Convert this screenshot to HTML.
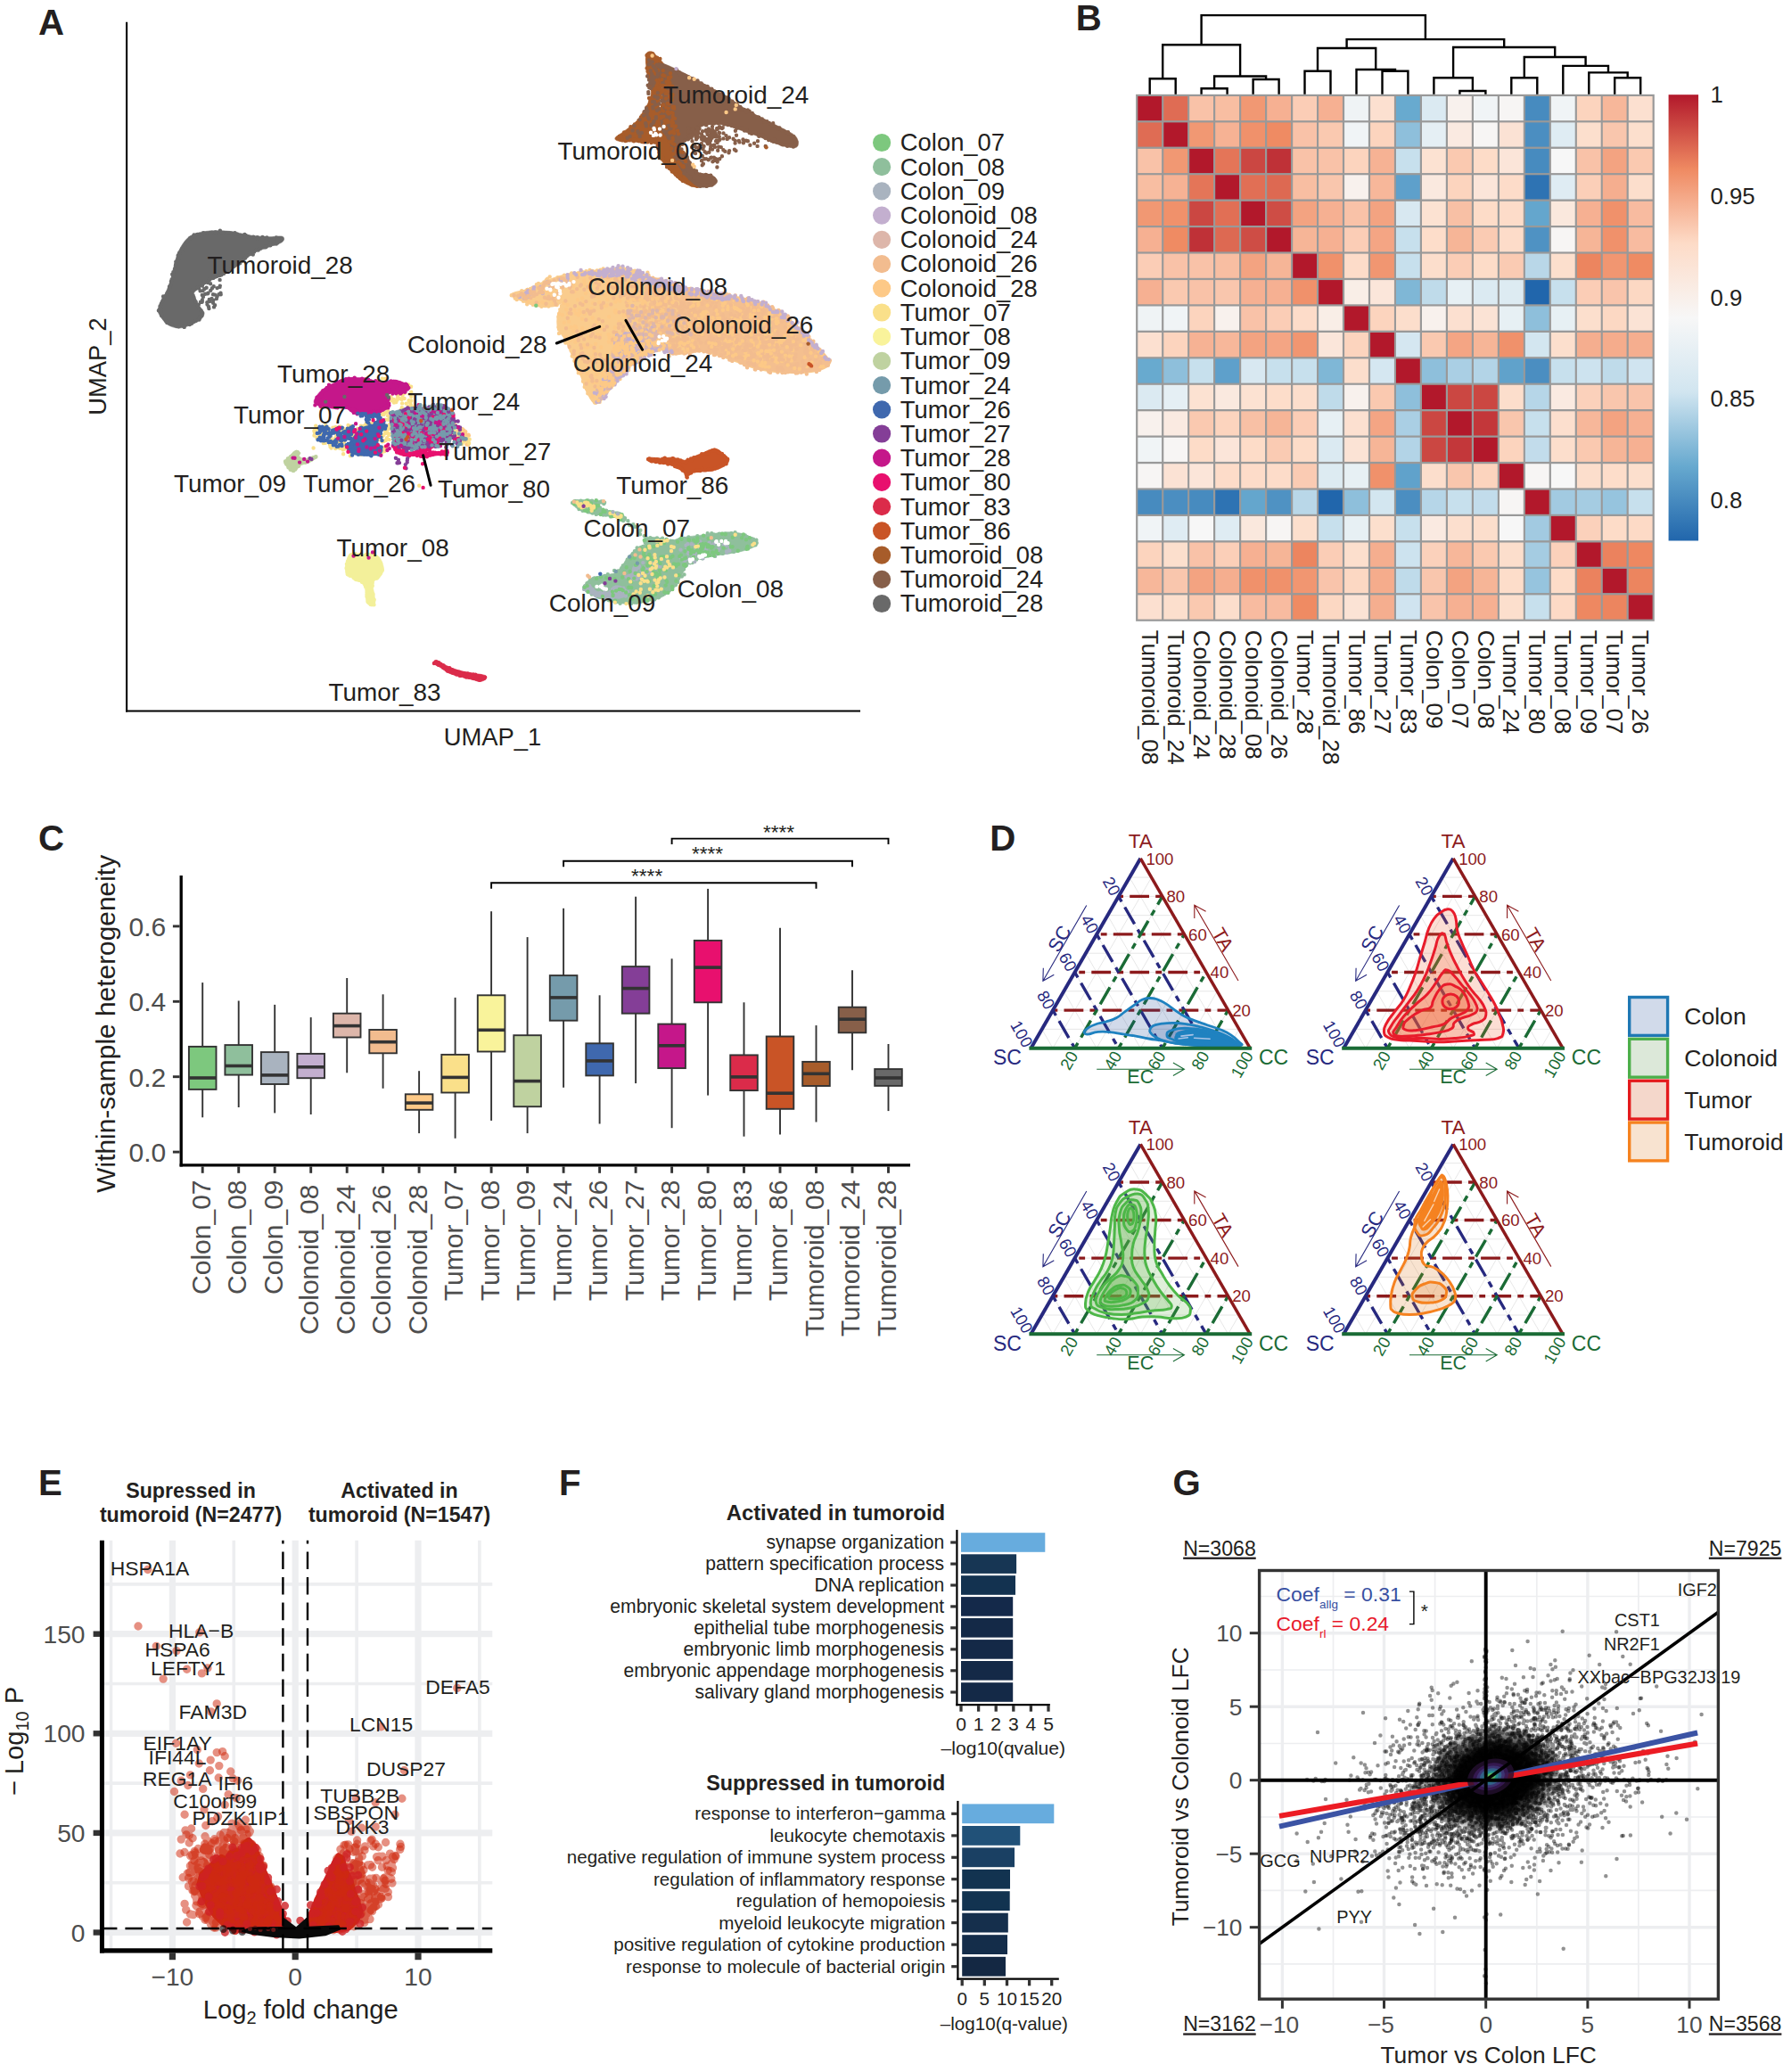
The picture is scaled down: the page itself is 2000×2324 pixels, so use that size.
<!DOCTYPE html>
<html lang="en"><head><meta charset="utf-8"><title>Figure</title>
<style>html,body{margin:0;padding:0;background:#fff}svg{display:block}text{font-family:"Liberation Sans",sans-serif}</style>
</head><body>
<svg width="2000" height="2324" viewBox="0 0 2000 2324">
<rect width="2000" height="2324" fill="#fff"/>
<g id="panelA">
<line x1="142.1" y1="24.7" x2="142.1" y2="798.5" stroke="#000" stroke-width="2.1"/>
<line x1="141" y1="797.5" x2="965" y2="797.5" stroke="#000" stroke-width="2.1"/>
<text x="552.5" y="836" font-size="27.4" text-anchor="middle" fill="#231F20">UMAP_1</text>
<text transform="translate(118.7 411) rotate(-90)" font-size="27.4" text-anchor="middle" fill="#231F20">UMAP_2</text>
<path d="M177.8 346.1C178.2 343.9 179 340.5 180.3 337.7C181.5 334.9 183.8 332.4 185.3 329.3C186.9 326.2 188.3 322.5 189.5 319.2C190.8 315.8 191.9 312.7 192.9 309.1C193.9 305.4 194.4 301.2 195.4 297.3C196.4 293.4 197.4 289.2 198.8 285.5C200.2 281.9 201.7 278.7 203.8 275.4C205.9 272.2 208.3 268.6 211.4 266.2C214.5 263.8 218 262.3 222.4 261.1C226.7 259.9 231.6 259.2 237.5 258.9C243.4 258.7 252.1 258.9 257.7 259.4C263.3 259.9 266.7 261.1 271.1 262C275.6 262.8 279.6 263.9 284.6 264.5C289.7 265.1 296.2 265.6 301.4 265.7C306.6 265.8 312.9 264.6 315.7 265C318.5 265.4 318.3 266.7 318.3 267.9C318.3 269 317.7 270.8 315.7 272.1C313.8 273.3 310 274.2 306.5 275.4C303 276.7 298.3 278.2 294.7 279.6C291.1 281 287.4 282.3 284.6 283.8C281.8 285.4 280.7 286.6 277.9 288.9C275.1 291.1 271.1 294.8 267.8 297.3C264.4 299.8 261 301.9 257.7 304C254.3 306.1 251 308.2 247.6 309.9C244.2 311.6 240.6 312.6 237.5 314.1C234.4 315.7 231.6 317.5 229.1 319.2C226.6 320.9 224.3 322.5 222.4 324.2C220.4 325.9 217.6 327 217.3 329.3C217 331.5 219.3 334.9 220.7 337.7C222.1 340.5 224.3 343.9 225.7 346.1C227.1 348.3 229.1 349.2 229.1 351.1C229.1 353.1 228.2 355.6 225.7 357.9C223.2 360.1 218.1 362.9 213.9 364.6C209.7 366.3 204.7 368 200.5 368C196.3 368 191.8 366.3 188.7 364.6C185.6 362.9 183.8 360.1 182 357.9C180.1 355.6 178.5 353.1 177.8 351.1C177.1 349.2 177.3 348.3 177.8 346.1Z" fill="#696969" stroke="#696969" stroke-width="0.6" stroke-linejoin="round"/><path d="M180.4 346.7h0M179.5 343.4h0M180.9 340.8h0M182.6 337.8h0M183.7 335.2h0M183.1 332.4h0M184.4 332.4h0M187.4 329.3h0M188.6 327.5h0M190.3 323.8h0M190 321.5h0M191.7 319.8h0M191.9 315.8h0M192.6 313.4h0M194.1 309.5h0M193.2 307.8h0M194.9 307.6h0M194.4 305.1h0M195.9 302h0M197 297.3h0M197.1 296.9h0M197.3 293.6h0M199.9 290.8h0M200.7 289.6h0M201.8 286.8h0M199.7 286.4h0M201.1 283.8h0M204.3 281.5h0M204.3 279.2h0M207.6 274.9h0M209.2 271.9h0M210.4 270.7h0M213.1 267.3h0M212.7 268.1h0M213.7 266.6h0M218 265.5h0M217.6 263.5h0M221.2 262.9h0M226 263.2h0M228.1 261.1h0M228.3 262.2h0M232.1 261.6h0M233.6 261.9h0M235.8 261h0M237.6 260.8h0M241.8 260.4h0M242.7 261.4h0M246.9 258.7h0M248.4 261h0M250 261.5h0M254.8 261.2h0M257.1 261.1h0M259.8 261.6h0M263.5 261.1h0M263.1 262.6h0M266.1 262.7h0M269.3 264.8h0M274.4 262.9h0M275.7 264h0M277.5 265.1h0M278.9 265.8h0M284.3 265.8h0M288.8 266.2h0M287.9 267h0M290.1 267.7h0M294.4 266h0M295.8 266.6h0M299.3 266.4h0M300.2 267.4h0M303 268.6h0M306.5 267.6h0M309.9 266.5h0M311.5 268.4h0M316.2 268h0M316.5 268.3h0M316.2 268.2h0M313.7 270.3h0M311.4 271.9h0M311.1 272.6h0M309.9 273.5h0M307.2 273.4h0M303.2 275.3h0M302.9 274.7h0M298 276.3h0M298.5 276.9h0M297.6 277.4h0M292.3 278.5h0M289.7 280.6h0M287.7 280.4h0M285.1 282.5h0M280.8 283.7h0M280.4 285h0M276.7 286.8h0M274.4 289.1h0M275 289.6h0M271.6 292.2h0M271.1 293h0M269.1 295.2h0M266.7 296.3h0M263.8 296.4h0M262.2 297.6h0M262.1 298.6h0M259.1 301.3h0M257.2 303.2h0M253 304.7h0M251.2 306.7h0M248.5 308.2h0M246.6 308.9h0M242.5 310h0M239.9 309.3h0M239.1 311.9h0M234.9 314.1h0M234.9 313.6h0M233 317h0M229 316.8h0M227.6 317.1h0M226.8 319.2h0M223.2 323.4h0M221.6 322.5h0M216 325.8h0M216.7 331.4h0M217.5 333.7h0M218.2 336.3h0M219.6 338.5h0M221.4 342.4h0M221.8 343h0M223.4 346.2h0M225.5 348.1h0M226.5 352h0M225.8 352.9h0M226.4 354.1h0M224.1 355.6h0M223.8 357.2h0M223.5 358.5h0M219.7 359.7h0M216.7 360.7h0M214.8 362.9h0M212.8 364h0M212.3 363.3h0M206.7 366.9h0M204.6 365.2h0M200.7 366.1h0M200.4 366.2h0M198.7 365.9h0M196.8 365.1h0M192.4 363.6h0M189 362h0M187.4 361.9h0M186.2 360h0M185.5 357.9h0M181.2 354h0M181.5 353.7h0M180.7 350h0M177.9 348.2h0M179.3 346.3h0" fill="none" stroke="#696969" stroke-width="4.4" stroke-linecap="round"/>
<path d="M229.6 316.9h0M243.6 332.6h0M237.5 334.9h0M239 330.2h0M241 330.6h0M234.7 336h0M226.8 338.4h0M225 338.8h0M247.7 330.3h0M230.2 329.8h0M239.1 339.7h0M237.2 335.5h0M226.5 338.9h0M227.9 332.9h0M226.9 336.5h0M239.4 336.6h0M227.5 331.1h0M232.7 329.4h0M246.6 313.9h0M232.5 341.6h0M247.5 328.8h0M226.9 320.5h0M246.8 320.6h0M236.1 318.2h0M234.4 346.1h0M222.9 341.6h0M234 343.9h0M239.7 321.3h0M245.4 330.1h0M233.5 328.8h0M227.9 318.1h0M229.1 324.2h0M241.1 342.2h0M240 344.4h0M227.5 326.1h0M236.3 325.7h0M231.6 322.8h0M243.6 323.1h0M246.5 321.9h0M226.8 330.9h0M224.6 326.2h0M242.9 335h0M235.2 338.1h0M232.3 339.2h0M238 323.2h0" fill="none" stroke="#696969" stroke-width="4.4" stroke-linecap="round"/>
<path d="M283.8 285.5h0" fill="none" stroke="#696969" stroke-width="4.4" stroke-linecap="round"/>
<path d="M724.9 60.3C726 57.5 729.6 57.5 731.6 58C733.7 58.6 734.8 60.8 737.2 63.7C739.7 66.5 745.5 70.8 746.2 74.9C747 79 742.5 83.5 741.7 88.3C741 93.2 742.1 98.8 741.7 104C741.3 109.3 738 115.6 739.5 119.7C741 123.8 746.6 125.7 750.7 128.7C754.8 131.7 760.4 134.3 764.2 137.7C767.9 141 772.8 145.9 773.1 148.9C773.5 151.9 769 153.4 766.4 155.6C763.8 157.9 758.9 159.4 757.4 162.4C755.9 165.4 755.9 169.5 757.4 173.6C758.9 177.7 763.4 183.1 766.4 187C769.4 191 772 194 775.4 197.1C778.7 200.3 784.9 203.9 786.6 206.1C788.3 208.3 787.3 209.7 785.5 210.1C783.6 210.6 779.3 210.2 775.4 208.8C771.4 207.4 766.4 205.1 761.9 201.6C757.4 198.2 752.2 192.5 748.4 188.2C744.7 183.9 741.7 180.3 739.5 175.8C737.2 171.3 738.7 164 735 161.2C731.2 158.5 723.8 159.9 717 159.4C710.3 159 699.1 159.1 694.6 158.3C690.1 157.5 689.4 156.3 690.1 154.5C690.9 152.8 695 151 699.1 147.8C703.2 144.6 710.5 140.1 714.8 135.4C719.1 130.8 722.3 125 724.9 119.7C727.5 114.5 730.1 109.3 730.5 104C730.9 98.8 728.1 93.2 727.1 88.3C726.2 83.5 725.3 79.5 724.9 74.9C724.5 70.2 723.8 63.1 724.9 60.3Z" fill="#A75C2A" stroke="#A75C2A" stroke-width="0.6" stroke-linejoin="round"/><path d="M726 61.6h0M730 60.8h0M732.4 60.5h0M733.2 63.4h0M735.1 64.2h0M737.1 64.6h0M740.4 65.9h0M740.7 70.6h0M741.2 72h0M743.5 75.3h0M743.8 75.9h0M742.5 78h0M743.1 80.9h0M741.7 85.7h0M740.8 86.3h0M740 89.9h0M741.6 91.6h0M740.2 95.9h0M740.8 97.5h0M740.9 100.3h0M740.8 102.4h0M739.7 106.7h0M738.3 106.6h0M738.7 110.3h0M737.6 113.9h0M738.6 113.8h0M737.4 118.7h0M738.7 122.5h0M742.5 124.3h0M743.4 125.2h0M745.5 126.8h0M746 129.3h0M751.9 130.5h0M752.6 134.1h0M755.8 134.3h0M757.2 134.6h0M758.3 134.8h0M762.2 138.1h0M763.3 139.2h0M766 141.8h0M767.5 143.6h0M769.8 147.9h0M770.8 151.4h0M771 149.4h0M767.7 149.1h0M766.7 152.9h0M763.4 156.1h0M761.6 157.2h0M758.6 156.2h0M756.3 161.4h0M755.7 164.8h0M755.1 167.6h0M755.8 169h0M754.5 173.2h0M756.7 174.7h0M758.7 176.2h0M760.5 180.3h0M761.5 181.8h0M762.7 184.2h0M764.6 185.3h0M765.5 188.3h0M768.5 193.4h0M770 194.6h0M771.7 195.7h0M773.3 198.3h0M774.4 196.6h0M778.1 201.3h0M777.2 202.8h0M782.7 206h0M782.3 206.5h0M785.2 205.1h0M783.8 207h0M782 208.7h0M779.2 207.8h0M776.2 207.5h0M775.4 207h0M773.6 203.3h0M771.4 204.8h0M768.1 202.2h0M765.7 202.8h0M763.4 198.9h0M763 200.3h0M759.9 197.6h0M758 195.8h0M757.9 195.6h0M753.9 192.4h0M751 188.9h0M748.5 185.2h0M748.1 187.2h0M747.3 183.3h0M746.8 182.8h0M742.2 178h0M743.9 177.5h0M742.3 174.3h0M740.1 174.4h0M739.9 172.7h0M739.4 171.1h0M738.4 166.6h0M737.6 164.3h0M737.6 163.8h0M734.1 159.6h0M730.4 158.8h0M730.5 160.1h0M726.3 159.4h0M722 159.3h0M720 159h0M716.9 158.2h0M715.3 157.7h0M711 158.2h0M711.8 156.8h0M710.3 157.5h0M705.9 157h0M702.4 157.8h0M701.6 158h0M698.1 157.4h0M695.7 156.5h0M697.6 156h0M694.2 154.8h0M693 154.6h0M696 154h0M694.8 153h0M700 150h0M700.1 148.4h0M702.4 148.7h0M706.9 144.9h0M709.1 143.7h0M707.4 142.1h0M710.9 141.3h0M712 139.5h0M714.6 137.7h0M716.5 135h0M718.9 131.5h0M719 131.5h0M720.4 129.5h0M722.4 126.4h0M725.5 124.4h0M725.7 121.1h0M725.5 120.4h0M729.3 115.1h0M729.3 112.7h0M728.1 110h0M731.8 108.7h0M732.8 105.1h0M732.7 103.2h0M731.6 99.9h0M731.3 96.9h0M729.6 95.1h0M730.1 93.6h0M728.1 86.5h0M728.8 87.2h0M727.6 83.3h0M726.5 79.9h0M729.2 79.2h0M725.6 76.5h0M727.7 74.2h0M726.7 70.7h0M726.6 69.3h0M726.6 66.8h0M725.5 62.1h0M726.8 62h0" fill="none" stroke="#A75C2A" stroke-width="4.4" stroke-linecap="round"/>
<path d="M737.2 71.5C738.4 69.6 742.5 71.1 746.2 72.2C749.9 73.3 754.8 75.9 759.7 78.2C764.5 80.6 769.4 82.9 775.4 86.1C781.3 89.3 788.8 93.6 795.6 97.3C802.3 101 809 104.4 815.7 108.5C822.5 112.6 828.8 117.7 835.9 122C843 126.3 851.3 130.6 858.4 134.3C865.5 138.1 873 141.4 878.6 144.4C884.2 147.4 889.2 149.5 892 152.3C894.8 155.1 895.6 159 895.4 161.2C895.2 163.5 894.5 165.5 890.9 165.7C887.4 165.9 880.6 164.4 874.1 162.4C867.5 160.3 859.1 156.2 851.6 153.4C844.2 150.6 835.9 147.8 829.2 145.5C822.5 143.3 816.5 140.9 811.3 139.9C806 138.9 801.9 139.1 797.8 139.5C793.7 139.9 789.4 140.6 786.6 142.2C783.8 143.7 782.8 146.7 781 148.9C779.1 151.1 777.4 153.9 775.4 155.6C773.3 157.3 770.7 157.5 768.6 159C766.6 160.5 762.8 162.2 763 164.6C763.2 167 767.5 170.2 769.8 173.6C772 176.9 774.1 181.4 776.5 184.8C778.9 188.2 780.8 191.9 784.3 193.8C787.9 195.6 794.4 194.5 797.8 196C801.2 197.5 804.2 200.7 804.5 202.7C804.9 204.8 803.2 207.2 800 208.4C796.9 209.5 789.6 210.7 785.5 209.9C781.3 209.2 778.7 206.7 775.4 203.9C772 201 768.3 196.9 765.3 192.6C762.3 188.3 759.5 182.7 757.4 178.1C755.4 173.4 754.2 168.3 752.9 164.6C751.6 160.9 751.3 158.6 749.6 155.6C747.9 152.6 744.3 151.1 742.8 146.7C741.3 142.2 740.7 133.9 740.6 128.7C740.5 123.5 741.8 120.5 742.2 115.2C742.5 110 743.3 102.5 742.8 97.3C742.4 92.1 740.4 88.1 739.5 83.8C738.5 79.5 736.1 73.4 737.2 71.5Z" fill="#875F49" stroke="#875F49" stroke-width="0.6" stroke-linejoin="round"/><path d="M736.9 72.6h0M742 73.3h0M743.7 73.6h0M745.3 74h0M748.7 76.2h0M751.6 77.5h0M754.6 78.7h0M755.2 78.3h0M759.2 78.4h0M759.8 80.3h0M761.9 81.3h0M763 83.4h0M767.3 85.8h0M767.1 84.1h0M772 86.2h0M770.5 85.9h0M775.2 88.8h0M777 88.3h0M779.2 90.9h0M782.5 90.4h0M786.7 93.5h0M786.1 95h0M789.1 96h0M791.5 96.8h0M793.6 96.9h0M796.2 100.7h0M798.2 99.6h0M798.4 99.9h0M802.1 102.7h0M804.4 105.5h0M808.1 105.5h0M809.9 107.9h0M811.6 107.7h0M815.1 109.5h0M816 109.5h0M817.5 110.8h0M819.7 114.2h0M821.4 113.8h0M824.5 116.6h0M825.7 117.3h0M826.6 117h0M830.3 120h0M831.1 122.7h0M834.9 123h0M838.8 123.5h0M837.7 125.2h0M840.6 124.7h0M843.8 126.9h0M845 129h0M848.2 131.3h0M850.2 131.5h0M851.3 131.7h0M854.8 133.5h0M857.1 135.5h0M857.2 136.9h0M860.3 136.3h0M862.8 138h0M866.2 140.2h0M867.2 138.2h0M867.9 141.5h0M873.3 144.4h0M874.4 143.5h0M877.6 146.4h0M878.9 146.8h0M882.7 148.7h0M884 148.3h0M884.6 150.8h0M890.2 153.2h0M889.2 153.1h0M890.6 155.6h0M892.6 159.4h0M893.3 159h0M892.3 162.1h0M892.3 161.6h0M889.9 164.5h0M886.6 163h0M885.8 162.5h0M883.1 163.8h0M879.9 162.1h0M878.2 162.4h0M876.2 161.6h0M872.5 159.5h0M871 159.5h0M868.4 156.8h0M867.4 158.8h0M865.7 157.9h0M862.2 157.1h0M858.5 154.8h0M858.7 155h0M855.7 151.4h0M852.3 151.7h0M851.3 152.7h0M847.7 148.9h0M844.6 148.2h0M843.1 149.9h0M840.7 148.9h0M837.5 146.3h0M835.1 146.5h0M832.9 143.6h0M831 143.4h0M826.4 143.7h0M826.6 142.9h0M823.5 141.3h0M820.8 141h0M816.4 140h0M813.9 139.1h0M812.2 139.6h0M810.3 137.8h0M805.8 138.3h0M805.1 138.1h0M801 138.5h0M799.5 138.4h0M796.3 137.9h0M794.3 137.9h0M792.2 140.4h0M786.1 139.7h0M784.6 144.5h0M781.8 142.9h0M779.3 147.5h0M779.8 150.2h0M777.5 150.3h0M775.2 154h0M775.5 154.3h0M771.8 156.3h0M768 157.4h0M764.9 160.5h0M765.4 161.8h0M762.1 162.8h0M763 167.4h0M764.5 167.5h0M765.8 170.9h0M767.2 172.1h0M769.7 174h0M770.8 176.3h0M771.2 179.1h0M773.7 182.5h0M773.3 184.7h0M776.9 186.2h0M777.7 189.2h0M781 191.8h0M780.4 193h0M785.6 195.6h0M788 196.5h0M791.7 196h0M793.6 196.9h0M796.4 197.4h0M797.2 196.8h0M800.6 200.1h0M802.3 202.7h0M801.1 203.2h0M798.4 207.6h0M798.7 206.2h0M795.4 207.5h0M792.6 208.9h0M790.9 207.5h0M790.1 207.6h0M785.4 208.8h0M784.6 207.4h0M783.1 206.1h0M778.8 204h0M778.6 203.5h0M774.1 200.2h0M774.6 198.8h0M771.3 196.9h0M770.3 195.5h0M767.4 194.4h0M768.1 193.4h0M766.8 189.3h0M765.6 187.2h0M763.4 186.3h0M761.9 184.3h0M761 180.4h0M759.9 178.4h0M756.6 174.5h0M758.6 173.7h0M758.9 169.6h0M755.6 168.4h0M755 165.5h0M755.8 164h0M753.6 160.6h0M751.4 155.5h0M749.8 154.4h0M750.3 152.4h0M747.2 147.5h0M744.8 146.7h0M745 145h0M743.9 141.3h0M743 140h0M743 139.8h0M743.8 135h0M742.2 134.3h0M742.3 129.5h0M741.7 127.7h0M742.1 124.9h0M744.5 120.9h0M743.3 119.6h0M743.4 114h0M742.1 113h0M743.5 110.2h0M744.7 108.6h0M742.8 104.8h0M744.3 103h0M743.4 102.3h0M744.7 97.7h0M744.6 93.1h0M743.2 94.3h0M741.9 87.6h0M743.2 88.4h0M741.7 85.3h0M740.8 82.4h0M739.8 79.5h0M740.1 76.5h0M740.9 75.8h0M739.1 72.9h0" fill="none" stroke="#875F49" stroke-width="4.4" stroke-linecap="round"/>
<path d="M767.4 178.1h0M754.8 130.5h0M743.7 95.9h0M756.2 121.8h0M749.8 87.2h0M758.5 166.7h0M748.8 135.5h0M737.9 78.8h0M753.6 141h0M763 170.4h0M738.5 98.3h0M743.3 84.6h0M769.1 181h0M750.6 88.9h0M756.2 149.6h0M750.5 127.2h0M738.5 104.7h0M761.1 150.3h0M747.3 143.9h0M748.1 104.9h0M741.4 131h0M742.9 102.7h0M743.8 79.1h0M752.3 86.2h0M753.3 148.2h0M742 100.7h0M751.1 93h0M748.5 94.4h0M753.8 112h0M744.3 130.6h0M746.9 104.9h0M744 117.4h0M748.7 91.2h0M744.6 141.5h0M741.9 95.9h0M743.8 84.1h0M753.9 106.8h0M761 169.5h0M751 159.1h0M746.2 96.6h0M742.7 118.2h0M754.7 126.9h0M761.3 170.1h0M766.6 186.2h0M753.9 134.8h0M755.1 137.6h0M744.8 96.1h0M740.7 104.1h0M757.4 142.1h0M754.8 156.8h0M741.4 132.4h0M754.1 107.5h0M741.3 122.2h0M756.5 162h0M754.9 121h0M748.6 102.9h0M748.5 125.7h0M751.4 148.7h0M749.5 136.8h0M739.6 125.4h0M763.4 184.2h0M758.5 169.3h0M767 178.1h0M746.4 138.1h0M745.7 135.6h0M746.9 110.5h0M754.5 106.2h0M752.9 137.1h0M742.2 89.3h0M741.7 109.1h0M750.9 108.5h0M745.4 85.1h0M755.6 172.8h0M757.8 141.4h0M755.7 146.4h0M753 111.1h0M745.4 100.7h0M754.5 119.6h0M745.3 139.8h0M753.8 108.1h0M752 82.1h0M750.3 126.2h0M748.6 116h0M760 146.8h0M765.8 170.7h0M754.7 161.1h0M762.2 163.5h0M753.2 166.4h0M761.1 181.6h0M756.9 132.9h0M750 127.6h0M752.6 159.2h0M747.1 120.4h0M755.9 119.7h0M752.2 96.4h0M747.5 91.8h0M756.6 142.7h0M765.4 186.7h0M744.1 124.6h0M754.6 154.8h0M750.3 116.6h0M749.8 121.6h0M756.1 141.8h0M766.8 187.4h0M753.6 126.2h0M748.8 136.7h0M760.4 170.6h0M751.4 93.1h0M747 134.6h0M754.2 96.8h0" fill="none" stroke="#A75C2A" stroke-width="4.4" stroke-linecap="round"/>
<path d="M739.2 122.2h0M730.9 91.9h0M711.4 141.1h0M722.8 125.1h0M739.4 116.5h0M732.3 120h0M731.7 69.4h0M735.6 117.2h0M735.1 117.2h0M737.8 104.1h0M733.6 92.6h0M737.9 109.2h0M737.4 86h0M734.4 108.2h0M731.1 86h0M706.6 153h0M732.4 96h0M727.6 72.2h0M732.9 137.7h0M728.3 98.3h0M737.8 82.8h0M737.5 110.1h0M709.6 146.4h0M730.3 99h0M733.5 93.2h0M728 89.6h0M715.4 147.3h0M733.9 75.8h0M726.5 124.7h0M725.7 128h0M735.9 131.2h0M727.9 67.4h0M722.1 129.6h0M726.7 95.8h0M730.4 90h0M731.1 83h0M736 132.6h0M732.6 89.5h0M716.2 149.2h0M727 131.6h0M732.6 121.4h0M727.3 103.1h0M719.8 149h0M731.6 87.7h0M726.2 85.5h0M717.1 149.7h0M734.8 76.7h0M732 114.1h0M729.8 79.2h0M717.7 134.1h0M732.7 74.2h0M727.4 104.9h0M729.4 71.4h0M725.1 121.4h0M736.9 123.7h0M730.4 140.9h0M724.9 141.4h0M736.5 79.1h0M730.8 140h0M729.1 93.7h0M732.7 85.7h0M724.5 139.1h0M737.2 109.1h0M733.6 136h0M717.7 153h0M724.1 138.3h0M733.9 87h0M734 114.3h0M727.9 133.3h0M703.7 154.8h0" fill="none" stroke="#875F49" stroke-width="4.4" stroke-linecap="round"/>
<path d="M846.1 160.8h0M787 180.2h0M780.3 153h0M826 151.8h0M800.9 176.8h0M838.9 158.3h0M807.2 178.3h0M779.1 171.5h0M783.9 168.8h0M797.1 150.8h0M824.9 146.8h0M822.6 155.7h0M833.9 160.3h0M787.7 185.2h0M776.5 158.3h0M788.2 166.4h0M808.8 165.1h0M788.9 183.7h0M803.4 152h0M806.1 164.7h0M824.6 160.6h0M824.7 157.9h0M777.1 164.2h0M787.8 174.9h0M798.6 154.8h0M818 154.3h0M823.9 167.7h0M778.3 169.3h0M829.5 159.4h0M799.4 181.2h0M833.5 156.4h0M805.2 168.8h0M810 144.1h0M804.1 157.4h0M806.7 153.3h0M795.4 158.7h0M849.6 163.9h0M813.3 169.8h0M801.1 149.6h0M781 156.3h0M801.7 177.7h0M804.4 187.5h0M790.6 170.3h0M841.4 162.7h0M798.9 154h0M798.2 176.6h0M794 161.2h0M792.4 171.5h0M792.1 178.1h0M850 158.3h0M787 150.5h0M793.5 157.5h0M809.9 175.3h0M804.2 143.9h0M810.7 143.3h0M828.8 157.9h0M817.5 171.2h0M797.3 164.4h0M780.1 172h0M837.1 157.7h0M783.3 148.9h0M787.5 179.8h0M811.4 168.2h0M825.5 169.1h0M803.6 178.5h0M797.3 177h0M801.7 180h0M858.7 163.9h0M799.1 167.5h0M776.1 165.1h0M794.8 179.2h0M818.1 169.1h0M806.5 148.6h0M790.5 178.3h0M804.7 181.5h0" fill="none" stroke="#875F49" stroke-width="4.4" stroke-linecap="round"/>
<path d="M793.6 150.8h0M807.1 142.1h0M802.7 153.4h0M798.7 153.7h0M801.8 147.5h0M783.3 148.8h0M792.3 147.7h0M780.9 165.5h0M802.6 150h0M799 145.2h0M784.1 165.2h0M811.5 149.4h0M787.2 156.3h0M804.6 160h0M793.2 159.4h0M814.5 152.1h0M772.1 143.7h0M807.2 143.2h0M779.2 162.9h0M775.3 151.4h0M772.5 147.8h0M782.3 154.4h0M794.9 144.5h0M792 146h0M804.7 144.9h0M807.3 156.8h0M776.4 151.8h0M795.4 170.8h0M788.1 147.2h0M807 149.1h0M779.6 148.8h0M796 153.7h0M798.4 152.1h0M803.1 158.2h0M798 163.2h0M806.3 153.4h0M786.6 154h0M789.9 153.7h0M801 152.6h0M782.8 146.6h0M786.9 161.7h0M798 150.5h0M796.1 159.9h0M802 164.9h0M789.6 163.9h0M790.3 157.6h0M801.1 162.7h0M786.8 161.1h0M797.7 147.4h0M801.1 148.8h0M815.7 155.9h0M806.5 157.5h0M794.4 147.4h0M797 157.6h0M796.9 167.3h0M782.7 145.7h0M811.4 155.4h0M773 152.8h0M777 145.1h0M783.3 143.4h0M788.5 167h0M796.6 155.2h0M775.2 153.2h0M793.1 156h0M778.3 162.8h0M789 157.4h0M782.6 152.4h0M787.7 152.8h0M799 141.9h0M779.7 164.1h0" fill="none" stroke="#875F49" stroke-width="4.4" stroke-linecap="round"/>
<path d="M733.5 143.9h0M732.9 151.9h0M730 148.8h0M744.6 142h0M736.3 151.2h0M740 144.6h0M735.3 150h0M733.9 145.2h0M740.6 151.5h0" fill="none" stroke="#fff" stroke-width="4.4" stroke-linecap="round"/>
<path d="M731.6 62.5h0M778.7 88.8h0M773.1 87.2h0M814.6 126h0M825.8 117.9h0M824.7 122.4h0M754.1 179.9h0M778.7 187h0M777.2 184.8h0" fill="none" stroke="#FDC987" stroke-width="4.4" stroke-linecap="round"/>
<path d="M758.5 77.1h0" fill="none" stroke="#C3AFCF" stroke-width="4.4" stroke-linecap="round"/>
<path d="M859.5 165.3h0" fill="none" stroke="#A75C2A" stroke-width="4.4" stroke-linecap="round"/>
<path d="M574.2 330.2C575.1 328.2 584.9 327.7 591.7 325.2C598.5 322.7 607.2 317.9 615 315C622.8 312.1 630.5 309.4 638.3 307.7C646.1 306 654.8 305.5 661.7 304.8C668.5 304.1 673.3 304 679.2 303.3C685 302.7 690.8 300.8 696.6 301C702.5 301.2 708.3 302.9 714.1 304.8C720 306.6 723.9 309.4 731.6 312.1C739.4 314.8 751.1 318.2 760.8 320.8C770.5 323.5 780.3 326.2 790 328.1C799.7 330.1 809.4 330.8 819.1 332.5C828.9 334.2 840.5 336.1 848.3 338.3C856.1 340.5 860 342.5 865.8 345.6C871.6 348.8 877.5 352.7 883.3 357.3C889.1 361.9 895 367.7 900.8 373.3C906.6 378.9 913.4 385.5 918.3 390.8C923.2 396.2 929 401.8 930 405.4C930.9 409.1 928 410.8 924.1 412.7C920.2 414.6 914.4 416.3 906.6 417.1C898.9 417.8 887.2 417.8 877.5 417.1C867.7 416.3 858 415.1 848.3 412.7C838.6 410.3 828.9 405.7 819.1 402.5C809.4 399.3 797.8 395 790 393.7C782.2 392.5 778.3 394.7 772.5 395.2C766.6 395.7 759.8 397.4 755 396.7C750.1 395.9 747.2 391.1 743.3 390.8C739.4 390.6 735.5 393.7 731.6 395.2C727.8 396.7 723.9 397.4 720 399.6C716.1 401.8 712.2 404.9 708.3 408.3C704.4 411.7 700.5 415.6 696.6 420C692.8 424.4 688.4 430.2 685 434.6C681.6 438.9 679.2 443.3 676.2 446.2C673.3 449.2 670.4 453.3 667.5 452.1C664.6 450.9 661.2 443.8 658.7 438.9C656.3 434.1 655.3 429 652.9 422.9C650.5 416.8 647.1 409.3 644.2 402.5C641.2 395.7 638.3 387.9 635.4 382.1C632.5 376.2 628.1 372.4 626.7 367.5C625.2 362.6 625.7 357.8 626.7 352.9C627.6 348.1 633.5 340 632.5 338.3C631.5 336.6 625.7 342 620.8 342.7C616 343.4 609.2 343.7 603.3 342.7C597.5 341.7 590.7 339 585.8 336.9C581 334.8 573.2 332.1 574.2 330.2Z" fill="#FACC8D" stroke="#FACC8D" stroke-width="3" stroke-linejoin="round"/>
<path d="M731.6 312.7C738.5 309.8 751.1 318.7 760.8 321.4C770.5 324.1 780.3 326.8 790 328.7C799.7 330.6 809.4 331.4 819.1 333.1C828.9 334.8 840.5 336.7 848.3 338.9C856.1 341.1 860 343 865.8 346.2C871.6 349.4 877.5 353.3 883.3 357.9C889.1 362.5 895 368.3 900.8 373.9C906.6 379.5 913.5 386.2 918.3 391.4C923.1 396.7 928.5 402 929.4 405.4C930.3 408.9 927.3 410.3 923.6 412.1C919.8 414 914.3 415.8 906.6 416.5C899 417.2 887.2 417.2 877.5 416.5C867.7 415.8 858 414.5 848.3 412.1C838.6 409.7 828.9 405.1 819.1 401.9C809.4 398.7 797.8 394.4 790 393.2C782.2 391.9 777.8 394.1 772.5 394.6C767.1 395.1 762.3 397.7 757.9 396.1C753.5 394.5 750.6 389.8 746.2 385C741.9 380.2 736 375.3 731.6 367.5C727.3 359.7 720 347.5 720 338.3C720 329.2 724.8 315.5 731.6 312.7Z" fill="#F4BF8F" stroke="#F4BF8F" stroke-width="2" stroke-linejoin="round"/>
<path d="M573.7 331.2h0M581.2 332.3h0M580.5 329.5h0M586.1 328.5h0M585.2 326.3h0M591.4 324.9h0M591.6 324.9h0M595 324h0M597.5 322.6h0M601.8 319.2h0M603.6 320.1h0M604 317.9h0M610 318.2h0M610.3 316.5h0M612.7 314.1h0M614.1 312.8h0M621 314.6h0M616.7 310.4h0M625.5 311.3h0M626.1 311.5h0M630.3 311.3h0M631.3 312.9h0M633 308.8h0M634.8 311.3h0M641.1 306.5h0M643.2 307.9h0M642.8 307.3h0M645.8 308.6h0M650.9 305.4h0M650.7 307.8h0M653.7 305.1h0M657.5 304.2h0M661.6 303h0M664.5 304h0M668.6 304.9h0M672.2 305.1h0M669.8 303.5h0M673.5 302.6h0M676.7 301.5h0M680.7 306h0M683.4 302.4h0M687.4 304h0M688.8 302.9h0M693.5 300.4h0M696.4 302.1h0M697.4 300h0M699.1 301.1h0M706 305.3h0M706.8 302.4h0M712.1 303.8h0M709.8 305.6h0M714.1 304.8h0M717.6 304.7h0M723 309.4h0M726.4 305.7h0M725.3 309.7h0M727.5 308.6h0M728.6 393.9h0M728.6 396.6h0M722.9 396.2h0M721.6 399.5h0M719.8 400.6h0M718.2 402.7h0M713.8 403.1h0M713.4 405.5h0M704.3 408.8h0M707 408.5h0M705.3 412.4h0M702.3 413.3h0M705.2 415.1h0M703.1 416.1h0M697.6 417.4h0M695.7 421h0M695.4 424h0M695.5 425.1h0M689.9 428h0M687.9 430.1h0M685.6 428.9h0M685.2 432.7h0M685.8 434.3h0M682.4 436.7h0M679.2 440.2h0M678.2 441.5h0M677.8 443.6h0M673.4 448.2h0M672.6 450.9h0M669.5 450.3h0M667.2 451.6h0M668.2 451.5h0M666.1 446.3h0M663.6 445.9h0M665.6 444.9h0M662.7 443.6h0M659.3 441.3h0M655.7 433.9h0M657.7 435.8h0M659.3 434h0M656.2 431.5h0M654 427.8h0M655.7 421.3h0M654 421.4h0M648.8 418.2h0M650.2 415.7h0M648.4 414.8h0M650.6 411.8h0M648.7 407.7h0M647.4 407.9h0M644.4 404.8h0M641.7 399.6h0M642.6 396.8h0M642.2 396.1h0M640.6 393.2h0M641.7 390.4h0M639.3 390h0M635.4 384.4h0M634.3 384.6h0M636.6 379.3h0M635.2 376.2h0M633.7 375.9h0M627 374h0M630.8 371.3h0M627.1 369.5h0M626.4 367.1h0M628.8 363h0M626.9 356.1h0M626.7 354.6h0M626.4 355.3h0M629.4 350.1h0M628.3 347.1h0M630 344.1h0M630.3 344.2h0M629.9 343h0M633.4 340h0M627.2 338.2h0M630.3 338.7h0M624.7 342.1h0M623.1 341.8h0M619.1 338.3h0M615.3 343.6h0M612.9 340.2h0M611.3 343.1h0M607.4 343.8h0M602.2 341.1h0M599.8 340.8h0M600.6 341.8h0M597.8 341.7h0M591.6 340.3h0M591.2 341.3h0M591.4 339.1h0M586.7 335.9h0M587 337.8h0M582.9 334.7h0M579.7 336h0M576.4 330.7h0M577.7 334.5h0" fill="none" stroke="#FACC8D" stroke-width="4.4" stroke-linecap="round"/>
<path d="M732.9 313h0M732.4 311.7h0M735.3 313.9h0M739.9 313.5h0M744 315.6h0M742.8 319h0M747.9 317h0M748.8 319.7h0M751 316.6h0M752.4 318.3h0M757.4 317.7h0M761.1 320.8h0M760.6 320.3h0M764.1 323h0M768.3 323.4h0M769.8 326h0M772.9 324.2h0M774.9 323.7h0M777.3 325h0M781.6 327.4h0M782.7 327.2h0M786 327.8h0M789.2 326.3h0M795.9 328.8h0M794.4 326.8h0M797.4 331.7h0M798.3 329.8h0M800.4 329.7h0M807.3 331.5h0M804.3 329.1h0M811.5 331.6h0M813.2 331.5h0M814.5 329.4h0M818 330.7h0M825.1 333.2h0M822.3 333.6h0M824.9 331.4h0M827 334.9h0M830.5 336h0M837.6 335.6h0M833.7 336h0M840.1 334.6h0M838.8 334.8h0M847.1 339h0M848.6 341.3h0M850 338.2h0M855.9 339h0M856.5 338.8h0M854.7 343.2h0M861.1 342.4h0M859.7 343.8h0M866.2 344.2h0M866.9 345.1h0M867.4 347.7h0M873.2 348h0M871.9 352.7h0M874.8 349.3h0M878 354.5h0M881.1 354.2h0M883.8 354.4h0M883 357.3h0M886.1 357.8h0M887.1 362.3h0M887.8 365.3h0M892.1 366.1h0M893.1 365.1h0M896.5 368.4h0M900.9 371.7h0M898.7 375.6h0M902 377.1h0M905.1 375.5h0M907.4 377.7h0M909.6 383.7h0M908.9 381.4h0M912.4 382.8h0M914 388h0M911.8 386.2h0M914.9 392.3h0M919.5 392.2h0M917.5 395.5h0M921.1 393.9h0M921.7 397.5h0M925.1 401.1h0M930.9 404.3h0M927.9 404.2h0M930.4 405.7h0M927.9 410h0M928.8 409.7h0M922 411.8h0M919.1 415h0M915.9 417.1h0M913 414.7h0M908 414.1h0M904.8 419.5h0M904.3 415.9h0M901.1 415.8h0M898.8 417.7h0M898 416.5h0M894.7 418.2h0M892.8 418.5h0M889.1 416.8h0M888.2 416.7h0M883.9 417.3h0M880.9 418h0M877.5 418.1h0M872.3 417.6h0M873.4 415.1h0M871.8 414.5h0M866.8 413.5h0M864 417.9h0M862.3 416.9h0M860.9 414.2h0M855.4 413.4h0M853.7 414.6h0M851 412.7h0M846.8 414.2h0M847.3 414.6h0M841.6 409.2h0M838.1 412.3h0M837.6 410.5h0M835 409h0M831 406.9h0M831.3 406h0M830.3 406.5h0M827.1 403h0M821.3 404.9h0M822.6 401h0M818.2 403.6h0M811.3 401.1h0M811.3 397.4h0M810 399h0M806.1 396.8h0M807 399.1h0M800.9 398.1h0M801.9 398h0M795.8 394h0M796 396h0M793.9 394.3h0M789.5 394.3h0M783.2 393.2h0M784.4 393.6h0M779.6 393.5h0M776.4 394.4h0M773.8 397.9h0M769.8 395.3h0M769 395.9h0M767.4 396.6h0M760.3 395.3h0M758.4 395.7h0M758.1 396.6h0M750.6 399.4h0M751.7 395.5h0M748.3 391.6h0M746.4 393.4h0M744.5 392.5h0M739.6 391.5h0M739.5 391.2h0M734.5 392.4h0M731.7 391.5h0" fill="none" stroke="#F4BF8F" stroke-width="4.4" stroke-linecap="round"/>
<path d="M714 369.9h0M745.3 370h0M715.7 333.8h0M730.4 369.4h0M744 339.4h0M707.2 324.8h0M755.2 333.4h0M759.9 341.4h0M729.2 360.4h0M710.6 341.1h0M760.5 343.7h0M730.2 377.3h0M718.8 337.3h0M718.5 350.6h0M729.1 368.6h0M736.9 384.6h0M706.2 370.2h0M704.6 354.4h0M710.9 355.9h0M754.4 330.3h0M711.1 357.3h0M715.2 339.9h0M734.6 332h0M707.4 349h0M736.7 389.3h0M742.9 328.8h0M718.7 375.8h0M743.5 384.7h0M772.7 383.8h0M740.7 340.5h0M718 329.6h0M721.8 388.4h0M736.1 374.9h0M707.9 355.5h0M725.7 338.1h0M750.8 349h0M737.6 336.3h0M736.8 375.6h0M741.6 340.1h0M738.9 366.1h0M750 333.9h0M761.1 389.9h0M756.5 383.8h0M729.3 386.9h0M715.7 339.6h0M746.1 386.9h0M708.5 338.9h0M705.1 354.5h0M712.7 337.2h0M757.1 364.6h0M737.3 359.6h0M718.3 382.1h0M735.8 339.6h0M732.2 347.8h0M729.7 335.1h0M746.8 341.8h0M735.6 363.1h0M754.4 333.4h0M720 332.2h0M712.5 360.3h0M744.9 385.8h0M706.6 340.1h0M714.7 364.7h0M735.5 352.4h0M767.3 370.1h0M765.2 390.7h0M732.2 327.4h0M703.8 344h0M765.9 353.2h0M741.1 383.2h0M761.3 369.5h0M739.9 331.9h0M720.3 369.8h0M745.2 379.8h0M768 391.1h0M716.5 329.1h0M767.9 363.7h0M715.7 372.2h0M721.1 340.3h0M729.2 360.4h0M751.9 328.9h0M756.5 367.4h0M736.9 370.8h0M737.1 371.2h0M754.2 369.1h0M759.8 340h0M733.9 390.8h0M717.6 352.4h0M772.6 386.7h0M719.4 375.2h0M728.7 370.2h0M758.4 332.7h0M718.7 338.8h0M721.9 326.2h0M712.4 352.2h0M733.2 329.2h0M744.9 389.7h0M744.5 348.6h0M753.8 354.4h0M715.3 357.5h0M714.2 349.6h0M763.4 368.7h0M748.8 373.1h0M758.3 344.8h0M721.1 381.3h0M746.3 383.2h0M766.3 365h0M741.5 374.5h0M722.3 328.7h0M702.8 335.9h0M719.3 342.3h0M703.9 331.7h0M713.3 347.2h0M740.6 346.2h0M732.9 357.3h0M721.3 327.6h0M708.6 335.1h0M709.1 367.4h0M753.3 342.2h0M760.2 374.8h0M727.4 358.2h0M713.7 372.2h0M730.6 373.9h0M719.2 379.5h0M761 330.3h0M745.2 337.1h0M754.1 380h0M760.2 339.9h0M709.3 370.2h0M743.7 333.4h0M716.5 364.5h0M710.3 368.1h0M720 341.8h0M733.4 361.1h0M755.3 339.2h0M723.7 368.5h0M752.9 366.8h0M725.2 370.1h0M721.5 334.8h0M719 377.7h0M762.8 373.9h0M772.4 379.3h0M725.1 345.8h0M746.9 330h0M706.1 359.7h0M766.4 356.1h0M716.9 332.1h0M739.4 360.2h0M728.9 373.9h0M741.1 378h0M710.2 328.7h0M730.7 357.6h0M720.9 370.5h0M718.7 346h0M737.3 373.6h0M758.6 349.8h0M735.1 388.7h0M710.1 355.6h0M748.9 343.2h0M736.4 367.1h0M724.4 328.5h0M757.2 377.7h0M734.4 329.7h0M731.2 330.3h0M723.5 377.5h0M712.3 331.2h0M707.6 335.2h0M741.3 382.1h0M714.8 335.9h0M758.3 353.6h0M727.1 332.4h0M711 341.9h0M756.5 386.2h0M723.5 356.3h0M754.7 375.1h0M711.9 337.3h0M761.8 347.5h0M720.6 341.6h0M736.7 393.1h0M725.9 335.8h0M756.8 347.7h0M716.2 353h0M762.4 384.2h0M758.1 366.2h0M768.1 390.4h0M726.3 383.1h0M762.2 342.4h0M729.2 350h0M728.2 350.2h0M710.5 339.6h0M748.8 385.9h0M757.6 340.9h0M769.5 380h0M757.5 380.7h0M720.9 369.7h0M730.2 382.5h0M712.2 361.5h0M727 381.2h0M727.7 382.8h0M764.3 385.3h0M756.7 371.1h0M765.9 362.1h0M735.7 347.5h0M759.6 378.5h0M727.3 341.2h0M709.8 346.6h0M719 328.7h0M717 356.1h0M731.8 379.9h0M748.6 386.4h0M736.8 386.7h0M756 345.6h0M766.2 363.9h0M710.2 364.9h0M762.9 360h0M737.8 352.9h0M766.7 370.3h0M717.6 349.1h0M729 390.8h0M753.2 332.5h0M745.6 354h0M754.8 353.8h0M709.2 360.4h0M762.3 379h0M728.5 339.3h0M756.8 379.9h0M730.2 373.4h0M724.5 346.8h0M755.9 336.8h0M742.4 358.8h0M751.2 333.8h0M743.4 379.4h0M742.7 376.9h0M704.2 358.9h0M768 386.8h0M713 367.9h0M761.1 353.4h0M746.4 341.9h0M722.6 353.2h0M739.9 356.5h0M727.3 373.9h0M757 340.3h0M721.1 359.9h0M715.3 365.9h0M745.2 374.2h0M757.1 373.6h0M754.3 342.8h0M763.6 388.5h0M734.8 329.8h0M751.9 333.7h0M736 368.5h0M758.4 340.9h0M717 335h0M732.4 367h0M724.6 335.1h0M718.4 329.7h0M716.6 345.9h0M739.3 336.6h0M737.5 354.5h0M716.9 365.2h0" fill="none" stroke="#FACC8D" stroke-width="4.4" stroke-linecap="round"/>
<path d="M713 335.6h0M707.8 372.8h0M728.3 353.5h0M728.1 372.1h0M731.1 334.4h0M765.5 363.8h0M755.6 348.6h0M748.4 388.2h0M731.8 354h0M724.2 362.5h0M750.8 375.2h0M729.2 383.4h0M760.2 365h0M751.9 347.5h0M731.8 336.5h0M726 357.3h0M738.6 349.2h0M741.3 388.8h0M749.1 357.1h0M726.7 350.8h0M746.9 378.8h0M721.5 349.7h0M730.8 349.1h0M722.6 347h0M716.6 327.9h0M761.2 334h0M719.1 327.8h0M721.7 375.1h0M755 387.5h0M716.5 376.1h0M765.1 350.7h0M757.4 365.5h0M706.6 332.4h0M748.4 331.6h0M714.3 336.4h0M746.9 370.8h0M731 341.5h0M715.2 336.3h0M713.6 348.3h0M741.1 371.4h0M704.9 354.5h0M760.1 364h0M735.4 385.4h0M746.3 347.3h0M731.4 389.8h0M765.1 387.8h0M743.4 333.7h0M715.2 350.6h0M761 378.8h0M760.7 352.7h0M751.3 363.6h0M755.6 352.4h0M772.5 390.6h0M725.5 350.1h0M722.1 387h0M760.2 378.9h0M752.6 346h0M757.7 342.1h0M747 334.8h0M765 358h0M722.5 388.3h0M757.7 334.2h0M758 363.9h0M768.6 364.8h0M733.6 389.1h0M710 343.1h0M734.7 374.6h0M721.2 374.9h0M749.8 330.6h0M738.5 374.3h0M718.1 369.5h0M722.7 349.7h0M769.6 389.8h0M744.2 380.3h0M757.8 355.7h0M765.4 351.8h0M711.1 376.2h0M713 371.3h0M741.9 375.6h0M712 368.3h0M729.9 341.2h0M737.3 329.8h0M764.6 386.3h0M705 356.3h0M736.7 374.1h0M755.6 347.8h0M711.2 336.8h0M738.9 347.3h0M737 378.8h0M720.7 387.6h0M747.2 391.7h0M758.7 367.9h0M741.3 383.6h0M734.8 330.6h0M769.1 380.1h0M752.2 375.9h0M719.4 356.2h0M762.5 391.1h0M752.3 362.5h0M732 335.5h0M712.5 356.7h0M738.4 342.5h0M729.3 362.5h0M758 365h0M729.3 390.9h0M744.9 391.4h0M730.6 362.1h0M717.4 332.4h0M723.2 367.8h0M743.5 390.1h0M752.5 349.1h0M742.1 384.1h0M751.3 349h0M746.6 344.8h0M703.2 362.5h0M717.5 359.3h0M751.3 371.6h0M751.9 373.7h0M702.6 327.2h0M733.6 391.6h0M725.3 363.5h0M703.1 352.8h0M768.3 365h0M717.3 336.3h0M766.7 359.8h0M726.1 391.4h0M732 372.6h0M756.9 342.7h0M713.3 349.2h0M750.7 390.5h0M747.9 369.5h0M714.2 374.6h0M742.7 348.9h0M712.8 334.8h0M713.4 364.9h0M760.9 334.9h0M739.1 364h0M743.3 352.6h0M706.7 353.3h0M719.7 376.7h0M720.1 381.4h0M720.1 330.2h0M737.3 350.9h0M726.9 377.3h0M718.7 370.6h0M763.3 355.4h0M739.2 388.4h0M746.5 336.4h0M707.6 329.5h0M726.7 330h0M749.8 353.4h0M725 359.6h0M713.8 345.1h0M726.1 387.4h0M754 353.8h0M714.6 326.9h0M749.7 334.7h0M739.4 347.2h0M710 375.7h0M754.7 359.5h0M714.7 370.6h0M734.1 370h0M702.7 339.3h0M731.5 337.6h0M708.9 371.9h0M721.9 370.7h0M718.7 351.8h0M752.7 353.9h0M713.8 328.7h0M739.1 357.9h0M716.6 370.6h0M738.6 380.4h0M723.8 389.1h0M761.9 356.9h0M712.8 357.6h0M711.7 371.7h0M753.3 364.2h0M754.6 379.8h0M710.7 346.3h0M706.4 364.6h0M755.2 348.1h0M753.2 349.4h0M754.4 343.1h0M702.7 330.1h0M755.4 384.3h0M748.9 334.6h0M766.1 373.9h0M710.9 350.4h0M705.6 348.5h0M725.7 387.4h0M759.8 384.3h0M745.4 391.6h0M749.4 390.1h0M743.7 337.5h0M740.3 357.6h0M727.1 349.9h0M739.7 364.9h0M718.7 343.2h0M739.1 359h0M733 370.2h0" fill="none" stroke="#F4BF8F" stroke-width="4.4" stroke-linecap="round"/>
<path d="M640.1 381.3h0M672.3 417.3h0M758.3 338.6h0M903.5 378.2h0M707.6 344.9h0M865.4 373.9h0M735 355.1h0M683.2 355.3h0M647.9 336.3h0M853.3 399.9h0M814.7 397h0M820.9 342.2h0M655.7 351.9h0M836.4 374.7h0M705.5 341.8h0M882.9 367.4h0M724 348.4h0M891.1 365.5h0M707.5 319h0M715.6 390.9h0M712.9 358.3h0M845 351.3h0M816 395.4h0M814.1 393.3h0M678.7 331.2h0M657.2 389.5h0M778.6 349.6h0M803.4 391.9h0M755.6 319.5h0M649.9 348h0M722.3 355.9h0M783.1 358h0M850.3 373.4h0M709.5 335.4h0M873.8 383.8h0M611.4 340.3h0M842 367.5h0M738.5 333.1h0M728.1 377.7h0M677.1 407h0M634.4 378.1h0M749.8 357.2h0M693.5 393.9h0M774.6 343.9h0M705.6 318.3h0M807.7 381.4h0M690.7 350.6h0M874.8 352.2h0M702.6 361.7h0M810.7 368.4h0M718.6 336.2h0M855.2 370.1h0M870.2 357.6h0M751 372.4h0M644.4 327.1h0M666.2 398.4h0M635.2 378h0M685.9 384.2h0M684 403.5h0M768.5 394.2h0M851.7 387.3h0M653.2 367.9h0M869.5 386.6h0M842.1 356h0M866.7 399.6h0M920 411h0M669.4 428.8h0M890.9 367.5h0M869.5 405h0M694.7 304.9h0M693.9 311h0M617.1 325.1h0M678.3 343.1h0M674.1 441h0M862.6 411.6h0M655.2 314.8h0M903.3 384.4h0M736.4 330.7h0M662.3 406h0M715.1 334.9h0M705.2 378h0M648.8 353.5h0M834.7 400.4h0M718.6 380.3h0M742 377.6h0M831.2 354.4h0M672.3 397h0M745.8 357.9h0M780 333.9h0M869.7 384.4h0M678.1 431.3h0M854 403.4h0M864.2 367h0M641.4 316.2h0M720.7 378h0M627.2 334.4h0M882.5 359.6h0M627.1 328.6h0M779.6 329.7h0M743.2 382.2h0M730.6 377.1h0M777 382.3h0M651.6 419h0M683.2 410.8h0M655.4 387.5h0M804.8 357.1h0M592.1 338.5h0M604.1 339.2h0M663.2 346.3h0M738.4 357.1h0M854.7 410.2h0M614.7 334.8h0M648.5 306.5h0M843.5 363.2h0M685.3 312h0M731 367h0M743.5 327.9h0M773.3 370.7h0M778.7 338h0M741.4 320.8h0M681 408.7h0M731.3 350.1h0M786.6 351.9h0M676.2 420.4h0M682.9 383.5h0M831.8 356.7h0M638.1 360.7h0M752.5 363.7h0M710.5 366.8h0M688.6 398.6h0M870.4 360.4h0M842.9 343.1h0M646.4 367.5h0M845.6 342.7h0M773.7 363.9h0M707.7 320.1h0M627.9 334.6h0M643.4 379.2h0M722.5 339.1h0M659.9 427.8h0M719.4 391.3h0M673 376.1h0M640.6 367h0M674.4 389.5h0M680.6 342.5h0M859.2 375.9h0M655.6 318.4h0M755.2 377.1h0M830.2 357.5h0M671.6 449.2h0M863.9 393.4h0M666.4 394.1h0M643.2 370.9h0M713.3 365.2h0M707.4 406.2h0M837.6 399.2h0M717.3 387h0M757.5 329.4h0M659.8 413.2h0M669.4 420h0M743.3 348.2h0M649.6 351.8h0M610.6 324.4h0M829.3 334.8h0M669.3 360.6h0M880.7 357.7h0M655.4 339.2h0M826.7 388.9h0M753.5 338.2h0M821.6 384.1h0M766.2 341.2h0M716.2 329.9h0M826.2 387.6h0M851.4 395.9h0M863.2 386.6h0M706.2 316.4h0M692.7 407.7h0M905.5 398.5h0M850.9 368.3h0M687.2 317.6h0M662.5 404.3h0M856.4 396.4h0M636.2 312.5h0M745.2 363.2h0M782.8 336.9h0M682.6 375.2h0M714.7 398.5h0M754 349.8h0M646.2 351.7h0M871.8 406.4h0M782.6 388.7h0M667.3 394.8h0M707.8 375.3h0M718 316.4h0M810.8 342.8h0M779.4 358.2h0M679.5 416h0M793.5 351.1h0M918.8 395.2h0M709.8 335.2h0M824.9 380.9h0M789.6 350.2h0M662.1 379h0M711.4 353.3h0M670.5 375.5h0M873.3 361h0M629.6 321.2h0M682.2 406.9h0M859.3 377.6h0M849.3 396.7h0M690.8 427h0M876.2 386.6h0M672.2 339h0M660.4 406.3h0M683.2 315.8h0M674.4 417.6h0M630.9 317.1h0M631.8 312.1h0M662 401.3h0M885 362.8h0M695.4 337.6h0M854.8 408.9h0M853.2 381.3h0M711.2 345.3h0M674.6 412.7h0M650.4 350.2h0M674.6 431.5h0M801.3 373.6h0M665.4 340.1h0M745.4 358.8h0M708 319.7h0M902.7 400.7h0M683.6 378.8h0M676.5 368.4h0M865.7 357.5h0M841.9 371.8h0M720.4 330.7h0M858.8 411.4h0M652.9 357.7h0M721.7 388.1h0M799.5 356.2h0M758.8 389.1h0M721.3 354h0M722.9 326.9h0M908.3 390.3h0M767.3 365.3h0M663.1 348.6h0M749.8 368.4h0M647.8 309.1h0M630.8 353.2h0M658.3 418.9h0M731.3 382.2h0M819.3 358.5h0M681.6 311.1h0M654 307.6h0M836.3 395.5h0M673.5 368.3h0M657 329.1h0M713.9 385.9h0M813.3 381.4h0M693.2 335.8h0M852.6 409.6h0M681.4 336.1h0M824.8 346.1h0M831.4 353.9h0M844.8 387.6h0M686.2 332.5h0M853.1 384.1h0M843 374.9h0M651.8 372.3h0M800.6 368h0M834.9 402h0M647.5 381.8h0M644.5 347.9h0M696.2 315.5h0M698.1 411.2h0M779.7 327.1h0M608.5 339h0M757.4 341.8h0M675 414.3h0M821.7 385.8h0M664.9 444.5h0M691.6 349.5h0M644.8 366h0M671.1 333h0M616.7 328.1h0M663.1 388.4h0M732.9 347.1h0M831.8 352.9h0M774 372.8h0M691.4 321.3h0M889.2 392.9h0M823.4 337h0M698.9 376.3h0M797.1 365.2h0M671.7 318.8h0M651.5 416.6h0M694.4 361.1h0M645.4 383.5h0M840.8 391.8h0M831.5 348.9h0M817.8 363h0M859.9 372.2h0M863.2 346.5h0M879.9 403.3h0M833 392.5h0M730.2 390.9h0M670.4 307.2h0M810.7 389.1h0M723.3 309.6h0M821.6 375.5h0M748.9 322.9h0M723.6 341.2h0M659.3 370.5h0M804.5 387.1h0M890.8 378.3h0M691 348.3h0M844.1 346.6h0M771.6 390.9h0M616.3 332.7h0M839.4 398.9h0M851.5 378.9h0M783.7 375.6h0M843.5 387.5h0M724.1 366.3h0M773.8 355.6h0M713.3 365.5h0M830.9 360.7h0M733.9 390.4h0M704.7 337.1h0M739.7 349.9h0M664.8 406.5h0M857.6 372h0M712 336.3h0M828.6 370.4h0M862 401.6h0M906 394.1h0M723.9 338.7h0M904.6 411.3h0M617.5 335.6h0M696.1 387.6h0M689.7 367.4h0M830.4 351h0M690.7 392.6h0M696.1 306.1h0M635 347.2h0M757.5 339.5h0M782.6 342.6h0M667.4 367.3h0M642.6 320.9h0M650.2 351.2h0M717.8 372.8h0M816.8 358.6h0M670.8 321.4h0M822.7 370.6h0M761.5 332.3h0M637.2 351.8h0M816.6 383.1h0M728.3 311.4h0M666.6 333h0M866.9 384.1h0M690.4 338.6h0M677.8 343.3h0M854.7 406.5h0M889 399.8h0M632.6 340h0M782.6 365.9h0M842.2 352.6h0M665.3 429.1h0M679.9 316.2h0M922.4 398.1h0M816.7 343.6h0M671.1 314.1h0M792.1 353.9h0M640.6 366.9h0M807.9 378.1h0M613.6 327.3h0M660.2 378.6h0M743.7 384.6h0M687.3 322.6h0M877 405.1h0M856.7 362.7h0M687.7 321.2h0M632.8 361.8h0M770.4 384.4h0M901.8 416.6h0M665 315.7h0M719.1 382.3h0M820.8 357.1h0M696.3 324.2h0M870.1 370.6h0M863.1 352.3h0M688.4 378.5h0M699.8 405.8h0M844.6 384.9h0M703.1 342.4h0M682.7 313.8h0M762.4 384.7h0M766.1 363h0M658.5 418.7h0M840.1 361.1h0M744.6 343h0M816.3 347h0M834.5 374.5h0M858.2 356h0M887.8 404.4h0M734.5 386h0M860.5 380.9h0M893.4 408.9h0M627.1 352h0M777 349.6h0M667.1 368.6h0M872.4 385.4h0M732.3 347.6h0M788.6 353.4h0M697.1 320.1h0M653 334.5h0M681.1 402.8h0M773.8 391.2h0M680.9 412h0M741.8 371.1h0M675.9 307.1h0M864.5 374.8h0M636.7 342h0M699.9 353.8h0M874.4 352.1h0M682.8 327.6h0M668 385.7h0M702.5 388.3h0M664.7 356.5h0M781.2 336.7h0M826.2 399.6h0M698.1 322.7h0M858.7 370.3h0M903.8 381.4h0M672 379.3h0M923.3 411.3h0M719.7 385.4h0M765.2 387.8h0M730.5 329h0M720.6 390.3h0M621.1 339.6h0M787.3 356.1h0M658.5 389.8h0M612.5 334.7h0M689.6 348.7h0M743.2 325.5h0M689.4 421.3h0M639.8 316.3h0M797.3 369.4h0" fill="none" stroke="#FDC987" stroke-width="4.4" stroke-linecap="round"/>
<path d="M839.7 402.2h0M705.9 320.4h0M742.3 372.4h0M818.1 393.1h0M724.8 329.1h0M739.1 384.1h0M772.3 350.6h0M653.4 396.2h0M836.9 338.4h0M701.5 394.7h0M767 340.7h0M663 349.5h0M888 376.6h0M713.1 380.2h0M724 367.2h0M900.8 412.1h0M813.6 396.3h0M685.4 341.4h0M901.8 381.4h0M698.3 311.2h0M722.7 317.9h0M869.2 379h0M657.6 430.5h0M859.4 388.8h0M654.7 350h0M693.9 363.5h0M839 407.1h0M876 412.4h0M778.1 362.7h0M793.3 332.1h0M794.5 335.4h0M775.1 360.6h0M669.9 323.4h0M881.9 396.5h0M668.2 377.9h0M766.3 373.8h0M897.8 388.2h0M801 389.4h0M853.6 356.3h0M614 334.6h0M710.1 332h0M660.9 350h0M721.6 355.4h0M689.5 303.9h0M872.1 412.5h0M736.8 332h0M687.8 394.4h0M813.8 395.9h0M794.9 358.1h0M697.4 331.3h0M870.4 358.6h0M657.3 358.7h0M639.7 321.5h0M673.1 397.7h0M800.9 380.3h0M877.9 414.7h0M648.8 381.8h0M634.4 337.5h0M626.4 312.6h0M652.1 390.4h0M783.8 381h0M714.9 364.9h0M651.2 386.9h0M730.5 335.9h0M826.7 374.9h0M668 402.1h0M733.2 355h0M763.6 347.6h0M599.3 326.9h0M732.1 353.6h0M752.1 381.1h0M712.4 321.2h0M699.3 349.3h0M838.3 375.5h0M621.4 332.1h0M705.4 361.3h0M730.4 388h0M917 398h0M693.1 306.4h0M839.2 357.5h0M802.9 343.8h0M672.2 436h0M653.4 341.9h0M615.3 332.8h0M744.2 339.9h0M591.9 325.8h0M885.4 387.7h0M745.1 371.8h0M612.5 340.8h0M902.2 410.3h0M755.3 393.1h0M659.6 321.7h0M756.4 389h0M737.9 372h0M765.4 347.7h0M734.3 339.8h0M734.6 316.8h0M736.5 379.2h0M655.1 308.2h0M700.4 409.3h0M780.5 368.4h0M690.7 426.5h0M667.9 397.2h0M651 320.6h0M667.4 340.9h0M774.2 392.9h0M653.4 399.7h0M663.4 421.3h0M768.6 354.9h0M659.1 386.4h0M878.5 356.7h0M728.8 388.2h0M638.6 388.9h0M688.5 372.5h0M754.8 348.5h0M676.9 339.7h0M755.6 381.4h0M653.6 416.6h0M751.9 354.7h0M664.4 427.4h0M662.4 311.8h0M878.8 403.6h0M694 367.7h0M816.4 389.4h0M610.9 333.8h0M665.4 305.8h0M801.9 387.5h0M903 384.8h0M758.3 343.5h0M700 330.9h0M796 377.9h0M768.1 325.9h0M882 398.5h0M695.6 322.7h0M882.2 407.4h0M638.8 351.1h0M883.3 383h0M749.4 350.3h0M737.9 342.6h0M655.4 324.8h0M848.8 347.2h0M795.1 373.9h0M810.7 379.8h0M877.2 386.8h0M749.4 359h0M699.2 307h0M860.5 399.4h0M669.3 427h0M720.3 355.6h0M818.1 375h0M818.4 381.8h0M751.1 340.1h0M653.5 402.3h0M672.6 378.7h0M703.6 342.7h0M804.1 359.8h0M725.5 392.9h0M643.6 396.9h0M911.2 409.3h0M861.1 396h0M694.6 350.2h0M690.8 312.7h0M730.7 370.5h0M761.1 373.3h0M624.4 323.1h0M666.8 364.7h0M842.9 366.7h0M723 361.8h0M759.4 343.4h0M699.2 410h0M680.9 366.4h0M687.1 381.6h0M674.1 402.2h0M677.9 370h0M806.3 365.8h0M626.4 328.8h0M657.4 338.1h0M639.2 322.8h0M816.9 388.4h0M663.6 423.4h0M814.6 365.8h0M731 314.8h0M707 397.5h0M881.7 357.4h0M706.5 378.5h0M663.9 332.7h0M793.3 394.6h0M729.4 365.2h0M671.9 319.4h0M883.8 387.8h0M779.4 342.8h0M804.6 384.8h0M690 313.1h0M747.3 380h0M640.1 347.1h0M751 318h0M713.3 385.2h0M723.7 377.3h0M780.4 353.4h0M675.3 329.3h0M708.8 392.1h0M770.7 331.2h0M809 379.9h0M743.5 333.7h0M718.6 312.3h0M780.8 334.1h0M819.6 394.3h0M679.2 404.2h0M787.6 340.5h0M866.6 403.6h0M735.9 360.7h0M857.2 399.9h0M739.5 315.7h0M815.3 363h0M786.3 384.5h0M766.2 370.8h0M904.6 416h0M767.4 354.4h0M640.6 351.7h0M733.8 346.6h0M882.6 360.2h0M723.5 334.8h0M702.9 401h0M647.7 310.7h0M647.2 324.1h0M877 379.1h0M756 327.3h0M732.3 336.2h0M684.3 413.5h0M790.2 328.6h0M722.5 343.7h0M846.3 342.9h0M794.3 357.7h0M742.9 381.1h0M685.5 429.3h0M701.4 313.8h0M741.8 353.3h0M836.9 375.5h0M892.5 386.4h0M761.6 326.7h0M688.4 334.3h0M643.9 393.8h0M689.6 417h0M754.8 396.5h0M659 406.2h0M681.1 414.6h0M691.2 373.1h0M666.5 390h0M666.5 332.1h0M835.8 341.6h0M906.1 396.3h0M677.1 438.4h0M682.5 408.5h0M662.5 422.1h0M818.5 371.3h0M812.7 361.5h0M751.6 377.7h0M650.9 340.4h0M755.6 387.6h0M647.3 371.6h0M601.7 339.5h0M668.3 317h0M914.9 403.5h0M687.3 380.6h0M854.3 388.8h0M819.9 352.3h0M837.4 386.1h0M622.1 337.4h0M856.9 348.7h0M793.7 359.5h0M724.1 348.7h0M744.4 341.6h0M790.5 361h0M736.4 382.3h0M674.5 342.5h0M639.8 318h0M682.2 311h0M663 376.9h0M629.2 319.6h0M691.7 314.7h0M617.7 316.6h0M874.3 399.3h0M680.8 424.9h0M899.8 414.9h0M656.5 373h0M757.4 390.2h0M763.8 343h0M757.9 333.3h0M883.9 409.7h0M648.6 377.8h0M781.7 388.5h0M737.8 378h0M666.3 348.4h0M700.2 375.2h0M835.3 357.1h0M688 322.8h0M861.1 363.8h0M698.8 371.1h0M900.3 416.8h0M636.7 356.8h0M576.6 331.3h0M695.2 327.8h0M743.6 320.9h0M806.5 363.1h0M662 404.6h0M690.9 304.6h0M872.5 414.9h0M668.1 406.2h0M806.6 383.8h0M660 306.9h0M641.2 327.3h0M630.9 322.2h0M693.9 307.4h0M644.9 343.2h0M740.1 339.8h0M846.2 409.6h0M702.7 379.4h0M805.3 378.9h0M847.7 375h0M721.4 351.6h0M714.4 334.4h0M685.1 413.9h0M889.2 370h0M852.1 359.5h0M697.3 318.1h0M777.1 362.1h0M890.9 401.2h0M843 387.1h0M786.7 329.7h0M832.6 401.7h0M664.8 374.5h0M847.4 397.8h0M796.6 381.7h0M696 332.6h0M625.9 334.2h0M907.5 385.4h0M761.3 380.4h0M814.9 362.2h0M591.2 328.2h0M825.7 392.3h0M665.4 367h0M761.6 358.2h0M716.2 377.4h0M836.2 358.6h0M642.7 327.4h0M699.4 412.5h0M911.8 393.8h0M627.3 313.6h0M760.3 392.6h0M664.2 424.8h0M916 402.6h0M730.8 364.2h0M740.5 319.8h0M893.2 408.4h0M733.7 337.8h0M774.9 348.1h0M800.7 352.2h0M723.6 382.9h0M774.7 330.8h0M855 374.3h0M709.5 321.4h0M790.2 335.5h0M651.5 397.2h0M828.6 388.9h0M747.4 364.7h0M760.4 351.7h0M856.9 375.3h0M616 335h0M842.1 379.4h0M589.3 330.1h0M623.5 341.3h0M855.6 351.8h0M658.8 347.8h0M651.8 319.4h0M660.7 412.1h0M675.8 311h0M903.7 414.9h0M664.6 329.9h0M797.7 390.9h0M762.6 348.5h0M780.4 391h0M694.4 316.6h0M786.2 334.6h0M734.8 319.8h0M773.1 341h0M667.5 433.4h0M864.8 367h0M734.7 366.3h0M850.4 350.8h0M688.4 415.8h0M671.7 358.1h0M762.2 380.6h0M678.9 310.1h0M821.5 360.9h0M771.4 380h0M655.1 380.4h0M755 382.3h0M873.2 397.9h0M908.9 404h0M866.7 349.3h0M713.2 380.1h0M766 386.8h0M829.6 352.7h0M709.9 404h0M761.4 374.1h0M676 360.3h0M834.1 363.3h0M661.9 352h0M746.7 341.9h0M807.8 374.1h0M656 399.2h0M732.9 369.7h0M751.2 357.3h0M656 405.6h0M670.4 441.7h0M674.8 345.3h0M779.8 357.3h0M620.1 335h0M635 368.2h0M675.2 402.9h0M684.4 321.2h0M727.8 355.9h0M856.9 349.6h0M704.4 350.7h0M704 334.4h0M731.6 348h0M716.7 364.8h0M842.8 407.5h0M761.6 354.7h0M853 402.7h0M813.6 374.7h0M845 373.2h0M750.1 372.8h0M835.9 351.6h0M850.4 357.7h0M813.9 358h0M850.9 358.6h0M699.2 366.5h0M842.1 364.6h0M886.3 410h0M651.6 376.4h0M757.2 356h0M748.3 370.1h0M709.8 391.2h0M681.2 403.4h0M870.1 355.8h0M723.5 356.4h0M695.9 363.2h0M680.8 416.5h0M751.8 334.1h0" fill="none" stroke="#F2BC8F" stroke-width="4.4" stroke-linecap="round"/>
<path d="M854.5 359.1h0M833.4 346.4h0M775 389.5h0M795.5 389.7h0M835.5 372.9h0M863.5 369.6h0M806.3 372.2h0M742.3 340.5h0M756 342.7h0M798.1 379.1h0M794.1 382.2h0M841.4 387.8h0M748 317.7h0M753.6 355.2h0M731.6 321.8h0M910.5 390.9h0M853.5 373.3h0M827 380.8h0M824 354h0M805 383.2h0M810.7 354.4h0M764 349.5h0M820 342.2h0M841.1 393h0M744.2 363.2h0M759.2 379.8h0M768.3 344.1h0M903 394.8h0M802.5 360.1h0M762.1 360.4h0M802.6 333h0M864.6 366h0M887.7 387.6h0M772.5 374.7h0M870.9 363.9h0M836.1 392.9h0M744.6 323h0M863.5 361.5h0M925.7 403.3h0M787.3 368.4h0M842.9 359.4h0M891.2 385.9h0M825.7 369.1h0M836.5 389.5h0M874.9 377.3h0M789.8 329.7h0M725.9 326.8h0M756.5 368.8h0M815.3 360.9h0M731.9 328.3h0M873.9 403.6h0M856.1 391.2h0M750.8 387.5h0M909.9 405.8h0M827.1 400.8h0M799.5 339.2h0M726.6 333.9h0M784.7 349.3h0M796.5 342.9h0M844.7 342.1h0M917.6 409.3h0M798.8 384.4h0M872.4 380.7h0M739.9 319.7h0M809.3 375.7h0M900.4 405.3h0M859.2 384h0M855.5 396.1h0M890 377.6h0M739.8 330.2h0M854.3 344.4h0M821.7 365h0M906.8 387.8h0M905 390.5h0M766.2 380.2h0M744.5 379.4h0M792.6 352.9h0M892.3 400h0M876.5 359h0M729.5 324.8h0M877.8 383.9h0M819.1 398.3h0M737.5 351.3h0M867.4 350.7h0M754.9 360h0M749.5 361.9h0M742.4 378.2h0M851.3 369.7h0M819.8 399.5h0M731.1 362.3h0M827.5 357.3h0M781.1 359.5h0M730.9 321.1h0M893.5 391.5h0M761.2 345.6h0M736 345.7h0M829.1 390.8h0M825.9 400.7h0M729.1 326.6h0M805.1 370.3h0M790.2 351h0M874.5 393.9h0M756.5 348.9h0M816.6 367.6h0M845.3 345.6h0M878.2 386.8h0M880.1 385.4h0M838 390.1h0M864.4 396.4h0M905.2 393.8h0M797.6 360.2h0M842.9 396.3h0M765.4 366.7h0M750.4 330.4h0M839.3 377.1h0M802.8 395.5h0M834.3 383.6h0M737.9 346.9h0M724.4 329.3h0M844.8 351.9h0M860.8 403.1h0M893.7 412.8h0M778.2 346.8h0M829.6 400.4h0M860.4 374.2h0M805.2 352.3h0M805 387h0M812.7 386.8h0M804.7 336h0M722.4 342.5h0M904.5 390.5h0M773.7 354.5h0M807.2 386.2h0M779.6 349.5h0M825.5 337.3h0M809.9 390.3h0M793.1 371.9h0M768.5 352.9h0M837.2 350.5h0M739.9 370.2h0M834.1 355.2h0M851 404.4h0M845.4 391h0M801.5 346.3h0M864.5 371.6h0M791.9 384.4h0M853.9 346.8h0M759.1 340.6h0M871.5 386.6h0M773.7 387.2h0M822.4 358.8h0M726.4 336.2h0M876.6 360.4h0M904.6 396.4h0M841.5 340.8h0M799.9 361h0M780.6 330.4h0M859.7 377.7h0M742.3 335.8h0M778.9 350.5h0M741.2 372.3h0M794.4 358.9h0M905.7 393.3h0M810.9 353.2h0M855.7 383.8h0M743.6 356h0M831 348.6h0M835.7 353.3h0M790.1 361.1h0M796.9 383.3h0M757 369h0M838.7 348.1h0M865.2 398.2h0M838.6 376.9h0M854 380h0M783.6 391.9h0M830.4 345.9h0M862.1 399.9h0M865.8 352.6h0M920 406.7h0M860.6 357.8h0M906.2 398.9h0M844.5 361h0M803.8 338.7h0M847.3 349.4h0M847.1 405.8h0M818.1 358.5h0M729.9 346.1h0M819.1 372.2h0M766.5 379.7h0M739.6 343.4h0M741.5 342.7h0M875.9 397.2h0M842.8 401h0M852.4 375.4h0M809.1 398.1h0M831.7 349.2h0M823.8 361.6h0M759.2 382.5h0M894.7 380.5h0M825.8 383.6h0M831.8 347h0M754.8 375.1h0M829.8 387.7h0M876.6 403.3h0M758.6 387.4h0M799.2 385.4h0M866.2 355.1h0M817.8 386.9h0M750.3 325.5h0M812.1 333.5h0M871.6 389.2h0M891.3 380.7h0M867.3 381.8h0M852.4 365.8h0M907.7 415h0M823.2 363.6h0M801.1 394.3h0M764.4 342.1h0M805.7 361.4h0M917 408.7h0M812.2 389.5h0M774.7 354.4h0M733.6 353.6h0M758.7 368.6h0M743 357.5h0M807.6 358.7h0M784.2 368.7h0M855.8 347.4h0M851.7 356.4h0M894 370.5h0M872.2 372.2h0M866 353.2h0M750.9 350.4h0M881 367.1h0M820.5 385.8h0M733.9 325.7h0M922.5 401.9h0M805.4 348.3h0M810.9 392.5h0M816.7 387.4h0M827.5 389.7h0M823.4 373h0M770.7 393.1h0M773.3 386.8h0M779.1 374.5h0M771.1 344.6h0M836.1 389.6h0M768.4 378.5h0M804.4 391.9h0M872.2 350.9h0M847.6 379.9h0M769.5 381.9h0M873.3 376.5h0M799.2 384.6h0M879.2 383.2h0M792.1 332.5h0M771.1 363.5h0M750.2 337.3h0M848.1 355h0M820.2 334.8h0M796.7 343.3h0M892.6 397.6h0M731 326.2h0M856.2 369.3h0M797.3 386.6h0M766 375.8h0M887.6 391.7h0M811.5 359.7h0M762.9 327.1h0M865.8 351.2h0M837.8 350.9h0M775.7 329.6h0M879.6 357.6h0M752.3 336.5h0M752.9 370.8h0M894.5 408.2h0M749.4 356.6h0M831.7 369.8h0M764.3 339.6h0M884.6 403.2h0M839.5 343.3h0M837.1 340.8h0M771.7 387.8h0M817.4 372.9h0M783.9 375.5h0M744.8 355.7h0M750.9 369.4h0M844.2 377.6h0M902.8 409.2h0M843.8 398.6h0M835.2 357.8h0M753.6 362.6h0M869.4 395.1h0M833.2 392.9h0M748.4 366.8h0M751.1 374.4h0M861.6 375.2h0M793.6 353.8h0M779.7 384.5h0M838.8 342.2h0M782.9 332.7h0M866.7 384.6h0M844.7 347.7h0M835.3 380.7h0M891.5 402.8h0M738.3 335.8h0M920 406.5h0M777.4 392.8h0M802 392.7h0M840.1 408h0M810.8 359.2h0M755 341.2h0M907.7 396h0M839.4 344h0M893.4 412.2h0M891.6 383.1h0M758.3 340h0M760.2 371.9h0M785.9 335h0M818.3 376.9h0M895.6 413.6h0M890.4 409.4h0M833.8 355.6h0M767.4 359.5h0M740 366.5h0M845.5 399.8h0M788.5 375.7h0M838.3 347.8h0M856.1 388.5h0M862.4 382.8h0M800.5 387h0M793.6 336.8h0M740.9 370.1h0M755.6 342h0M782.3 351.3h0M830.2 369.7h0M803.8 369.5h0M890.5 366.9h0M827.3 349.1h0M758.8 334.8h0M738.7 342.2h0M728.5 355.8h0M878.3 359.6h0M850.6 357.3h0M886.3 383.2h0M745.3 369.6h0M775.4 390.2h0M797.6 335.9h0M744.9 338.8h0" fill="none" stroke="#F2BC8F" stroke-width="4.4" stroke-linecap="round"/>
<path d="M806 357.6h0M862.4 393.9h0M737.7 335h0M721 340.6h0M849.9 405.5h0M740.8 340.5h0M731.8 335.2h0M825.2 397.6h0M806.6 376h0M874.1 383.1h0M810.9 347.8h0M851.1 360.4h0M842.6 381.8h0M821 363.8h0M858.9 374.9h0M890.5 370.2h0M783.7 331.2h0M807.1 356.9h0M810.5 339.2h0M820.6 372.2h0M818.7 382.8h0M806.2 373.8h0M731.2 365.3h0M813.3 339.6h0M747.6 379.8h0M737.8 341.4h0M868.1 392.7h0M779.9 353.7h0M870.5 401.8h0M902.9 381.7h0M731.9 345h0M841.8 355.9h0M901.2 381.9h0M782.6 361.5h0M909.5 395.8h0M826.3 346h0M858.3 406.9h0M795.3 384.4h0M754.3 339.2h0M760.5 323.7h0M876.2 384h0M812.4 366.7h0M746.7 337.8h0M792 349.7h0M883.7 409.5h0M822.1 399.2h0M821 373.8h0M722.3 338h0M875.3 381.9h0M813.6 372h0M830.5 348.6h0M881.8 357.8h0M881.1 398.6h0M864.8 396.6h0M882.8 389.2h0M740.6 373.6h0M790.9 351.8h0M854.2 343.7h0M887.9 375.4h0M880.4 376.6h0M817.1 374h0M838.7 342.3h0M891.3 412.9h0M863.7 365.1h0M802.7 385.9h0M855.9 410.6h0M778 389.8h0M878.9 381.2h0M844.8 338.6h0M861.2 373.4h0M850.8 348.1h0M817 395.9h0M764.9 361.5h0M845 353.5h0M800.5 334.6h0M764.1 384.4h0M800.8 359.7h0M871 360.3h0M803.3 336.1h0M751.9 361.7h0M846 348.4h0M859.4 393.9h0M804.7 352.4h0M736.5 334.7h0M850.2 396.4h0M832.9 382.5h0M788.9 350.7h0M871.1 363h0M811.5 371.1h0M744.3 361.5h0M781.6 330h0M829.8 385.6h0M830.1 364.5h0M860.2 356.4h0M865.6 352.4h0M803.6 348.3h0M838.2 360.4h0M910.5 406.5h0M827.9 359.4h0M767.2 386h0M800.7 360.8h0M785.5 336.2h0M783.4 341h0M799.3 370.9h0M889.9 383.1h0M915.1 399.8h0M799 385.1h0M885.5 399.5h0M824.6 358.5h0M771.3 392.7h0M777.8 342.7h0M733.6 351.3h0M737.9 320.9h0M779.9 372.8h0M827.9 347.2h0M813.1 340.1h0M854.2 393.6h0M896.8 413.8h0M815.3 369.7h0M793.6 342.6h0M787.6 374.7h0M775.6 387.3h0M823.9 344.9h0M737.2 353.9h0M842.7 375.4h0M738.6 365.2h0M876.9 394.6h0M873.8 383.3h0M746.8 355.2h0M838.1 340.4h0M849.9 388.7h0M847 371.3h0M799.2 335.4h0M844.9 353.6h0M871 357.2h0M798.2 388.9h0M751.1 387.6h0M887.7 372.9h0M771.7 384.1h0M898.2 387.2h0M771 357h0M863 351.2h0M773.9 367.3h0M772.7 362.8h0M748.9 334.2h0M748.4 364.6h0M822.2 391.5h0M845.6 404.3h0M790.3 360.7h0M855.8 363.5h0" fill="none" stroke="#FDC987" stroke-width="4.4" stroke-linecap="round"/>
<path d="M644.3 306.3h0M646.2 308.1h0M651.6 303h0M653.1 308.1h0M656.5 306.2h0M656 307.2h0M661.6 306.9h0M660.7 305.9h0M661.9 306.5h0M663.3 306.3h0M663.8 304.5h0M672.2 305.8h0M672 304.2h0M676 304.9h0M677.7 303h0M681.2 301.5h0M681.1 305.4h0M687.2 303.7h0M685 302.5h0M687.5 299.9h0M692.4 302.4h0M692.2 300.6h0M693.6 298.1h0M698.5 298.6h0M698.9 304h0M704.1 300.1h0M705 304.6h0M704.4 303h0M707.2 301.7h0M714.3 305.4h0M715.3 303.4h0M717.6 303.7h0M718.1 306.4h0M721 306h0M718.3 308.8h0M725.3 309.9h0M725.5 308.3h0M728.3 311.6h0M732.5 314.1h0M730.3 312.9h0M734.8 317.5h0M735.2 315.6h0M742 312.7h0M739.4 315h0M745.2 315.7h0M747.2 315h0M748.9 318.9h0M752.1 317.6h0M751.8 315.7h0M753 316.1h0M757.3 317.2h0M759 320.2h0M765.8 320.6h0M762.8 322.5h0M768.3 324.9h0M765.7 326.2h0M768.9 322.5h0M775.9 325h0M776.2 324h0M781.7 325.8h0M782.4 324.3h0M781.1 324.3h0M785.5 325.1h0M788.4 328.2h0M787.9 328.1h0M790.3 326.9h0M793.9 331.6h0M794.8 327.3h0M798.7 326h0M800.4 330.3h0M803.1 329.6h0M803.6 330.2h0M807.7 329.4h0M810.3 329.1h0M812.9 335.3h0M818.3 332.6h0M817.6 335.1h0M818 332.1h0M819.7 332.3h0M823.7 333.9h0M824.3 331.7h0M831.3 332h0M826.7 336.5h0M832.4 334.3h0M833.9 338h0M833.2 337h0M839.6 337.2h0M840.1 334.2h0M843.6 336.2h0M846.4 337.7h0M847.2 341h0M846.5 339.4h0M850.1 338.1h0M854.6 341.6h0M855.3 338.9h0M859.1 339.6h0M859.6 343.2h0M862.6 344.4h0M863.9 347.1h0M867 350.1h0M870.1 350h0M871.1 348.9h0M872.4 349.8h0M877.3 349.5h0M878.8 352.7h0M876.8 355.9h0M880 356.2h0M880.8 352.8h0M883.7 359.3h0M883.6 359.4h0M888.5 362h0M891.3 364.9h0M890.4 364.4h0M894.7 361.5h0M892.6 367.6h0M895.5 368.5h0M899.4 370h0M899.8 373h0M903 373.2h0M901.8 376.7h0M905.6 375.8h0M906.1 375.5h0M907.1 381.5h0M909.1 383.1h0M910.7 384.8h0M911.9 387.5h0M916.1 388.4h0M915.7 386.8h0M914 389.5h0M917.5 391h0M922.9 394h0M921.2 396.1h0M922.6 394.5h0M925.3 401h0M925.4 400.8h0M926.8 402.7h0M929.6 403.1h0" fill="none" stroke="#C3AFCF" stroke-width="4.4" stroke-linecap="round"/>
<path d="M704.3 306.8h0M697.2 306.6h0M742.8 316.1h0M732 315h0M687.6 306.2h0M770 324.6h0M704.5 310.2h0M761.9 327.6h0M793 333.5h0M730.2 316.6h0M687.9 308h0M748.9 322.3h0M694.4 308.4h0M684.2 309.3h0M728.9 313.3h0M670.1 307.4h0M684.2 309.3h0M695.1 303.4h0M704.8 308.2h0M718.7 310.1h0M786.7 330.6h0M678.7 306.9h0M753.9 323.7h0M716.3 310.1h0M702.5 305.4h0M760.9 323.3h0M712.4 312.5h0M764.3 325.9h0M738.5 315.1h0M814.7 335h0M671.9 309.2h0M685.3 305.1h0M737.9 321.2h0M763.9 325.7h0M715.8 309h0M688 308.9h0M693.5 307.8h0M680.3 306.6h0M721.9 311.3h0M775.5 330.3h0M745.9 319.4h0M734.2 318.2h0M663.9 307.3h0M740.4 318.7h0M712.7 314.2h0M752 322.7h0M664.7 307.8h0M751.6 324.9h0M761.7 321.2h0M752 323.9h0M703.1 307.3h0M684 309.2h0M711.2 309.2h0M732.2 315.3h0M780.5 330.4h0M727.6 313.4h0M773.6 329.2h0M685.7 309.2h0M801.2 334.9h0M756.6 326.4h0M739.4 320.7h0M698.7 302.9h0M686.7 304.6h0M746.9 320.5h0M808.3 334.5h0M667.5 306.8h0M749.6 324.6h0M734.1 314.6h0M691 305.1h0M776.1 330h0M753.9 323h0M800.9 334.4h0M731.9 317.6h0M721.3 312.2h0M680.6 304.1h0M719.1 309.9h0M701.4 306.7h0M815.3 333.5h0M731 317.4h0M703.1 310.2h0M676.5 307.2h0M693.8 306.6h0M720.7 315.9h0M713.2 308.1h0M715.1 310.8h0M758.5 325.1h0M691.9 309.1h0M693.1 304.6h0M794.1 331.9h0M706.7 307h0M687.6 304.8h0M805.1 334h0M728 317.7h0M782.1 328h0M798.6 334.1h0M748.7 319.1h0M740.2 319.6h0M734.4 316.9h0M809.5 333h0M670.1 307.8h0M677 304.3h0M677.6 309.7h0M782 329.2h0M794.7 330.8h0M766.4 325.2h0M713.5 310.9h0M763.3 324.4h0M801.4 334.9h0M745.1 320.9h0M810.2 336.3h0M746.3 316.9h0M724.8 316h0M721.2 311.7h0M743.3 317.2h0M790.3 331.2h0M679.2 309h0M787 329.8h0M675.4 307.6h0M749.1 322.2h0M679.3 306.9h0M684.1 304h0M663.7 307.2h0M712.4 308.7h0M767 326.2h0M747.7 321.2h0M752.4 322.5h0M670.1 308.9h0M709 312.7h0M735 316.7h0M791 332.1h0" fill="none" stroke="#C3AFCF" stroke-width="4.4" stroke-linecap="round"/>
<path d="M753.7 395h0M753 393.7h0M745.3 394.5h0M748.5 394.2h0M747.3 390.9h0M746.3 391.5h0M745.6 395h0M736.6 392.1h0M737.3 392.5h0M737.8 392.3h0M733.9 393.4h0M730.5 389.2h0M730.2 393.5h0M730.5 397.7h0M727.7 398.9h0M724.8 391.5h0M723.2 401.4h0M718.2 398.7h0M719.6 403.3h0M715.6 399.5h0M715 406.2h0M713.5 404.6h0M713 404.3h0M713.2 406.4h0M705.9 405.8h0M710.2 407.4h0M705 409.5h0M704.7 411.7h0M706.4 409h0M703.1 416.4h0M702.6 419.4h0M697.8 417.2h0M698.9 421.3h0M696.9 421.8h0M696.8 419.5h0M694.7 423.2h0M691.8 423.2h0M692.6 427.2h0M690.3 428.9h0M687.9 429.1h0M689.5 431.4h0M685.9 430.8h0M684.5 435.2h0M677.4 439.6h0M678.5 440.4h0M680.3 440.7h0M679.6 445h0M675.3 442.3h0M677.6 447.1h0M675.1 445.3h0M671.9 450.4h0M669.5 450.9h0M670.1 450.7h0" fill="none" stroke="#C3AFCF" stroke-width="4.4" stroke-linecap="round"/>
<path d="M726.4 396.3h0M743.9 391.3h0M692.4 383.7h0M701 375h0M708.9 400.4h0M689.6 429.9h0M727 373.1h0M692.2 387h0M729.9 370.8h0M737.3 378.7h0M736.9 387.6h0M673.1 447.4h0M713.2 393.1h0M712.4 377.3h0M689.9 403.2h0M707.8 377h0M723 372h0M685.9 416.1h0M696.3 381.4h0M681.7 435.8h0M721.3 392.2h0M687.7 398.6h0M698.7 411h0M728.4 396.8h0M708.2 400.5h0M719.4 393.2h0M706.3 379.9h0M692.1 376.2h0M692.3 376.4h0M699.5 391.8h0M702.2 385.1h0M696.2 407.3h0M690.1 415.8h0M696.8 419.8h0M692 419h0M723.5 379.6h0M719.7 370.2h0M720.4 377.5h0M744.6 386.5h0M671.8 438.8h0M725.1 378.3h0M695.2 385.7h0M702.6 391.2h0M693.3 407h0M731.9 393.1h0M724.7 391.2h0M703.8 408.7h0M701.4 404.1h0M715.3 378.3h0M689.8 417.7h0M731.9 386h0M729 385.6h0M710.3 380h0M713 401.7h0M745.6 391.2h0M704.5 393.5h0M691.5 415.9h0M691.5 423.3h0M725.4 371.2h0M676.9 435.8h0M679.6 425.1h0M716.7 397.2h0M722.4 379.2h0M703.3 374.6h0M700.6 384.7h0M744.8 391.6h0M710.2 408.2h0M723.9 371.7h0M703.9 397h0M726.2 371.4h0M689.7 401h0M727.2 392.9h0M698.8 419h0M714.8 389.2h0M739.7 386.9h0M688.1 412.7h0M723.5 389.2h0M686.7 427.2h0M726.6 395.1h0M688.8 401.9h0M699.1 397.7h0M739.1 389.1h0M704.8 385.6h0M713.7 401.4h0M707.5 374.7h0M700.4 377.2h0M713.1 390.8h0M713.7 383.4h0M683.2 432.1h0M724.7 370.2h0M742.5 387.1h0M723.5 379h0M694.6 395.4h0M691.5 411h0M683.7 429.5h0M692.3 378h0M703.1 374.7h0M713.1 385.3h0M702.2 407.5h0M721.3 379.2h0M683.6 420.8h0M698.4 379.6h0M698.9 406.7h0M679.1 439.8h0M717.2 375.8h0M722.6 373.6h0M726.1 390h0M697.1 377.8h0M747.1 388.3h0M699.3 399.1h0M691.1 379.6h0M697 405h0M728.1 391.4h0M688.3 408h0M733.9 383h0M730.5 374.8h0M694.2 406h0M697 410.8h0M690.3 382.5h0M713 380.4h0M737.9 385.9h0M693.7 418.5h0M690.2 385.2h0M738.1 376.7h0M718.1 401.2h0M731.6 367.5h0M683.6 428.2h0M731.7 386h0M712.7 403.9h0M723.4 397.6h0M725 389.3h0M706.9 383.1h0M693.6 402.3h0M694.3 394.7h0M736.4 392.1h0M698.5 381.7h0M729.5 374.6h0M701.6 374.3h0M691.7 386.8h0M705.6 374.7h0M676.9 425.7h0M701.6 403.5h0M666.8 440.6h0M710.3 383.7h0M725.7 378.2h0M702 383.2h0M720.3 383.3h0M703.6 380.1h0M715.5 391.2h0M682.5 417.9h0M705.9 392h0M714.3 371.4h0M703.6 411.8h0M690.3 394.1h0M669.6 441.6h0M734.7 371.7h0M690.3 393.9h0M687.1 417.6h0M704 377.9h0M707 392.3h0M706.6 382.3h0M718.9 377h0M710.2 375.6h0M732.8 392.3h0M705 389.7h0M714.6 386h0M702.6 416.9h0M736.8 379.3h0M688.2 402.1h0M722.9 378.7h0" fill="none" stroke="#C3AFCF" stroke-width="4.4" stroke-linecap="round"/>
<path d="M692.2 405.3h0M699.8 390.7h0M674.3 436.5h0M693.6 380.2h0M723.6 382.9h0M695.3 404h0M700.6 408.7h0M740.6 388.5h0M721.7 394.5h0M729.5 375.1h0M723.2 369.8h0M706.8 375.5h0M700.8 379.1h0M692.9 396.1h0M674.2 434.2h0M707.5 396.5h0M719.9 387.4h0M686.5 431.1h0M736.4 381.3h0M726.1 391.6h0M687.7 396.8h0M733.2 383.8h0M697.7 412.5h0M702.5 409.4h0M735.4 377h0M725.5 391h0M675.5 438h0M709.6 399.3h0M701.2 378.8h0M735.9 388.1h0M711.8 404.5h0M708 386.6h0M693.1 376.7h0M722.9 379.6h0M718.9 374.6h0M709.7 379.1h0M703.8 413.5h0M735.1 373.4h0M730.6 371.1h0M714.6 382.5h0M726.2 390.7h0M691 384.9h0M728.9 371.7h0M727.8 374.4h0M719.3 377.3h0M700.5 378.3h0M710.2 375.1h0M685.2 432.1h0M689.4 415.6h0M737.6 376.2h0M737.4 386h0M729.7 378.1h0M684.5 433.8h0M700.9 389.2h0M717.1 378.6h0M730.2 369.2h0M722.9 386h0M688.2 398h0M715.1 373h0M737 382.3h0M699.4 384.1h0M734.8 388.5h0M693.5 389.8h0M699.3 384.1h0M691.7 394h0M724.6 385.2h0M703.1 376.2h0M746.8 388.7h0M701.9 383.8h0M726.2 393.9h0M683 433h0M690.5 398.4h0M690.4 415h0M715.6 389.6h0M687.8 398.6h0M701.6 415.1h0M684.7 419.9h0M694.8 410h0M689.6 414.2h0M681.6 435.9h0M692.5 383.5h0M722.8 372.5h0M719.5 386.6h0M677.1 433.1h0M693.5 417.4h0M704.7 390.6h0M719.2 396.1h0M732.6 371.2h0M705.1 396.7h0M670.3 437.3h0M699.8 413.8h0M708.5 387.1h0M706.7 394.5h0M699.2 402.3h0M701.3 378.1h0M688.3 420.5h0M696.7 404.5h0M709.2 375.9h0M696.4 383.3h0M696.4 397.9h0M709.4 402.2h0M673.5 446.1h0M695.1 389.2h0M715.4 400.6h0M698.7 379.1h0M683 423.1h0M684.1 429.4h0M717.3 400.3h0M724.1 383h0M694 377.9h0" fill="none" stroke="#DDB6AA" stroke-width="4.4" stroke-linecap="round"/>
<path d="M696 409.9h0M692.5 387.5h0M727.4 383.1h0M680.1 439.6h0M677.2 440.9h0M719.9 370.5h0M743.8 391h0M705 408h0M725.4 382.8h0M731.8 394.5h0M693.9 410.9h0M736.3 382h0M703.6 388.2h0M682.6 419.5h0M709.3 407.2h0M693.4 393.2h0M692.7 409.8h0M702.2 413h0M691.4 418.1h0M713.8 405h0M703.4 387.1h0M693.9 393h0M713.5 402.1h0M709.5 376.3h0M688.2 429.1h0M720.9 397h0M715.8 382h0M698.2 387.8h0M695.7 409.4h0M694.9 389.8h0M719.9 393.3h0M694.1 385.3h0M678.6 433.2h0M710 391.8h0M714.2 371.4h0M703.2 406h0M714.1 399h0M743.1 385.3h0M727.7 393h0M675.2 436h0M721.4 389.1h0M696.9 397.7h0M732.1 384.8h0M672.1 443.5h0M683.4 433.1h0M728.8 388.2h0M737.3 386.8h0M696.2 385.1h0M705.4 376.3h0M708.4 390.2h0M700.4 409.3h0M724.5 377.6h0M729.3 394.5h0M684.8 420.7h0M693.4 420.2h0M690.3 406.4h0M719.7 390.4h0M698 379.8h0M687.5 409.4h0M685.3 430.2h0M721.8 386.1h0M705.3 395.8h0M693.5 388.9h0M711.1 377.3h0M687.1 413.4h0M671.3 449.2h0M696.2 419.2h0M690.4 388h0M706.7 405.7h0M688.4 393.5h0M700 377.1h0M720.9 395.2h0M692.1 385.6h0M710.8 394h0M679 424h0M727.2 385.2h0M713.6 383.9h0M692.3 420.5h0M673.4 440.5h0M739.6 392.5h0M674.5 436.2h0M727 386.5h0M712.6 402.1h0M691.6 398h0M734 386.5h0M714.4 399.9h0M707.7 383.9h0M683.5 423.9h0M672.9 436h0M697.7 389.6h0M703.2 390.6h0M675.3 429.2h0M678.5 429.3h0M723.4 395.6h0M733.1 383.3h0M739.4 379.7h0M686.6 403.4h0M703.4 393.7h0M689 408.1h0M712.9 401.2h0M714.8 401.9h0M706.7 407.9h0M690.1 381h0M691.2 379.1h0M718.9 385.7h0M675.6 431.6h0M713.1 379.6h0M693.9 412.1h0M718.5 380.1h0M687.5 431.7h0M740.8 383.2h0M706.9 409.3h0M720.7 387.2h0M711.6 376.5h0M703.1 386.7h0M690 395.7h0M700.8 403.7h0M683.6 431.1h0M697.3 410.5h0M673.4 442.3h0M686.2 424.4h0M698.1 384.7h0M708.9 393.7h0M671.2 434.6h0M674.5 437.8h0M692.4 410.2h0M704.4 396h0M716.5 378.6h0M688.4 394.6h0M700.9 407h0M693 413.8h0M697.5 381.7h0M678.9 429.4h0M701.3 392.4h0M719.2 397.5h0M744.8 387.8h0M724.6 397.6h0M686.9 426.8h0M690.5 395.2h0M700 388.6h0M689.4 390.6h0M728.9 375.2h0M682.2 430.7h0M684.1 421.3h0M682.5 418.5h0M710.7 402.6h0M706.7 384.8h0M699.9 416.8h0M687.9 428.9h0M736.5 383.8h0M710.3 377.9h0M696.1 407.8h0M689.3 429.5h0M710.1 385.9h0M684.1 420.4h0M724.7 372.7h0M703.7 391.7h0M690.5 391.2h0M700.2 391.2h0M742 383.6h0M718 397.5h0M719.2 378.6h0M673.4 437.8h0M733.5 370.1h0M731 376.5h0M705.6 399h0M701.5 396.2h0M674 440.1h0M724.7 394.2h0M702 411.5h0" fill="none" stroke="#FDC987" stroke-width="4.4" stroke-linecap="round"/>
<path d="M735.8 356.2h0M744.3 355.6h0M724.1 356.5h0M737 348.5h0M754.3 348.6h0M756.1 360.3h0M709.3 342.9h0M705.7 350.8h0M732.4 380.8h0M767.3 362.4h0M751.1 365.5h0M761.7 354.5h0M749.8 347.8h0M719.1 350h0M731.9 351.3h0M725.5 364.8h0M760.4 372.8h0M733.9 365.6h0M751 373h0M710.2 356.4h0M724.3 375.2h0M712.2 362.9h0M734.4 380.1h0M754.5 352.2h0M713.5 369.2h0M704.8 351.1h0M708.5 353.6h0M774.9 375.3h0M742.6 366.6h0M748.5 372.7h0M710.8 366.8h0M773.8 373.4h0M721.3 361.5h0M706.4 357.9h0M714 353.9h0M728.1 352.9h0M749.3 359.8h0M747.1 352.6h0M768.4 372.2h0M743 355.1h0M764.6 357.4h0M732.9 363.2h0M706.6 360h0M717.9 367.4h0M742.1 356.1h0M732.2 348.2h0M707.4 348.6h0M704.4 348.8h0M717 353.9h0M753.9 374.2h0" fill="none" stroke="#DDB6AA" stroke-width="4.4" stroke-linecap="round"/>
<path d="M622.2 318.3h0M622.9 320.3h0M582.7 333h0M588.2 330.8h0M598.6 324.2h0M628.3 317.3h0M626.8 318.2h0M628.7 313.4h0M599.1 322.1h0M606.7 325.8h0M629.2 316.5h0M636.8 312.6h0M614.2 316h0M595.4 329.6h0M606.5 321.7h0M636.6 308.3h0M594.3 328.9h0M583 333h0M608.7 329h0M636.5 310.2h0M617.2 322.9h0M592.5 333h0M590.3 328.2h0M635.8 315.4h0M607 327h0M629.4 315.5h0M615.6 317.5h0M625.9 319.9h0M592.3 326.3h0M587.8 334.5h0" fill="none" stroke="#C3AFCF" stroke-width="4.4" stroke-linecap="round"/>
<path d="M611.1 317.1h0M605.1 327.7h0M598.9 331.8h0M618.7 321.4h0M592.5 332.3h0M634.7 315.3h0M629.7 312.1h0M595 327h0M622.2 321h0M614.9 316h0M588.2 333.1h0M612.9 317.1h0M595.4 329.5h0M598.6 327.4h0M619.9 318.8h0M587.6 331h0M584.3 330.3h0M621.6 314.4h0M628.3 317.6h0M634.4 315.8h0M615.4 316.9h0M585 329.1h0M608.3 322h0M602.1 330.1h0M619 322.5h0M606.8 325.3h0M608.8 327.6h0M609.3 322.9h0M609.8 319.7h0M621.7 317.7h0M589.8 335.2h0M608.4 328.3h0M604.2 323h0M631.9 312.4h0M588.4 334.3h0M595.4 334.1h0M581.3 331.8h0M612.4 317.6h0M600.9 330.3h0M586.5 330.7h0" fill="none" stroke="#F2BC8F" stroke-width="4.4" stroke-linecap="round"/>
<path d="M617.4 325.2h0M628.3 329.2h0M628.9 318.8h0M617.3 324.8h0M613.4 323.7h0M635.1 320.5h0M632.7 318.1h0M625.2 320.9h0M625.9 322.5h0M628 326.3h0M624.2 321.8h0M643.5 316.1h0M622.3 318.3h0M619.4 318.9h0M626.3 317.7h0M625.4 318.1h0M626.5 333.8h0M635.5 320.2h0M621.8 330.8h0M638.4 319.4h0M620.1 318.2h0M638.5 318h0" fill="none" stroke="#fff" stroke-width="4.4" stroke-linecap="round"/>
<path d="M746.2 379.8h0M746.3 381.9h0M744.2 377.2h0M739.6 377.6h0M738.6 385.1h0M748.1 379.8h0M742.8 382.1h0M738.8 383.6h0" fill="none" stroke="#fff" stroke-width="4.4" stroke-linecap="round"/>
<path d="M909 409.2h0M910.1 410.4h0M907.5 408.3h0" fill="none" stroke="#C95426" stroke-width="4.4" stroke-linecap="round"/>
<path d="M601.3 342.7h0" fill="none" stroke="#7DC87E" stroke-width="4.4" stroke-linecap="round"/>
<path d="M906.6 385.6h0" fill="none" stroke="#A75C2A" stroke-width="4.4" stroke-linecap="round"/>
<line x1="624.3" y1="385" x2="672.7" y2="366.3" stroke="#000" stroke-width="3" stroke-linecap="round"/>
<line x1="701.9" y1="359.3" x2="720.6" y2="392.3" stroke="#000" stroke-width="3" stroke-linecap="round"/>
<path d="M380 495.4h0M399.9 488.5h0M396.3 503.1h0M386.6 501h0M402.5 506.2h0M360.7 480.4h0M398.5 487.4h0M400.1 485.7h0M400.7 486.4h0M436.6 493.1h0M414.2 506.9h0M368.4 484.6h0M423.3 493.4h0M413.9 489.3h0M431.5 506h0M362.8 497h0M433.8 503.3h0M399.2 484.8h0M359.3 479.3h0M418.8 489.5h0M383.3 498.6h0M428 476.2h0M411.9 487.5h0M371.2 493.5h0M370.9 490.5h0M416 485.9h0M429.5 506.6h0M352.5 482.9h0M358 480.7h0M362 488.5h0M420.4 483h0M359.1 483.5h0M432.2 477.9h0M407.8 477.9h0M395.6 508.9h0M414.3 506.7h0M434.6 485.7h0M428.3 507.1h0M378.8 500.7h0M418.9 496.7h0M380.3 479.2h0M396.7 482.9h0M386.2 481.2h0M363.4 479.7h0M409.2 479.7h0M428.8 505.6h0M391.3 480.4h0M408.1 506.4h0M422.2 476.7h0M433 479.6h0M385.5 501h0M376.7 499.1h0M353 485.2h0M376.3 503.1h0M377.5 502.2h0M410.7 485.8h0M381.7 489h0M408 505.5h0M411.3 491.8h0M397.2 494.3h0M398.6 486.3h0M426.4 477.6h0M381.6 478.4h0M408.1 502.6h0M360.2 484.3h0M410.4 499.8h0M418.1 474.6h0M413.9 487.2h0M428.2 476h0M424.1 507.6h0M381.5 483.6h0M427.8 475h0M387.4 483.6h0M397.5 499.3h0M354.2 477.6h0M358.7 489h0M407.5 501.9h0M414.3 474.5h0M437.3 468.1h0M368.4 495h0M407.3 484.5h0M410.4 487.2h0M378.6 481.2h0M413.3 474.8h0M401.7 508.1h0M421.9 503.3h0M375.3 497.1h0M436.4 476.7h0M394.7 480h0M429.9 480.6h0M414.5 502h0M427.5 487.3h0M388.7 502.2h0M394.3 478.1h0M404.6 486.6h0M417.5 505.6h0M399.3 487h0M355.5 480h0M426.4 479.2h0M410.9 496.5h0M385.2 480.6h0M413 501.3h0M435.1 481.2h0M411.2 508.5h0M425.9 487.6h0M434.1 491.2h0M400.3 492.6h0M367.7 484.6h0M395.1 501.9h0M400 482.6h0M435.5 470.8h0M366.9 482.7h0M436.2 487.9h0M386.2 503.5h0M371.6 502.5h0M358.1 493.4h0M432.8 493.9h0M421.2 479.1h0M431.9 486.2h0M415.4 496.8h0M352.4 483.6h0M394 507.5h0M359.7 486.3h0M381.9 494.8h0M390.6 481.4h0M393.4 491.2h0M355.1 481.4h0M373.4 479.6h0M382.4 479.5h0M383.3 497.4h0M358.3 480.3h0M414.3 496.1h0M378 479.8h0M413.3 483.9h0M421.2 507.2h0M364.7 496.9h0M371.7 492.2h0M429 495.2h0M427.3 482.3h0M376.2 491.2h0M382.7 490.4h0M411.2 474.3h0M396.6 487.9h0M379.9 490.1h0M418.7 483.2h0M412.1 488.4h0M432 477.1h0M413.3 484.5h0M375.9 498.9h0M390.4 486.1h0M386 483.3h0M399 495.7h0M425.1 478.9h0M421.1 500.2h0M405.8 486.2h0M433.1 504.1h0M376.2 479.3h0M394.9 485.2h0M420.2 475.8h0M426.5 493.2h0M381.7 501.2h0M436.5 486.8h0M418.5 504h0M377.3 487.3h0M431.1 501.7h0M378 501.3h0M361.6 484.7h0M401.1 480.9h0M404.6 496.4h0M355.4 491.3h0M394.7 483.9h0M396.2 485.9h0M411.8 506.9h0M381.7 480.4h0M421.2 491.6h0M402.7 498.6h0M396.6 503.4h0M399.7 499.8h0M352.5 488.5h0M429.7 488.8h0M411.4 490.7h0M432.1 470.7h0M426.8 510.2h0M368.1 479.9h0M372.9 494h0M412.9 478.6h0M423 487.2h0M394.5 483.4h0M376.5 482.8h0M436.2 481h0M386.1 495.8h0M370.5 501h0M398.2 496.5h0M414.6 492.5h0M410.3 475.9h0M367.5 486.6h0M424.3 477.2h0M418.9 503.7h0M402 498h0M422.7 498.7h0M403.2 483.2h0M431.7 479.1h0M401.3 497.5h0M396.2 483.8h0M405 505.2h0M408.7 500.8h0M402.2 491.4h0M384.8 504.4h0M406.2 491.7h0M404.5 501.9h0M437 476.1h0M434.6 479.8h0M389.1 499.6h0M421.8 482.4h0M378.2 490.7h0M393 485h0M432.1 482.7h0M430.6 494.9h0M396.1 497.2h0M423.8 486.5h0M402.5 490.5h0M437.5 478.3h0M356.2 490.6h0M411.6 477.7h0M424.6 492.6h0M375.3 483.2h0M423.4 501.1h0M378.8 482.5h0M432 479h0M412.2 507.6h0M377.9 501.8h0M411.8 482.5h0M391 505h0M365.3 477.3h0M404.9 477.7h0M390.6 477h0M406.5 496.1h0M432.6 480.6h0M419.6 480.9h0M412.6 485.4h0M427.8 508.3h0M412.7 507.7h0M393 511.2h0M403 504.1h0M407.7 485.5h0M393.7 478h0M431.2 494.3h0M412.6 481.6h0M407.2 507h0M353.5 485.1h0M415.4 478h0M433.1 501h0M369.9 498.6h0M381.7 497.6h0M357.6 489.3h0M381.1 502.7h0M421.9 492.9h0M404.9 509.9h0M390 502.8h0M393.3 481.6h0" fill="none" stroke="#FAE08A" stroke-width="4.4" stroke-linecap="round"/>
<path d="M462.1 456.2h0M434 462.5h0M462.4 457h0M460.8 454.1h0M461.2 439.7h0M431.4 463.2h0M449.5 439.8h0M453.3 435.1h0M447.1 437.8h0M438.6 445.2h0M458.6 449.2h0M444.3 451h0M461.3 440h0M451.5 443.3h0M450.6 448h0M451.1 452.4h0M461.1 433.7h0M445.5 448.5h0M439.4 449.4h0M444.4 441.4h0M428.7 424.8h0M455 434.9h0M449.9 430.1h0M447.1 446.6h0M461.2 449.4h0M453.9 459.4h0M439.5 462.7h0M449.6 436.6h0M453.8 441.1h0M459.6 451h0M453.6 447h0M430.6 464.9h0M458.3 455.7h0M460.3 451.6h0M447.6 447.1h0M438 433.3h0M438.6 434.4h0M435.1 466.6h0M432.3 425h0M441.8 448h0M451.4 461.6h0M456.6 433.2h0M449.7 459.7h0M461.3 441.5h0M450.8 457.2h0M440.8 428.3h0M461.2 444.7h0M447.7 429.8h0M447 442.8h0M438 447.3h0M455.6 452.6h0M428.6 464.8h0M441.9 451.5h0M440.7 434.8h0M446 445.5h0M458.1 431.4h0M450 447.1h0M435.3 461.1h0M432.6 457.8h0M430.3 462.6h0" fill="none" stroke="#FAE08A" stroke-width="4.4" stroke-linecap="round"/>
<path d="M513.3 492.3h0M521.4 491.7h0M516.7 489.4h0M522.3 484.2h0M515 490.3h0M509.6 487.9h0M515.9 492h0M509.1 473.8h0M519.2 484.9h0M508.6 488h0M518.1 489h0M518.2 483.6h0M525.5 487.6h0M510.7 476.7h0M519.9 482.5h0M513.9 483h0M520.4 482.8h0M514.6 482.7h0M523.4 494.2h0M515.5 493.2h0M518.2 492.6h0M511.7 490.8h0M515.6 493.3h0M510.6 486.7h0M525.3 498.6h0M519.8 485h0M521.7 486.7h0M523.4 498.6h0M522.4 487.7h0M513.4 494.8h0M525.9 488.4h0M518.6 490h0M515.7 484.6h0M509.1 489.2h0M522.1 493.3h0M516.8 489.7h0M509.8 478h0M518.7 481.1h0M522 484.7h0M513.3 487.6h0" fill="none" stroke="#FDC987" stroke-width="4.4" stroke-linecap="round"/>
<path d="M526.1 497h0M518.7 492.9h0M526.7 492.7h0M520.4 494.4h0M510 488.8h0M513.1 486.7h0M509.4 480.7h0M518.3 495.7h0M520.5 495.5h0M514 491.8h0M512.1 492h0M518.3 498h0M522.9 491.7h0M518.8 495.7h0M524.4 491.8h0M517.2 485.5h0M509.3 476.8h0M524.3 492.6h0M519.4 487.6h0M515 494.9h0M513.1 494.5h0M521.9 494.8h0M510.5 484.2h0M518 494.3h0M517.4 490h0" fill="none" stroke="#FAE08A" stroke-width="4.4" stroke-linecap="round"/>
<path d="M438 464.8C440.4 460.7 447.5 459.7 453.5 458.4C459.5 457.1 467.2 457.5 474.1 457.1C481 456.6 489.2 454.5 494.7 455.8C500.3 457.1 505.2 461.2 507.6 464.8C510.1 468.5 510.4 473.4 509.7 477.7C509.1 482 507.1 487.2 503.8 490.6C500.4 494.1 495 496.2 489.6 498.4C484.2 500.5 477.5 502.7 471.5 503.5C465.5 504.4 458.2 504.8 453.5 503.5C448.7 502.2 445.5 499.2 443.2 495.8C440.8 492.3 440.1 488 439.3 482.9C438.4 477.7 435.6 468.9 438 464.8Z" fill="#759BAB" stroke="#759BAB" stroke-width="0.6" stroke-linejoin="round"/><path d="M440.2 467.3h0M439.9 465.4h0M445.2 462.5h0M447.2 464.5h0M447.9 462.7h0M450.3 460.9h0M451 461.5h0M451.9 461.5h0M454.9 459.1h0M457 460.8h0M457.6 460.4h0M460.4 459.7h0M462.9 462.1h0M464.8 459.1h0M469.4 458.4h0M468.6 460.6h0M469.5 457.7h0M474.3 459.2h0M473.6 458.6h0M475.3 458.6h0M478 460h0M481.6 456.3h0M481.5 459.8h0M487.9 456.8h0M487 457.2h0M489 458.7h0M494.7 456.7h0M492.9 457.5h0M495 461h0M493.9 458.6h0M500.5 459.3h0M499.1 462.6h0M502.1 462.6h0M503.3 463.4h0M504.6 468.3h0M506.4 462.9h0M504.2 467h0M504.3 470.1h0M508.2 473.3h0M506.1 473.4h0M504.9 474.6h0M508.2 479.1h0M506 480.8h0M505.5 480.8h0M503.2 483.7h0M505.1 486.3h0M502.5 486h0M503 491.2h0M503 490h0M498.3 490.4h0M501.5 493.4h0M495.9 493.8h0M496.2 494.8h0M494.3 494.1h0M492 495.9h0M489.5 495.8h0M487.8 498.2h0M486.6 499.3h0M486 495.5h0M480.7 498.4h0M482.7 501.6h0M477.4 497.6h0M476.5 500.4h0M472.4 501.3h0M472.1 502.8h0M472.5 503h0M466.8 503.1h0M466.2 501.7h0M463 499.9h0M463.8 501.2h0M460.7 501.2h0M457.7 503.2h0M458.1 501.1h0M455.5 500.6h0M451.4 500.1h0M452.8 499.6h0M451.9 498.5h0M449 497h0M447.6 495.4h0M446.5 493.8h0M443 494h0M442.2 492.8h0M444.5 489.8h0M441.9 489h0M440.4 485.6h0M440.4 484.6h0M441.6 480.5h0M442.4 477.9h0M440.1 479.9h0M439.8 473.8h0M441.1 473h0M439.9 472.3h0M442.8 465.2h0M439.5 468.7h0M440.2 465.7h0" fill="none" stroke="#759BAB" stroke-width="4.4" stroke-linecap="round"/>
<path d="M352.3 449.3C353.2 446.5 356.6 441.2 360.6 437.7C364.5 434.3 370.9 431.1 376.1 428.7C381.2 426.3 385.5 424.2 391.6 423.5C397.6 422.9 406.2 424 412.2 424.8C418.2 425.7 422.5 428.5 427.7 428.7C432.8 428.9 438 425.5 443.2 426.1C448.3 426.8 456.9 430.4 458.6 432.6C460.4 434.7 456.9 437.7 453.5 439C450 440.3 441 438.6 438 440.3C435 442 435.4 446.8 435.4 449.3C435.4 451.9 439.3 453.6 438 455.8C436.7 457.9 432 460.5 427.7 462.2C423.4 464 417.4 465.9 412.2 466.1C407 466.3 401 465 396.7 463.5C392.4 462 389.8 457.9 386.4 457.1C383 456.2 379.5 458.4 376.1 458.4C372.6 458.4 369.2 457.7 365.8 457.1C362.3 456.4 357.7 455.8 355.4 454.5C353.2 453.2 351.5 452.1 352.3 449.3Z" fill="#C5178A" stroke="#C5178A" stroke-width="0.6" stroke-linejoin="round"/><path d="M355.1 451.8h0M355.5 445.6h0M356.8 446.9h0M358.1 445.7h0M360.3 443.4h0M360.1 441.6h0M362.3 438.3h0M362.6 439h0M365.9 437.8h0M366.1 436.8h0M366.7 434.9h0M369 431.7h0M371.2 434.2h0M373.1 433.5h0M375.3 432.6h0M379.2 429.2h0M377.7 427.9h0M381.9 427.8h0M384.1 427h0M384.9 427.5h0M387.9 426.6h0M388 425.3h0M392.2 426.3h0M391.3 424.8h0M395.2 425.4h0M395.4 425.9h0M397.7 423.6h0M400 426.4h0M403 425.9h0M403.9 425.9h0M406.1 424.7h0M409.3 425.5h0M411.9 426.6h0M413.1 425.6h0M416 427.6h0M416 429.4h0M421.3 427.2h0M422.8 428.9h0M423.6 428.7h0M423 429.9h0M431.2 429.3h0M428.7 431.2h0M432.8 429.4h0M434.8 429.8h0M437.3 428.4h0M438.4 427.5h0M441.3 427.9h0M444 429.7h0M444.3 428.2h0M448.1 429.9h0M447.8 429.3h0M450 431.7h0M455.1 430.8h0M456.6 432.6h0M458.4 435.1h0M456.2 431.7h0M453.6 435.3h0M454.1 434.8h0M451.9 437h0M453 437.5h0M449.8 436.3h0M447.9 438.2h0M445.1 438.5h0M441.2 438.7h0M439.4 437.8h0M439.6 438.5h0M436.2 439.4h0M436.6 440.1h0M435.6 448h0M436 447.1h0M434.7 450.2h0M436.2 452.6h0M435.2 457.4h0M434.9 455.2h0M433.8 455.7h0M432.8 455.5h0M430.2 457.8h0M429.3 459.6h0M427.4 459.2h0M426.3 461.2h0M419.3 461.1h0M423.9 461.6h0M419.7 462.8h0M418.4 464.1h0M417 462.8h0M414.9 462.7h0M410.9 465.5h0M406.7 464.9h0M407.4 462.9h0M405.5 463.8h0M400.6 464.3h0M401.1 461.6h0M397.6 461.6h0M396.8 462.9h0M397.2 459.7h0M393.8 459.3h0M394.1 460.1h0M388.1 456.9h0M388.9 456.8h0M385.9 456h0M383.3 455.5h0M382.9 456.4h0M378.7 457.3h0M376.8 457.1h0M376 456.5h0M372.8 455.1h0M367.7 455h0M370.1 453.9h0M367 455.4h0M364.9 454.7h0M363.6 453.2h0M362.2 452.1h0M359.5 455.7h0M353.4 454.4h0M355 451.4h0M356.8 451.8h0M355 449.8h0" fill="none" stroke="#C5178A" stroke-width="4.4" stroke-linecap="round"/>
<path d="M453.3 437.5h0M450.6 432.2h0M438.5 431.1h0M442.5 432.8h0M453.9 437h0M450.3 440.4h0M433.9 434.5h0M455.1 436.5h0M435.9 437.7h0M440 432.1h0M451.4 433h0M456.1 432.3h0M454.1 439.7h0M430.8 432.8h0M437.4 430.7h0M449.2 441.4h0M444.6 440.9h0M436.6 430.4h0M437.1 439.3h0M438.6 433.2h0M456.9 436.5h0M441 439.9h0M432.4 431.3h0M448.4 435.1h0M450.6 439.2h0M451.9 431.7h0M430.9 432.5h0M440.6 435.2h0M440.4 441.5h0M443.8 439.4h0M454.8 436.5h0M434.9 432.8h0M433.5 432h0M456.9 433h0M446.9 439.8h0M436.2 436.6h0M445 438.9h0M444.2 432.9h0M444.5 441.2h0M454.5 439.6h0M445.6 436.2h0M445.8 437.4h0M435.2 431.7h0M444.1 437.3h0M454.3 432.2h0M434.1 429.9h0M436.6 433.2h0M431.3 430.4h0M434.2 438.9h0M451.5 437.7h0" fill="none" stroke="#C5178A" stroke-width="4.4" stroke-linecap="round"/>
<path d="M394.1 493.2C396.7 489.5 400.6 483.1 404.5 480.3C408.3 477.5 413.9 478.1 417.4 476.4C420.8 474.7 422.7 470.2 425.1 470C427.5 469.8 431.1 472.6 431.5 475.1C432 477.7 429.2 482.4 427.7 485.5C426.2 488.5 422.3 490.2 422.5 493.2C422.7 496.2 428.5 500.7 429 503.5C429.4 506.3 428.7 508.7 425.1 510C421.4 511.3 412.2 511.5 407 511.3C401.9 511 397.1 510.2 394.1 508.7C391.1 507.2 389 504.8 389 502.2C389 499.6 391.6 496.9 394.1 493.2Z" fill="#3F68AE" stroke="#3F68AE" stroke-width="0.6" stroke-linejoin="round"/><path d="M397.6 496.5h0M397.2 494.3h0M400.7 490.9h0M402.2 489.1h0M402.9 486.9h0M402 488.3h0M403.7 484.8h0M403.3 485.4h0M404.6 479.9h0M405.3 479.8h0M410.9 479.9h0M412.8 479.7h0M415.7 478.8h0M415.1 478.6h0M418.5 478h0M420.9 474.2h0M423.2 473.6h0M425 473h0M426.1 471.4h0M424.3 469.5h0M425.4 470.7h0M427.5 475.3h0M430.5 473.1h0M430 479.1h0M428 477.6h0M429.9 480.6h0M428 482.3h0M427 486.3h0M426.9 485.6h0M425.5 484.9h0M420.9 490.3h0M423.5 489.9h0M422.6 494h0M422.7 493.9h0M423.1 499.8h0M423.1 498.9h0M425.5 501.6h0M427.7 501.4h0M425.2 504.5h0M425.9 506h0M425.3 508.7h0M424.8 509.7h0M422.6 509.1h0M418.3 507.4h0M416.4 511.3h0M415.6 510.4h0M411.7 507.6h0M414.3 509.3h0M411.6 509.6h0M412.1 509.6h0M408.6 509.5h0M403.9 508.9h0M401.9 509.7h0M403.2 507.7h0M397.1 506.6h0M395.1 510.6h0M393.2 505.1h0M396.2 505.4h0M392.7 504.9h0M390.9 500.7h0M391.4 502.3h0M394 499.9h0M392.5 498.7h0M394 496.8h0M396.9 494.9h0" fill="none" stroke="#3F68AE" stroke-width="4.4" stroke-linecap="round"/>
<path d="M383.7 490.3h0M370.9 494.9h0M364.6 494h0M390.5 482.9h0M392.1 488h0M368.7 481.2h0M361.6 478.6h0M363.5 486.7h0M383.3 498.7h0M383.5 500.1h0M394.4 497.9h0M366.5 478.7h0M379.3 486.2h0M395.9 478.3h0M394.4 484.3h0M383 494.6h0M374.6 495.7h0M389.9 480.6h0M388.9 500.6h0M389.2 491.5h0M379.6 480h0M378 484.6h0M365.1 482.3h0M390.7 490.1h0M391.5 481.8h0M392.5 487.4h0M391.8 491.9h0M368.6 486h0M358.8 490.6h0M365.1 485.1h0M370.6 488.8h0M393.5 479.5h0M369.2 490.3h0M376.1 498h0M377.2 493.2h0M382.6 486.4h0M373 482.6h0M382.9 480.4h0M390.1 487.2h0M371.7 496.1h0M366.8 493.6h0M387.4 493.2h0M361.2 480.5h0M386.2 491.8h0M377.7 500.7h0M396 481.7h0M362.7 488.7h0M367.7 491.4h0M358.6 478.6h0M358.2 480.3h0M368.7 496h0M378.9 481.5h0M379.5 500.6h0M395.1 480.9h0M383.8 479.7h0M390.9 485.3h0M381 498.9h0M373.3 485.1h0M356.6 493.3h0M382.7 493.5h0M357.7 485.6h0M365.8 481.3h0M358.9 483h0M390.8 497.8h0M380.1 485.2h0M360 480.4h0M394.4 484.1h0M394.8 484.6h0M358.4 485.2h0M390.8 497.6h0M380.1 490h0M372.9 485.7h0M394.1 486.9h0M358.8 491.3h0M370.1 485.1h0M394.4 493.2h0M373.9 499.2h0M362 481.9h0M395.6 480.3h0M385.7 484.4h0M384.8 485.2h0M363.1 494.4h0M386.2 484.6h0M355.8 485.9h0M377.4 484.8h0M386.9 488.7h0M363.4 490.3h0M360 494.2h0M395.7 483.1h0M361.7 491.2h0M364.5 480.3h0M375.6 482h0M383.1 489.4h0M377.3 496.1h0M387.6 483.7h0M363.6 484.4h0M375.9 494.8h0M359.3 483.8h0M393.7 491.5h0M379.1 487.7h0M368.1 486.4h0M374.5 485.6h0M380.4 481.2h0M375.5 496.6h0M386.9 493.6h0M387.2 485.3h0M388.6 499.1h0M381.3 493.6h0M364.1 487h0M384.5 491.4h0" fill="none" stroke="#3F68AE" stroke-width="4.4" stroke-linecap="round"/>
<path d="M416.8 467.1h0M420.4 483h0M423.3 490.7h0M406.2 466.4h0M413.3 474.6h0M414.6 466.1h0M421.9 477.4h0M410 464.2h0M417.4 482.3h0M423.3 474.4h0M417.7 466.3h0M432.1 480.8h0M404.7 466.6h0M401.3 463.6h0M425.7 481.5h0M418.1 468h0M422 466.7h0M427.4 490.6h0M433 477.8h0M425.2 469.7h0M411.4 467.2h0M410.8 466.7h0M419.9 464.6h0M405.5 464.2h0M422.3 466.7h0M430.6 476.7h0M407.4 464.1h0M424.3 482.3h0M423.6 465.7h0M415.9 480.3h0M423.9 478.5h0M413.6 468.7h0M410.8 470.6h0M413.9 470.4h0M425.2 467.1h0M428.5 494.1h0M426.7 469h0M425.1 465h0M415.5 477.4h0M411.7 473h0" fill="none" stroke="#3F68AE" stroke-width="4.4" stroke-linecap="round"/>
<path d="M440.2 500.7C440.6 499.7 444 500.6 445.8 501.2C447.7 501.9 449.2 503.6 451.4 504.6C453.7 505.5 456.5 506.7 459.3 506.8C462.1 506.9 465.3 506.1 468.3 505.1C471.2 504.2 474.4 502.8 477.2 501.2C480 499.6 482.8 497.3 485.1 495.6C487.3 493.9 489 491.7 490.7 491.1C492.4 490.6 495.2 491.1 495.2 492.2C495.2 493.4 492.6 496 490.7 497.9C488.8 499.7 485.8 502 484 503.5C482.1 505 478.7 506.3 479.5 506.8C480.2 507.4 484.9 506.9 488.4 506.8C492 506.7 498.5 505.6 500.8 506.3C503 506.9 503.6 510 501.9 510.8C500.2 511.5 494.1 510.5 490.7 510.8C487.3 511 484.7 512.2 481.7 512.4C478.7 512.6 475.4 512.1 472.7 511.9C470.1 511.7 468.6 511.3 466 511.3C463.4 511.3 460 512.1 457 511.9C454 511.7 450.3 511 448.1 510.2C445.8 509.3 444.9 508.4 443.6 506.8C442.3 505.2 439.8 501.6 440.2 500.7Z" fill="#E8106E" stroke="#E8106E" stroke-width="0.6" stroke-linejoin="round"/><path d="M442.8 500.9h0M446.6 502.3h0M444.4 500.6h0M448 505h0M450.1 506.2h0M452.8 504h0M452.7 506.1h0M455.8 508.3h0M458.1 509.9h0M458.6 509.5h0M464.6 508.2h0M463.5 507.6h0M467 506.4h0M471.5 505.3h0M474.2 507.1h0M473 503.8h0M476.6 504.4h0M475.2 501.9h0M482.5 499.3h0M483.8 499.9h0M484.5 497h0M485.2 494.8h0M488.9 494.5h0M491 493h0M491.6 493.4h0M495 493.6h0M493.3 491.4h0M490.1 494h0M490.7 495.1h0M488.5 496.8h0M487 498.3h0M483.7 499.7h0M485.5 500.5h0M482 501.4h0M482 505.4h0M482.8 508.2h0M483 508.3h0M485.8 507.5h0M488.1 507.7h0M492.2 508.8h0M490.8 508.6h0M492 507.9h0M496.6 507.6h0M499.3 506.4h0M501.9 507.2h0M501.5 505.7h0M500.1 510h0M501.1 510h0M499.2 508h0M496 508.4h0M494.2 509.2h0M495.8 506.5h0M490.1 508.6h0M485.3 509.8h0M486.9 508.8h0M482.3 510.4h0M481.2 509.5h0M478.9 512.2h0M476.2 511.1h0M474 512h0M471.9 511.8h0M467.9 511.1h0M465.7 507.9h0M464.3 509.8h0M463 509.8h0M461.1 509.3h0M459 511.2h0M455.7 509.8h0M453.4 509.9h0M450.6 507.6h0M449.7 507.8h0M448.6 507.7h0M445.1 507.3h0M443.5 504.3h0M443.1 502.8h0M440.8 500.1h0" fill="none" stroke="#E8106E" stroke-width="4.4" stroke-linecap="round"/>
<path d="M495.3 493.3h0M445.3 469.9h0M461.1 486.7h0M513.7 472.5h0M459.4 481.8h0M514.3 491.9h0M460.9 502.8h0M451.7 483.7h0M455.3 459h0M465.3 490.3h0M496.9 461.6h0M488.6 496.4h0M442.3 496.8h0M507.3 469.8h0M506.9 489.9h0M466.5 489.7h0M505.1 480.2h0M483.8 463.9h0M507 499h0M477.7 458.9h0M515.9 481.9h0M488 491.4h0M457.7 502.6h0M485.9 485.5h0M467.3 483.3h0M456.5 490.2h0M498.4 479.2h0M502.2 481.3h0M455.5 469.5h0M464.7 472.6h0M451 501.1h0M467.1 463.4h0M448.1 478.4h0M443.9 476.7h0M450 478.4h0M449.2 466.1h0M481.2 496.6h0M502.9 460.8h0M464.1 483.1h0M500.3 501.8h0M483.9 460.5h0M440.9 483.4h0M497.1 492.9h0M438.2 463.4h0M479.7 465.2h0M447 487.7h0M450.6 485.8h0M459 458.5h0M478.5 494.6h0M502.6 469.9h0M465.6 481.9h0M484 457.3h0M515.6 495.7h0M500.8 457.7h0M485.2 460.6h0M446.6 480.4h0M480 476.6h0M500 482.8h0M473.9 499.6h0M455.8 481h0M443.9 495h0M455.2 483.2h0M497.8 457.5h0M445.5 479.8h0M489.7 463.5h0M466.9 503.1h0M493.1 462.4h0M490.2 467.3h0M458 491.9h0M503.2 461.7h0M442.1 465.9h0M499.9 473.8h0M476.1 492.4h0M463.2 478.6h0M516 494.5h0M483.2 471.1h0M521.4 492.4h0M477.6 477.4h0M473.9 499.9h0M479.6 492.1h0M481.3 501.1h0M508.8 469.2h0M505.9 489.3h0M475.3 460.6h0M446.5 472.1h0M491.4 499.4h0M470.3 490.4h0M488.7 500.9h0M500.7 468.6h0M469.8 455.2h0M490.4 455.7h0M445.1 483.9h0M512.8 497.5h0M480.5 498.2h0M488 499.4h0M496 469h0M486.7 492.5h0M481.5 468.8h0M476.2 480.6h0M441 481.9h0M490.3 462.2h0M497.7 477h0M462 503.9h0M494.3 471.6h0M480.7 495.5h0M463 458.2h0M481.9 467.8h0M461.8 488h0M482.7 475.7h0M486.4 470.6h0M453.5 468.7h0M516 479.4h0M454.1 502h0M447.4 484h0M453 460.3h0M478.5 499.3h0M485.8 454h0M456.1 505.7h0M504.8 480.8h0M465.5 469.9h0M441.1 465.4h0M510.1 472.5h0M496 468.6h0M475.2 459.6h0M457.7 471.7h0M441.3 498.4h0M480.6 471.9h0M491.2 477.2h0M465.1 473.5h0M475.7 469.4h0M469.3 477.9h0M511.2 495.9h0M511.5 478h0M510 488.7h0M465.9 485.3h0M442.7 487.5h0M494.1 471.9h0M466.4 495.2h0M463.4 481h0M464.9 470.5h0M486.1 498h0M506.5 473.7h0M450.4 462.9h0M507.5 463.7h0M459.5 494.2h0M459.5 475.7h0M517.9 488.1h0M482.8 459.7h0M465 462.8h0M462 461.3h0M495.2 494.3h0M506.4 480.1h0M450.3 493.7h0M491.6 459.7h0M508.3 491h0M486.9 467.4h0M489.6 456.2h0M474.9 483h0M496.8 481.5h0M456.2 489.2h0M480.9 488.6h0M465.1 493.5h0M455.8 471.5h0M442.9 494.8h0M456.9 497.1h0M489.1 496.7h0M497 462.8h0M500.6 496.1h0M475.1 494.7h0M465.4 458.2h0M481.3 457h0M469.1 502.1h0M511.1 492.8h0M471.7 461h0M482.2 457.8h0M503.4 495.6h0M445.4 470h0M483.1 473.6h0M497.2 455.1h0M502.3 488.3h0M457.2 457.4h0M449.3 461.4h0M477.5 461.4h0M439 472.9h0M507.3 484.8h0M460.2 468.4h0M473.1 475.7h0M490.4 462.3h0M489.6 486.9h0M511.3 496.2h0M503.3 484.1h0M493.4 485.1h0M468.8 457.8h0M447.5 501.2h0M477.4 474.2h0M514.5 478.9h0M465.9 474.4h0M480.2 485.7h0M498.4 455.4h0M502 490.8h0" fill="none" stroke="#843E97" stroke-width="4.4" stroke-linecap="round"/>
<path d="M462.5 497.9h0M516.3 491.8h0M462.2 480.2h0M486.4 467.7h0M487.8 485h0M476.1 466.7h0M478.3 485.8h0M518.9 487.3h0M442.1 470.2h0M449.8 499.7h0M493.9 500.3h0M441.9 476.4h0M467 485.8h0M486.5 487.3h0M477.6 486.4h0M485 485.9h0M492.5 473.2h0M488.7 473.9h0M500.9 480.4h0M442.5 473.1h0M444.6 476.6h0M500.4 475.3h0M440 463.9h0M473.1 466.5h0M508.4 464.7h0M518.9 489.4h0M457.6 475.5h0M487.6 461.8h0M496 480.1h0M449.8 482.9h0M459.6 466.3h0M465 493.8h0M483.3 460.9h0M492.9 461.8h0M470.9 479.1h0M458.3 461.1h0M482.6 495.9h0M468 488.2h0M461.3 487.6h0M495.6 477.4h0M490.7 495.8h0M513.6 479.3h0M466.3 463.3h0M462.8 490.4h0M445.2 485.7h0M442.2 494.5h0M456.9 476.9h0M511.1 492.6h0M447.9 488.6h0M457.6 485.8h0M478 479.7h0M492.2 475.3h0M504.5 486.2h0M459.6 464.3h0M493.4 482.3h0" fill="none" stroke="#C5178A" stroke-width="4.4" stroke-linecap="round"/>
<path d="M451.7 476h0M463.2 486.1h0M443 472h0M449.5 471.7h0M481.7 485.5h0M484.6 486.6h0M458.4 486.6h0M469.6 454.3h0M468.8 493.4h0M473.1 485.8h0M496 476.2h0M456.5 492.8h0M477.9 480.8h0M467 482h0M489.9 497.1h0M497.8 482.4h0M510.1 493.8h0M460.8 492.7h0M452.7 486h0M442.6 488.9h0M504.5 491.6h0M483.4 494.5h0M455.8 478.3h0M485.4 468h0M485.8 454.2h0M465.2 491.8h0M482.7 491.2h0M485.6 495.2h0M480.2 492.7h0M508.5 466.6h0M476.5 457.3h0M513.2 492.3h0M442.5 470.9h0M497.8 464.8h0M453.8 469.8h0M471.5 479.8h0M458.7 468.5h0M455 464.2h0M480.2 487.2h0M479.1 458.8h0" fill="none" stroke="#E8106E" stroke-width="4.4" stroke-linecap="round"/>
<path d="M448.2 484.8h0M445.8 493.5h0M498.1 466.6h0M468.5 460.9h0M477.7 468.5h0M479.8 474.8h0M507.7 474.4h0M474.4 473.2h0M472.6 491.9h0M467.5 481.2h0M473.6 489.5h0M465.6 503.3h0M458.7 464.3h0M447.9 462.3h0M513.3 500.8h0M475.9 494.2h0M501.7 486.9h0M487.4 485.2h0M444.5 486.7h0M489.5 499.9h0M503.4 479.2h0M490.3 467.9h0M458.1 461.6h0M488.6 468.9h0M457 491.6h0M474.4 489.1h0M515.4 497.9h0M509.8 485.6h0M491.5 453.6h0M483.7 456.4h0M492.4 456.3h0M507.7 463.4h0M443.2 469.1h0M495.7 484.5h0M462.7 475.1h0M438.8 462.9h0M454.3 487.8h0M493 457.4h0M503.6 495.6h0M502.9 458.5h0M443.4 487.9h0M519.6 491.5h0M446.9 463.9h0M472.1 489.9h0M467.5 467h0M501.2 471.5h0M469.9 457.8h0M461.6 493.2h0M462.6 487.7h0M458.7 478.5h0M449.7 479.9h0M490.6 454.3h0M449.5 464.8h0M456.2 476.7h0M445.9 483.1h0M482.2 459.8h0M478.8 476.7h0M466.4 486.2h0M467.4 489.9h0M483.7 485.3h0M472.4 458.3h0M502.8 469.6h0M443.6 472.6h0M456.4 490.8h0M488 458.6h0M500.4 474.7h0M488.7 468.8h0M450.8 470.9h0M494.6 479.8h0M501.7 493.1h0M470.4 455.6h0M452.2 469.4h0M497.4 475.7h0M473.3 461.5h0M504.2 492.2h0M491.4 500.7h0M441.1 496.5h0M504 478.4h0M441.2 492.6h0M507.8 500.3h0M505 481.9h0M486.5 458.1h0M494.6 468.2h0M454.5 467.2h0M483.3 469.7h0M470.3 479.3h0M450.7 481.5h0M439.7 476.1h0M489.1 481h0M439.5 480.8h0M460.9 497h0M509.6 495.7h0M477.6 464.7h0M447.9 486.6h0M450.9 488.1h0M449.8 476.8h0M493.1 487.4h0M464.5 484.3h0M514.3 493.5h0M476.4 455.3h0M445.1 463.8h0M440.4 489h0M491.7 455.7h0M496.9 468h0M471.6 479.2h0M462 499.8h0M478 458.4h0M465.7 493h0M501.2 498.8h0M515 486.4h0M517.6 490.6h0M459 498.3h0M479.6 459.3h0M471.5 454.2h0M444.3 488.5h0M486.2 481.3h0M463.8 473.4h0M473.6 501.4h0M484.5 499.4h0M485.5 471h0M449.6 480.2h0M494.9 454.4h0M468.8 488.8h0M461.7 504.6h0M485.8 493.1h0M454.3 497.4h0M467.6 460.2h0M475.8 463.2h0M476.6 501.3h0M471.4 464h0M500 471.8h0M488 495.7h0M460.1 465h0M447.5 487.9h0M443.6 498.2h0M504.4 493.1h0M497.9 484.1h0M494.8 469.4h0M461.9 458.3h0M440.7 462.3h0M464.1 480.2h0M498.6 460.9h0M516.6 497.9h0M476.9 458.7h0M485.8 454.1h0M448.8 485.5h0M467.8 501.9h0M490 489.6h0M510.2 479.5h0M472.4 487.4h0M446.8 462.7h0M446.5 494.2h0M490.9 462.9h0M455.3 470.7h0M504.5 485.3h0M522.7 492.3h0M504.8 491.4h0M501.4 481.1h0M519.4 492.3h0M481.6 485.6h0" fill="none" stroke="#759BAB" stroke-width="4.4" stroke-linecap="round"/>
<path d="M472.3 472h0M457.3 490.1h0M455.5 492.7h0M507.1 459.7h0" fill="none" stroke="#C95426" stroke-width="4.4" stroke-linecap="round"/>
<path d="M403.6 480.9h0M415.7 503.4h0M397 484.2h0M399 490.7h0M427.1 472.9h0M401 498.4h0M386.4 490h0M420.6 502h0M377.6 481.8h0M424 487.1h0M391 484.1h0M427.3 510.8h0M425.8 505.6h0M416.4 502.6h0M436.7 503.1h0M434.4 505h0M379.1 491.6h0M435.3 498.8h0M409.4 492.5h0M402.5 504h0M402.3 506h0M400.4 486.7h0M399.1 475.3h0M398.4 482.2h0M425.3 479.7h0M420.6 492.1h0M411.3 501.5h0M430 471.1h0" fill="none" stroke="#C5178A" stroke-width="4.4" stroke-linecap="round"/>
<path d="M390.5 506.8h0M397.8 483.5h0M389.2 501.4h0M405.2 487.3h0M428.6 472.3h0M423.8 499.2h0M424.9 489.1h0M418.6 471.2h0M411.2 483.6h0M433.1 500.4h0M407.4 494.3h0M380.6 479.8h0M421 507.6h0M377.7 481h0" fill="none" stroke="#E8106E" stroke-width="4.4" stroke-linecap="round"/>
<path d="M448 519.1h0M443.9 513.7h0M446.6 519.2h0M445.5 519.3h0M456.7 518.5h0M455.5 525.3h0M457.1 514.2h0M456.8 516.4h0M446.9 515.7h0M454.8 521.1h0" fill="none" stroke="#843E97" stroke-width="4.4" stroke-linecap="round"/>
<path d="M474.1 520.3h0M454 524.7h0M474.6 546.9h0" fill="none" stroke="#E8106E" stroke-width="4.4" stroke-linecap="round"/>
<path d="M470.2 544.8h0M385.1 509.2h0M351.6 502.5h0" fill="none" stroke="#FAE08A" stroke-width="4.4" stroke-linecap="round"/>
<path d="M365.2 450.6h0M386.4 445h0M434.1 442.9h0M435.9 445.5h0" fill="none" stroke="#696969" stroke-width="4.4" stroke-linecap="round"/>
<path d="M319.1 517.5C319.3 516 321.1 515 322.4 513.6C323.7 512.2 325.2 510.5 326.9 509.1C328.6 507.7 330.8 505.3 332.5 505.1C334.2 505 336.6 506.9 337 507.9C337.4 509 334.6 510.3 335 511.3C335.4 512.3 337.6 513.6 339.3 514.1C340.9 514.6 343 514.5 344.9 514.1C346.7 513.7 348.9 512.4 350.5 511.9C352.1 511.3 353.6 510.6 354.4 510.8C355.2 510.9 356.2 512 355.5 513C354.9 514 352.3 515.8 350.5 516.9C348.7 518 346.9 519 344.9 519.7C342.8 520.5 340 520.4 338.1 521.4C336.3 522.4 335.1 524.5 333.7 525.9C332.2 527.3 330.7 529.6 329.2 529.8C327.7 530 326.1 528.2 324.7 527C323.3 525.8 321.7 524.1 320.8 522.5C319.8 520.9 318.8 519 319.1 517.5Z" fill="#BFD2A0" stroke="#BFD2A0" stroke-width="0.6" stroke-linejoin="round"/><path d="M320.4 519h0M322.8 514.5h0M324.6 513.7h0M325.9 513.1h0M326 512.1h0M328.9 510.4h0M330.1 508.5h0M332.4 507h0M333.7 507.3h0M334.2 508.6h0M334.4 509.1h0M335.2 513.6h0M338.6 516.2h0M339.6 515.6h0M346.2 515.3h0M347.5 515h0M348 514.2h0M349.1 514.2h0M351.3 513.3h0M354.4 512.4h0M353.9 512.8h0M354.4 512.1h0M352.4 513.3h0M349.2 515.5h0M348.5 515.7h0M346.8 515.7h0M344.9 517.5h0M343.6 518.1h0M342.5 518.7h0M338.6 519.2h0M334.4 521.2h0M335.1 522.7h0M333.8 522.7h0M329.9 525.9h0M331.3 526.4h0M329.1 527.8h0M325.7 526.7h0M324 522.6h0M323.5 524.3h0M321.2 520.6h0M320 517.5h0" fill="none" stroke="#BFD2A0" stroke-width="4.4" stroke-linecap="round"/>
<path d="M328.6 513.6h0M330.5 513.8h0M336.1 518.6h0M341.2 514.9h0M345.1 517.6h0" fill="none" stroke="#C5178A" stroke-width="4.4" stroke-linecap="round"/>
<path d="M347.7 514.1h0M349.4 514.9h0" fill="none" stroke="#843E97" stroke-width="4.4" stroke-linecap="round"/>
<line x1="474.6" y1="510.7" x2="483.1" y2="544.3" stroke="#000" stroke-width="3" stroke-linecap="round"/>
<path d="M725.4 515.2C725.4 514.3 726.4 513.2 729.2 513C732 512.9 737.7 514.1 742 514.1C746.2 514.1 750.5 512.7 754.8 513C759 513.4 763.6 516.4 767.5 516.2C771.5 516.1 774.7 513.4 778.2 512C781.8 510.5 785 509.2 788.9 507.7C792.8 506.2 798.1 503 801.6 503C805.2 503 807.5 505.7 810.2 507.7C812.8 509.7 816.9 512.9 817.6 515.2C818.3 517.5 816.7 519.6 814.4 521.6C812.1 523.5 808 525.6 803.8 526.9C799.5 528.1 793.1 528.5 788.9 529C784.6 529.6 780.9 529.4 778.2 530.1C775.5 530.8 774.3 532.1 772.9 533.3C771.5 534.5 770.6 537.5 769.7 537.1C768.8 536.8 769 533 767.5 531.1C766.1 529.3 764 527.4 761.2 525.8C758.3 524.2 754.4 522.6 750.5 521.6C746.6 520.5 741.3 520 737.7 519.4C734.2 518.9 731.2 519.1 729.2 518.4C727.1 517.7 725.4 516.1 725.4 515.2Z" fill="#C95426" stroke="#C95426" stroke-width="0.6" stroke-linejoin="round"/><path d="M727.1 514.9h0M728.3 515.4h0M729.9 515.4h0M732.8 515.7h0M734.2 515.1h0M737 515.3h0M738.6 515.4h0M741.1 516h0M743.4 514.8h0M745.8 513.8h0M748.4 515.4h0M749.6 515.6h0M752.6 515.5h0M754.5 514.1h0M755 514.3h0M758.1 516.1h0M760.3 515.5h0M762.4 516.7h0M763.5 516.5h0M765.7 517.6h0M769.4 518.5h0M771.6 515.8h0M775.6 516.2h0M775 514.4h0M778.3 513.3h0M779.7 513.7h0M781.5 513h0M784.1 511.9h0M787.1 510.4h0M787.2 509.2h0M790.9 508.9h0M792.5 507.9h0M794.4 508.2h0M795.5 506.7h0M799 505.5h0M801.4 504.8h0M801.9 505.9h0M805.6 506.7h0M806.3 507.3h0M806.8 507.8h0M809.9 508.9h0M812.2 511.4h0M813.5 512.7h0M814.4 514h0M815.8 515.2h0M816.2 514.9h0M814.3 517.2h0M814.6 520.2h0M813 520h0M811.2 521.4h0M808.9 521.5h0M807.3 523.1h0M805.3 524.2h0M802.3 525.2h0M799 526.6h0M796.8 526.2h0M796.9 526.7h0M794.3 526.9h0M791.8 527.3h0M790.1 527.2h0M787.6 525.8h0M785.2 528h0M782.9 527.8h0M781.8 527.8h0M779.1 528.3h0M775.3 530.2h0M774.9 530.6h0M772.4 531.4h0M770.2 533.6h0M770.2 534.5h0M770.5 535h0M770.8 535.6h0M769.8 532.3h0M769.5 529.6h0M765.6 527.6h0M764.2 525.7h0M762.6 524.8h0M760.1 524.1h0M758 523.2h0M757.1 523h0M754.1 520.5h0M751 519.6h0M749.2 520.5h0M749.1 519.1h0M744.2 519.1h0M743.3 518.5h0M740.2 518.9h0M740.8 517.1h0M735.8 518h0M735.7 516.6h0M733.1 516.7h0M730.9 517.2h0M730 515.9h0M728.2 514.4h0" fill="none" stroke="#C95426" stroke-width="4.4" stroke-linecap="round"/>
<path d="M641.4 562.1C642.3 561.1 644.2 560.7 648.2 560.6C652.2 560.4 660.3 560.8 665.2 561C670.2 561.2 675.7 561.1 678 561.6C680.3 562.2 680.2 563.5 679.1 564.2C678 564.9 672.5 564.8 671.6 565.7C670.8 566.6 671.3 568.2 673.8 569.5C676.3 570.9 682.8 572.9 686.6 573.8C690.3 574.7 693.5 573.4 696.2 574.8C698.8 576.3 702 580.7 702.5 582.3C703.1 583.9 701.3 584.7 699.3 584.4C697.4 584.1 694 581.6 690.8 580.6C687.6 579.6 683.7 579 680.2 578.5C676.6 577.9 673.1 577.9 669.5 577.4C666 576.9 662.4 576.3 658.9 575.3C655.3 574.2 650.9 572.5 648.2 571C645.5 569.5 644 567.8 642.9 566.3C641.7 564.8 640.5 563 641.4 562.1Z" fill="#8FBF9C" stroke="#8FBF9C" stroke-width="0.6" stroke-linejoin="round"/><path d="M642.1 564.1h0M643.9 562.7h0M647.3 562.4h0M651.5 561.8h0M651.1 562.6h0M653.1 563.3h0M656.6 563.1h0M659.8 561.4h0M659.6 562.7h0M662 562.4h0M664 561.6h0M666.6 563.1h0M668.8 563.9h0M669.9 564.1h0M673.7 563.1h0M674.7 562.4h0M678 564h0M677.3 565.1h0M677.9 563.7h0M675.3 563.2h0M671 564.4h0M670.1 568h0M673.1 569.4h0M673.8 572.7h0M675.9 572.5h0M679.2 573h0M680.1 572.6h0M683.6 574.3h0M683.9 574.9h0M686.1 575.7h0M691.1 575.8h0M692.6 575.8h0M693.9 577.7h0M695.8 577.3h0M696.8 578.6h0M697.5 580.6h0M701 581.1h0M698.9 581.8h0M699.1 584.1h0M696.1 580.7h0M694.4 580.5h0M692.3 579.6h0M690.6 578.4h0M688.2 578.5h0M683.7 576.6h0M683.2 577.4h0M679.8 577.5h0M678 576.7h0M676.6 577.6h0M674.3 575.9h0M674.5 575.8h0M670.6 575.8h0M668.8 576.9h0M666.8 573.1h0M664.6 575.5h0M662.8 574.4h0M659.8 574.2h0M658.9 572.5h0M655.7 572.1h0M654.1 572h0M653.5 572.7h0M649.5 571.1h0M649.3 570h0M646.9 565.8h0M646.2 565.4h0M645.1 565h0M645 561.9h0" fill="none" stroke="#8FBF9C" stroke-width="4.4" stroke-linecap="round"/>
<path d="M665.7 571.5h0M697.6 577.3h0M668.8 566.8h0M665.8 571.7h0M686.6 574.5h0M690.4 578.5h0M660.1 563.1h0M697.4 577.9h0M667.4 568.1h0M657.5 562.3h0M665.2 568.4h0M671.2 567.2h0M664.9 572.3h0M647.1 563.9h0M676.5 573.9h0M646.3 564h0M658.4 573.3h0M661.7 569.4h0M685.2 579.4h0M673.8 577h0M653.6 565.7h0M658.2 561.5h0M651.3 569.9h0M687.1 579.1h0M661.6 572.1h0M663.2 569h0M666.7 569h0M688.3 578.9h0M696.3 582.9h0M678.5 573.9h0M668 570h0M658.1 564.4h0M644.2 565.4h0M663.6 572.8h0M676.5 571.6h0M668.8 561.3h0M650.8 568.6h0M656.1 572.6h0M684.8 574.6h0M662.9 564.5h0" fill="none" stroke="#7DC87E" stroke-width="4.4" stroke-linecap="round"/>
<path d="M665.9 567.8h0M654.8 568.8h0M663.5 569.7h0M649.7 567.4h0M659.4 564.1h0M663.7 572.8h0M651.8 565.3h0M647.3 563.5h0M661.9 566.7h0M648.9 565.5h0M650.6 566.5h0M663.6 568.7h0M657.4 563.8h0M657.8 565.7h0M656.1 563.6h0M652.4 569.4h0M658 563.8h0M647.2 563.8h0M665.9 569.5h0M666.1 569.1h0M658.6 567.3h0M652.3 568h0" fill="none" stroke="#FAE08A" stroke-width="4.4" stroke-linecap="round"/>
<path d="M684.5 575.7h0M696.6 578.4h0M689.8 578.4h0M696.5 579.4h0M695.9 579.7h0M687.9 575.9h0M694.8 580.3h0M692 579.7h0" fill="none" stroke="#FAE08A" stroke-width="4.4" stroke-linecap="round"/>
<path d="M654.6 567.8h0" fill="none" stroke="#843E97" stroke-width="4.4" stroke-linecap="round"/>
<path d="M643.9 562.7h0M677 562.1h0" fill="none" stroke="#F2BC8F" stroke-width="4.4" stroke-linecap="round"/>
<path d="M687.6 574.2h0M693 576.3h0" fill="none" stroke="#A9B3BF" stroke-width="4.4" stroke-linecap="round"/>
<path d="M704.4 584.2h0M706 588.7h0M706.9 589.1h0M710.3 588.3h0M712.5 590.9h0M718.4 594.8h0M717.1 598.2h0M718 599.2h0M722.7 601.1h0M724.8 603.4h0" fill="none" stroke="#8FBF9C" stroke-width="4.4" stroke-linecap="round"/>
<path d="M721.7 605.7C722.4 604.5 725.8 602.9 729.2 602.5C732.6 602.2 738.4 602.9 742 603.6C745.5 604.3 746.2 607 750.5 606.8C754.8 606.6 761.9 603.6 767.5 602.5C773.2 601.5 778.9 601.1 784.6 600.4C790.3 599.7 796.7 598.9 801.6 598.3C806.6 597.7 809.5 596.8 814.4 596.8C819.4 596.8 826.5 597.1 831.5 598.3C836.5 599.4 841.1 601.8 844.3 603.6C847.5 605.4 850.7 607.2 850.7 608.9C850.7 610.7 847.5 612.7 844.3 614.3C841.1 615.9 835.7 617.5 831.5 618.5C827.2 619.6 823 620 818.7 620.7C814.4 621.4 810.2 622.1 805.9 622.8C801.6 623.5 796.7 624.2 793.1 624.9C789.6 625.6 788.2 625.6 784.6 627.1C781 628.5 775 630.6 771.8 633.4C768.6 636.3 767.2 640.9 765.4 644.1C763.6 647.3 762.9 649.8 761.2 652.6C759.4 655.5 757.2 658.7 754.8 661.2C752.3 663.6 749.1 665.8 746.2 667.5C743.4 669.3 741.3 670.6 737.7 671.8C734.2 673.1 729.9 674.1 724.9 675C720 675.9 713.6 677 707.9 677.1C702.2 677.3 696.5 677 690.8 676.1C685.1 675.2 678.7 673.6 673.8 671.8C668.8 670 664.4 667.5 661 665.4C657.6 663.3 653.9 661.2 653.5 659C653.2 656.9 656.9 654.6 658.9 652.6C660.8 650.7 662.4 648.4 665.2 647.3C668.1 646.2 672.4 646.8 675.9 646.2C679.5 645.7 683.4 645.5 686.6 644.1C689.8 642.7 692.6 640.2 695.1 637.7C697.6 635.2 699.3 632 701.5 629.2C703.6 626.3 705.4 623.3 707.9 620.7C710.4 618 713.6 615 716.4 613.2C719.2 611.4 724 611.2 724.9 610C725.8 608.8 721 607 721.7 605.7Z" fill="#8FBF9C" stroke="#8FBF9C" stroke-width="0.6" stroke-linejoin="round"/><path d="M724.4 606.3h0M725.1 604.2h0M727 605.7h0M729.4 603.1h0M729.6 604h0M730.2 603.7h0M736.5 605.6h0M735.5 605h0M737 603.5h0M743.1 603.7h0M741.2 605.2h0M744.9 608.9h0M747.8 605h0M749.5 607.1h0M752.3 606.7h0M754.4 607h0M754.6 607.3h0M759.2 606.6h0M762 605.3h0M764.5 606.7h0M764.8 606.5h0M767.3 604h0M767.6 605.7h0M772.4 602.4h0M772.9 604.7h0M777.5 604.5h0M779.3 603.6h0M780.6 605.9h0M782.3 601.2h0M782.7 604.2h0M785.9 603.7h0M786.4 603.4h0M791.9 603.8h0M793.7 598.3h0M794.4 600.3h0M798.2 598.2h0M799 599.6h0M800.6 599.5h0M804.1 600.1h0M806.9 598.6h0M807.6 600.5h0M809 599.2h0M811.1 600.2h0M813.6 598.6h0M815.9 599.7h0M817.2 599.6h0M820.4 598.1h0M821.8 598.9h0M824.6 597.2h0M827.5 600.7h0M826.5 600.6h0M830 600.1h0M831.9 600.5h0M833.5 600.4h0M835.8 600.5h0M837.9 602.2h0M843.4 604.1h0M843.9 605.3h0M845 604.6h0M842.8 604.6h0M847.5 611.2h0M847.6 608.2h0M848.4 605.7h0M846.3 609.6h0M845.5 611.3h0M843.1 610.1h0M842.6 612h0M840.4 613.2h0M837.6 613.7h0M836 613.9h0M832.9 615.2h0M830.4 616.3h0M828.5 616.5h0M826.7 617.6h0M827.2 616h0M822.7 618.1h0M823 618.9h0M818.7 619h0M817.9 617.2h0M816.7 619.4h0M812.5 619.6h0M810.7 620.9h0M809.5 620.2h0M805.2 619.7h0M806.2 619.4h0M802 623.9h0M800.1 622.9h0M796.5 622.7h0M796.1 622.6h0M793.6 623.2h0M792.2 623.3h0M790.6 623.9h0M787.7 626.3h0M786.5 625.9h0M781.5 626.3h0M781.2 627.6h0M778.6 626.8h0M778.7 629.2h0M776.7 631h0M774.2 631.2h0M770.1 631.3h0M768.9 633.8h0M770 633.9h0M767.6 635.5h0M767 638.5h0M767.5 644.4h0M762.8 643.8h0M762.5 642.9h0M764.8 646.6h0M760.2 648.3h0M759.9 652h0M760.3 653.1h0M757.9 656h0M757.2 654.6h0M754.3 657.9h0M753.6 660.7h0M752.6 660.8h0M749.2 662.4h0M750.7 662.1h0M746.6 665.1h0M746.3 664.6h0M744.6 666h0M743.4 666.9h0M738.8 670.2h0M737.2 668.5h0M734.9 670.5h0M734.2 672.4h0M731.7 673.2h0M730.9 671.9h0M731.2 672.3h0M724.5 673.6h0M723.4 673.2h0M721 673h0M719.2 674.6h0M716.1 673.4h0M714.1 675.7h0M711.7 675.5h0M711.4 675.3h0M708.3 675.3h0M708 676.9h0M706.7 676.2h0M703.4 675.8h0M700.7 675.3h0M699 674.9h0M694.9 673.7h0M695.6 676.8h0M693.5 674.7h0M690.5 675.4h0M685.9 672.3h0M687 672.4h0M683.1 673.3h0M683.2 670.8h0M678.4 672.3h0M676.6 670.5h0M676.7 669.3h0M672.4 669.7h0M670.6 669.4h0M669.3 666.7h0M667.5 666.2h0M666.4 665.5h0M663.8 666.5h0M663.6 664.4h0M659.5 662.1h0M660.2 662.4h0M655.9 660.2h0M657.2 657.9h0M655.4 660.9h0M657.5 657.6h0M656 657.5h0M658.5 654.1h0M660.2 653.2h0M662 653.2h0M662 650.3h0M667.4 649.2h0M666.6 648.8h0M666.3 648.7h0M670.6 648.1h0M671.7 649h0M677.1 646.5h0M678.4 646h0M677.7 648.7h0M681.8 644.1h0M683.9 646h0M685.8 645.5h0M687.7 645.4h0M689.1 640h0M693.1 640.5h0M695.2 641.6h0M694.5 640.9h0M697.3 637.2h0M699.4 635.4h0M698.8 634.5h0M701.5 633.3h0M702.6 630.5h0M703.3 629.8h0M703.7 627.7h0M705.6 625.5h0M707.7 625.1h0M707.6 624h0M709.8 621.2h0M711.9 618.2h0M714.2 618.2h0M714.6 614.5h0M717.4 615.4h0M715.6 617h0M720 614.4h0M721.6 612.9h0M724.2 611.8h0M723.6 608.3h0M726.3 606h0" fill="none" stroke="#8FBF9C" stroke-width="4.4" stroke-linecap="round"/>
<path d="M653.5 659C653.5 657.4 658.3 655.1 661 655.8C663.7 656.5 666 662 669.5 663.3C673.1 664.6 678.7 664.8 682.3 663.7C685.9 662.6 688 657.7 690.8 656.9C693.7 656.1 696.9 657.6 699.3 659C701.8 660.4 705.7 663.6 705.7 665.4C705.7 667.3 702.5 669.1 699.3 670.1C696.2 671.1 690.8 671.4 686.6 671.4C682.3 671.4 678 671 673.8 670.1C669.5 669.2 664.4 667.7 661 665.8C657.6 664 653.5 660.7 653.5 659Z" fill="#A9B3BF" stroke="#A9B3BF" stroke-width="0.6" stroke-linejoin="round"/><path d="M655.4 660.9h0M657.6 659.1h0M659.9 658.4h0M661.2 657.3h0M664.9 661.1h0M665.6 663.3h0M666.9 664.4h0M668.5 665.2h0M673.3 665h0M675 666.2h0M678.3 664.7h0M683.3 665.9h0M684.6 664h0M687.1 661h0M688.7 659.4h0M690.8 658.8h0M692.5 658.9h0M694.3 659.2h0M698.7 661.5h0M699.4 659.8h0M700 663.5h0M703.4 664.3h0M704 664h0M701.7 668.5h0M698.5 666.7h0M698.6 667.9h0M696.1 668.6h0M694 669.5h0M688.9 669.6h0M687.5 670h0M684.1 668.8h0M682.2 670.9h0M679.8 671.4h0M677.8 668.8h0M675.3 668.5h0M673.9 667.3h0M670.6 667.3h0M668.3 668.3h0M663.5 663.9h0M660 663.7h0M662.7 663.9h0M658 662.2h0M657.1 658.8h0M656.2 657.8h0" fill="none" stroke="#A9B3BF" stroke-width="4.4" stroke-linecap="round"/>
<path d="M771.3 610.3h0M769.5 617.3h0M772.4 621h0M769.8 626.1h0M779.2 624.2h0M783.8 615.9h0M771.6 626.8h0M788.5 611h0M779.4 611.4h0M772.1 627.2h0M802.5 621.9h0M795.8 608.6h0M815.2 619.7h0M792.8 611.6h0M779.2 621.5h0M777.5 623.4h0M805.1 618.9h0M806.6 615.5h0M818.1 615.9h0M779.2 630h0M801 609.8h0M781.5 613.7h0M771.1 618.7h0M811.6 610.2h0M778.7 618.9h0M784.7 621.9h0M769.5 611.7h0M814.1 612.1h0M763.7 625.8h0M818.7 614.3h0M780.2 619.1h0M792.3 615.9h0M763.5 616.6h0M782.3 608.2h0M785.3 607.5h0M782.4 606.5h0M782 616.4h0M775.7 610.3h0M788.5 626.3h0M766.4 628.3h0M778.7 617.7h0M768.3 628.7h0M798.3 611.6h0M789.3 620.5h0M818.4 617.9h0M769.9 617.4h0M797.1 613.2h0M786 615.7h0M817 611.4h0M815.1 618.4h0" fill="none" stroke="#A9B3BF" stroke-width="4.4" stroke-linecap="round"/>
<path d="M714.3 649.3h0M722.8 643.2h0M711.8 640.4h0M729 639.4h0M719.5 640.4h0M713.8 638.7h0M711 644.7h0M716.9 634.9h0M728.9 636.2h0M715.5 646.2h0M704.1 646.5h0M718.3 648.1h0M707.2 640.9h0M733.6 632.3h0M712.6 647.6h0M715.7 647.1h0M718.6 646.5h0M716.4 636.7h0M711.2 637.5h0M709.6 646.8h0M716.9 644.9h0M738.8 633.5h0M725.7 639.4h0M710.7 639.9h0M721.3 631.1h0M729.3 641.5h0M727.8 634.2h0M709.1 643.4h0M728.2 637.7h0M713 633.5h0M730.9 637.1h0M708.5 650.1h0M716.7 646.7h0M723.7 636.5h0M710.5 650h0M740.1 635.7h0M733.5 633.2h0M712.2 636.2h0M735.3 642.7h0M706.3 645.9h0M710 649.6h0M726.6 642.3h0M711.2 647.3h0M702.6 646.8h0M723.2 637.9h0" fill="none" stroke="#A9B3BF" stroke-width="4.4" stroke-linecap="round"/>
<path d="M750.5 635h0M726.8 612.9h0M768.3 633.1h0M794.7 611.4h0M796.1 622.9h0M764.2 603.6h0M811.7 614.6h0M838.9 615.5h0M778.1 605.6h0M719.1 615.5h0M811.7 607h0M687.6 667.1h0M805.4 620.9h0M773 605.7h0M738 648h0M810 598.8h0M690 673.6h0M827.8 617.8h0M737.3 645.1h0M725.2 672.1h0M725.8 615.2h0M702.2 664.5h0M765 627.6h0M702.7 636.3h0M686.9 663.6h0M772.5 605.3h0M794.9 623.3h0M698.1 647.5h0M700.2 642.2h0M800.8 623.1h0M782.3 603.5h0M758.5 634.8h0M746.8 639.9h0M689.5 649.3h0M748.1 652.7h0M732.4 627.2h0M744.1 624.5h0M740 644.2h0M784.2 619.7h0M786.7 615.3h0M709.6 671.8h0M712.6 642.9h0M780.3 607.5h0M723.9 624.2h0M782.6 606.8h0M836.9 605.3h0M713 633.8h0M741.6 624.7h0M767.1 633.7h0M774.5 617.1h0M817.5 609.6h0M757.3 633h0M728.2 627.1h0M733.3 613h0M736.2 658h0M733.3 644.8h0M714.3 633.2h0M733 641.9h0M746.6 656.6h0M734.1 665.4h0M708.3 652.7h0M754.3 661h0M726.3 673.7h0M727.3 631.1h0M803.7 617.9h0M789.1 600.7h0M722.1 622.4h0M722.2 619.9h0M708.3 659.1h0M728.3 651.7h0M754.5 623.8h0M840.9 603.3h0M732 668.1h0M837.6 615.7h0M762.3 623.9h0M721.8 637.2h0M659.4 663.8h0M655.8 658.7h0M711.7 625.7h0M813.8 599.3h0M744.9 609.2h0M694.7 660.9h0M740 639.8h0M821.5 613.3h0M752.4 625.4h0M769.2 625.7h0M724 652h0M734.8 634.6h0M819.8 613.5h0M791.4 623.3h0M768.5 618.3h0M793.7 613.4h0M833.9 599.5h0M760 607.8h0M674 647.1h0M838.2 613.2h0M722.8 605.9h0M735.1 666.4h0M758.4 651.8h0M707.5 626.3h0M729.1 634.3h0M784.5 618.3h0M769 634.7h0M698.7 662.1h0M705.3 658.8h0M705.1 649.3h0M737.2 645.2h0M761 632.7h0M753.9 657.9h0M720.5 639.1h0M764.6 604.8h0M756 632.5h0M749.4 664.8h0M747.6 651.3h0M781.6 617.3h0M739.9 610h0M738.4 629.9h0M725.6 641.3h0M705.9 667.1h0M799.4 613.3h0M761.6 645.1h0M787.5 622.1h0M832.1 603.2h0M658.7 657.1h0M721.6 638.7h0M680.2 648h0M776.3 617.4h0M735.9 642.6h0M763.9 622.6h0M721 648.9h0M733.6 657.3h0M802.9 619.4h0M789.4 620.1h0M768.3 626.3h0M745.4 664.2h0M821.8 602.7h0M697.2 661.1h0M687.5 668h0M726.2 634.5h0M838.6 612.9h0M711.3 648.6h0M669.2 648.9h0M675.9 668.9h0M691.1 662.6h0M728.2 622h0M794.6 604h0M740.5 632h0M729.7 625.4h0M747 605.6h0M706.7 641h0" fill="none" stroke="#7DC87E" stroke-width="4.4" stroke-linecap="round"/>
<path d="M788.2 619.6h0M778.4 619h0M791.6 619.1h0M778.2 626.4h0M797.8 614.1h0M788.4 623h0M794.7 613.1h0M787.9 619.9h0M793.9 619.6h0M788 610.1h0M781.8 612.8h0M776.4 617.6h0M781.4 611.5h0M776.1 627.1h0M787.7 615.1h0M799.1 619.4h0M793.9 611.6h0M772.1 615.8h0M785.8 610.8h0M798 614.5h0M798.1 613.1h0M772.3 614.4h0M786.1 623.9h0M774.9 620.9h0M786 618h0M778.1 624.7h0M791.5 610.2h0M789.4 622.9h0M788.7 613.1h0M785.9 615.7h0" fill="none" stroke="#7DC87E" stroke-width="4.4" stroke-linecap="round"/>
<path d="M814 606.9h0M803.7 607.2h0M803.2 607.8h0M806.1 610.7h0M813.5 609.2h0M809.3 606.9h0M816.5 609.1h0M815.2 609.1h0" fill="none" stroke="#fff" stroke-width="4.4" stroke-linecap="round"/>
<path d="M679.9 660.8h0M677.3 660.2h0M675.3 656.6h0M669.5 657.9h0M675.2 658h0M673.7 657.7h0M675.6 659h0" fill="none" stroke="#fff" stroke-width="4.4" stroke-linecap="round"/>
<path d="M786.2 624h0M789.9 622.6h0M777 627.3h0M790.9 622.6h0M773.9 627.8h0M787.8 624.4h0M784.3 623.9h0M785.2 625.1h0M774.3 629.7h0M788 622.7h0" fill="none" stroke="#fff" stroke-width="4.4" stroke-linecap="round"/>
<path d="M755 636.4h0M718.8 660.9h0M750.8 632.9h0M725.9 651.6h0M726.6 668.2h0M753.1 613h0M729.4 631.3h0M726.6 626.3h0M753 618h0M742.1 607h0M758.2 645.4h0M755.7 613.8h0M735.6 636.7h0M735.5 661.6h0M736.7 654.2h0M736.6 606.6h0M741.8 660.6h0M748.5 606.2h0M746.3 635.8h0M718.7 654.3h0M748.1 636.6h0M744.9 638.6h0M749.2 629.8h0M731.5 637.3h0M707.2 652.4h0M728.6 614.4h0M751.3 634.2h0M741.4 609.9h0M721 642.9h0M738.3 662.1h0M723.5 645.8h0M745 606.8h0M719.9 649.8h0M735.9 630h0M728.9 660.8h0M741.9 626.9h0M732.3 664.3h0M734.1 632.4h0M713.6 663.4h0M738.3 652.9h0M734.4 622.3h0M717.9 664.8h0M723.5 616.7h0M722.7 651.7h0M740.7 648.4h0M738.2 606.4h0M734.7 625.4h0M734.5 650.6h0M731.5 644h0M745.5 647.5h0M737.3 611.9h0M728.2 612.6h0M710.6 666.5h0M748 624.2h0M729.7 638.6h0M736.1 634.9h0M716.3 645h0M737.3 657.6h0M738.9 650.3h0M726.7 652.4h0" fill="none" stroke="#FAE08A" stroke-width="4.4" stroke-linecap="round"/>
<path d="M824.7 599.8h0M844.3 611.1h0M846 609.6h0M780.3 613.2h0M782.9 612.6h0M689.8 675.6h0M702.5 677.1h0" fill="none" stroke="#FAE08A" stroke-width="4.4" stroke-linecap="round"/>
<path d="M797.8 603.2h0M717.5 616.4h0M712.6 622.4h0M718.5 624.5h0M700.4 643h0M659.3 645.8h0M661 647.3h0" fill="none" stroke="#F2BC8F" stroke-width="4.4" stroke-linecap="round"/>
<path d="M673.3 643.7h0" fill="none" stroke="#3F68AE" stroke-width="4.4" stroke-linecap="round"/>
<path d="M684 649h0M690.4 651.6h0M678.5 654.3h0" fill="none" stroke="#843E97" stroke-width="4.4" stroke-linecap="round"/>
<path d="M706.2 624.5h0M714.9 631.7h0M690.8 640.9h0" fill="none" stroke="#759BAB" stroke-width="4.4" stroke-linecap="round"/>
<path d="M391.8 621.6C393.5 619.7 396 620 398.3 620.1C400.6 620.2 403.2 622.3 405.6 622.3C408.1 622.3 410.2 620.1 412.9 620.1C415.6 620.1 419.4 621.2 421.7 622.3C424 623.4 425.4 624.7 426.8 626.7C428.1 628.6 429.1 631.8 429.7 634C430.3 636.1 430.8 637.8 430.4 639.8C430 641.7 428.5 644 427.5 645.6C426.5 647.2 425.9 648.2 424.6 649.3C423.2 650.4 420.4 650.4 419.5 652.2C418.5 654 418.6 657.4 418.7 660.2C418.9 663 419.8 666.5 420.2 669C420.6 671.4 421.1 673.1 420.9 674.8C420.8 676.5 420.3 678.3 419.5 679.2C418.6 680 417.2 680.4 415.8 679.9C414.5 679.4 412.4 678.1 411.5 676.2C410.5 674.4 410.3 671.4 410 669C409.7 666.5 410.2 663.8 409.7 661.7C409.2 659.5 408 657.3 407.1 655.8C406.2 654.4 405.6 653.6 404.2 652.9C402.7 652.2 400 652.3 398.3 651.5C396.6 650.6 395.5 648.8 394 647.8C392.4 646.8 389.9 647.2 388.9 645.6C387.8 644 387.5 640.8 387.4 638.3C387.3 635.9 387.4 633.8 388.1 631C388.9 628.2 390.1 623.4 391.8 621.6Z" fill="#F3F09A" stroke="#F3F09A" stroke-width="0.6" stroke-linejoin="round"/><path d="M394.3 623.6h0M397.1 622.1h0M398.3 620.9h0M402.4 622.4h0M403.9 624h0M406.7 623.4h0M410.6 622.7h0M410.9 622h0M414.9 623.1h0M416.3 622.7h0M419.7 624.1h0M421.6 624.2h0M423.6 626.3h0M425 628.6h0M426.3 630.7h0M427.2 631.9h0M427.9 636.2h0M428.8 639.4h0M428.7 639.3h0M426.6 643.6h0M424.9 644.9h0M422.7 648.5h0M418.4 650.1h0M417.7 653.8h0M417.8 656.9h0M417.4 657h0M417.2 663.2h0M418.5 666.2h0M418.4 667.4h0M419.7 672.6h0M418.9 672.7h0M419.1 674.2h0M419.5 678.3h0M415.9 677.9h0M414 676.1h0M412.6 675h0M413.1 672.7h0M411.6 669h0M411.7 666.8h0M412.1 664.7h0M411.8 664.3h0M410.5 657.8h0M410.1 657.8h0M406 652.7h0M403.4 650.7h0M399.3 649.7h0M398.6 648.8h0M396.9 648.1h0M392.9 645.8h0M390.7 643.9h0M389.8 643.9h0M389.7 641.8h0M389.7 639.7h0M388.6 637.3h0M389.9 634.3h0M388.9 632.7h0M389.9 629.7h0M391.1 629h0M391.6 626.7h0M393.1 623.3h0" fill="none" stroke="#F3F09A" stroke-width="4.4" stroke-linecap="round"/>
<path d="M396.6 623.5h0M413.6 625.6h0M418 619.4h0" fill="none" stroke="#C5178A" stroke-width="4.4" stroke-linecap="round"/>
<path d="M486.6 741.9C486.7 741 488.1 740.2 489.5 740.4C490.8 740.6 492.3 741.8 494.6 743C496.9 744.2 499.9 746.2 503.3 747.7C506.7 749.2 510.6 750.9 515 752.1C519.4 753.3 525.2 754.2 529.6 755C533.9 755.8 538.6 756.1 541.2 756.7C543.9 757.3 545.1 757.7 545.6 758.6C546.1 759.6 545.4 761.3 544.2 762.3C542.9 763.2 540.7 764.5 538.3 764.5C535.9 764.5 533.5 763.2 529.6 762.3C525.7 761.3 519.4 759.8 515 758.6C510.6 757.4 506.7 756.6 503.3 755C499.9 753.4 497 750.7 494.6 749.2C492.1 747.6 490.1 746.7 488.7 745.5C487.4 744.3 486.4 742.7 486.6 741.9Z" fill="#DB2B4A" stroke="#DB2B4A" stroke-width="0.6" stroke-linejoin="round"/><path d="M486.9 744h0M489.5 742.5h0M492.1 743.1h0M494 744.7h0M497.4 746.5h0M498 747.7h0M501.8 749.1h0M504.2 749.2h0M506.6 751h0M507.7 751.5h0M510.9 752.7h0M513.6 753.4h0M515.2 753.6h0M517.3 754.9h0M520.9 755.1h0M524.8 755.4h0M525.7 756h0M527.8 756.4h0M530.9 756.5h0M533.3 756.8h0M536.2 758.1h0M539 758.5h0M544.1 759.8h0M542.7 761.1h0M543.1 760.9h0M537.9 762.8h0M536.6 762.2h0M534.6 761.6h0M531.4 760.9h0M530.2 760.5h0M526.2 759.8h0M523 759.5h0M521 758.6h0M517.2 757.8h0M515.7 757.7h0M513.6 756.1h0M512.1 756.5h0M510.5 755.2h0M508.2 754.7h0M505.4 753.2h0M501.9 752.5h0M501.2 751.6h0M497.5 748.8h0M497.4 749.1h0M492.7 745.8h0M491.8 745.7h0M490.3 744.8h0" fill="none" stroke="#DB2B4A" stroke-width="4.4" stroke-linecap="round"/>
<g font-size="27.9" fill="#231F20">
<text x="744" y="115.7">Tumoroid_24</text>
<text x="625.5" y="178.5">Tumoroid_08</text>
<text x="232.4" y="307.1">Tumoroid_28</text>
<text x="659.3" y="331">Colonoid_08</text>
<text x="755.6" y="373.9">Colonoid_26</text>
<text x="456.9" y="395.8">Colonoid_28</text>
<text x="642.7" y="417.1">Colonoid_24</text>
<text x="311.1" y="428.7">Tumor_28</text>
<text x="457.3" y="460.2">Tumor_24</text>
<text x="262" y="474.6">Tumor_07</text>
<text x="492.2" y="515.6">Tumor_27</text>
<text x="195" y="552">Tumor_09</text>
<text x="340" y="552">Tumor_26</text>
<text x="490.9" y="558.2">Tumor_80</text>
<text x="691.2" y="553.5">Tumor_86</text>
<text x="654.6" y="602.1">Colon_07</text>
<text x="759.7" y="669.7">Colon_08</text>
<text x="615.8" y="686.3">Colon_09</text>
<text x="377.6" y="623.5">Tumor_08</text>
<text x="368.4" y="785.6">Tumor_83</text>
</g>
<g font-size="27.4" fill="#231F20">
<circle cx="989.1" cy="160" r="10.1" fill="#7DC87E"/>
<text x="1009.8" y="169.4">Colon_07</text>
<circle cx="989.1" cy="187.2" r="10.1" fill="#8FBF9C"/>
<text x="1009.8" y="196.6">Colon_08</text>
<circle cx="989.1" cy="214.4" r="10.1" fill="#A9B3BF"/>
<text x="1009.8" y="223.8">Colon_09</text>
<circle cx="989.1" cy="241.6" r="10.1" fill="#C3AFCF"/>
<text x="1009.8" y="251">Colonoid_08</text>
<circle cx="989.1" cy="268.8" r="10.1" fill="#DDB6AA"/>
<text x="1009.8" y="278.2">Colonoid_24</text>
<circle cx="989.1" cy="296.1" r="10.1" fill="#F2BC8F"/>
<text x="1009.8" y="305.4">Colonoid_26</text>
<circle cx="989.1" cy="323.3" r="10.1" fill="#FDC987"/>
<text x="1009.8" y="332.7">Colonoid_28</text>
<circle cx="989.1" cy="350.5" r="10.1" fill="#FAE08A"/>
<text x="1009.8" y="359.9">Tumor_07</text>
<circle cx="989.1" cy="377.7" r="10.1" fill="#F9F39B"/>
<text x="1009.8" y="387.1">Tumor_08</text>
<circle cx="989.1" cy="404.9" r="10.1" fill="#BFD2A0"/>
<text x="1009.8" y="414.3">Tumor_09</text>
<circle cx="989.1" cy="432.1" r="10.1" fill="#759BAB"/>
<text x="1009.8" y="441.5">Tumor_24</text>
<circle cx="989.1" cy="459.3" r="10.1" fill="#3F68AE"/>
<text x="1009.8" y="468.7">Tumor_26</text>
<circle cx="989.1" cy="486.5" r="10.1" fill="#843E97"/>
<text x="1009.8" y="495.9">Tumor_27</text>
<circle cx="989.1" cy="513.7" r="10.1" fill="#C5178A"/>
<text x="1009.8" y="523.1">Tumor_28</text>
<circle cx="989.1" cy="540.9" r="10.1" fill="#E8106E"/>
<text x="1009.8" y="550.3">Tumor_80</text>
<circle cx="989.1" cy="568.2" r="10.1" fill="#DB2B4A"/>
<text x="1009.8" y="577.6">Tumor_83</text>
<circle cx="989.1" cy="595.4" r="10.1" fill="#C95426"/>
<text x="1009.8" y="604.8">Tumor_86</text>
<circle cx="989.1" cy="622.6" r="10.1" fill="#A75C2A"/>
<text x="1009.8" y="632">Tumoroid_08</text>
<circle cx="989.1" cy="649.8" r="10.1" fill="#875F49"/>
<text x="1009.8" y="659.2">Tumoroid_24</text>
<circle cx="989.1" cy="677" r="10.1" fill="#696969"/>
<text x="1009.8" y="686.4">Tumoroid_28</text>
</g>
</g>
<g id="panelB">
<rect x="1274.1" y="105.8" width="581.7" height="591" fill="#999"/>
<rect x="1276.3" y="108" width="26.8" height="27.2" fill="#B2182B"/>
<rect x="1305.3" y="108" width="26.8" height="27.2" fill="#DF6C54"/>
<rect x="1334.2" y="108" width="26.8" height="27.2" fill="#F9C2A8"/>
<rect x="1363.2" y="108" width="26.8" height="27.2" fill="#F8BEA2"/>
<rect x="1392.2" y="108" width="26.8" height="27.2" fill="#F19873"/>
<rect x="1421.2" y="108" width="26.8" height="27.2" fill="#F6B092"/>
<rect x="1450.2" y="108" width="26.8" height="27.2" fill="#FBCDB6"/>
<rect x="1479.1" y="108" width="26.8" height="27.2" fill="#F6B092"/>
<rect x="1508.1" y="108" width="26.8" height="27.2" fill="#EFF3F5"/>
<rect x="1537.1" y="108" width="26.8" height="27.2" fill="#FCE0D0"/>
<rect x="1566" y="108" width="26.8" height="27.2" fill="#68AACF"/>
<rect x="1595" y="108" width="26.8" height="27.2" fill="#DBEAF2"/>
<rect x="1624" y="108" width="26.8" height="27.2" fill="#F8F1ED"/>
<rect x="1653" y="108" width="26.8" height="27.2" fill="#F0F4F6"/>
<rect x="1682" y="108" width="26.8" height="27.2" fill="#F7F5F4"/>
<rect x="1710.9" y="108" width="26.8" height="27.2" fill="#478BBF"/>
<rect x="1739.9" y="108" width="26.8" height="27.2" fill="#F0F4F6"/>
<rect x="1768.9" y="108" width="26.8" height="27.2" fill="#FCD4BE"/>
<rect x="1797.8" y="108" width="26.8" height="27.2" fill="#F7B79A"/>
<rect x="1826.8" y="108" width="26.8" height="27.2" fill="#FCE0D0"/>
<rect x="1276.3" y="137.4" width="26.8" height="27.2" fill="#DF6C54"/>
<rect x="1305.3" y="137.4" width="26.8" height="27.2" fill="#B2182B"/>
<rect x="1334.2" y="137.4" width="26.8" height="27.2" fill="#F19873"/>
<rect x="1363.2" y="137.4" width="26.8" height="27.2" fill="#F6B294"/>
<rect x="1392.2" y="137.4" width="26.8" height="27.2" fill="#F0916B"/>
<rect x="1421.2" y="137.4" width="26.8" height="27.2" fill="#EF8B63"/>
<rect x="1450.2" y="137.4" width="26.8" height="27.2" fill="#F9C2A8"/>
<rect x="1479.1" y="137.4" width="26.8" height="27.2" fill="#FAC9B0"/>
<rect x="1508.1" y="137.4" width="26.8" height="27.2" fill="#F0F4F6"/>
<rect x="1537.1" y="137.4" width="26.8" height="27.2" fill="#FCD4BE"/>
<rect x="1566" y="137.4" width="26.8" height="27.2" fill="#8EBFDB"/>
<rect x="1595" y="137.4" width="26.8" height="27.2" fill="#E5EFF4"/>
<rect x="1624" y="137.4" width="26.8" height="27.2" fill="#FAEAE1"/>
<rect x="1653" y="137.4" width="26.8" height="27.2" fill="#F7F5F4"/>
<rect x="1682" y="137.4" width="26.8" height="27.2" fill="#FBE2D4"/>
<rect x="1710.9" y="137.4" width="26.8" height="27.2" fill="#4B8EC1"/>
<rect x="1739.9" y="137.4" width="26.8" height="27.2" fill="#DFECF3"/>
<rect x="1768.9" y="137.4" width="26.8" height="27.2" fill="#FCDFCD"/>
<rect x="1797.8" y="137.4" width="26.8" height="27.2" fill="#F9C6AD"/>
<rect x="1826.8" y="137.4" width="26.8" height="27.2" fill="#FCDFCD"/>
<rect x="1276.3" y="166.9" width="26.8" height="27.2" fill="#F9C2A8"/>
<rect x="1305.3" y="166.9" width="26.8" height="27.2" fill="#F19873"/>
<rect x="1334.2" y="166.9" width="26.8" height="27.2" fill="#B2182B"/>
<rect x="1363.2" y="166.9" width="26.8" height="27.2" fill="#E47558"/>
<rect x="1392.2" y="166.9" width="26.8" height="27.2" fill="#CB4742"/>
<rect x="1421.2" y="166.9" width="26.8" height="27.2" fill="#BF3137"/>
<rect x="1450.2" y="166.9" width="26.8" height="27.2" fill="#F9C2A8"/>
<rect x="1479.1" y="166.9" width="26.8" height="27.2" fill="#F9C2A8"/>
<rect x="1508.1" y="166.9" width="26.8" height="27.2" fill="#FCD4BE"/>
<rect x="1537.1" y="166.9" width="26.8" height="27.2" fill="#F6B294"/>
<rect x="1566" y="166.9" width="26.8" height="27.2" fill="#C7E0ED"/>
<rect x="1595" y="166.9" width="26.8" height="27.2" fill="#FCE2D2"/>
<rect x="1624" y="166.9" width="26.8" height="27.2" fill="#FAC9B0"/>
<rect x="1653" y="166.9" width="26.8" height="27.2" fill="#FDDCC8"/>
<rect x="1682" y="166.9" width="26.8" height="27.2" fill="#FBE5D9"/>
<rect x="1710.9" y="166.9" width="26.8" height="27.2" fill="#478BBF"/>
<rect x="1739.9" y="166.9" width="26.8" height="27.2" fill="#F7F7F7"/>
<rect x="1768.9" y="166.9" width="26.8" height="27.2" fill="#F9C2A8"/>
<rect x="1797.8" y="166.9" width="26.8" height="27.2" fill="#F3A381"/>
<rect x="1826.8" y="166.9" width="26.8" height="27.2" fill="#FAC9B0"/>
<rect x="1276.3" y="196.3" width="26.8" height="27.2" fill="#F8BEA2"/>
<rect x="1305.3" y="196.3" width="26.8" height="27.2" fill="#F6B294"/>
<rect x="1334.2" y="196.3" width="26.8" height="27.2" fill="#E47558"/>
<rect x="1363.2" y="196.3" width="26.8" height="27.2" fill="#B2182B"/>
<rect x="1392.2" y="196.3" width="26.8" height="27.2" fill="#E16F55"/>
<rect x="1421.2" y="196.3" width="26.8" height="27.2" fill="#DD6952"/>
<rect x="1450.2" y="196.3" width="26.8" height="27.2" fill="#F8BEA2"/>
<rect x="1479.1" y="196.3" width="26.8" height="27.2" fill="#F9C6AD"/>
<rect x="1508.1" y="196.3" width="26.8" height="27.2" fill="#F8F1ED"/>
<rect x="1537.1" y="196.3" width="26.8" height="27.2" fill="#F7B79A"/>
<rect x="1566" y="196.3" width="26.8" height="27.2" fill="#5EA0CB"/>
<rect x="1595" y="196.3" width="26.8" height="27.2" fill="#FAE9DF"/>
<rect x="1624" y="196.3" width="26.8" height="27.2" fill="#FCD4BE"/>
<rect x="1653" y="196.3" width="26.8" height="27.2" fill="#FBE5D9"/>
<rect x="1682" y="196.3" width="26.8" height="27.2" fill="#FDDCC9"/>
<rect x="1710.9" y="196.3" width="26.8" height="27.2" fill="#2E73B3"/>
<rect x="1739.9" y="196.3" width="26.8" height="27.2" fill="#DFECF3"/>
<rect x="1768.9" y="196.3" width="26.8" height="27.2" fill="#FBCFB8"/>
<rect x="1797.8" y="196.3" width="26.8" height="27.2" fill="#F5AE8F"/>
<rect x="1826.8" y="196.3" width="26.8" height="27.2" fill="#FCDECC"/>
<rect x="1276.3" y="225.8" width="26.8" height="27.2" fill="#F19873"/>
<rect x="1305.3" y="225.8" width="26.8" height="27.2" fill="#F0916B"/>
<rect x="1334.2" y="225.8" width="26.8" height="27.2" fill="#CB4742"/>
<rect x="1363.2" y="225.8" width="26.8" height="27.2" fill="#E16F55"/>
<rect x="1392.2" y="225.8" width="26.8" height="27.2" fill="#B2182B"/>
<rect x="1421.2" y="225.8" width="26.8" height="27.2" fill="#CE4D45"/>
<rect x="1450.2" y="225.8" width="26.8" height="27.2" fill="#F3A381"/>
<rect x="1479.1" y="225.8" width="26.8" height="27.2" fill="#F6B092"/>
<rect x="1508.1" y="225.8" width="26.8" height="27.2" fill="#F9C2A8"/>
<rect x="1537.1" y="225.8" width="26.8" height="27.2" fill="#F3A381"/>
<rect x="1566" y="225.8" width="26.8" height="27.2" fill="#D8E8F1"/>
<rect x="1595" y="225.8" width="26.8" height="27.2" fill="#FCE2D2"/>
<rect x="1624" y="225.8" width="26.8" height="27.2" fill="#F8C0A5"/>
<rect x="1653" y="225.8" width="26.8" height="27.2" fill="#FDDCC8"/>
<rect x="1682" y="225.8" width="26.8" height="27.2" fill="#FDDCC9"/>
<rect x="1710.9" y="225.8" width="26.8" height="27.2" fill="#64A6CD"/>
<rect x="1739.9" y="225.8" width="26.8" height="27.2" fill="#FAE8DD"/>
<rect x="1768.9" y="225.8" width="26.8" height="27.2" fill="#F6B092"/>
<rect x="1797.8" y="225.8" width="26.8" height="27.2" fill="#F0916B"/>
<rect x="1826.8" y="225.8" width="26.8" height="27.2" fill="#F8BBA0"/>
<rect x="1276.3" y="255.2" width="26.8" height="27.2" fill="#F6B092"/>
<rect x="1305.3" y="255.2" width="26.8" height="27.2" fill="#EF8B63"/>
<rect x="1334.2" y="255.2" width="26.8" height="27.2" fill="#BF3137"/>
<rect x="1363.2" y="255.2" width="26.8" height="27.2" fill="#DD6952"/>
<rect x="1392.2" y="255.2" width="26.8" height="27.2" fill="#CE4D45"/>
<rect x="1421.2" y="255.2" width="26.8" height="27.2" fill="#B2182B"/>
<rect x="1450.2" y="255.2" width="26.8" height="27.2" fill="#F6B597"/>
<rect x="1479.1" y="255.2" width="26.8" height="27.2" fill="#F6B092"/>
<rect x="1508.1" y="255.2" width="26.8" height="27.2" fill="#FBCDB6"/>
<rect x="1537.1" y="255.2" width="26.8" height="27.2" fill="#F4A584"/>
<rect x="1566" y="255.2" width="26.8" height="27.2" fill="#C7E0ED"/>
<rect x="1595" y="255.2" width="26.8" height="27.2" fill="#FDDDCA"/>
<rect x="1624" y="255.2" width="26.8" height="27.2" fill="#F6B597"/>
<rect x="1653" y="255.2" width="26.8" height="27.2" fill="#FACBB3"/>
<rect x="1682" y="255.2" width="26.8" height="27.2" fill="#FDDCC9"/>
<rect x="1710.9" y="255.2" width="26.8" height="27.2" fill="#4F92C3"/>
<rect x="1739.9" y="255.2" width="26.8" height="27.2" fill="#F7F5F4"/>
<rect x="1768.9" y="255.2" width="26.8" height="27.2" fill="#F6B597"/>
<rect x="1797.8" y="255.2" width="26.8" height="27.2" fill="#F0916B"/>
<rect x="1826.8" y="255.2" width="26.8" height="27.2" fill="#F8BBA0"/>
<rect x="1276.3" y="284.6" width="26.8" height="27.2" fill="#FBCDB6"/>
<rect x="1305.3" y="284.6" width="26.8" height="27.2" fill="#F9C2A8"/>
<rect x="1334.2" y="284.6" width="26.8" height="27.2" fill="#F9C2A8"/>
<rect x="1363.2" y="284.6" width="26.8" height="27.2" fill="#F8BEA2"/>
<rect x="1392.2" y="284.6" width="26.8" height="27.2" fill="#F3A381"/>
<rect x="1421.2" y="284.6" width="26.8" height="27.2" fill="#F6B597"/>
<rect x="1450.2" y="284.6" width="26.8" height="27.2" fill="#B2182B"/>
<rect x="1479.1" y="284.6" width="26.8" height="27.2" fill="#F0916B"/>
<rect x="1508.1" y="284.6" width="26.8" height="27.2" fill="#FDDCC9"/>
<rect x="1537.1" y="284.6" width="26.8" height="27.2" fill="#F19671"/>
<rect x="1566" y="284.6" width="26.8" height="27.2" fill="#C7E0ED"/>
<rect x="1595" y="284.6" width="26.8" height="27.2" fill="#FCDECC"/>
<rect x="1624" y="284.6" width="26.8" height="27.2" fill="#FBCDB6"/>
<rect x="1653" y="284.6" width="26.8" height="27.2" fill="#FDDCC8"/>
<rect x="1682" y="284.6" width="26.8" height="27.2" fill="#FACBB3"/>
<rect x="1710.9" y="284.6" width="26.8" height="27.2" fill="#B9D7E8"/>
<rect x="1739.9" y="284.6" width="26.8" height="27.2" fill="#FCDFCD"/>
<rect x="1768.9" y="284.6" width="26.8" height="27.2" fill="#EC855F"/>
<rect x="1797.8" y="284.6" width="26.8" height="27.2" fill="#F19671"/>
<rect x="1826.8" y="284.6" width="26.8" height="27.2" fill="#EF8B63"/>
<rect x="1276.3" y="314.1" width="26.8" height="27.2" fill="#F6B092"/>
<rect x="1305.3" y="314.1" width="26.8" height="27.2" fill="#FAC9B0"/>
<rect x="1334.2" y="314.1" width="26.8" height="27.2" fill="#F9C2A8"/>
<rect x="1363.2" y="314.1" width="26.8" height="27.2" fill="#F9C6AD"/>
<rect x="1392.2" y="314.1" width="26.8" height="27.2" fill="#F6B092"/>
<rect x="1421.2" y="314.1" width="26.8" height="27.2" fill="#F6B092"/>
<rect x="1450.2" y="314.1" width="26.8" height="27.2" fill="#F0916B"/>
<rect x="1479.1" y="314.1" width="26.8" height="27.2" fill="#B2182B"/>
<rect x="1508.1" y="314.1" width="26.8" height="27.2" fill="#F9EEE7"/>
<rect x="1537.1" y="314.1" width="26.8" height="27.2" fill="#FBE6DA"/>
<rect x="1566" y="314.1" width="26.8" height="27.2" fill="#7FB7D6"/>
<rect x="1595" y="314.1" width="26.8" height="27.2" fill="#BFDBEA"/>
<rect x="1624" y="314.1" width="26.8" height="27.2" fill="#E7F0F4"/>
<rect x="1653" y="314.1" width="26.8" height="27.2" fill="#DBEAF2"/>
<rect x="1682" y="314.1" width="26.8" height="27.2" fill="#DDEBF2"/>
<rect x="1710.9" y="314.1" width="26.8" height="27.2" fill="#2166AC"/>
<rect x="1739.9" y="314.1" width="26.8" height="27.2" fill="#C7E0ED"/>
<rect x="1768.9" y="314.1" width="26.8" height="27.2" fill="#FBCDB6"/>
<rect x="1797.8" y="314.1" width="26.8" height="27.2" fill="#F9C4AB"/>
<rect x="1826.8" y="314.1" width="26.8" height="27.2" fill="#FCD8C3"/>
<rect x="1276.3" y="343.5" width="26.8" height="27.2" fill="#EFF3F5"/>
<rect x="1305.3" y="343.5" width="26.8" height="27.2" fill="#F0F4F6"/>
<rect x="1334.2" y="343.5" width="26.8" height="27.2" fill="#FCD4BE"/>
<rect x="1363.2" y="343.5" width="26.8" height="27.2" fill="#F8F1ED"/>
<rect x="1392.2" y="343.5" width="26.8" height="27.2" fill="#F9C2A8"/>
<rect x="1421.2" y="343.5" width="26.8" height="27.2" fill="#FBCDB6"/>
<rect x="1450.2" y="343.5" width="26.8" height="27.2" fill="#FDDCC9"/>
<rect x="1479.1" y="343.5" width="26.8" height="27.2" fill="#F9EEE7"/>
<rect x="1508.1" y="343.5" width="26.8" height="27.2" fill="#B2182B"/>
<rect x="1537.1" y="343.5" width="26.8" height="27.2" fill="#FCD4BE"/>
<rect x="1566" y="343.5" width="26.8" height="27.2" fill="#FCDECC"/>
<rect x="1595" y="343.5" width="26.8" height="27.2" fill="#F8F1ED"/>
<rect x="1624" y="343.5" width="26.8" height="27.2" fill="#FCE0D0"/>
<rect x="1653" y="343.5" width="26.8" height="27.2" fill="#FBE3D5"/>
<rect x="1682" y="343.5" width="26.8" height="27.2" fill="#E7F0F4"/>
<rect x="1710.9" y="343.5" width="26.8" height="27.2" fill="#8EBFDB"/>
<rect x="1739.9" y="343.5" width="26.8" height="27.2" fill="#E7F0F4"/>
<rect x="1768.9" y="343.5" width="26.8" height="27.2" fill="#FCDFCD"/>
<rect x="1797.8" y="343.5" width="26.8" height="27.2" fill="#FCD8C3"/>
<rect x="1826.8" y="343.5" width="26.8" height="27.2" fill="#FBE3D5"/>
<rect x="1276.3" y="373" width="26.8" height="27.2" fill="#FCE0D0"/>
<rect x="1305.3" y="373" width="26.8" height="27.2" fill="#FCD4BE"/>
<rect x="1334.2" y="373" width="26.8" height="27.2" fill="#F6B294"/>
<rect x="1363.2" y="373" width="26.8" height="27.2" fill="#F7B79A"/>
<rect x="1392.2" y="373" width="26.8" height="27.2" fill="#F3A381"/>
<rect x="1421.2" y="373" width="26.8" height="27.2" fill="#F4A584"/>
<rect x="1450.2" y="373" width="26.8" height="27.2" fill="#F19671"/>
<rect x="1479.1" y="373" width="26.8" height="27.2" fill="#FBE6DA"/>
<rect x="1508.1" y="373" width="26.8" height="27.2" fill="#FCD4BE"/>
<rect x="1537.1" y="373" width="26.8" height="27.2" fill="#B2182B"/>
<rect x="1566" y="373" width="26.8" height="27.2" fill="#D5E7F1"/>
<rect x="1595" y="373" width="26.8" height="27.2" fill="#FAC9B0"/>
<rect x="1624" y="373" width="26.8" height="27.2" fill="#F4A584"/>
<rect x="1653" y="373" width="26.8" height="27.2" fill="#F6B597"/>
<rect x="1682" y="373" width="26.8" height="27.2" fill="#F0916B"/>
<rect x="1710.9" y="373" width="26.8" height="27.2" fill="#D3E6F0"/>
<rect x="1739.9" y="373" width="26.8" height="27.2" fill="#FCDFCD"/>
<rect x="1768.9" y="373" width="26.8" height="27.2" fill="#F5AE8F"/>
<rect x="1797.8" y="373" width="26.8" height="27.2" fill="#F5AC8C"/>
<rect x="1826.8" y="373" width="26.8" height="27.2" fill="#F5AE8F"/>
<rect x="1276.3" y="402.4" width="26.8" height="27.2" fill="#68AACF"/>
<rect x="1305.3" y="402.4" width="26.8" height="27.2" fill="#8EBFDB"/>
<rect x="1334.2" y="402.4" width="26.8" height="27.2" fill="#C7E0ED"/>
<rect x="1363.2" y="402.4" width="26.8" height="27.2" fill="#5EA0CB"/>
<rect x="1392.2" y="402.4" width="26.8" height="27.2" fill="#D8E8F1"/>
<rect x="1421.2" y="402.4" width="26.8" height="27.2" fill="#C7E0ED"/>
<rect x="1450.2" y="402.4" width="26.8" height="27.2" fill="#C7E0ED"/>
<rect x="1479.1" y="402.4" width="26.8" height="27.2" fill="#7FB7D6"/>
<rect x="1508.1" y="402.4" width="26.8" height="27.2" fill="#FCDECC"/>
<rect x="1537.1" y="402.4" width="26.8" height="27.2" fill="#D5E7F1"/>
<rect x="1566" y="402.4" width="26.8" height="27.2" fill="#B2182B"/>
<rect x="1595" y="402.4" width="26.8" height="27.2" fill="#8EBFDB"/>
<rect x="1624" y="402.4" width="26.8" height="27.2" fill="#AACFE4"/>
<rect x="1653" y="402.4" width="26.8" height="27.2" fill="#B3D4E7"/>
<rect x="1682" y="402.4" width="26.8" height="27.2" fill="#60A2CB"/>
<rect x="1710.9" y="402.4" width="26.8" height="27.2" fill="#4B8EC1"/>
<rect x="1739.9" y="402.4" width="26.8" height="27.2" fill="#C7E0ED"/>
<rect x="1768.9" y="402.4" width="26.8" height="27.2" fill="#CDE3EF"/>
<rect x="1797.8" y="402.4" width="26.8" height="27.2" fill="#BFDBEA"/>
<rect x="1826.8" y="402.4" width="26.8" height="27.2" fill="#D0E4F0"/>
<rect x="1276.3" y="431.8" width="26.8" height="27.2" fill="#DBEAF2"/>
<rect x="1305.3" y="431.8" width="26.8" height="27.2" fill="#E5EFF4"/>
<rect x="1334.2" y="431.8" width="26.8" height="27.2" fill="#FCE2D2"/>
<rect x="1363.2" y="431.8" width="26.8" height="27.2" fill="#FAE9DF"/>
<rect x="1392.2" y="431.8" width="26.8" height="27.2" fill="#FCE2D2"/>
<rect x="1421.2" y="431.8" width="26.8" height="27.2" fill="#FDDDCA"/>
<rect x="1450.2" y="431.8" width="26.8" height="27.2" fill="#FCDECC"/>
<rect x="1479.1" y="431.8" width="26.8" height="27.2" fill="#BFDBEA"/>
<rect x="1508.1" y="431.8" width="26.8" height="27.2" fill="#F8F1ED"/>
<rect x="1537.1" y="431.8" width="26.8" height="27.2" fill="#FAC9B0"/>
<rect x="1566" y="431.8" width="26.8" height="27.2" fill="#8EBFDB"/>
<rect x="1595" y="431.8" width="26.8" height="27.2" fill="#B2182B"/>
<rect x="1624" y="431.8" width="26.8" height="27.2" fill="#CB4742"/>
<rect x="1653" y="431.8" width="26.8" height="27.2" fill="#CB4742"/>
<rect x="1682" y="431.8" width="26.8" height="27.2" fill="#FCDECC"/>
<rect x="1710.9" y="431.8" width="26.8" height="27.2" fill="#B6D6E8"/>
<rect x="1739.9" y="431.8" width="26.8" height="27.2" fill="#FAEAE1"/>
<rect x="1768.9" y="431.8" width="26.8" height="27.2" fill="#FBD1BB"/>
<rect x="1797.8" y="431.8" width="26.8" height="27.2" fill="#F9C6AD"/>
<rect x="1826.8" y="431.8" width="26.8" height="27.2" fill="#F9C4AB"/>
<rect x="1276.3" y="461.3" width="26.8" height="27.2" fill="#F8F1ED"/>
<rect x="1305.3" y="461.3" width="26.8" height="27.2" fill="#FAEAE1"/>
<rect x="1334.2" y="461.3" width="26.8" height="27.2" fill="#FAC9B0"/>
<rect x="1363.2" y="461.3" width="26.8" height="27.2" fill="#FCD4BE"/>
<rect x="1392.2" y="461.3" width="26.8" height="27.2" fill="#F8C0A5"/>
<rect x="1421.2" y="461.3" width="26.8" height="27.2" fill="#F6B597"/>
<rect x="1450.2" y="461.3" width="26.8" height="27.2" fill="#FBCDB6"/>
<rect x="1479.1" y="461.3" width="26.8" height="27.2" fill="#E7F0F4"/>
<rect x="1508.1" y="461.3" width="26.8" height="27.2" fill="#FCE0D0"/>
<rect x="1537.1" y="461.3" width="26.8" height="27.2" fill="#F4A584"/>
<rect x="1566" y="461.3" width="26.8" height="27.2" fill="#AACFE4"/>
<rect x="1595" y="461.3" width="26.8" height="27.2" fill="#CB4742"/>
<rect x="1624" y="461.3" width="26.8" height="27.2" fill="#B2182B"/>
<rect x="1653" y="461.3" width="26.8" height="27.2" fill="#C3373A"/>
<rect x="1682" y="461.3" width="26.8" height="27.2" fill="#F9C6AD"/>
<rect x="1710.9" y="461.3" width="26.8" height="27.2" fill="#C7E0ED"/>
<rect x="1739.9" y="461.3" width="26.8" height="27.2" fill="#FCDFCE"/>
<rect x="1768.9" y="461.3" width="26.8" height="27.2" fill="#F7B79A"/>
<rect x="1797.8" y="461.3" width="26.8" height="27.2" fill="#F3A381"/>
<rect x="1826.8" y="461.3" width="26.8" height="27.2" fill="#F6B092"/>
<rect x="1276.3" y="490.7" width="26.8" height="27.2" fill="#F0F4F6"/>
<rect x="1305.3" y="490.7" width="26.8" height="27.2" fill="#F7F5F4"/>
<rect x="1334.2" y="490.7" width="26.8" height="27.2" fill="#FDDCC8"/>
<rect x="1363.2" y="490.7" width="26.8" height="27.2" fill="#FBE5D9"/>
<rect x="1392.2" y="490.7" width="26.8" height="27.2" fill="#FDDCC8"/>
<rect x="1421.2" y="490.7" width="26.8" height="27.2" fill="#FACBB3"/>
<rect x="1450.2" y="490.7" width="26.8" height="27.2" fill="#FDDCC8"/>
<rect x="1479.1" y="490.7" width="26.8" height="27.2" fill="#DBEAF2"/>
<rect x="1508.1" y="490.7" width="26.8" height="27.2" fill="#FBE3D5"/>
<rect x="1537.1" y="490.7" width="26.8" height="27.2" fill="#F6B597"/>
<rect x="1566" y="490.7" width="26.8" height="27.2" fill="#B3D4E7"/>
<rect x="1595" y="490.7" width="26.8" height="27.2" fill="#CB4742"/>
<rect x="1624" y="490.7" width="26.8" height="27.2" fill="#C3373A"/>
<rect x="1653" y="490.7" width="26.8" height="27.2" fill="#B2182B"/>
<rect x="1682" y="490.7" width="26.8" height="27.2" fill="#FCD4BE"/>
<rect x="1710.9" y="490.7" width="26.8" height="27.2" fill="#C2DCEB"/>
<rect x="1739.9" y="490.7" width="26.8" height="27.2" fill="#FCDECC"/>
<rect x="1768.9" y="490.7" width="26.8" height="27.2" fill="#FAC9B0"/>
<rect x="1797.8" y="490.7" width="26.8" height="27.2" fill="#F6B597"/>
<rect x="1826.8" y="490.7" width="26.8" height="27.2" fill="#F6B092"/>
<rect x="1276.3" y="520.2" width="26.8" height="27.2" fill="#F7F5F4"/>
<rect x="1305.3" y="520.2" width="26.8" height="27.2" fill="#FBE2D4"/>
<rect x="1334.2" y="520.2" width="26.8" height="27.2" fill="#FBE5D9"/>
<rect x="1363.2" y="520.2" width="26.8" height="27.2" fill="#FDDCC9"/>
<rect x="1392.2" y="520.2" width="26.8" height="27.2" fill="#FDDCC9"/>
<rect x="1421.2" y="520.2" width="26.8" height="27.2" fill="#FDDCC9"/>
<rect x="1450.2" y="520.2" width="26.8" height="27.2" fill="#FACBB3"/>
<rect x="1479.1" y="520.2" width="26.8" height="27.2" fill="#DDEBF2"/>
<rect x="1508.1" y="520.2" width="26.8" height="27.2" fill="#E7F0F4"/>
<rect x="1537.1" y="520.2" width="26.8" height="27.2" fill="#F0916B"/>
<rect x="1566" y="520.2" width="26.8" height="27.2" fill="#60A2CB"/>
<rect x="1595" y="520.2" width="26.8" height="27.2" fill="#FCDECC"/>
<rect x="1624" y="520.2" width="26.8" height="27.2" fill="#F9C6AD"/>
<rect x="1653" y="520.2" width="26.8" height="27.2" fill="#FCD4BE"/>
<rect x="1682" y="520.2" width="26.8" height="27.2" fill="#B2182B"/>
<rect x="1710.9" y="520.2" width="26.8" height="27.2" fill="#F7F5F4"/>
<rect x="1739.9" y="520.2" width="26.8" height="27.2" fill="#F7F7F7"/>
<rect x="1768.9" y="520.2" width="26.8" height="27.2" fill="#FCDECC"/>
<rect x="1797.8" y="520.2" width="26.8" height="27.2" fill="#FDDDCA"/>
<rect x="1826.8" y="520.2" width="26.8" height="27.2" fill="#FCDFCD"/>
<rect x="1276.3" y="549.6" width="26.8" height="27.2" fill="#478BBF"/>
<rect x="1305.3" y="549.6" width="26.8" height="27.2" fill="#4B8EC1"/>
<rect x="1334.2" y="549.6" width="26.8" height="27.2" fill="#478BBF"/>
<rect x="1363.2" y="549.6" width="26.8" height="27.2" fill="#2E73B3"/>
<rect x="1392.2" y="549.6" width="26.8" height="27.2" fill="#64A6CD"/>
<rect x="1421.2" y="549.6" width="26.8" height="27.2" fill="#4F92C3"/>
<rect x="1450.2" y="549.6" width="26.8" height="27.2" fill="#B9D7E8"/>
<rect x="1479.1" y="549.6" width="26.8" height="27.2" fill="#2166AC"/>
<rect x="1508.1" y="549.6" width="26.8" height="27.2" fill="#8EBFDB"/>
<rect x="1537.1" y="549.6" width="26.8" height="27.2" fill="#D3E6F0"/>
<rect x="1566" y="549.6" width="26.8" height="27.2" fill="#4B8EC1"/>
<rect x="1595" y="549.6" width="26.8" height="27.2" fill="#B6D6E8"/>
<rect x="1624" y="549.6" width="26.8" height="27.2" fill="#C7E0ED"/>
<rect x="1653" y="549.6" width="26.8" height="27.2" fill="#C2DCEB"/>
<rect x="1682" y="549.6" width="26.8" height="27.2" fill="#F7F5F4"/>
<rect x="1710.9" y="549.6" width="26.8" height="27.2" fill="#B2182B"/>
<rect x="1739.9" y="549.6" width="26.8" height="27.2" fill="#A2CAE1"/>
<rect x="1768.9" y="549.6" width="26.8" height="27.2" fill="#A5CCE2"/>
<rect x="1797.8" y="549.6" width="26.8" height="27.2" fill="#96C4DE"/>
<rect x="1826.8" y="549.6" width="26.8" height="27.2" fill="#C7E0ED"/>
<rect x="1276.3" y="579" width="26.8" height="27.2" fill="#F0F4F6"/>
<rect x="1305.3" y="579" width="26.8" height="27.2" fill="#DFECF3"/>
<rect x="1334.2" y="579" width="26.8" height="27.2" fill="#F7F7F7"/>
<rect x="1363.2" y="579" width="26.8" height="27.2" fill="#DFECF3"/>
<rect x="1392.2" y="579" width="26.8" height="27.2" fill="#FAE8DD"/>
<rect x="1421.2" y="579" width="26.8" height="27.2" fill="#F7F5F4"/>
<rect x="1450.2" y="579" width="26.8" height="27.2" fill="#FCDFCD"/>
<rect x="1479.1" y="579" width="26.8" height="27.2" fill="#C7E0ED"/>
<rect x="1508.1" y="579" width="26.8" height="27.2" fill="#E7F0F4"/>
<rect x="1537.1" y="579" width="26.8" height="27.2" fill="#FCDFCD"/>
<rect x="1566" y="579" width="26.8" height="27.2" fill="#C7E0ED"/>
<rect x="1595" y="579" width="26.8" height="27.2" fill="#FAEAE1"/>
<rect x="1624" y="579" width="26.8" height="27.2" fill="#FCDFCE"/>
<rect x="1653" y="579" width="26.8" height="27.2" fill="#FCDECC"/>
<rect x="1682" y="579" width="26.8" height="27.2" fill="#F7F7F7"/>
<rect x="1710.9" y="579" width="26.8" height="27.2" fill="#A2CAE1"/>
<rect x="1739.9" y="579" width="26.8" height="27.2" fill="#B2182B"/>
<rect x="1768.9" y="579" width="26.8" height="27.2" fill="#FBD1BB"/>
<rect x="1797.8" y="579" width="26.8" height="27.2" fill="#FDDCC8"/>
<rect x="1826.8" y="579" width="26.8" height="27.2" fill="#FDDAC6"/>
<rect x="1276.3" y="608.5" width="26.8" height="27.2" fill="#FCD4BE"/>
<rect x="1305.3" y="608.5" width="26.8" height="27.2" fill="#FCDFCD"/>
<rect x="1334.2" y="608.5" width="26.8" height="27.2" fill="#F9C2A8"/>
<rect x="1363.2" y="608.5" width="26.8" height="27.2" fill="#FBCFB8"/>
<rect x="1392.2" y="608.5" width="26.8" height="27.2" fill="#F6B092"/>
<rect x="1421.2" y="608.5" width="26.8" height="27.2" fill="#F6B597"/>
<rect x="1450.2" y="608.5" width="26.8" height="27.2" fill="#EC855F"/>
<rect x="1479.1" y="608.5" width="26.8" height="27.2" fill="#FBCDB6"/>
<rect x="1508.1" y="608.5" width="26.8" height="27.2" fill="#FCDFCD"/>
<rect x="1537.1" y="608.5" width="26.8" height="27.2" fill="#F5AE8F"/>
<rect x="1566" y="608.5" width="26.8" height="27.2" fill="#CDE3EF"/>
<rect x="1595" y="608.5" width="26.8" height="27.2" fill="#FBD1BB"/>
<rect x="1624" y="608.5" width="26.8" height="27.2" fill="#F7B79A"/>
<rect x="1653" y="608.5" width="26.8" height="27.2" fill="#FAC9B0"/>
<rect x="1682" y="608.5" width="26.8" height="27.2" fill="#FCDECC"/>
<rect x="1710.9" y="608.5" width="26.8" height="27.2" fill="#A5CCE2"/>
<rect x="1739.9" y="608.5" width="26.8" height="27.2" fill="#FBD1BB"/>
<rect x="1768.9" y="608.5" width="26.8" height="27.2" fill="#B2182B"/>
<rect x="1797.8" y="608.5" width="26.8" height="27.2" fill="#EB825E"/>
<rect x="1826.8" y="608.5" width="26.8" height="27.2" fill="#EE8861"/>
<rect x="1276.3" y="637.9" width="26.8" height="27.2" fill="#F7B79A"/>
<rect x="1305.3" y="637.9" width="26.8" height="27.2" fill="#F9C6AD"/>
<rect x="1334.2" y="637.9" width="26.8" height="27.2" fill="#F3A381"/>
<rect x="1363.2" y="637.9" width="26.8" height="27.2" fill="#F5AE8F"/>
<rect x="1392.2" y="637.9" width="26.8" height="27.2" fill="#F0916B"/>
<rect x="1421.2" y="637.9" width="26.8" height="27.2" fill="#F0916B"/>
<rect x="1450.2" y="637.9" width="26.8" height="27.2" fill="#F19671"/>
<rect x="1479.1" y="637.9" width="26.8" height="27.2" fill="#F9C4AB"/>
<rect x="1508.1" y="637.9" width="26.8" height="27.2" fill="#FCD8C3"/>
<rect x="1537.1" y="637.9" width="26.8" height="27.2" fill="#F5AC8C"/>
<rect x="1566" y="637.9" width="26.8" height="27.2" fill="#BFDBEA"/>
<rect x="1595" y="637.9" width="26.8" height="27.2" fill="#F9C6AD"/>
<rect x="1624" y="637.9" width="26.8" height="27.2" fill="#F3A381"/>
<rect x="1653" y="637.9" width="26.8" height="27.2" fill="#F6B597"/>
<rect x="1682" y="637.9" width="26.8" height="27.2" fill="#FDDDCA"/>
<rect x="1710.9" y="637.9" width="26.8" height="27.2" fill="#96C4DE"/>
<rect x="1739.9" y="637.9" width="26.8" height="27.2" fill="#FDDCC8"/>
<rect x="1768.9" y="637.9" width="26.8" height="27.2" fill="#EB825E"/>
<rect x="1797.8" y="637.9" width="26.8" height="27.2" fill="#B2182B"/>
<rect x="1826.8" y="637.9" width="26.8" height="27.2" fill="#EC855F"/>
<rect x="1276.3" y="667.4" width="26.8" height="27.2" fill="#FCE0D0"/>
<rect x="1305.3" y="667.4" width="26.8" height="27.2" fill="#FCDFCD"/>
<rect x="1334.2" y="667.4" width="26.8" height="27.2" fill="#FAC9B0"/>
<rect x="1363.2" y="667.4" width="26.8" height="27.2" fill="#FCDECC"/>
<rect x="1392.2" y="667.4" width="26.8" height="27.2" fill="#F8BBA0"/>
<rect x="1421.2" y="667.4" width="26.8" height="27.2" fill="#F8BBA0"/>
<rect x="1450.2" y="667.4" width="26.8" height="27.2" fill="#EF8B63"/>
<rect x="1479.1" y="667.4" width="26.8" height="27.2" fill="#FCD8C3"/>
<rect x="1508.1" y="667.4" width="26.8" height="27.2" fill="#FBE3D5"/>
<rect x="1537.1" y="667.4" width="26.8" height="27.2" fill="#F5AE8F"/>
<rect x="1566" y="667.4" width="26.8" height="27.2" fill="#D0E4F0"/>
<rect x="1595" y="667.4" width="26.8" height="27.2" fill="#F9C4AB"/>
<rect x="1624" y="667.4" width="26.8" height="27.2" fill="#F6B092"/>
<rect x="1653" y="667.4" width="26.8" height="27.2" fill="#F6B092"/>
<rect x="1682" y="667.4" width="26.8" height="27.2" fill="#FCDFCD"/>
<rect x="1710.9" y="667.4" width="26.8" height="27.2" fill="#C7E0ED"/>
<rect x="1739.9" y="667.4" width="26.8" height="27.2" fill="#FDDAC6"/>
<rect x="1768.9" y="667.4" width="26.8" height="27.2" fill="#EE8861"/>
<rect x="1797.8" y="667.4" width="26.8" height="27.2" fill="#EC855F"/>
<rect x="1826.8" y="667.4" width="26.8" height="27.2" fill="#B2182B"/>
<path d="M1289.7 105.8V88.3H1318.7V105.8M1347.6 105.8V99.2H1376.6V105.8M1405.6 105.8V89H1434.6V105.8M1362.1 99.2V85.5H1420.1V89M1304.2 88.3V50.3H1391.1V85.5M1463.5 105.8V79.7H1492.5V105.8M1550.5 105.8V79.7H1579.4V105.8M1521.5 105.8V78H1565V79.7M1478 79.7V54H1543.2V78M1637.4 105.8V102H1666.4V105.8M1608.4 105.8V87.2H1651.9V102M1695.3 105.8V87.2H1724.3V105.8M1811.2 105.8V87.2H1840.2V105.8M1782.3 105.8V81.4H1825.7V87.2M1753.3 105.8V73.9H1804V81.4M1709.8 87.2V64H1778.6V73.9M1630.1 87.2V53H1744.2V64M1510.6 54V44.1H1687.2V53M1347.6 50.3V17.1H1598.9V44.1" fill="none" stroke="#000" stroke-width="2.4" stroke-linejoin="miter"/>
<g font-size="25.8" fill="#231F20">
<text transform="translate(1280.8 706.8) rotate(90)">Tumoroid_08</text>
<text transform="translate(1309.8 706.8) rotate(90)">Tumoroid_24</text>
<text transform="translate(1338.7 706.8) rotate(90)">Colonoid_24</text>
<text transform="translate(1367.7 706.8) rotate(90)">Colonoid_28</text>
<text transform="translate(1396.7 706.8) rotate(90)">Colonoid_08</text>
<text transform="translate(1425.7 706.8) rotate(90)">Colonoid_26</text>
<text transform="translate(1454.6 706.8) rotate(90)">Tumor_28</text>
<text transform="translate(1483.6 706.8) rotate(90)">Tumoroid_28</text>
<text transform="translate(1512.6 706.8) rotate(90)">Tumor_86</text>
<text transform="translate(1541.6 706.8) rotate(90)">Tumor_27</text>
<text transform="translate(1570.5 706.8) rotate(90)">Tumor_83</text>
<text transform="translate(1599.5 706.8) rotate(90)">Colon_09</text>
<text transform="translate(1628.5 706.8) rotate(90)">Colon_07</text>
<text transform="translate(1657.5 706.8) rotate(90)">Colon_08</text>
<text transform="translate(1686.4 706.8) rotate(90)">Tumor_24</text>
<text transform="translate(1715.4 706.8) rotate(90)">Tumor_80</text>
<text transform="translate(1744.4 706.8) rotate(90)">Tumor_08</text>
<text transform="translate(1773.4 706.8) rotate(90)">Tumor_09</text>
<text transform="translate(1802.3 706.8) rotate(90)">Tumor_07</text>
<text transform="translate(1831.3 706.8) rotate(90)">Tumor_26</text>
</g>
<defs><linearGradient id="rdbu" x1="0" y1="0" x2="0" y2="1"><stop offset="0%" stop-color="#B2182B"/><stop offset="16.7%" stop-color="#EF8A62"/><stop offset="33.3%" stop-color="#FDDBC7"/><stop offset="50%" stop-color="#F7F7F7"/><stop offset="66.7%" stop-color="#D1E5F0"/><stop offset="83.3%" stop-color="#67A9CF"/><stop offset="100%" stop-color="#2166AC"/></linearGradient></defs>
<rect x="1871.6" y="106.2" width="33.5" height="500.3" fill="url(#rdbu)"/>
<text x="1918.4" y="115.2" font-size="25.8" fill="#231F20">1</text>
<text x="1918.4" y="228.9" font-size="25.8" fill="#231F20">0.95</text>
<text x="1918.4" y="342.6" font-size="25.8" fill="#231F20">0.9</text>
<text x="1918.4" y="456.3" font-size="25.8" fill="#231F20">0.85</text>
<text x="1918.4" y="570" font-size="25.8" fill="#231F20">0.8</text>
</g>
<g id="panelC">
<line x1="227.2" y1="1102.1" x2="227.2" y2="1253.3" stroke="#333" stroke-width="1.9"/>
<rect x="211.9" y="1173.9" width="30.6" height="48" fill="#7DC87E" stroke="#333" stroke-width="1.9"/>
<line x1="211.9" y1="1209" x2="242.5" y2="1209" stroke="#333" stroke-width="3.6"/>
<line x1="267.7" y1="1122.5" x2="267.7" y2="1242" stroke="#333" stroke-width="1.9"/>
<rect x="252.4" y="1172.1" width="30.6" height="33.5" fill="#8FBF9C" stroke="#333" stroke-width="1.9"/>
<line x1="252.4" y1="1195.5" x2="283" y2="1195.5" stroke="#333" stroke-width="3.6"/>
<line x1="308.2" y1="1126.9" x2="308.2" y2="1248.4" stroke="#333" stroke-width="1.9"/>
<rect x="292.9" y="1180.1" width="30.6" height="35.9" fill="#A9B3BF" stroke="#333" stroke-width="1.9"/>
<line x1="292.9" y1="1205.9" x2="323.5" y2="1205.9" stroke="#333" stroke-width="3.6"/>
<line x1="348.7" y1="1141.1" x2="348.7" y2="1250" stroke="#333" stroke-width="1.9"/>
<rect x="333.4" y="1181.9" width="30.6" height="27.3" fill="#C3AFCF" stroke="#333" stroke-width="1.9"/>
<line x1="333.4" y1="1196.8" x2="364" y2="1196.8" stroke="#333" stroke-width="3.6"/>
<line x1="389.2" y1="1097" x2="389.2" y2="1203.3" stroke="#333" stroke-width="1.9"/>
<rect x="373.9" y="1136.7" width="30.6" height="26.8" fill="#DDB6AA" stroke="#333" stroke-width="1.9"/>
<line x1="373.9" y1="1150.6" x2="404.5" y2="1150.6" stroke="#333" stroke-width="3.6"/>
<line x1="429.6" y1="1115.3" x2="429.6" y2="1220.8" stroke="#333" stroke-width="1.9"/>
<rect x="414.3" y="1155" width="30.6" height="26.3" fill="#F2BC8F" stroke="#333" stroke-width="1.9"/>
<line x1="414.3" y1="1168.7" x2="444.9" y2="1168.7" stroke="#333" stroke-width="3.6"/>
<line x1="470.1" y1="1201.2" x2="470.1" y2="1271.1" stroke="#333" stroke-width="1.9"/>
<rect x="454.8" y="1227.3" width="30.6" height="17.5" fill="#FDC987" stroke="#333" stroke-width="1.9"/>
<line x1="454.8" y1="1237.1" x2="485.4" y2="1237.1" stroke="#333" stroke-width="3.6"/>
<line x1="510.6" y1="1118.9" x2="510.6" y2="1276.8" stroke="#333" stroke-width="1.9"/>
<rect x="495.3" y="1182.9" width="30.6" height="42.6" fill="#FAE08A" stroke="#333" stroke-width="1.9"/>
<line x1="495.3" y1="1208.4" x2="525.9" y2="1208.4" stroke="#333" stroke-width="3.6"/>
<line x1="551.1" y1="1022.2" x2="551.1" y2="1256.9" stroke="#333" stroke-width="1.9"/>
<rect x="535.8" y="1116.3" width="30.6" height="63.2" fill="#F9F39B" stroke="#333" stroke-width="1.9"/>
<line x1="535.8" y1="1155.3" x2="566.4" y2="1155.3" stroke="#333" stroke-width="3.6"/>
<line x1="591.6" y1="1051.1" x2="591.6" y2="1271.1" stroke="#333" stroke-width="1.9"/>
<rect x="576.3" y="1161.2" width="30.6" height="80" fill="#BFD2A0" stroke="#333" stroke-width="1.9"/>
<line x1="576.3" y1="1212.6" x2="606.9" y2="1212.6" stroke="#333" stroke-width="3.6"/>
<line x1="632.1" y1="1018.8" x2="632.1" y2="1219.8" stroke="#333" stroke-width="1.9"/>
<rect x="616.8" y="1094.1" width="30.6" height="50.6" fill="#759BAB" stroke="#333" stroke-width="1.9"/>
<line x1="616.8" y1="1118.9" x2="647.4" y2="1118.9" stroke="#333" stroke-width="3.6"/>
<line x1="672.6" y1="1116.3" x2="672.6" y2="1260.5" stroke="#333" stroke-width="1.9"/>
<rect x="657.3" y="1170.3" width="30.6" height="36.1" fill="#3F68AE" stroke="#333" stroke-width="1.9"/>
<line x1="657.3" y1="1189.9" x2="687.9" y2="1189.9" stroke="#333" stroke-width="3.6"/>
<line x1="713.1" y1="1005.7" x2="713.1" y2="1215.1" stroke="#333" stroke-width="1.9"/>
<rect x="697.8" y="1084.1" width="30.6" height="52.6" fill="#843E97" stroke="#333" stroke-width="1.9"/>
<line x1="697.8" y1="1108.6" x2="728.4" y2="1108.6" stroke="#333" stroke-width="3.6"/>
<line x1="753.6" y1="1075.3" x2="753.6" y2="1265.2" stroke="#333" stroke-width="1.9"/>
<rect x="738.3" y="1148.6" width="30.6" height="49.5" fill="#C5178A" stroke="#333" stroke-width="1.9"/>
<line x1="738.3" y1="1172.8" x2="768.9" y2="1172.8" stroke="#333" stroke-width="3.6"/>
<line x1="794.1" y1="996.9" x2="794.1" y2="1228.6" stroke="#333" stroke-width="1.9"/>
<rect x="778.8" y="1054.9" width="30.6" height="69.4" fill="#E8106E" stroke="#333" stroke-width="1.9"/>
<line x1="778.8" y1="1085.1" x2="809.4" y2="1085.1" stroke="#333" stroke-width="3.6"/>
<line x1="834.5" y1="1124.3" x2="834.5" y2="1274.7" stroke="#333" stroke-width="1.9"/>
<rect x="819.2" y="1183.4" width="30.6" height="39.7" fill="#DB2B4A" stroke="#333" stroke-width="1.9"/>
<line x1="819.2" y1="1207.9" x2="849.8" y2="1207.9" stroke="#333" stroke-width="3.6"/>
<line x1="875" y1="1040.7" x2="875" y2="1272.4" stroke="#333" stroke-width="1.9"/>
<rect x="859.7" y="1162.5" width="30.6" height="81.3" fill="#C95426" stroke="#333" stroke-width="1.9"/>
<line x1="859.7" y1="1226.2" x2="890.3" y2="1226.2" stroke="#333" stroke-width="3.6"/>
<line x1="915.5" y1="1150.1" x2="915.5" y2="1258.5" stroke="#333" stroke-width="1.9"/>
<rect x="900.2" y="1190.9" width="30.6" height="27.1" fill="#A75C2A" stroke="#333" stroke-width="1.9"/>
<line x1="900.2" y1="1204.3" x2="930.8" y2="1204.3" stroke="#333" stroke-width="3.6"/>
<line x1="956" y1="1088.2" x2="956" y2="1200.2" stroke="#333" stroke-width="1.9"/>
<rect x="940.7" y="1129.7" width="30.6" height="28.6" fill="#875F49" stroke="#333" stroke-width="1.9"/>
<line x1="940.7" y1="1143.2" x2="971.3" y2="1143.2" stroke="#333" stroke-width="3.6"/>
<line x1="996.5" y1="1171" x2="996.5" y2="1246.1" stroke="#333" stroke-width="1.9"/>
<rect x="981.2" y="1199.1" width="30.6" height="18.8" fill="#696969" stroke="#333" stroke-width="1.9"/>
<line x1="981.2" y1="1209" x2="1011.8" y2="1209" stroke="#333" stroke-width="3.6"/>
<line x1="203.2" y1="981.9" x2="203.2" y2="1308.4" stroke="#000" stroke-width="3.3"/>
<line x1="201.6" y1="1306.8" x2="1021" y2="1306.8" stroke="#000" stroke-width="3.3"/>
<line x1="193.9" y1="1292.1" x2="201.6" y2="1292.1" stroke="#333" stroke-width="2.9"/>
<text x="186.3" y="1302.9" font-size="30" text-anchor="end" fill="#4D4D4D">0.0</text>
<line x1="193.9" y1="1207.7" x2="201.6" y2="1207.7" stroke="#333" stroke-width="2.9"/>
<text x="186.3" y="1218.5" font-size="30" text-anchor="end" fill="#4D4D4D">0.2</text>
<line x1="193.9" y1="1123.3" x2="201.6" y2="1123.3" stroke="#333" stroke-width="2.9"/>
<text x="186.3" y="1134.1" font-size="30" text-anchor="end" fill="#4D4D4D">0.4</text>
<line x1="193.9" y1="1038.9" x2="201.6" y2="1038.9" stroke="#333" stroke-width="2.9"/>
<text x="186.3" y="1049.7" font-size="30" text-anchor="end" fill="#4D4D4D">0.6</text>
<g font-size="30" fill="#4D4D4D" text-anchor="end">
<line x1="227.2" y1="1308.4" x2="227.2" y2="1315.8" stroke="#333" stroke-width="2.9"/>
<text transform="translate(235.6 1323.5) rotate(-90)">Colon_07</text>
<line x1="267.7" y1="1308.4" x2="267.7" y2="1315.8" stroke="#333" stroke-width="2.9"/>
<text transform="translate(276.1 1323.5) rotate(-90)">Colon_08</text>
<line x1="308.2" y1="1308.4" x2="308.2" y2="1315.8" stroke="#333" stroke-width="2.9"/>
<text transform="translate(316.6 1323.5) rotate(-90)">Colon_09</text>
<line x1="348.7" y1="1308.4" x2="348.7" y2="1315.8" stroke="#333" stroke-width="2.9"/>
<text transform="translate(357.1 1328.6) rotate(-90)">Colonoid_08</text>
<line x1="389.2" y1="1308.4" x2="389.2" y2="1315.8" stroke="#333" stroke-width="2.9"/>
<text transform="translate(397.6 1328.6) rotate(-90)">Colonoid_24</text>
<line x1="429.6" y1="1308.4" x2="429.6" y2="1315.8" stroke="#333" stroke-width="2.9"/>
<text transform="translate(438 1328.6) rotate(-90)">Colonoid_26</text>
<line x1="470.1" y1="1308.4" x2="470.1" y2="1315.8" stroke="#333" stroke-width="2.9"/>
<text transform="translate(478.5 1328.6) rotate(-90)">Colonoid_28</text>
<line x1="510.6" y1="1308.4" x2="510.6" y2="1315.8" stroke="#333" stroke-width="2.9"/>
<text transform="translate(519 1323.5) rotate(-90)">Tumor_07</text>
<line x1="551.1" y1="1308.4" x2="551.1" y2="1315.8" stroke="#333" stroke-width="2.9"/>
<text transform="translate(559.5 1323.5) rotate(-90)">Tumor_08</text>
<line x1="591.6" y1="1308.4" x2="591.6" y2="1315.8" stroke="#333" stroke-width="2.9"/>
<text transform="translate(600 1323.5) rotate(-90)">Tumor_09</text>
<line x1="632.1" y1="1308.4" x2="632.1" y2="1315.8" stroke="#333" stroke-width="2.9"/>
<text transform="translate(640.5 1323.5) rotate(-90)">Tumor_24</text>
<line x1="672.6" y1="1308.4" x2="672.6" y2="1315.8" stroke="#333" stroke-width="2.9"/>
<text transform="translate(681 1323.5) rotate(-90)">Tumor_26</text>
<line x1="713.1" y1="1308.4" x2="713.1" y2="1315.8" stroke="#333" stroke-width="2.9"/>
<text transform="translate(721.5 1323.5) rotate(-90)">Tumor_27</text>
<line x1="753.6" y1="1308.4" x2="753.6" y2="1315.8" stroke="#333" stroke-width="2.9"/>
<text transform="translate(762 1323.5) rotate(-90)">Tumor_28</text>
<line x1="794.1" y1="1308.4" x2="794.1" y2="1315.8" stroke="#333" stroke-width="2.9"/>
<text transform="translate(802.5 1323.5) rotate(-90)">Tumor_80</text>
<line x1="834.5" y1="1308.4" x2="834.5" y2="1315.8" stroke="#333" stroke-width="2.9"/>
<text transform="translate(842.9 1323.5) rotate(-90)">Tumor_83</text>
<line x1="875" y1="1308.4" x2="875" y2="1315.8" stroke="#333" stroke-width="2.9"/>
<text transform="translate(883.4 1323.5) rotate(-90)">Tumor_86</text>
<line x1="915.5" y1="1308.4" x2="915.5" y2="1315.8" stroke="#333" stroke-width="2.9"/>
<text transform="translate(923.9 1323.5) rotate(-90)">Tumoroid_08</text>
<line x1="956" y1="1308.4" x2="956" y2="1315.8" stroke="#333" stroke-width="2.9"/>
<text transform="translate(964.4 1323.5) rotate(-90)">Tumoroid_24</text>
<line x1="996.5" y1="1308.4" x2="996.5" y2="1315.8" stroke="#333" stroke-width="2.9"/>
<text transform="translate(1004.9 1323.5) rotate(-90)">Tumoroid_28</text>
</g>
<text transform="translate(129 1148.3) rotate(-90)" font-size="29.9" text-anchor="middle" fill="#231F20">Within-sample heterogeneity</text>
<path d="M551.1 996.7V990.2H915.5V996.7" fill="none" stroke="#000" stroke-width="1.9"/><text x="725.6" y="989.6" font-size="22.6" text-anchor="middle" fill="#231F20">****</text>
<path d="M632.1 972.2V965.7H956V972.2" fill="none" stroke="#000" stroke-width="1.9"/><text x="793.5" y="965.1" font-size="22.6" text-anchor="middle" fill="#231F20">****</text>
<path d="M753.6 947.1V940.6H996.5V947.1" fill="none" stroke="#000" stroke-width="1.9"/><text x="873.5" y="940.6" font-size="22.6" text-anchor="middle" fill="#231F20">****</text>
</g>
<g id="panelD">
<path d="M1168.7 1154.4L1389.9 1154.4M1267 984.1L1377.6 1175.7M1181 1175.7L1291.6 984.1M1181 1133.1L1377.6 1133.1M1254.7 1005.4L1353 1175.7M1205.6 1175.7L1303.9 1005.4M1193.3 1111.8L1365.3 1111.8M1242.4 1026.7L1328.5 1175.7M1230.1 1175.7L1316.2 1026.7M1205.6 1090.5L1353 1090.5M1230.1 1047.9L1303.9 1175.7M1254.7 1175.7L1328.5 1047.9M1217.8 1069.2L1340.8 1069.2M1217.8 1069.2L1279.3 1175.7M1279.3 1175.7L1340.8 1069.2M1230.1 1047.9L1328.5 1047.9M1205.6 1090.5L1254.7 1175.7M1303.9 1175.7L1353 1090.5M1242.4 1026.7L1316.2 1026.7M1193.3 1111.8L1230.1 1175.7M1328.5 1175.7L1365.3 1111.8M1254.7 1005.4L1303.9 1005.4M1181 1133.1L1205.6 1175.7M1353 1175.7L1377.6 1133.1M1267 984.1L1291.6 984.1M1168.7 1154.4L1181 1175.7M1377.6 1175.7L1389.9 1154.4" stroke="#E4E4E4" stroke-width="0.9" fill="none"/>
<path d="M1181 1133.1L1377.6 1133.1" stroke="#8C1A1C" stroke-width="3.4" fill="none" stroke-dasharray="6.8 7.2 21.8 7.2" stroke-dashoffset="1.5"/>
<path d="M1205.6 1090.5L1353 1090.5" stroke="#8C1A1C" stroke-width="3.4" fill="none" stroke-dasharray="6.8 7.2 21.8 7.2" stroke-dashoffset="38.3"/>
<path d="M1230.1 1047.9L1328.5 1047.9" stroke="#8C1A1C" stroke-width="3.4" fill="none" stroke-dasharray="6.8 7.2 21.8 7.2" stroke-dashoffset="38.3"/>
<path d="M1254.7 1005.4L1303.9 1005.4" stroke="#8C1A1C" stroke-width="3.4" fill="none" stroke-dasharray="6.8 7.2 21.8 7.2" stroke-dashoffset="1.5"/>
<path d="M1254.7 1005.4L1353 1175.7M1230.1 1047.9L1303.9 1175.7M1205.6 1090.5L1254.7 1175.7M1181 1133.1L1205.6 1175.7" stroke="#27297F" stroke-width="3.4" fill="none" stroke-dasharray="6.8 7.2 21.8 7.2"/>
<path d="M1205.6 1175.7L1303.9 1005.4M1254.7 1175.7L1328.5 1047.9M1303.9 1175.7L1353 1090.5M1353 1175.7L1377.6 1133.1" stroke="#1A6B35" stroke-width="3.4" fill="none" stroke-dasharray="6.8 7.2 21.8 7.2"/>
<path d="M1216.3 1157C1217.1 1155.4 1216.7 1155.5 1220 1153.3C1223.3 1151.2 1223.3 1150.9 1228.7 1149C1234.2 1147 1234.2 1148 1240.4 1146C1246.6 1144.1 1246.2 1144.8 1252.1 1141.7C1257.9 1138.5 1256.8 1138.3 1262.3 1134.4C1267.7 1130.5 1267.4 1130.6 1272.5 1127.1C1277.5 1123.6 1276.6 1123.3 1281.2 1121.2C1285.9 1119.2 1285.3 1119.5 1290 1119.5C1294.7 1119.5 1294.1 1119.6 1298.7 1121.2C1303.4 1122.9 1302.4 1122.5 1307.5 1125.6C1312.5 1128.7 1312.3 1129.2 1317.7 1132.9C1323.1 1136.6 1322.1 1136.4 1327.9 1139.5C1333.7 1142.6 1332.6 1141.9 1339.6 1144.6C1346.6 1147.3 1346.4 1147 1354.2 1149.7C1361.9 1152.4 1361.7 1151.9 1368.7 1154.8C1375.7 1157.7 1375 1157.1 1380.4 1160.6C1385.8 1164.1 1386.4 1164.6 1389.1 1167.9C1391.9 1171.2 1396 1171.5 1390.6 1173C1385.2 1174.5 1382.3 1173.6 1368.7 1173.4C1355.1 1173.3 1353.2 1173.2 1339.6 1172.3C1326 1171.4 1327.4 1171.5 1317.7 1170.1C1308 1168.7 1310.9 1168.5 1303.1 1167.2C1295.3 1165.8 1296.3 1166.4 1288.5 1165C1280.8 1163.6 1281.7 1163.4 1273.9 1162.1C1266.2 1160.7 1267.1 1161.1 1259.4 1159.9C1251.6 1158.7 1252.2 1158.4 1244.8 1157.7C1237.4 1157 1237.9 1156.8 1231.7 1157.4C1225.4 1158 1225.3 1159.4 1221.5 1159.9C1217.6 1160.4 1218.4 1159.9 1217.1 1159.2C1215.7 1158.4 1215.6 1158.5 1216.3 1157Z" fill="#194696" fill-opacity="0.2" stroke="#1F82C0" stroke-width="2.8" stroke-linejoin="round"/><path d="M1290 1154.8C1290.8 1152.6 1290.1 1152.2 1293.6 1150.4C1297.1 1148.7 1296.7 1149 1303.1 1148.2C1309.5 1147.4 1309.9 1147.3 1317.7 1147.5C1325.5 1147.7 1324.5 1147.8 1332.3 1149C1340.1 1150.1 1339.1 1149.9 1346.9 1151.9C1354.6 1153.8 1353.7 1153.5 1361.4 1156.2C1369.2 1159 1369.4 1158.8 1376 1162.1C1382.6 1165.4 1382.7 1165.7 1386.2 1168.6C1389.7 1171.6 1397.7 1171.8 1389.1 1173C1380.6 1174.2 1371.3 1173.6 1354.2 1173C1337 1172.4 1337.4 1172.2 1325 1170.8C1312.5 1169.5 1315.3 1170 1307.5 1167.9C1299.7 1165.8 1300.3 1165.3 1295.8 1162.8C1291.3 1160.3 1292.3 1160.6 1290.7 1158.4C1289.2 1156.3 1289.2 1156.9 1290 1154.8Z" fill="#194696" fill-opacity="0.2" stroke="#1F82C0" stroke-width="2.8" stroke-linejoin="round"/><path d="M1308.9 1160.6C1308.9 1157.9 1308.6 1157.5 1314.8 1155.5C1321 1153.6 1321.8 1153.1 1332.3 1153.3C1342.8 1153.5 1343.3 1153.7 1354.2 1156.2C1365 1158.8 1364.9 1158.9 1373.1 1162.8C1381.3 1166.7 1387.9 1168.2 1384.8 1170.8C1381.7 1173.4 1375.4 1172.7 1361.4 1172.6C1347.4 1172.5 1344.7 1172.2 1332.3 1170.4C1319.8 1168.6 1321 1168.3 1314.8 1165.7C1308.6 1163.1 1308.9 1163.3 1308.9 1160.6Z" fill="#194696" fill-opacity="0.2" stroke="#1F82C0" stroke-width="2.8" stroke-linejoin="round"/><path d="M1319.2 1162.1C1319.9 1159.5 1319.5 1159.3 1325 1157.7C1330.4 1156.1 1331 1155.9 1339.6 1156.2C1348.1 1156.6 1347.7 1156.8 1357.1 1159.2C1366.4 1161.5 1366 1161.5 1374.6 1165C1383.1 1168.5 1392.6 1170.1 1389.1 1172.3C1385.6 1174.4 1375.4 1173.4 1361.4 1173C1347.4 1172.6 1347.2 1172.4 1336.7 1170.8C1326.2 1169.3 1326.7 1169.5 1322.1 1167.2C1317.4 1164.8 1318.4 1164.6 1319.2 1162.1Z" fill="#1F82C0" fill-opacity="1.0" stroke="#1F82C0" stroke-width="2.8" stroke-linejoin="round"/><path d="M1325 1162.1L1338.1 1160.6M1339.6 1164.3L1357.1 1165.3M1322.1 1165L1332.3 1163.8" fill="none" stroke="#A9C3E6" stroke-width="1.6" stroke-linecap="round"/>
<line x1="1156.4" y1="1175.7" x2="1279.3" y2="962.8" stroke="#27297F" stroke-width="4" stroke-linecap="butt"/>
<line x1="1279.3" y1="962.8" x2="1402.2" y2="1175.7" stroke="#8C1A1C" stroke-width="3.5" stroke-linecap="butt"/>
<line x1="1154.4" y1="1175.7" x2="1404.2" y2="1175.7" stroke="#1A6B35" stroke-width="4"/>
<text x="1279.3" y="951.3" font-size="22.5" text-anchor="middle" fill="#8C1A1C">TA</text>
<text x="1145.9" y="1194.3" font-size="23" text-anchor="end" fill="#27297F">SC</text>
<text x="1412" y="1194.3" font-size="23" fill="#1A6B35">CC</text>
<text x="1382.2" y="1139.8" font-size="18.6" fill="#8C1A1C">20</text>
<text transform="translate(1246.5 1006.1) rotate(60)" font-size="18.6" text-anchor="end" fill="#27297F">20</text>
<text transform="translate(1209.8 1183.7) rotate(-60)" font-size="18.6" text-anchor="end" fill="#1A6B35">20</text>
<text x="1357.6" y="1097.2" font-size="18.6" fill="#8C1A1C">40</text>
<text transform="translate(1221.9 1048.6) rotate(60)" font-size="18.6" text-anchor="end" fill="#27297F">40</text>
<text transform="translate(1258.9 1183.7) rotate(-60)" font-size="18.6" text-anchor="end" fill="#1A6B35">40</text>
<text x="1333.1" y="1054.6" font-size="18.6" fill="#8C1A1C">60</text>
<text transform="translate(1197.4 1091.2) rotate(60)" font-size="18.6" text-anchor="end" fill="#27297F">60</text>
<text transform="translate(1308.1 1183.7) rotate(-60)" font-size="18.6" text-anchor="end" fill="#1A6B35">60</text>
<text x="1308.5" y="1012.1" font-size="18.6" fill="#8C1A1C">80</text>
<text transform="translate(1172.8 1133.8) rotate(60)" font-size="18.6" text-anchor="end" fill="#27297F">80</text>
<text transform="translate(1357.2 1183.7) rotate(-60)" font-size="18.6" text-anchor="end" fill="#1A6B35">80</text>
<text x="1285.4" y="969.5" font-size="18.6" fill="#8C1A1C">100</text>
<text transform="translate(1148.2 1176.4) rotate(60)" font-size="18.6" text-anchor="end" fill="#27297F">100</text>
<text transform="translate(1406.4 1183.7) rotate(-60)" font-size="18.6" text-anchor="end" fill="#1A6B35">100</text>
<path d="M1218.8 1015.4L1169.9 1100.2M1170.3 1085.7L1169.9 1100.2L1182.3 1093.2" stroke="#27297F" stroke-width="1.1" fill="none"/>
<text transform="translate(1194.8 1056.5) rotate(-60)" font-size="21.5" text-anchor="middle" fill="#27297F">SC</text>
<path d="M1389 1100L1339.8 1015.3M1339.8 1029.9L1339.8 1015.3L1352.6 1022.3" stroke="#8C1A1C" stroke-width="1.1" fill="none"/>
<text transform="translate(1365.2 1057.4) rotate(60)" font-size="21.5" text-anchor="middle" fill="#8C1A1C">TA</text>
<path d="M1230.2 1199.2L1328.4 1199.2M1315.9 1192L1328.4 1199.2L1315.9 1206.4" stroke="#1A6B35" stroke-width="1.1" fill="none"/>
<text x="1279.3" y="1215.4" font-size="21.5" text-anchor="middle" fill="#1A6B35">EC</text>
<path d="M1519.5 1154.4L1740.7 1154.4M1617.8 984.1L1728.4 1175.7M1531.8 1175.7L1642.4 984.1M1531.8 1133.1L1728.4 1133.1M1605.5 1005.4L1703.8 1175.7M1556.4 1175.7L1654.7 1005.4M1544.1 1111.8L1716.1 1111.8M1593.2 1026.7L1679.3 1175.7M1580.9 1175.7L1667 1026.7M1556.4 1090.5L1703.8 1090.5M1580.9 1047.9L1654.7 1175.7M1605.5 1175.7L1679.3 1047.9M1568.6 1069.2L1691.5 1069.2M1568.6 1069.2L1630.1 1175.7M1630.1 1175.7L1691.5 1069.2M1580.9 1047.9L1679.3 1047.9M1556.4 1090.5L1605.5 1175.7M1654.7 1175.7L1703.8 1090.5M1593.2 1026.7L1667 1026.7M1544.1 1111.8L1580.9 1175.7M1679.3 1175.7L1716.1 1111.8M1605.5 1005.4L1654.7 1005.4M1531.8 1133.1L1556.4 1175.7M1703.8 1175.7L1728.4 1133.1M1617.8 984.1L1642.4 984.1M1519.5 1154.4L1531.8 1175.7M1728.4 1175.7L1740.7 1154.4" stroke="#E4E4E4" stroke-width="0.9" fill="none"/>
<path d="M1531.8 1133.1L1728.4 1133.1" stroke="#8C1A1C" stroke-width="3.4" fill="none" stroke-dasharray="6.8 7.2 21.8 7.2" stroke-dashoffset="1.5"/>
<path d="M1556.4 1090.5L1703.8 1090.5" stroke="#8C1A1C" stroke-width="3.4" fill="none" stroke-dasharray="6.8 7.2 21.8 7.2" stroke-dashoffset="38.3"/>
<path d="M1580.9 1047.9L1679.3 1047.9" stroke="#8C1A1C" stroke-width="3.4" fill="none" stroke-dasharray="6.8 7.2 21.8 7.2" stroke-dashoffset="38.3"/>
<path d="M1605.5 1005.4L1654.7 1005.4" stroke="#8C1A1C" stroke-width="3.4" fill="none" stroke-dasharray="6.8 7.2 21.8 7.2" stroke-dashoffset="1.5"/>
<path d="M1605.5 1005.4L1703.8 1175.7M1580.9 1047.9L1654.7 1175.7M1556.4 1090.5L1605.5 1175.7M1531.8 1133.1L1556.4 1175.7" stroke="#27297F" stroke-width="3.4" fill="none" stroke-dasharray="6.8 7.2 21.8 7.2"/>
<path d="M1556.4 1175.7L1654.7 1005.4M1605.5 1175.7L1679.3 1047.9M1654.7 1175.7L1703.8 1090.5M1703.8 1175.7L1728.4 1133.1" stroke="#1A6B35" stroke-width="3.4" fill="none" stroke-dasharray="6.8 7.2 21.8 7.2"/>
<path d="M1552.4 1157.1C1551.9 1152.6 1552.6 1152.8 1555.7 1147C1558.9 1141.1 1559.2 1141.9 1564.1 1135.2C1569.1 1128.4 1569.7 1128.9 1574.2 1121.7C1578.7 1114.5 1577.4 1116.3 1581 1108.3C1584.5 1100.2 1584.5 1100.4 1587.7 1091.4C1590.8 1082.5 1590 1083.6 1592.7 1074.6C1595.4 1065.6 1595.1 1066.8 1597.8 1057.8C1600.5 1048.8 1599.7 1048.6 1602.8 1041C1606 1033.3 1606 1033.9 1609.6 1029.2C1613.1 1024.5 1612.7 1025.8 1616.3 1023.3C1619.9 1020.8 1619.4 1020.1 1623 1019.9C1626.6 1019.7 1627.1 1019.5 1629.7 1022.4C1632.4 1025.4 1631.8 1025 1633.1 1030.9C1634.5 1036.7 1633 1037.1 1634.8 1044.3C1636.6 1051.5 1636.7 1050.2 1639.8 1057.8C1643 1065.4 1643 1064.8 1646.6 1072.9C1650.2 1081 1649.3 1080.4 1653.3 1088.1C1657.3 1095.7 1657.2 1094.3 1661.7 1101.5C1666.2 1108.7 1666.1 1108.3 1670.1 1115C1674.2 1121.7 1673.7 1120.5 1676.9 1126.8C1680 1133 1679.7 1132.7 1681.9 1138.5C1684.2 1144.4 1684.2 1143.3 1685.3 1148.6C1686.4 1154 1687.5 1154.5 1686.1 1158.7C1684.8 1163 1685.8 1162.6 1680.2 1164.6C1674.6 1166.6 1673.6 1165.6 1665.1 1166.3C1656.6 1167 1657.2 1166.7 1648.3 1167.1C1639.3 1167.6 1640.4 1167.5 1631.4 1168C1622.5 1168.4 1623.6 1168.8 1614.6 1168.8C1605.6 1168.8 1606.8 1168.4 1597.8 1168C1588.8 1167.5 1589 1167.6 1581 1167.1C1572.9 1166.7 1573.8 1167.2 1567.5 1166.3C1561.2 1165.4 1561.4 1166.2 1557.4 1163.8C1553.4 1161.3 1552.8 1161.5 1552.4 1157.1Z" fill="#EE5A28" fill-opacity="0.2" stroke="#E81C2B" stroke-width="3" stroke-linejoin="round"/><path d="M1558.2 1158.7C1556.4 1155.1 1557.8 1155.7 1560.8 1150.3C1563.7 1144.9 1564.2 1145.3 1569.2 1138.5C1574.1 1131.8 1573.9 1132.3 1579.3 1125.1C1584.7 1117.9 1584.4 1119.2 1589.4 1111.6C1594.3 1104 1593.7 1105 1597.8 1096.5C1601.8 1088 1601.4 1088.2 1604.5 1079.7C1607.7 1071.1 1607.1 1072.1 1609.6 1064.5C1612 1056.9 1611.1 1055.5 1613.8 1051C1616.5 1046.6 1617.2 1045.9 1619.7 1047.7C1622.1 1049.5 1620.8 1051.5 1623 1057.8C1625.3 1064.1 1624.9 1064.1 1628.1 1071.2C1631.2 1078.4 1630.8 1077.1 1634.8 1084.7C1638.8 1092.3 1638.7 1092.7 1643.2 1099.8C1647.7 1107 1647.1 1105.8 1651.6 1111.6C1656.1 1117.5 1656.4 1116.8 1660 1121.7C1663.6 1126.7 1663.3 1125.6 1665.1 1130.1C1666.9 1134.6 1667.7 1134.5 1666.8 1138.5C1665.9 1142.6 1665.8 1142.6 1661.7 1145.3C1657.7 1148 1655.7 1146.4 1651.6 1148.6C1647.6 1150.9 1646.1 1151 1646.6 1153.7C1647 1156.4 1652.9 1156.5 1653.3 1158.7C1653.8 1161 1654.1 1160.5 1648.3 1162.1C1642.4 1163.7 1640.4 1163.7 1631.4 1164.6C1622.5 1165.5 1623.6 1165.5 1614.6 1165.5C1605.6 1165.5 1606.8 1164.8 1597.8 1164.6C1588.8 1164.4 1589 1164.8 1581 1164.6C1572.9 1164.4 1573.6 1165.4 1567.5 1163.8C1561.4 1162.2 1560 1162.3 1558.2 1158.7Z" fill="#EE5A28" fill-opacity="0.2" stroke="#E81C2B" stroke-width="3" stroke-linejoin="round"/><path d="M1564.1 1160.4C1560.5 1157.3 1564.4 1156.2 1567.5 1150.3C1570.6 1144.5 1570.5 1144.8 1575.9 1138.5C1581.3 1132.3 1581 1133 1587.7 1126.8C1594.4 1120.5 1594.9 1121.7 1601.1 1115C1607.4 1108.3 1606.8 1107.8 1611.2 1101.5C1615.7 1095.2 1614.6 1095 1618 1091.4C1621.3 1087.8 1620.3 1087.2 1623.9 1088.1C1627.4 1089 1627.2 1090.3 1631.4 1094.8C1635.7 1099.3 1635.4 1099.5 1639.8 1104.9C1644.3 1110.3 1644.2 1109.6 1648.3 1115C1652.3 1120.4 1652.7 1120.1 1655 1125.1C1657.2 1130 1658 1129.9 1656.7 1133.5C1655.3 1137.1 1654.4 1136.3 1649.9 1138.5C1645.5 1140.8 1644.8 1139.7 1639.8 1141.9C1634.9 1144.2 1634.6 1143.8 1631.4 1147C1628.3 1150.1 1632.6 1150.8 1628.1 1153.7C1623.6 1156.6 1622.7 1156.1 1614.6 1157.9C1606.5 1159.7 1606.8 1159.3 1597.8 1160.4C1588.8 1161.5 1589.9 1162.1 1581 1162.1C1572 1162.1 1567.7 1163.6 1564.1 1160.4Z" fill="#EE5A28" fill-opacity="0.2" stroke="#E81C2B" stroke-width="3" stroke-linejoin="round"/><path d="M1574.2 1150.3C1575.1 1146.7 1575.6 1146.4 1581 1141.9C1586.3 1137.4 1588.1 1136.6 1594.4 1133.5C1600.7 1130.4 1600.9 1133.3 1604.5 1130.1C1608.1 1127 1605.2 1127.1 1607.9 1121.7C1610.6 1116.3 1610.6 1114.7 1614.6 1109.9C1618.6 1105.2 1618.1 1104.9 1623 1104.1C1628 1103.2 1628.2 1104.1 1633.1 1106.6C1638 1109 1637.9 1108.8 1641.5 1113.3C1645.1 1117.8 1645.2 1118.5 1646.6 1123.4C1647.9 1128.3 1648.4 1128.2 1646.6 1131.8C1644.8 1135.4 1644.8 1134.2 1639.8 1136.9C1634.9 1139.6 1633.5 1138.8 1628.1 1141.9C1622.7 1145 1625.5 1145.9 1619.7 1148.6C1613.8 1151.3 1614.3 1150.2 1606.2 1152C1598.1 1153.8 1597 1154.5 1589.4 1155.4C1581.7 1156.3 1581.6 1156.7 1577.6 1155.4C1573.6 1154 1573.3 1153.9 1574.2 1150.3Z" fill="#EE5A28" fill-opacity="0.2" stroke="#E81C2B" stroke-width="3" stroke-linejoin="round"/><ellipse cx="1627.2" cy="1123.4" rx="9.3" ry="8.4" fill="#EE5A28" fill-opacity="0.2" stroke="#E81C2B" stroke-width="3"/>
<line x1="1507.2" y1="1175.7" x2="1630.1" y2="962.8" stroke="#27297F" stroke-width="4" stroke-linecap="butt"/>
<line x1="1630.1" y1="962.8" x2="1753" y2="1175.7" stroke="#8C1A1C" stroke-width="3.5" stroke-linecap="butt"/>
<line x1="1505.2" y1="1175.7" x2="1755" y2="1175.7" stroke="#1A6B35" stroke-width="4"/>
<text x="1630.1" y="951.3" font-size="22.5" text-anchor="middle" fill="#8C1A1C">TA</text>
<text x="1496.7" y="1194.3" font-size="23" text-anchor="end" fill="#27297F">SC</text>
<text x="1762.8" y="1194.3" font-size="23" fill="#1A6B35">CC</text>
<text x="1733" y="1139.8" font-size="18.6" fill="#8C1A1C">20</text>
<text transform="translate(1597.3 1006.1) rotate(60)" font-size="18.6" text-anchor="end" fill="#27297F">20</text>
<text transform="translate(1560.6 1183.7) rotate(-60)" font-size="18.6" text-anchor="end" fill="#1A6B35">20</text>
<text x="1708.4" y="1097.2" font-size="18.6" fill="#8C1A1C">40</text>
<text transform="translate(1572.7 1048.6) rotate(60)" font-size="18.6" text-anchor="end" fill="#27297F">40</text>
<text transform="translate(1609.7 1183.7) rotate(-60)" font-size="18.6" text-anchor="end" fill="#1A6B35">40</text>
<text x="1683.9" y="1054.6" font-size="18.6" fill="#8C1A1C">60</text>
<text transform="translate(1548.2 1091.2) rotate(60)" font-size="18.6" text-anchor="end" fill="#27297F">60</text>
<text transform="translate(1658.9 1183.7) rotate(-60)" font-size="18.6" text-anchor="end" fill="#1A6B35">60</text>
<text x="1659.3" y="1012.1" font-size="18.6" fill="#8C1A1C">80</text>
<text transform="translate(1523.6 1133.8) rotate(60)" font-size="18.6" text-anchor="end" fill="#27297F">80</text>
<text transform="translate(1708 1183.7) rotate(-60)" font-size="18.6" text-anchor="end" fill="#1A6B35">80</text>
<text x="1636.2" y="969.5" font-size="18.6" fill="#8C1A1C">100</text>
<text transform="translate(1499 1176.4) rotate(60)" font-size="18.6" text-anchor="end" fill="#27297F">100</text>
<text transform="translate(1757.2 1183.7) rotate(-60)" font-size="18.6" text-anchor="end" fill="#1A6B35">100</text>
<path d="M1569.6 1015.4L1520.7 1100.2M1521.1 1085.7L1520.7 1100.2L1533.1 1093.2" stroke="#27297F" stroke-width="1.1" fill="none"/>
<text transform="translate(1545.6 1056.5) rotate(-60)" font-size="21.5" text-anchor="middle" fill="#27297F">SC</text>
<path d="M1739.8 1100L1690.6 1015.3M1690.6 1029.9L1690.6 1015.3L1703.4 1022.3" stroke="#8C1A1C" stroke-width="1.1" fill="none"/>
<text transform="translate(1716 1057.4) rotate(60)" font-size="21.5" text-anchor="middle" fill="#8C1A1C">TA</text>
<path d="M1581 1199.2L1679.2 1199.2M1666.7 1192L1679.2 1199.2L1666.7 1206.4" stroke="#1A6B35" stroke-width="1.1" fill="none"/>
<text x="1630.1" y="1215.4" font-size="21.5" text-anchor="middle" fill="#1A6B35">EC</text>
<path d="M1168.7 1475L1389.9 1475M1267 1304.7L1377.6 1496.3M1181 1496.3L1291.6 1304.7M1181 1453.7L1377.6 1453.7M1254.7 1326L1353 1496.3M1205.6 1496.3L1303.9 1326M1193.3 1432.4L1365.3 1432.4M1242.4 1347.3L1328.5 1496.3M1230.1 1496.3L1316.2 1347.3M1205.6 1411.1L1353 1411.1M1230.1 1368.5L1303.9 1496.3M1254.7 1496.3L1328.5 1368.5M1217.8 1389.8L1340.8 1389.8M1217.8 1389.8L1279.3 1496.3M1279.3 1496.3L1340.8 1389.8M1230.1 1368.5L1328.5 1368.5M1205.6 1411.1L1254.7 1496.3M1303.9 1496.3L1353 1411.1M1242.4 1347.3L1316.2 1347.3M1193.3 1432.4L1230.1 1496.3M1328.5 1496.3L1365.3 1432.4M1254.7 1326L1303.9 1326M1181 1453.7L1205.6 1496.3M1353 1496.3L1377.6 1453.7M1267 1304.7L1291.6 1304.7M1168.7 1475L1181 1496.3M1377.6 1496.3L1389.9 1475" stroke="#E4E4E4" stroke-width="0.9" fill="none"/>
<path d="M1181 1453.7L1377.6 1453.7" stroke="#8C1A1C" stroke-width="3.4" fill="none" stroke-dasharray="6.8 7.2 21.8 7.2" stroke-dashoffset="1.5"/>
<path d="M1205.6 1411.1L1353 1411.1" stroke="#8C1A1C" stroke-width="3.4" fill="none" stroke-dasharray="6.8 7.2 21.8 7.2" stroke-dashoffset="38.3"/>
<path d="M1230.1 1368.5L1328.5 1368.5" stroke="#8C1A1C" stroke-width="3.4" fill="none" stroke-dasharray="6.8 7.2 21.8 7.2" stroke-dashoffset="38.3"/>
<path d="M1254.7 1326L1303.9 1326" stroke="#8C1A1C" stroke-width="3.4" fill="none" stroke-dasharray="6.8 7.2 21.8 7.2" stroke-dashoffset="1.5"/>
<path d="M1254.7 1326L1353 1496.3M1230.1 1368.5L1303.9 1496.3M1205.6 1411.1L1254.7 1496.3M1181 1453.7L1205.6 1496.3" stroke="#27297F" stroke-width="3.4" fill="none" stroke-dasharray="6.8 7.2 21.8 7.2"/>
<path d="M1205.6 1496.3L1303.9 1326M1254.7 1496.3L1328.5 1368.5M1303.9 1496.3L1353 1411.1M1353 1496.3L1377.6 1453.7" stroke="#1A6B35" stroke-width="3.4" fill="none" stroke-dasharray="6.8 7.2 21.8 7.2"/>
<path d="M1217.5 1461.9C1217.5 1456.1 1218.2 1455.2 1220.9 1448.4C1223.6 1441.7 1224 1443 1227.6 1436.7C1231.2 1430.4 1231.2 1431.6 1234.3 1424.9C1237.5 1418.2 1237.1 1419.5 1239.4 1411.4C1241.6 1403.4 1241.2 1403.6 1242.7 1394.6C1244.3 1385.6 1243.9 1386.8 1245.3 1377.8C1246.6 1368.8 1245.8 1369 1247.8 1361C1249.8 1352.9 1249.2 1353.6 1252.8 1347.5C1256.4 1341.4 1255.4 1341.8 1261.2 1338.2C1267.1 1334.6 1268 1333.4 1274.7 1334C1281.4 1334.7 1281.5 1336.3 1286.5 1340.8C1291.4 1345.3 1290.5 1344.6 1293.2 1350.9C1295.9 1357.1 1295.9 1356.2 1296.6 1364.3C1297.2 1372.4 1296.2 1372.2 1295.7 1381.1C1295.3 1390.1 1294.7 1389 1294.9 1398C1295.1 1406.9 1294.3 1406.7 1296.6 1414.8C1298.8 1422.9 1299.3 1421.1 1303.3 1428.3C1307.3 1435.4 1306.8 1435 1311.7 1441.7C1316.7 1448.4 1316.4 1448.1 1321.8 1453.5C1327.2 1458.9 1328.3 1457.4 1331.9 1461.9C1335.5 1466.4 1335.7 1466.3 1335.3 1470.3C1334.8 1474.4 1335.6 1474.8 1330.2 1477.1C1324.8 1479.3 1323.6 1478.7 1315.1 1478.7C1306.6 1478.7 1307.2 1477.5 1298.3 1477.1C1289.3 1476.6 1290.4 1476.4 1281.4 1477.1C1272.5 1477.7 1273.6 1479.1 1264.6 1479.6C1255.6 1480 1256.8 1479.9 1247.8 1478.7C1238.8 1477.6 1238.1 1477.6 1231 1475.4C1223.8 1473.1 1224.4 1473.9 1220.9 1470.3C1217.3 1466.7 1217.5 1467.7 1217.5 1461.9Z" fill="#5FAE46" fill-opacity="0.2" stroke="#4DB748" stroke-width="3" stroke-linejoin="round"/><path d="M1223.4 1461.9C1222.9 1456.5 1224.7 1455.2 1227.6 1448.4C1230.5 1441.7 1230.3 1443 1234.3 1436.7C1238.4 1430.4 1239.1 1431.6 1242.7 1424.9C1246.3 1418.2 1246 1419.5 1247.8 1411.4C1249.6 1403.4 1248.8 1403.6 1249.5 1394.6C1250.1 1385.6 1249.9 1386.8 1250.3 1377.8C1250.8 1368.8 1249.6 1368.6 1251.1 1361C1252.7 1353.3 1252.6 1354.1 1256.2 1349.2C1259.8 1344.2 1259.2 1345.1 1264.6 1342.4C1270 1339.8 1271 1338.2 1276.4 1339.1C1281.8 1340 1281.7 1340.9 1284.8 1345.8C1287.9 1350.7 1287.5 1350 1288.2 1357.6C1288.8 1365.2 1288.2 1365.4 1287.3 1374.4C1286.4 1383.4 1285.7 1382.3 1284.8 1391.2C1283.9 1400.2 1283.5 1400 1284 1408.1C1284.4 1416.1 1284 1414.3 1286.5 1421.5C1288.9 1428.7 1289.2 1427.8 1293.2 1435C1297.2 1442.2 1297.1 1442.2 1301.6 1448.4C1306.1 1454.7 1306.7 1454.1 1310 1458.5C1313.4 1463 1314.7 1462.6 1314.2 1465.3C1313.8 1468 1314.4 1467.3 1308.4 1468.6C1302.3 1470 1300.5 1469.2 1291.5 1470.3C1282.6 1471.4 1283.7 1471.7 1274.7 1472.8C1265.7 1474 1266.8 1474.5 1257.9 1474.5C1248.9 1474.5 1248.7 1474.4 1241 1472.8C1233.4 1471.3 1234 1471.6 1229.3 1468.6C1224.6 1465.7 1223.8 1467.3 1223.4 1461.9Z" fill="#5FAE46" fill-opacity="0.2" stroke="#4DB748" stroke-width="3" stroke-linejoin="round"/><path d="M1229.3 1460.2C1228.4 1454.8 1230.3 1453.5 1234.3 1446.8C1238.4 1440 1239 1440.8 1244.4 1435C1249.8 1429.2 1250.5 1431.2 1254.5 1424.9C1258.5 1418.6 1258.7 1419.5 1259.6 1411.4C1260.5 1403.4 1259 1403.6 1257.9 1394.6C1256.8 1385.6 1255.8 1386.8 1255.4 1377.8C1254.9 1368.8 1254.2 1368.6 1256.2 1361C1258.2 1353.3 1258.9 1353.2 1262.9 1349.2C1267 1345.1 1267.3 1345.4 1271.3 1345.8C1275.4 1346.3 1275.8 1345.9 1278.1 1350.9C1280.3 1355.8 1280.2 1356.2 1279.7 1364.3C1279.3 1372.4 1278.6 1373.1 1276.4 1381.1C1274.1 1389.2 1273.1 1387.4 1271.3 1394.6C1269.5 1401.8 1269.7 1400.9 1269.7 1408.1C1269.7 1415.2 1268.6 1414.3 1271.3 1421.5C1274 1428.7 1275.7 1428.7 1279.7 1435C1283.8 1441.3 1284.2 1439.7 1286.5 1445.1C1288.7 1450.5 1289.5 1450.7 1288.2 1455.2C1286.8 1459.7 1286.8 1458.8 1281.4 1461.9C1276 1465 1276 1465.2 1268 1467C1259.9 1468.8 1259.2 1468.6 1251.1 1468.6C1243.1 1468.6 1243.5 1469.2 1237.7 1467C1231.9 1464.7 1230.2 1465.6 1229.3 1460.2Z" fill="#5FAE46" fill-opacity="0.2" stroke="#4DB748" stroke-width="3" stroke-linejoin="round"/><path d="M1260.4 1367.7C1260.4 1361.9 1260.5 1360.4 1262.9 1355.9C1265.4 1351.4 1266.5 1350.4 1269.7 1350.9C1272.8 1351.3 1273.4 1352.2 1274.7 1357.6C1276 1363 1276 1364.8 1274.7 1371C1273.4 1377.3 1272.8 1379.4 1269.7 1381.1C1266.5 1382.9 1265.4 1381.4 1262.9 1377.8C1260.5 1374.2 1260.4 1373.5 1260.4 1367.7Z" fill="#5FAE46" fill-opacity="0.2" stroke="#4DB748" stroke-width="3" stroke-linejoin="round"/><ellipse cx="1268.3" cy="1364.3" rx="3.7" ry="9.3" fill="#5FAE46" fill-opacity="0.2" stroke="#4DB748" stroke-width="3"/><path d="M1234.3 1458.5C1235.2 1453.6 1236.6 1451.8 1241 1445.1C1245.5 1438.4 1245.3 1436.9 1251.1 1433.3C1257 1429.7 1257.1 1430.3 1262.9 1431.6C1268.8 1433 1269.4 1433.9 1273 1438.4C1276.6 1442.8 1276.4 1443.1 1276.4 1448.4C1276.4 1453.8 1277.1 1454.5 1273 1458.5C1269 1462.6 1268.4 1461.8 1261.2 1463.6C1254.1 1465.4 1252.4 1465.3 1246.1 1465.3C1239.8 1465.3 1240.8 1465.4 1237.7 1463.6C1234.5 1461.8 1233.4 1463.5 1234.3 1458.5Z" fill="#5FAE46" fill-opacity="0.2" stroke="#4DB748" stroke-width="3" stroke-linejoin="round"/><path d="M1239.4 1456.9C1240.3 1453.3 1241.6 1450.8 1246.1 1446.8C1250.6 1442.7 1251.3 1442.6 1256.2 1441.7C1261.1 1440.8 1261.5 1441.2 1264.6 1443.4C1267.7 1445.6 1268.4 1446.5 1268 1450.1C1267.5 1453.7 1267.4 1454.2 1262.9 1456.9C1258.4 1459.6 1256.5 1459.3 1251.1 1460.2C1245.8 1461.1 1245.9 1461.1 1242.7 1460.2C1239.6 1459.3 1238.5 1460.4 1239.4 1456.9Z" fill="#5FAE46" fill-opacity="0.2" stroke="#4DB748" stroke-width="3" stroke-linejoin="round"/><path d="M1243.6 1454.3C1244 1451.6 1246.9 1449.2 1251.1 1446.8C1255.4 1444.3 1256.2 1444.2 1259.6 1445.1C1262.9 1446 1263.8 1447.4 1263.8 1450.1C1263.8 1452.8 1263.4 1453.4 1259.6 1455.2C1255.7 1457 1253.7 1457.1 1249.5 1456.9C1245.2 1456.6 1243.1 1457 1243.6 1454.3Z" fill="#5FAE46" fill-opacity="0.2" stroke="#4DB748" stroke-width="3" stroke-linejoin="round"/>
<line x1="1156.4" y1="1496.3" x2="1279.3" y2="1283.4" stroke="#27297F" stroke-width="4" stroke-linecap="butt"/>
<line x1="1279.3" y1="1283.4" x2="1402.2" y2="1496.3" stroke="#8C1A1C" stroke-width="3.5" stroke-linecap="butt"/>
<line x1="1154.4" y1="1496.3" x2="1404.2" y2="1496.3" stroke="#1A6B35" stroke-width="4"/>
<text x="1279.3" y="1271.9" font-size="22.5" text-anchor="middle" fill="#8C1A1C">TA</text>
<text x="1145.9" y="1514.9" font-size="23" text-anchor="end" fill="#27297F">SC</text>
<text x="1412" y="1514.9" font-size="23" fill="#1A6B35">CC</text>
<text x="1382.2" y="1460.4" font-size="18.6" fill="#8C1A1C">20</text>
<text transform="translate(1246.5 1326.7) rotate(60)" font-size="18.6" text-anchor="end" fill="#27297F">20</text>
<text transform="translate(1209.8 1504.3) rotate(-60)" font-size="18.6" text-anchor="end" fill="#1A6B35">20</text>
<text x="1357.6" y="1417.8" font-size="18.6" fill="#8C1A1C">40</text>
<text transform="translate(1221.9 1369.2) rotate(60)" font-size="18.6" text-anchor="end" fill="#27297F">40</text>
<text transform="translate(1258.9 1504.3) rotate(-60)" font-size="18.6" text-anchor="end" fill="#1A6B35">40</text>
<text x="1333.1" y="1375.2" font-size="18.6" fill="#8C1A1C">60</text>
<text transform="translate(1197.4 1411.8) rotate(60)" font-size="18.6" text-anchor="end" fill="#27297F">60</text>
<text transform="translate(1308.1 1504.3) rotate(-60)" font-size="18.6" text-anchor="end" fill="#1A6B35">60</text>
<text x="1308.5" y="1332.7" font-size="18.6" fill="#8C1A1C">80</text>
<text transform="translate(1172.8 1454.4) rotate(60)" font-size="18.6" text-anchor="end" fill="#27297F">80</text>
<text transform="translate(1357.2 1504.3) rotate(-60)" font-size="18.6" text-anchor="end" fill="#1A6B35">80</text>
<text x="1285.4" y="1290.1" font-size="18.6" fill="#8C1A1C">100</text>
<text transform="translate(1148.2 1497) rotate(60)" font-size="18.6" text-anchor="end" fill="#27297F">100</text>
<text transform="translate(1406.4 1504.3) rotate(-60)" font-size="18.6" text-anchor="end" fill="#1A6B35">100</text>
<path d="M1218.8 1336L1169.9 1420.8M1170.3 1406.3L1169.9 1420.8L1182.3 1413.8" stroke="#27297F" stroke-width="1.1" fill="none"/>
<text transform="translate(1194.8 1377.1) rotate(-60)" font-size="21.5" text-anchor="middle" fill="#27297F">SC</text>
<path d="M1389 1420.6L1339.8 1335.9M1339.8 1350.5L1339.8 1335.9L1352.6 1342.9" stroke="#8C1A1C" stroke-width="1.1" fill="none"/>
<text transform="translate(1365.2 1378) rotate(60)" font-size="21.5" text-anchor="middle" fill="#8C1A1C">TA</text>
<path d="M1230.2 1519.8L1328.4 1519.8M1315.9 1512.6L1328.4 1519.8L1315.9 1527" stroke="#1A6B35" stroke-width="1.1" fill="none"/>
<text x="1279.3" y="1536" font-size="21.5" text-anchor="middle" fill="#1A6B35">EC</text>
<path d="M1519.5 1475L1740.7 1475M1617.8 1304.7L1728.4 1496.3M1531.8 1496.3L1642.4 1304.7M1531.8 1453.7L1728.4 1453.7M1605.5 1326L1703.8 1496.3M1556.4 1496.3L1654.7 1326M1544.1 1432.4L1716.1 1432.4M1593.2 1347.3L1679.3 1496.3M1580.9 1496.3L1667 1347.3M1556.4 1411.1L1703.8 1411.1M1580.9 1368.5L1654.7 1496.3M1605.5 1496.3L1679.3 1368.5M1568.6 1389.8L1691.5 1389.8M1568.6 1389.8L1630.1 1496.3M1630.1 1496.3L1691.5 1389.8M1580.9 1368.5L1679.3 1368.5M1556.4 1411.1L1605.5 1496.3M1654.7 1496.3L1703.8 1411.1M1593.2 1347.3L1667 1347.3M1544.1 1432.4L1580.9 1496.3M1679.3 1496.3L1716.1 1432.4M1605.5 1326L1654.7 1326M1531.8 1453.7L1556.4 1496.3M1703.8 1496.3L1728.4 1453.7M1617.8 1304.7L1642.4 1304.7M1519.5 1475L1531.8 1496.3M1728.4 1496.3L1740.7 1475" stroke="#E4E4E4" stroke-width="0.9" fill="none"/>
<path d="M1531.8 1453.7L1728.4 1453.7" stroke="#8C1A1C" stroke-width="3.4" fill="none" stroke-dasharray="6.8 7.2 21.8 7.2" stroke-dashoffset="1.5"/>
<path d="M1556.4 1411.1L1703.8 1411.1" stroke="#8C1A1C" stroke-width="3.4" fill="none" stroke-dasharray="6.8 7.2 21.8 7.2" stroke-dashoffset="38.3"/>
<path d="M1580.9 1368.5L1679.3 1368.5" stroke="#8C1A1C" stroke-width="3.4" fill="none" stroke-dasharray="6.8 7.2 21.8 7.2" stroke-dashoffset="38.3"/>
<path d="M1605.5 1326L1654.7 1326" stroke="#8C1A1C" stroke-width="3.4" fill="none" stroke-dasharray="6.8 7.2 21.8 7.2" stroke-dashoffset="1.5"/>
<path d="M1605.5 1326L1703.8 1496.3M1580.9 1368.5L1654.7 1496.3M1556.4 1411.1L1605.5 1496.3M1531.8 1453.7L1556.4 1496.3" stroke="#27297F" stroke-width="3.4" fill="none" stroke-dasharray="6.8 7.2 21.8 7.2"/>
<path d="M1556.4 1496.3L1654.7 1326M1605.5 1496.3L1679.3 1368.5M1654.7 1496.3L1703.8 1411.1M1703.8 1496.3L1728.4 1453.7" stroke="#1A6B35" stroke-width="3.4" fill="none" stroke-dasharray="6.8 7.2 21.8 7.2"/>
<path d="M1559.9 1465.3C1559.6 1461 1559.3 1460.7 1560.4 1453.5C1561.5 1446.3 1561.3 1446 1564.1 1438.4C1566.9 1430.7 1567.3 1432.1 1570.9 1424.9C1574.4 1417.7 1574.9 1418.2 1577.6 1411.4C1580.3 1404.7 1579.6 1405.9 1581 1399.7C1582.3 1393.4 1580.8 1394.6 1582.6 1387.9C1584.4 1381.1 1584.5 1381.6 1587.7 1374.4C1590.8 1367.2 1590.8 1368.1 1594.4 1361C1598 1353.8 1597.6 1355.1 1601.1 1347.5C1604.7 1339.9 1604.3 1339.3 1607.9 1332.4C1611.5 1325.4 1611.7 1325 1614.6 1321.4C1617.5 1317.8 1616.8 1317.3 1618.8 1318.9C1620.8 1320.5 1620.8 1321.5 1622.2 1327.3C1623.5 1333.1 1623.6 1333.1 1623.9 1340.8C1624.1 1348.4 1624.1 1347.8 1623 1355.9C1621.9 1364 1622.8 1363.4 1619.7 1371C1616.5 1378.7 1616.2 1378.7 1611.2 1384.5C1606.3 1390.3 1605.2 1388.9 1601.1 1392.9C1597.1 1397 1597.9 1395.6 1596.1 1399.7C1594.3 1403.7 1594 1403.1 1594.4 1408.1C1594.9 1413 1594.2 1414.6 1597.8 1418.2C1601.4 1421.8 1602.5 1418.8 1607.9 1421.5C1613.3 1424.2 1613 1423.8 1618 1428.3C1622.9 1432.7 1622.8 1433 1626.4 1438.4C1630 1443.7 1629.9 1443.5 1631.4 1448.4C1633 1453.4 1633.6 1452.8 1632.3 1456.9C1630.9 1460.9 1631.1 1460.4 1626.4 1463.6C1621.7 1466.7 1622.2 1466.2 1614.6 1468.6C1607 1471.1 1606.8 1471.3 1597.8 1472.8C1588.8 1474.4 1589 1474.5 1581 1474.5C1572.9 1474.5 1572.7 1474.2 1567.5 1472.8C1562.3 1471.5 1563.6 1471.5 1561.6 1469.5C1559.6 1467.5 1560.2 1469.5 1559.9 1465.3Z" fill="#DC7314" fill-opacity="0.2" stroke="#F58220" stroke-width="3" stroke-linejoin="round"/><path d="M1589.4 1382C1586.6 1377.7 1586 1376.3 1587.3 1369.4C1588.7 1362.4 1590.3 1363.5 1594.4 1355.9C1598.5 1348.3 1598.3 1348.4 1602.8 1340.8C1607.3 1333.1 1607.4 1332.8 1611.2 1327.3C1615.1 1321.8 1614.5 1319.3 1617.1 1320.2C1619.7 1321.1 1620 1323.4 1621 1330.7C1622 1337.9 1622.2 1339 1621 1347.5C1619.8 1356 1620.1 1354.8 1616.6 1362.6C1613.1 1370.5 1612.9 1370.9 1607.9 1376.9C1602.8 1383 1602.7 1384 1597.8 1385.4C1592.8 1386.7 1592.1 1386.2 1589.4 1382Z" fill="#DC7314" fill-opacity="0.2" stroke="#F58220" stroke-width="3" stroke-linejoin="round"/><path d="M1593.1 1376.1C1591.4 1373 1590.1 1373.1 1591.4 1367.7C1592.6 1362.3 1594.1 1362.6 1597.8 1355.9C1601.5 1349.2 1601.3 1349.6 1605.4 1342.4C1609.4 1335.3 1609.9 1333.7 1612.9 1329C1615.9 1324.3 1615 1323.9 1616.6 1324.8C1618.2 1325.7 1618.5 1326.3 1619 1332.4C1619.4 1338.4 1619.7 1339.9 1618.3 1347.5C1616.9 1355.1 1617.2 1354 1613.8 1361C1610.3 1367.9 1609.6 1368.6 1605.4 1373.6C1601.1 1378.5 1601.1 1378.8 1597.8 1379.5C1594.5 1380.1 1594.8 1379.2 1593.1 1376.1Z" fill="#F58220" fill-opacity="1.0" stroke="#F58220" stroke-width="1.5" stroke-linejoin="round"/><path d="M1597.8 1369.4L1607.9 1350.9M1596.1 1376.1L1604.5 1367.7M1608.7 1347.5L1614.6 1334" fill="none" stroke="#FBD3AE" stroke-width="1.4" stroke-linecap="round"/><path d="M1584.3 1455.2C1583.4 1451.6 1584.1 1450.8 1587.7 1446.8C1591.3 1442.7 1591.9 1442.3 1597.8 1440C1603.6 1437.8 1603.7 1437.5 1609.6 1438.4C1615.4 1439.2 1616.3 1439.8 1619.7 1443.4C1623 1447 1623.1 1447.8 1622.2 1451.8C1621.3 1455.9 1621 1456.1 1616.3 1458.5C1611.6 1461 1611.2 1460.6 1604.5 1461.1C1597.8 1461.5 1596.4 1461.8 1591 1460.2C1585.7 1458.7 1585.2 1458.8 1584.3 1455.2Z" fill="#DC7314" fill-opacity="0.2" stroke="#F58220" stroke-width="3" stroke-linejoin="round"/>
<line x1="1507.2" y1="1496.3" x2="1630.1" y2="1283.4" stroke="#27297F" stroke-width="4" stroke-linecap="butt"/>
<line x1="1630.1" y1="1283.4" x2="1753" y2="1496.3" stroke="#8C1A1C" stroke-width="3.5" stroke-linecap="butt"/>
<line x1="1505.2" y1="1496.3" x2="1755" y2="1496.3" stroke="#1A6B35" stroke-width="4"/>
<text x="1630.1" y="1271.9" font-size="22.5" text-anchor="middle" fill="#8C1A1C">TA</text>
<text x="1496.7" y="1514.9" font-size="23" text-anchor="end" fill="#27297F">SC</text>
<text x="1762.8" y="1514.9" font-size="23" fill="#1A6B35">CC</text>
<text x="1733" y="1460.4" font-size="18.6" fill="#8C1A1C">20</text>
<text transform="translate(1597.3 1326.7) rotate(60)" font-size="18.6" text-anchor="end" fill="#27297F">20</text>
<text transform="translate(1560.6 1504.3) rotate(-60)" font-size="18.6" text-anchor="end" fill="#1A6B35">20</text>
<text x="1708.4" y="1417.8" font-size="18.6" fill="#8C1A1C">40</text>
<text transform="translate(1572.7 1369.2) rotate(60)" font-size="18.6" text-anchor="end" fill="#27297F">40</text>
<text transform="translate(1609.7 1504.3) rotate(-60)" font-size="18.6" text-anchor="end" fill="#1A6B35">40</text>
<text x="1683.9" y="1375.2" font-size="18.6" fill="#8C1A1C">60</text>
<text transform="translate(1548.2 1411.8) rotate(60)" font-size="18.6" text-anchor="end" fill="#27297F">60</text>
<text transform="translate(1658.9 1504.3) rotate(-60)" font-size="18.6" text-anchor="end" fill="#1A6B35">60</text>
<text x="1659.3" y="1332.7" font-size="18.6" fill="#8C1A1C">80</text>
<text transform="translate(1523.6 1454.4) rotate(60)" font-size="18.6" text-anchor="end" fill="#27297F">80</text>
<text transform="translate(1708 1504.3) rotate(-60)" font-size="18.6" text-anchor="end" fill="#1A6B35">80</text>
<text x="1636.2" y="1290.1" font-size="18.6" fill="#8C1A1C">100</text>
<text transform="translate(1499 1497) rotate(60)" font-size="18.6" text-anchor="end" fill="#27297F">100</text>
<text transform="translate(1757.2 1504.3) rotate(-60)" font-size="18.6" text-anchor="end" fill="#1A6B35">100</text>
<path d="M1569.6 1336L1520.7 1420.8M1521.1 1406.3L1520.7 1420.8L1533.1 1413.8" stroke="#27297F" stroke-width="1.1" fill="none"/>
<text transform="translate(1545.6 1377.1) rotate(-60)" font-size="21.5" text-anchor="middle" fill="#27297F">SC</text>
<path d="M1739.8 1420.6L1690.6 1335.9M1690.6 1350.5L1690.6 1335.9L1703.4 1342.9" stroke="#8C1A1C" stroke-width="1.1" fill="none"/>
<text transform="translate(1716 1378) rotate(60)" font-size="21.5" text-anchor="middle" fill="#8C1A1C">TA</text>
<path d="M1581 1519.8L1679.2 1519.8M1666.7 1512.6L1679.2 1519.8L1666.7 1527" stroke="#1A6B35" stroke-width="1.1" fill="none"/>
<text x="1630.1" y="1536" font-size="21.5" text-anchor="middle" fill="#1A6B35">EC</text>
<rect x="1827.7" y="1118.5" width="42.9" height="42.9" fill="#D1DAEA" stroke="#1F78B4" stroke-width="3.4"/>
<text x="1889.2" y="1149.4" font-size="26.6" fill="#231F20">Colon</text>
<rect x="1827.7" y="1165.3" width="42.9" height="42.9" fill="#DCE8D9" stroke="#4DAF4A" stroke-width="3.4"/>
<text x="1889.2" y="1196.2" font-size="26.6" fill="#231F20">Colonoid</text>
<rect x="1827.7" y="1212.2" width="42.9" height="42.9" fill="#F4D7CB" stroke="#E41A1C" stroke-width="3.4"/>
<text x="1889.2" y="1243.1" font-size="26.6" fill="#231F20">Tumor</text>
<rect x="1827.7" y="1259" width="42.9" height="42.9" fill="#F8E3D0" stroke="#F5821F" stroke-width="3.4"/>
<text x="1889.2" y="1289.9" font-size="26.6" fill="#231F20">Tumoroid</text>
</g>
<g id="panelE">
<line x1="124.5" y1="1727.8" x2="124.5" y2="2187.8" stroke="#EDEEF0" stroke-width="3.6"/>
<line x1="262.3" y1="1727.8" x2="262.3" y2="2187.8" stroke="#EDEEF0" stroke-width="3.6"/>
<line x1="400.1" y1="1727.8" x2="400.1" y2="2187.8" stroke="#EDEEF0" stroke-width="3.6"/>
<line x1="537.9" y1="1727.8" x2="537.9" y2="2187.8" stroke="#EDEEF0" stroke-width="3.6"/>
<line x1="114.4" y1="2111.7" x2="552.3" y2="2111.7" stroke="#EDEEF0" stroke-width="3.6"/>
<line x1="114.4" y1="2000.1" x2="552.3" y2="2000.1" stroke="#EDEEF0" stroke-width="3.6"/>
<line x1="114.4" y1="1888.5" x2="552.3" y2="1888.5" stroke="#EDEEF0" stroke-width="3.6"/>
<line x1="114.4" y1="1776.9" x2="552.3" y2="1776.9" stroke="#EDEEF0" stroke-width="3.6"/>
<line x1="193.4" y1="1727.8" x2="193.4" y2="2187.8" stroke="#EDEEF0" stroke-width="7.2"/>
<line x1="331.2" y1="1727.8" x2="331.2" y2="2187.8" stroke="#EDEEF0" stroke-width="7.2"/>
<line x1="469" y1="1727.8" x2="469" y2="2187.8" stroke="#EDEEF0" stroke-width="7.2"/>
<line x1="114.4" y1="2167.5" x2="552.3" y2="2167.5" stroke="#EDEEF0" stroke-width="7.2"/>
<line x1="114.4" y1="2055.9" x2="552.3" y2="2055.9" stroke="#EDEEF0" stroke-width="7.2"/>
<line x1="114.4" y1="1944.3" x2="552.3" y2="1944.3" stroke="#EDEEF0" stroke-width="7.2"/>
<line x1="114.4" y1="1832.7" x2="552.3" y2="1832.7" stroke="#EDEEF0" stroke-width="7.2"/>
<path d="M322 2161.2L316.9 2148.3L309.6 2130.8L302.3 2113.3L295 2095.8L289.2 2081.2L284.8 2069.6L279 2063.7L273.1 2068.1L271.7 2078.3L265.8 2075.4L258.5 2078.3L254.2 2085.6L248.3 2082.7L241 2088.5L233.7 2095.8L226.5 2101.7L223.5 2113.3L227.9 2125L233.7 2136.7L241 2148.3L251.2 2158.5L265.8 2164.4L292.1 2166.1L313.9 2164.7Z" fill="#CE2124" stroke="#CE2124" stroke-width="6" stroke-linejoin="round"/>
<path d="M343.1 2161.2L348.2 2148.3L354.8 2132.3L362.1 2116.2L369.4 2101.7L375.2 2088.5L379.6 2081.2L383.9 2084.2L386.9 2095.8L392.7 2107.5L397.1 2122.1L401.4 2133.7L404.4 2143.9L400 2154.2L391.2 2162.2L376.7 2165.1L353.3 2164.7Z" fill="#CE2124" stroke="#CE2124" stroke-width="6" stroke-linejoin="round"/>
<path d="M260.1 2111.9h0M280.1 2140.5h0M268.7 2050.6h0M258.7 2146.5h0M260.6 2077.4h0M295.6 2092.4h0M222.3 2073.5h0M223.8 2122.2h0M243.3 2151.7h0M233.1 2075h0M251 2098.8h0M237.2 2066.6h0M235.9 2129.6h0M228.8 2131.6h0M228.9 2088.5h0M287.1 2114.9h0M217.5 2110.2h0M298.6 2155.4h0M256.1 2140.2h0M218 2121.7h0M258.7 2146h0M278.4 2156.1h0M245.9 2124.9h0M274.9 2082.1h0M289.3 2159.7h0M233.2 2094h0M289 2113.2h0M280.2 2123.6h0M210.2 2101.2h0M278.4 2136h0M279.7 2154.8h0M282.6 2068.4h0M233.1 2153.6h0M218.3 2097.3h0M267.3 2132h0M241.7 2132.6h0M304.5 2153.6h0M269.5 2105h0M269.8 2094h0M223.3 2096.5h0M230.6 2119h0M249.1 2119.2h0M237.3 2067.6h0M268.8 2062.9h0M305.2 2118.3h0M236 2132.3h0M266.1 2136.2h0M273.2 2061.3h0M245.9 2100.5h0M229.4 2098.9h0M309.9 2141.5h0M276.7 2105.1h0M310.3 2151.1h0M247.6 2100.8h0M283.5 2113.1h0M278.5 2133.8h0M237.3 2154.3h0M227 2101.1h0M268.5 2116.6h0M241 2131.1h0M320.7 2159h0M290.6 2100.7h0M268.6 2058.6h0M274.8 2094.7h0M249.5 2076.6h0M312.4 2151h0M270.2 2052.2h0M251.1 2101.9h0M300.4 2119.7h0M293.3 2156.1h0M286.4 2079.9h0M290.9 2128.3h0M289.1 2113.1h0M314.6 2152.9h0M253.7 2090.8h0M228.9 2136.3h0M270.8 2139.9h0M225.2 2134.7h0M267.9 2137h0M290.4 2130.1h0M303.2 2152.2h0M251.4 2063.9h0M215.6 2081.1h0M275 2154.7h0M276.2 2070.8h0M244.2 2110.5h0M263.5 2070.4h0M210.2 2101.2h0M245.3 2075.1h0M304.6 2144h0M270.4 2107.7h0M217.5 2080.8h0M220.9 2091.6h0M272.7 2099.4h0M242.7 2084.7h0M291.6 2083.7h0M229.3 2092.6h0M295.6 2143.9h0M283.6 2117.9h0M266.5 2139.9h0M248.8 2104.6h0M279.8 2067.6h0M249.8 2100h0M301.3 2117h0M270.9 2052.7h0M284.8 2133.7h0M225.1 2090.7h0M273.2 2084h0M294.6 2135.4h0M255.2 2096.5h0M257.8 2154.1h0M276 2051.9h0M268.4 2072.6h0M284.2 2149.5h0M273 2154h0M310.1 2143.2h0M243.7 2104.4h0M262.4 2064.4h0M291 2081.7h0M259.3 2053h0M284.1 2140.2h0M240.2 2121.7h0M276.7 2078.2h0M240.5 2110.5h0M252.4 2157.2h0M249.6 2124h0M286.3 2107.1h0M297.8 2140.2h0M265.3 2047.7h0M211 2104.1h0M273.2 2109.9h0M279.2 2107.7h0M227 2127.9h0M250.1 2069.8h0M253.4 2079.8h0M271.3 2072.9h0M213.4 2092.7h0M252 2139h0M233.2 2100.6h0M229.5 2075.5h0M295.5 2131.9h0M267.6 2050.1h0M270.4 2060h0M240.6 2130.6h0M272.9 2142.4h0M284.3 2160.3h0M246 2104.2h0M227.8 2124.8h0M288.2 2111.1h0M215.1 2104h0M238.6 2125.2h0M249.9 2113.9h0M240.2 2144.9h0M230.7 2071.3h0M264.7 2123h0M248.1 2151.9h0M227 2119.5h0M293.6 2108.7h0M267 2058.8h0M296.2 2102.2h0M289.8 2083.4h0M273.1 2094.8h0M223.1 2089.5h0M286.7 2094.7h0M270.3 2102.5h0M241 2091.3h0M264.1 2058.1h0M234.7 2102.4h0M231.8 2149.6h0M283.2 2119.6h0M249.5 2135.6h0M298.5 2133.4h0M274.1 2071.2h0M250.2 2121.5h0M207 2077.5h0M258.3 2057.3h0M234 2075.8h0M236.4 2158.1h0M222.7 2121.5h0M254.3 2083.1h0M208.7 2142.1h0M232.4 2064.1h0M253.6 2091.9h0M239.8 2162h0M241.7 2064.6h0M238.5 2103.4h0M205.2 2105.8h0M268.5 2054.1h0M209 2057.9h0M216 2120.4h0M251.5 2123.7h0M230 2059.8h0M211.5 2115.6h0M243.1 2155.4h0M223.7 2146.6h0M263.8 2111.7h0M237.3 2157.1h0M374.4 2100.5h0M350.5 2155.6h0M378 2102.5h0M404.7 2131.1h0M389.4 2140.2h0M383 2119.6h0M381.2 2095.8h0M406.3 2082h0M354.5 2147.8h0M390.9 2150.7h0M391.8 2154.6h0M372.4 2096.3h0M378.6 2102.2h0M379.1 2089.5h0M370.3 2126h0M381.5 2141.4h0M364.4 2134.1h0M401.7 2130.3h0M412.6 2141.3h0M399 2104.1h0M351.7 2149.4h0M384.8 2158.1h0M375.2 2104.1h0M372 2143.9h0M405.8 2102.2h0M362.5 2139.1h0M375.3 2127.9h0M379.3 2089.6h0M385.4 2121.3h0M401.4 2088.3h0M394.4 2102.8h0M397.2 2092.9h0M407 2151.4h0M392.2 2157.8h0M370.1 2144.7h0M385.2 2101.2h0M392 2073.8h0M416.2 2134.6h0M382.3 2085h0M395.5 2108h0M368.1 2136.3h0M381.7 2161.8h0M399.4 2146.8h0M382.2 2099.9h0M401.4 2099.7h0M362.1 2153.6h0M373.9 2164.8h0M368.3 2145h0M358.4 2153.7h0M408.7 2138.7h0M383.3 2123h0M411.8 2116.6h0M406 2112.8h0M356 2139.7h0M377.7 2084.8h0M408.8 2124.3h0M381 2164.3h0M368.9 2122.1h0M363.1 2123.6h0M402.6 2089.9h0M380.6 2108.9h0M364.7 2150.1h0M394.1 2145.7h0M403.7 2096.7h0M388.5 2157h0M356.9 2135.5h0M407.6 2142.9h0M390.6 2115.4h0M391.7 2143.5h0M394.2 2160.1h0M414.7 2143.4h0M398.5 2091.4h0M373.9 2107h0M390.8 2159.7h0M363.4 2138h0M395.6 2111.9h0M385.7 2140.5h0M379.3 2124.9h0M372.8 2154.6h0M370.3 2110h0M365.7 2143.3h0M371.1 2155.7h0M397 2160.8h0M433.2 2086.6h0M418.9 2114.8h0M416.5 2109.9h0M428 2129.3h0M387.8 2069.3h0M412.7 2091.9h0M409.7 2142.9h0M426.3 2129.8h0M415.4 2091.8h0M414.9 2107.3h0M435.3 2122.3h0M415.6 2091.6h0M424.3 2071.8h0M420 2123.5h0M424.1 2086.8h0M444 2082h0M413.6 2139.6h0M421.5 2138.2h0M420.6 2129.5h0M435.1 2098h0M426.6 2121.5h0M430.5 2118.1h0M432.1 2109.2h0M421.6 2132.7h0M415 2152.6h0M409.6 2153.1h0M412.3 2148.2h0M155 1824h0M198 1851.6h0M232.9 1870.9h0M243.2 1910.9h0M221.3 1962.5h0M252.2 1969.7h0M245.8 1980.6h0M213.5 1990.9h0M266.4 1997.3h0M227.7 2006.4h0M229 2029.6h0M275.4 2041.2h0M260 2045.1h0M247.1 2058h0M453.4 1985.7h0M421.2 2021.8h0M405.7 2050.2h0M416 2064.4h0M400.6 2068.3h0M449.6 2071.4h0M378.6 2083.8h0M418.6 2107h0M413.5 2121.2h0M207.1 2135.4h0M203.2 2063.1h0M212.2 2067h0" fill="none" stroke="#CF2A10" stroke-width="9.4" stroke-linecap="round" stroke-opacity="0.52"/>
<path d="M266.3 2115.3h0M219.6 2080.5h0M230.5 2073h0M267.6 2121.8h0M303.9 2130h0M217.2 2120.4h0M272.2 2098.1h0M222.1 2094.9h0M232.8 2091.6h0M219.1 2114.7h0M273.9 2149.5h0M292.5 2158.5h0M238 2144.2h0M272.2 2147.7h0M273.6 2059.4h0M288.2 2161.3h0M292.2 2153.6h0M248.7 2127.3h0M279.6 2090.2h0M291.3 2090.9h0M263.3 2071.5h0M243 2126.4h0M231.4 2096.1h0M224.3 2104.1h0M240.2 2064h0M279.7 2103.8h0M243.9 2140.3h0M300.2 2160.7h0M239.7 2085.7h0M253.4 2140.3h0M251.5 2113h0M290.5 2143.6h0M269.6 2140.2h0M271.1 2137.4h0M303.9 2127.8h0M281.2 2107.4h0M232.5 2147.5h0M254.2 2141.5h0M317.1 2156.4h0M301.1 2153.6h0M230.9 2071.2h0M220.8 2132.9h0M268.9 2096.8h0M232 2120.7h0M292.7 2142.6h0M254.5 2127.3h0M265.8 2127.3h0M229.8 2068.3h0M267.2 2096h0M292.5 2093h0M288.6 2148.8h0M238.1 2155h0M287.5 2137.3h0M281.1 2119.8h0M269.2 2091.1h0M238 2092.5h0M271.1 2105.5h0M228.1 2104h0M250.3 2078.3h0M226.7 2135.8h0M257.5 2101.8h0M277.2 2057.4h0M259 2125.1h0M296.9 2108.3h0M286.4 2112.5h0M239.6 2095.4h0M218.7 2126.2h0M232.8 2085.4h0M256.9 2074.9h0M257.3 2088.6h0M233.1 2124.4h0M249.4 2132.3h0M312.8 2158.5h0M237 2087.6h0M231 2112.4h0M211.5 2106.5h0M292.3 2153.5h0M282.3 2073.4h0M253.5 2084.7h0M302.3 2125h0M268.2 2130.3h0M232.1 2095.4h0M221.9 2122.7h0M229.8 2070h0M229.9 2077.8h0M238.4 2152h0M268.6 2106.5h0M250.9 2140.9h0M239.1 2108.8h0M218.3 2076.4h0M226.8 2145.2h0M261.8 2130.9h0M261.1 2161.8h0M278.6 2078.9h0M253.3 2125h0M290.8 2084h0M303.5 2115.9h0M252.6 2083.9h0M247.6 2123h0M302.2 2118.2h0M225 2130.7h0M274.1 2128.7h0M270.4 2112h0M241.6 2153.2h0M320.5 2158.4h0M252.1 2115.8h0M273.3 2064.6h0M262.1 2093.7h0M263.9 2165.2h0M272.9 2154.2h0M291 2153.6h0M223 2098.1h0M243.6 2091.8h0M256.6 2142h0M222.9 2109.2h0M253.9 2087h0M262.4 2068.6h0M231.8 2120.8h0M310.7 2149.8h0M234.2 2081h0M251.1 2124.4h0M258.7 2108h0M237.3 2141.7h0M230 2153.2h0M265.5 2065.4h0M297.4 2106.6h0M277.7 2072.2h0M235.6 2103.2h0M276.4 2130.9h0M258.1 2097.4h0M225.5 2081.4h0M238.9 2115.4h0M302.9 2139.7h0M264.3 2136.6h0M295.2 2133.2h0M261.1 2157.5h0M247.7 2128.4h0M233.3 2085.9h0M243.8 2098.1h0M253.4 2156.5h0M245.4 2090.4h0M253.5 2072.5h0M288.8 2075.2h0M254.8 2090.7h0M284.7 2155.9h0M257.3 2091.4h0M240.6 2062.8h0M247.6 2095.1h0M253.2 2088h0M275.2 2100.8h0M230 2100.8h0M279.9 2119.4h0M224.3 2105.4h0M285.8 2072.1h0M270.9 2119.8h0M244.4 2131h0M264.4 2112.4h0M235.7 2073.9h0M220.5 2129.7h0M227.3 2149.4h0M246.7 2136.3h0M288.8 2119.6h0M284.6 2071.6h0M280.3 2091.9h0M251.2 2081.2h0M278.8 2137.1h0M272.9 2060.9h0M250.3 2075.1h0M263.7 2094.1h0M240.3 2158.3h0M244 2106.3h0M254.1 2141.7h0M252.9 2088.6h0M229.7 2070.4h0M263.6 2061.7h0M208 2052.9h0M216.7 2147.6h0M218 2087h0M281.7 2075.9h0M255.1 2061.8h0M259.1 2092.7h0M251.3 2108.1h0M250.7 2110.9h0M263.3 2074.7h0M268.5 2100.2h0M274.5 2059.7h0M267.6 2097.6h0M230.8 2047.5h0M232.8 2143.6h0M228.5 2075h0M214.6 2051h0M263.2 2080.8h0M235.9 2139.8h0M229.1 2124.9h0M223.8 2144.2h0M238 2042.8h0M224.4 2123.8h0M404.1 2151h0M371 2138.4h0M377.7 2098h0M373 2131.7h0M362 2147.1h0M351.4 2144.9h0M400.9 2091.1h0M415.3 2118.7h0M397.7 2137.3h0M351.4 2157.8h0M413.5 2123h0M398.1 2092.3h0M375.1 2111.4h0M398.8 2115h0M388.4 2125.1h0M402.3 2108.9h0M405 2099.2h0M384.2 2158.6h0M397.9 2108.1h0M376.4 2110h0M392.7 2121h0M383 2149.9h0M393.3 2158.7h0M387.1 2118.2h0M386.5 2114.3h0M385.9 2092.2h0M384.7 2163.4h0M399.1 2076.8h0M413.8 2142.5h0M388.5 2078.6h0M413.8 2137.9h0M383.1 2091.8h0M388.4 2120.6h0M400.8 2092.4h0M370.7 2139h0M360.4 2160.9h0M385.2 2078.5h0M406.7 2144.5h0M382.3 2101.8h0M379.3 2122h0M387 2134.7h0M404.8 2134.9h0M405.1 2107.1h0M393.3 2111.8h0M360.8 2131.5h0M397.1 2133.5h0M370.7 2102h0M387.2 2140.2h0M368.5 2159h0M413.7 2111.7h0M399.8 2118.9h0M385.4 2095.9h0M357.3 2160.3h0M359.5 2145.9h0M389.1 2103.3h0M374.1 2120.2h0M396.9 2090h0M380.1 2158.1h0M390.1 2112.5h0M404.8 2145.8h0M384.4 2160.5h0M380.5 2100.6h0M396 2146.9h0M361.3 2157.8h0M412.5 2130.5h0M389.4 2079.1h0M401.5 2153.3h0M371.7 2101.7h0M394.8 2117.8h0M367.7 2158.6h0M382 2115h0M369.5 2118.9h0M375.3 2134.6h0M382.4 2085.4h0M397.2 2098.3h0M378.4 2161.3h0M373.1 2131.1h0M359.5 2152.5h0M362.3 2145.1h0M376.8 2098h0M377 2113.6h0M373 2133.2h0M391.9 2133h0M422.5 2082.7h0M448.7 2074.4h0M409 2075.2h0M437.6 2098.5h0M428.5 2094.3h0M410.5 2141.4h0M429 2082.3h0M398.4 2072h0M423.1 2126.2h0M416.6 2113.7h0M427.4 2129.4h0M439.9 2112.1h0M421 2118.6h0M425.5 2082.1h0M432.6 2066.5h0M439.4 2099.7h0M409 2151.5h0M421 2138.1h0M419 2129.7h0M417.5 2143.8h0M411.7 2144.3h0M408.8 2156.4h0M422.4 2133.2h0M442.2 2085.4h0M411 2146.7h0M433 2113.3h0M424.4 2136.3h0M165.8 1760.5h0M223.8 1830.9h0M226.4 1876.9h0M236.7 1919.9h0M243.2 1965.6h0M236.2 1974.1h0M235.4 1985.7h0M245.2 1994h0M203.2 1997.3h0M195.5 2009.5h0M256.1 2012.8h0M252.2 2024.4h0M270.3 2052.8h0M512.8 1893.4h0M450.9 2017.2h0M443.1 2035.3h0M421.2 2048.9h0M421.2 2068.3h0M385.9 2069.6h0M440.5 2082.5h0M405.7 2092.8h0M430.2 2107h0M435.4 2127.6h0M213.5 2147h0M212.2 2058.5h0" fill="none" stroke="#CF2A10" stroke-width="9.4" stroke-linecap="round" stroke-opacity="0.52"/>
<path d="M229.8 2106h0M282.9 2118.7h0M212.4 2100.2h0M265.4 2124.5h0M244.6 2071.5h0M218.8 2084.1h0M230.5 2133h0M233 2076.4h0M305.5 2121.9h0M236.4 2117h0M311.6 2143.5h0M256.6 2056.1h0M276.4 2079.3h0M278.4 2077.7h0M249.9 2152.5h0M263.5 2132.8h0M292.3 2129.5h0M310.8 2150h0M274.8 2117.9h0M292 2114.5h0M287.9 2104.2h0M258.9 2152.6h0M300 2155.3h0M303.6 2147.3h0M259.9 2077h0M244.6 2146.1h0M280.1 2098h0M262.7 2065.2h0M287.8 2107.1h0M223.6 2098.9h0M308.3 2140.9h0M281.5 2131.2h0M245.2 2154.8h0M246.8 2139.8h0M234 2107.8h0M244.2 2090h0M273.7 2067.9h0M272.6 2103.5h0M239.4 2101.3h0M262.8 2082.2h0M286.6 2082.8h0M222.8 2105.9h0M251.4 2094h0M281.1 2108.2h0M244.6 2156.4h0M286.1 2155h0M271.3 2106.4h0M261.2 2137h0M288.2 2146.7h0M266.9 2045.2h0M280.1 2092.9h0M293.1 2138.6h0M295.4 2093h0M284.2 2084.7h0M288.2 2136.6h0M251.4 2055.4h0M276.5 2136.3h0M278 2050.5h0M283 2112h0M253 2153.3h0M268.1 2158.1h0M279.5 2099.1h0M260.4 2075.4h0M297.6 2119.9h0M275.8 2120.9h0M279.4 2055.9h0M271.2 2120.6h0M293.1 2146h0M245.7 2110.5h0M272.7 2102.7h0M218.2 2080.5h0M250.4 2057.7h0M244.9 2092.3h0M250.3 2087.8h0M299 2109.5h0M270.5 2112.8h0M218.5 2121h0M233.9 2137.1h0M264.7 2109.2h0M305.4 2142h0M256.5 2061.2h0M242 2162.1h0M216 2099.5h0M235.6 2131.2h0M228.5 2136.1h0M270.8 2160.6h0M283.3 2072.4h0M289.6 2117.6h0M226 2137.7h0M263.2 2100.7h0M244.1 2081.4h0M249.6 2127.5h0M302.7 2123.4h0M251.4 2109.4h0M237.9 2067.8h0M285.5 2130.1h0M266.8 2122.6h0M254.2 2129.1h0M221 2089.6h0M226.9 2137.2h0M289.8 2145.7h0M246.2 2157.1h0M272.3 2075.7h0M236.2 2113.6h0M283.4 2081h0M231.5 2100.7h0M267.7 2075.6h0M279.5 2127.8h0M303.7 2148.1h0M268.4 2107.6h0M291.7 2116.5h0M265.8 2091.9h0M311.9 2161.7h0M234 2134.8h0M236.5 2080h0M275.1 2049h0M242.3 2156.3h0M230.6 2151.1h0M287.6 2158.2h0M229.4 2072.2h0M234.8 2080.2h0M268.9 2048.9h0M218.8 2078.3h0M261.1 2135.3h0M271.8 2122.3h0M266.1 2146.9h0M258.7 2138h0M234 2114.4h0M273.7 2150.3h0M238.7 2141.1h0M213.7 2081.8h0M228.3 2074.5h0M215.9 2093.6h0M260.4 2134.6h0M234.9 2074.3h0M250.1 2084.6h0M253.4 2146.6h0M229.7 2110.6h0M287.1 2087.8h0M249.8 2062.1h0M245.7 2137.7h0M244.2 2095.3h0M290.9 2124.9h0M242 2085.6h0M233.4 2127.8h0M215.7 2090.3h0M254.4 2101.5h0M226 2114.7h0M216.1 2092.9h0M245.7 2074.4h0M278.5 2160.3h0M255.4 2094.2h0M243.8 2087.5h0M253.5 2072.6h0M272.3 2145.1h0M287.5 2127.4h0M250.7 2078.3h0M245.7 2065.1h0M221.7 2098.6h0M237.6 2105.5h0M304.2 2144.8h0M302.9 2141.5h0M275.1 2158.6h0M241.3 2132.9h0M299.4 2146.1h0M287.4 2110.2h0M279.6 2076.9h0M263.6 2165.5h0M215.5 2110.8h0M259 2145.5h0M268.5 2142.6h0M302.5 2137.4h0M283.2 2142.6h0M277.9 2075.9h0M263.8 2104.7h0M229.4 2089.9h0M226.8 2131.4h0M260.5 2057.4h0M214.8 2080.4h0M242.9 2107.4h0M257 2088.4h0M243.8 2038.7h0M280.3 2054.1h0M233.9 2145.9h0M220.7 2138.2h0M223.2 2117.2h0M219.9 2137.2h0M202 2079h0M216.8 2115.3h0M253.8 2070.3h0M259.4 2094.4h0M225.9 2087h0M234.5 2093.2h0M219.3 2108.9h0M258 2093h0M235.4 2070.7h0M393.1 2090.9h0M387 2120.8h0M392.9 2100.8h0M393 2126.7h0M398.3 2074.9h0M397.5 2143.6h0M365.5 2117h0M384.6 2112.2h0M373.3 2127.4h0M365.5 2162.5h0M367.6 2115.2h0M380.4 2156.3h0M370.5 2109.2h0M383.8 2106.3h0M387.2 2161.9h0M366.5 2116h0M407.1 2106.6h0M366.7 2147.9h0M390.6 2068.9h0M401.2 2110.3h0M397.8 2073.7h0M366.2 2161.2h0M352.3 2153.3h0M379.8 2135h0M372 2123.6h0M395 2089.8h0M371.2 2137.7h0M410.8 2111.9h0M365.9 2150.7h0M403 2076.3h0M400 2124.4h0M364.7 2151.7h0M363.8 2117.2h0M397.7 2119.7h0M347.2 2159.5h0M413.3 2116.8h0M351.3 2159.9h0M392.7 2073.4h0M381.9 2074.3h0M380.2 2086.2h0M415.4 2122.3h0M388.7 2127.5h0M381.8 2124.2h0M362.6 2124.7h0M360.5 2154.1h0M362.5 2118.5h0M401.9 2120.2h0M401.8 2144.2h0M378.5 2147.8h0M353.7 2137.5h0M363.4 2159.8h0M366.1 2142.1h0M377.3 2126.5h0M399.8 2106.4h0M380.2 2131.4h0M378.3 2128.5h0M377.3 2099.6h0M386.5 2082.3h0M381.4 2104.2h0M378.9 2130.3h0M362.1 2156.2h0M379.5 2114.5h0M405.1 2146.3h0M402.7 2084.1h0M368.6 2145.2h0M407.9 2097.5h0M397.2 2072.5h0M385.4 2160.2h0M402.3 2089.3h0M357 2130.9h0M413.9 2128.1h0M382.9 2113.6h0M413.7 2130.1h0M399.8 2121.7h0M400.1 2072.3h0M400.1 2130.9h0M394.8 2110.1h0M393.8 2127.7h0M381 2107.4h0M395.8 2111.1h0M389.5 2107.4h0M408.5 2111.7h0M398.2 2096h0M375.5 2131.5h0M431.8 2118.2h0M434.2 2093h0M422 2106.5h0M417.2 2063.2h0M441.1 2082.5h0M419.5 2121.2h0M417.6 2118.7h0M438.8 2107.3h0M428 2110.5h0M400.6 2064h0M431.7 2105.9h0M448.9 2068.3h0M417.6 2094.2h0M418.7 2070.9h0M437.5 2079.1h0M431.5 2110.7h0M443.2 2081.5h0M442.9 2081.8h0M440.5 2095.1h0M431.7 2117.9h0M432.4 2118.1h0M418.9 2139.6h0M420.8 2133.1h0M416.2 2142.5h0M437.6 2106.4h0M427.6 2127.5h0M175.3 1846.4h0M209.6 1872.2h0M183.1 1883.1h0M197.5 1955.3h0M249.6 1964.6h0M223.3 1978h0M258.7 1987h0M261.2 1994.8h0M210.9 2002.5h0M207.1 2035.3h0M265.1 2016.7h0M244.5 2037.3h0M254.8 2055.4h0M427.6 1936.7h0M399.3 2016.7h0M391.5 2042.5h0M394.1 2054.1h0M409.6 2070.9h0M396.7 2077.3h0M439.3 2090.2h0M399.3 2100.5h0M427.6 2117.3h0M408.3 2127.6h0M209.6 2156h0M216.1 2061.8h0" fill="none" stroke="#CF2A10" stroke-width="9.4" stroke-linecap="round" stroke-opacity="0.52"/>
<path d="M318.1 2160.6h0M322.4 2154.8h0M317.4 2146.5h0M319.6 2137.6h0M310.6 2139.5h0M311.9 2132.6h0M303.5 2121.6h0M310.4 2119.1h0M300.7 2105.9h0M300.8 2109.8h0M295.3 2094.2h0M291.7 2096.8h0M291 2093.5h0M282.2 2076.4h0M292.2 2085.3h0M287.1 2072.6h0M276.8 2070.2h0M277.1 2073.9h0M271.4 2072.5h0M271.2 2078.2h0M260.8 2071.9h0M265.5 2081.3h0M257.2 2082.1h0M250.1 2087.8h0M242.7 2083.9h0M239.5 2085.8h0M233.6 2095.9h0M232.5 2098.9h0M230.2 2103.1h0M227.4 2105.3h0M223.7 2115.8h0M226.9 2115.4h0M226.1 2132.7h0M234 2127.3h0M236.2 2136.7h0M234.6 2144.2h0M246.6 2144.7h0M246.5 2148.8h0M255.1 2159.1h0M252.4 2167.4h0M260 2162h0M264.1 2165h0M273 2164.5h0M276.8 2158h0M285.4 2167.1h0M290.4 2164.8h0M296.3 2165.6h0M299.3 2167h0M309.5 2164.3h0M310.2 2170h0M313 2167.4h0M340 2160h0M355 2145.5h0M350.4 2146.5h0M348.4 2136.8h0M356.4 2135.6h0M356.8 2133.5h0M359.5 2122.2h0M360.5 2126.5h0M364.1 2113.5h0M372.3 2105.7h0M368 2098.2h0M370.3 2102.6h0M372 2095.2h0M378.2 2087h0M388.9 2079.8h0M389 2083.8h0M385.3 2094.2h0M392.4 2094.4h0M395.2 2104h0M401.8 2103.2h0M392.5 2109.9h0M393.3 2124.3h0M401.8 2119.2h0M398.7 2133.1h0M400.2 2132h0M406.6 2139.5h0M404.2 2147.6h0M398.6 2143.9h0M404 2157.8h0M392.4 2155.8h0M387.9 2163.8h0M384.1 2166.4h0M369 2160.8h0M372.3 2163.3h0M358.6 2164.9h0M351.1 2159.4h0M350 2163.8h0M336.8 2154.3h0" fill="none" stroke="#CE2124" stroke-width="9" stroke-linecap="round" stroke-opacity="0.8"/>
<path d="M318.3 2152L332.2 2162.6L344.9 2151.2L345.7 2161.7L379.6 2160.3L381.3 2163.6L365 2170.2L335.8 2173.4L306.7 2171.9L283.3 2169L271.7 2166.1L280.4 2162.6L318.3 2161.7Z" fill="#0A0A0A" stroke="#0A0A0A" stroke-width="2" stroke-linejoin="round"/>
<path d="M250.5 2163.6h0M261.2 2165.1h0M271.7 2166.6h0" fill="none" stroke="#000" stroke-width="8.6" stroke-linecap="round" stroke-opacity="0.6"/>
<path d="M280.4 2163.6h0M286.2 2162.2h0M292.1 2164.4h0M300.8 2163.6h0M306.7 2164.4h0" fill="none" stroke="#7A1B1B" stroke-width="5" stroke-linecap="round" stroke-opacity="0.8"/>
<line x1="317.4" y1="1727.8" x2="317.4" y2="2187.8" stroke="#000" stroke-width="2.4" stroke-dasharray="19.6 9" stroke-dashoffset="16"/>
<line x1="345" y1="1727.8" x2="345" y2="2187.8" stroke="#000" stroke-width="2.4" stroke-dasharray="19.6 9" stroke-dashoffset="16"/>
<line x1="114.4" y1="2163" x2="552.3" y2="2163" stroke="#000" stroke-width="2.4" stroke-dasharray="19.6 9" stroke-dashoffset="2.6"/>
<line x1="114.4" y1="1727.8" x2="114.4" y2="2190.4" stroke="#000" stroke-width="5"/>
<line x1="112" y1="2187.8" x2="552.3" y2="2187.8" stroke="#000" stroke-width="5.2"/>
<rect x="104.6" y="2164.3" width="7.4" height="6.4" fill="#333"/>
<text x="95.5" y="2177.6" font-size="28.2" text-anchor="end" fill="#4D4D4D">0</text>
<rect x="104.6" y="2052.7" width="7.4" height="6.4" fill="#333"/>
<text x="95.5" y="2066" font-size="28.2" text-anchor="end" fill="#4D4D4D">50</text>
<rect x="104.6" y="1941.1" width="7.4" height="6.4" fill="#333"/>
<text x="95.5" y="1954.4" font-size="28.2" text-anchor="end" fill="#4D4D4D">100</text>
<rect x="104.6" y="1829.5" width="7.4" height="6.4" fill="#333"/>
<text x="95.5" y="1842.8" font-size="28.2" text-anchor="end" fill="#4D4D4D">150</text>
<rect x="189.8" y="2190.2" width="7.2" height="8" fill="#333"/>
<text x="193.4" y="2226.8" font-size="28.2" text-anchor="middle" fill="#4D4D4D">−10</text>
<rect x="327.6" y="2190.2" width="7.2" height="8" fill="#333"/>
<text x="331.2" y="2226.8" font-size="28.2" text-anchor="middle" fill="#4D4D4D">0</text>
<rect x="465.4" y="2190.2" width="7.2" height="8" fill="#333"/>
<text x="469" y="2226.8" font-size="28.2" text-anchor="middle" fill="#4D4D4D">10</text>
<text x="337.3" y="2264.4" font-size="29.2" text-anchor="middle" fill="#231F20">Log<tspan font-size="20" dy="6">2</tspan><tspan dy="-6"> fold change</tspan></text>
<text transform="translate(26 1953) rotate(-90)" font-size="29.2" text-anchor="middle" fill="#231F20">−<tspan dx="7">Log</tspan><tspan font-size="20" dy="6">10</tspan><tspan dy="-6"> P</tspan></text>
<text x="214" y="1679.5" font-size="23.2" text-anchor="middle" font-weight="bold" fill="#231F20">Supressed in</text>
<text x="214" y="1707.3" font-size="23.2" text-anchor="middle" font-weight="bold" fill="#231F20">tumoroid (N=2477)</text>
<text x="448" y="1679.5" font-size="23.2" text-anchor="middle" font-weight="bold" fill="#231F20">Activated in</text>
<text x="448" y="1707.3" font-size="23.2" text-anchor="middle" font-weight="bold" fill="#231F20">tumoroid (N=1547)</text>
<g font-size="22.9" fill="#231F20">
<text x="123.7" y="1767.2">HSPA1A</text>
<text x="189" y="1836.6">HLA−B</text>
<text x="162.4" y="1858">HSPA6</text>
<text x="169.1" y="1878.7">LEFTY1</text>
<text x="200.6" y="1927.7">FAM3D</text>
<text x="160.6" y="1962.5">EIF1AY</text>
<text x="166.6" y="1978.8">IFI44L</text>
<text x="159.9" y="2002.5">REG1A</text>
<text x="244.5" y="2007.7">IFI6</text>
<text x="194.2" y="2028.3">C10orf99</text>
<text x="215.6" y="2047.1">PDZK1IP1</text>
<text x="477.2" y="1899.8">DEFA5</text>
<text x="392" y="1942.4">LCN15</text>
<text x="410.9" y="1991.7">DUSP27</text>
<text x="359.3" y="2022.4">TUBB2B</text>
<text x="351.5" y="2040.7">SBSPON</text>
<text x="376.6" y="2056.7">DKK3</text>
</g>
</g>
<g id="panelF">
<text x="1060.2" y="1704.8" font-size="23.9" text-anchor="end" font-weight="bold" fill="#231F20">Activated in tumoroid</text>
<rect x="1078" y="1719.2" width="94.3" height="21.6" fill="#67ACDE"/>
<line x1="1066.2" y1="1730" x2="1072.4" y2="1730" stroke="#333" stroke-width="3.2"/>
<rect x="1078" y="1743.3" width="62.1" height="21.6" fill="#173654"/>
<line x1="1066.2" y1="1754.1" x2="1072.4" y2="1754.1" stroke="#333" stroke-width="3.2"/>
<rect x="1078" y="1767.2" width="61" height="21.6" fill="#133250"/>
<line x1="1066.2" y1="1778" x2="1072.4" y2="1778" stroke="#333" stroke-width="3.2"/>
<rect x="1078" y="1791.1" width="58.2" height="21.6" fill="#14294A"/>
<line x1="1066.2" y1="1801.9" x2="1072.4" y2="1801.9" stroke="#333" stroke-width="3.2"/>
<rect x="1078" y="1815" width="58.2" height="21.6" fill="#142947"/>
<line x1="1066.2" y1="1825.8" x2="1072.4" y2="1825.8" stroke="#333" stroke-width="3.2"/>
<rect x="1078" y="1839.1" width="58.2" height="21.6" fill="#142947"/>
<line x1="1066.2" y1="1849.9" x2="1072.4" y2="1849.9" stroke="#333" stroke-width="3.2"/>
<rect x="1078" y="1863" width="58.2" height="21.6" fill="#142947"/>
<line x1="1066.2" y1="1873.8" x2="1072.4" y2="1873.8" stroke="#333" stroke-width="3.2"/>
<rect x="1078" y="1887.2" width="58.2" height="21.6" fill="#142947"/>
<line x1="1066.2" y1="1898" x2="1072.4" y2="1898" stroke="#333" stroke-width="3.2"/>
<g font-size="21.15" text-anchor="end" fill="#231F20">
<text x="1059.2" y="1737.1">synapse organization</text>
<text x="1059.2" y="1761.2">pattern specification process</text>
<text x="1059.2" y="1785.1">DNA replication</text>
<text x="1059.2" y="1809">embryonic skeletal system development</text>
<text x="1059.2" y="1832.9">epithelial tube morphogenesis</text>
<text x="1059.2" y="1857">embryonic limb morphogenesis</text>
<text x="1059.2" y="1880.9">embryonic appendage morphogenesis</text>
<text x="1059.2" y="1905.1">salivary gland morphogenesis</text>
</g>
<line x1="1073.4" y1="1715.9" x2="1073.4" y2="1913.2" stroke="#000" stroke-width="2.2"/>
<line x1="1072.3" y1="1912.1" x2="1177.8" y2="1912.1" stroke="#000" stroke-width="2.2"/>
<line x1="1078" y1="1913.1" x2="1078" y2="1919.7" stroke="#333" stroke-width="3.3"/>
<text x="1078" y="1940.5" font-size="21.1" text-anchor="middle" fill="#231F20">0</text>
<line x1="1097.6" y1="1913.1" x2="1097.6" y2="1919.7" stroke="#333" stroke-width="3.3"/>
<text x="1097.6" y="1940.5" font-size="21.1" text-anchor="middle" fill="#231F20">1</text>
<line x1="1117.2" y1="1913.1" x2="1117.2" y2="1919.7" stroke="#333" stroke-width="3.3"/>
<text x="1117.2" y="1940.5" font-size="21.1" text-anchor="middle" fill="#231F20">2</text>
<line x1="1136.8" y1="1913.1" x2="1136.8" y2="1919.7" stroke="#333" stroke-width="3.3"/>
<text x="1136.8" y="1940.5" font-size="21.1" text-anchor="middle" fill="#231F20">3</text>
<line x1="1156.4" y1="1913.1" x2="1156.4" y2="1919.7" stroke="#333" stroke-width="3.3"/>
<text x="1156.4" y="1940.5" font-size="21.1" text-anchor="middle" fill="#231F20">4</text>
<line x1="1176" y1="1913.1" x2="1176" y2="1919.7" stroke="#333" stroke-width="3.3"/>
<text x="1176" y="1940.5" font-size="21.1" text-anchor="middle" fill="#231F20">5</text>
<text x="1125.3" y="1968.2" font-size="21.1" text-anchor="middle" fill="#231F20">–log10(qvalue)</text>
<text x="1060.2" y="2007.7" font-size="23.3" text-anchor="end" font-weight="bold" fill="#231F20">Suppressed in tumoroid</text>
<rect x="1079.2" y="2023.4" width="103.1" height="21.8" fill="#67ACDE"/>
<line x1="1067.2" y1="2034.3" x2="1073.4" y2="2034.3" stroke="#333" stroke-width="3.2"/>
<rect x="1079.2" y="2048" width="65.1" height="21.8" fill="#215178"/>
<line x1="1067.2" y1="2058.9" x2="1073.4" y2="2058.9" stroke="#333" stroke-width="3.2"/>
<rect x="1079.2" y="2072.4" width="58.8" height="21.8" fill="#1A4063"/>
<line x1="1067.2" y1="2083.3" x2="1073.4" y2="2083.3" stroke="#333" stroke-width="3.2"/>
<rect x="1079.2" y="2096.8" width="53.8" height="21.8" fill="#123350"/>
<line x1="1067.2" y1="2107.7" x2="1073.4" y2="2107.7" stroke="#333" stroke-width="3.2"/>
<rect x="1079.2" y="2121.2" width="53.5" height="21.8" fill="#123350"/>
<line x1="1067.2" y1="2132.1" x2="1073.4" y2="2132.1" stroke="#333" stroke-width="3.2"/>
<rect x="1079.2" y="2145.7" width="51.6" height="21.8" fill="#152F4C"/>
<line x1="1067.2" y1="2156.6" x2="1073.4" y2="2156.6" stroke="#333" stroke-width="3.2"/>
<rect x="1079.2" y="2170.2" width="50.8" height="21.8" fill="#142D4A"/>
<line x1="1067.2" y1="2181.1" x2="1073.4" y2="2181.1" stroke="#333" stroke-width="3.2"/>
<rect x="1079.2" y="2194.8" width="48.8" height="21.8" fill="#142843"/>
<line x1="1067.2" y1="2205.7" x2="1073.4" y2="2205.7" stroke="#333" stroke-width="3.2"/>
<g font-size="20.6" text-anchor="end" fill="#231F20">
<text x="1060.4" y="2041.4">response to interferon−gamma</text>
<text x="1060.4" y="2066">leukocyte chemotaxis</text>
<text x="1060.4" y="2090.4">negative regulation of immune system process</text>
<text x="1060.4" y="2114.8">regulation of inflammatory response</text>
<text x="1060.4" y="2139.2">regulation of hemopoiesis</text>
<text x="1060.4" y="2163.7">myeloid leukocyte migration</text>
<text x="1060.4" y="2188.2">positive regulation of cytokine production</text>
<text x="1060.4" y="2212.8">response to molecule of bacterial origin</text>
</g>
<line x1="1074.4" y1="2019.9" x2="1074.4" y2="2220.8" stroke="#000" stroke-width="2.2"/>
<line x1="1073.3" y1="2219.7" x2="1187.8" y2="2219.7" stroke="#000" stroke-width="2.2"/>
<line x1="1079.2" y1="2220.7" x2="1079.2" y2="2227.3" stroke="#333" stroke-width="3.3"/>
<text x="1079.2" y="2248.5" font-size="20.6" text-anchor="middle" fill="#231F20">0</text>
<line x1="1104.3" y1="2220.7" x2="1104.3" y2="2227.3" stroke="#333" stroke-width="3.3"/>
<text x="1104.3" y="2248.5" font-size="20.6" text-anchor="middle" fill="#231F20">5</text>
<line x1="1129.5" y1="2220.7" x2="1129.5" y2="2227.3" stroke="#333" stroke-width="3.3"/>
<text x="1129.5" y="2248.5" font-size="20.6" text-anchor="middle" fill="#231F20">10</text>
<line x1="1154.6" y1="2220.7" x2="1154.6" y2="2227.3" stroke="#333" stroke-width="3.3"/>
<text x="1154.6" y="2248.5" font-size="20.6" text-anchor="middle" fill="#231F20">15</text>
<line x1="1179.7" y1="2220.7" x2="1179.7" y2="2227.3" stroke="#333" stroke-width="3.3"/>
<text x="1179.7" y="2248.5" font-size="20.6" text-anchor="middle" fill="#231F20">20</text>
<text x="1126.4" y="2276.5" font-size="20.6" text-anchor="middle" fill="#231F20">–log10(q-value)</text>
</g>
<g id="panelG">
<line x1="1495.5" y1="1761.5" x2="1495.5" y2="2242.2" stroke="#EDEEF0" stroke-width="1.7"/>
<line x1="1609.6" y1="1761.5" x2="1609.6" y2="2242.2" stroke="#EDEEF0" stroke-width="1.7"/>
<line x1="1723.8" y1="1761.5" x2="1723.8" y2="2242.2" stroke="#EDEEF0" stroke-width="1.7"/>
<line x1="1837.9" y1="1761.5" x2="1837.9" y2="2242.2" stroke="#EDEEF0" stroke-width="1.7"/>
<line x1="1412.6" y1="2202.9" x2="1927.4" y2="2202.9" stroke="#EDEEF0" stroke-width="1.7"/>
<line x1="1412.6" y1="2120.4" x2="1927.4" y2="2120.4" stroke="#EDEEF0" stroke-width="1.7"/>
<line x1="1412.6" y1="2038" x2="1927.4" y2="2038" stroke="#EDEEF0" stroke-width="1.7"/>
<line x1="1412.6" y1="1955.5" x2="1927.4" y2="1955.5" stroke="#EDEEF0" stroke-width="1.7"/>
<line x1="1412.6" y1="1873" x2="1927.4" y2="1873" stroke="#EDEEF0" stroke-width="1.7"/>
<line x1="1412.6" y1="1790.5" x2="1927.4" y2="1790.5" stroke="#EDEEF0" stroke-width="1.7"/>
<line x1="1438.4" y1="1761.5" x2="1438.4" y2="2242.2" stroke="#EDEEF0" stroke-width="3.4"/>
<line x1="1412.6" y1="2161.7" x2="1927.4" y2="2161.7" stroke="#EDEEF0" stroke-width="3.4"/>
<line x1="1552.5" y1="1761.5" x2="1552.5" y2="2242.2" stroke="#EDEEF0" stroke-width="3.4"/>
<line x1="1412.6" y1="2079.2" x2="1927.4" y2="2079.2" stroke="#EDEEF0" stroke-width="3.4"/>
<line x1="1666.7" y1="1761.5" x2="1666.7" y2="2242.2" stroke="#EDEEF0" stroke-width="3.4"/>
<line x1="1412.6" y1="1996.7" x2="1927.4" y2="1996.7" stroke="#EDEEF0" stroke-width="3.4"/>
<line x1="1780.9" y1="1761.5" x2="1780.9" y2="2242.2" stroke="#EDEEF0" stroke-width="3.4"/>
<line x1="1412.6" y1="1914.2" x2="1927.4" y2="1914.2" stroke="#EDEEF0" stroke-width="3.4"/>
<line x1="1895" y1="1761.5" x2="1895" y2="2242.2" stroke="#EDEEF0" stroke-width="3.4"/>
<line x1="1412.6" y1="1831.7" x2="1927.4" y2="1831.7" stroke="#EDEEF0" stroke-width="3.4"/>
<defs><radialGradient id="gcore"><stop offset="0" stop-color="#000" stop-opacity="1"/><stop offset="0.55" stop-color="#000" stop-opacity="0.95"/><stop offset="0.8" stop-color="#000" stop-opacity="0.5"/><stop offset="1" stop-color="#000" stop-opacity="0"/></radialGradient></defs>
<ellipse cx="1675.8" cy="1995" rx="78" ry="60" fill="url(#gcore)" transform="rotate(-12 1675.8 1995)"/>
<path d="M1633.2 2028h0M1720 2000h0M1697.4 1991.6h0M1660.4 2006.4h0M1652.2 1946.8h0M1696.2 2004.3h0M1725.1 1987.6h0M1670.3 2004.3h0M1643.5 1980.5h0M1747.4 2006.7h0M1693.4 2034.3h0M1631.9 1962.1h0M1630.3 2071.4h0M1620.3 2027.8h0M1683.1 2004.8h0M1712.7 1956.8h0M1618.3 2003.1h0M1720.1 1996.7h0M1634.8 1974h0M1665.9 1973.5h0M1716.5 1987.7h0M1645.1 1976h0M1758.3 1991h0M1653.9 2032h0M1631.4 2029.7h0M1683.6 1962.9h0M1664.6 1985.7h0M1679.2 1949.3h0M1667 1993.6h0M1688.4 2014.7h0M1760.2 1997.6h0M1659.4 2006.9h0M1706.5 1995h0M1647.7 1991.3h0M1646.8 1994.8h0M1678.7 2011.7h0M1645 2024.5h0M1661.3 1973.3h0M1600.2 1995.4h0M1661 2028.2h0M1655 1960.8h0M1689.6 2000.5h0M1678.4 2003.4h0M1794.9 1987.3h0M1669.2 2008.7h0M1666.2 2002.4h0M1686.8 2002.6h0M1723.3 1977.2h0M1669.9 1970.1h0M1671.8 2010.5h0M1652.5 2009h0M1692 1989.6h0M1681.6 2006.1h0M1659.6 1991.3h0M1636.2 2018.2h0M1703.7 2007.6h0M1658.2 1997.1h0M1672.8 1979.4h0M1618.7 1968.3h0M1660.4 1967.6h0M1598.5 1975h0M1686.7 1980.9h0M1728.8 1973.7h0M1684.5 1990.3h0M1663.9 1993.7h0M1691.1 1970.6h0M1714.3 2003.9h0M1639.3 1981.1h0M1695.7 1980.7h0M1674 1987.6h0M1682.3 1978.5h0M1713.2 2009.3h0M1666.2 2031.1h0M1669.5 1965.1h0M1695.6 1978.3h0M1670.9 1994.1h0M1664.2 2020.9h0M1639.7 1992.8h0M1687.6 2015.1h0M1654.9 1990.4h0M1658.1 1986.1h0M1693.1 2015.3h0M1682.4 2013.5h0M1628.2 2006.2h0M1620.8 2000.3h0M1613.9 2015.2h0M1701 1981.7h0M1670.7 2005.3h0M1670.2 2026.8h0M1671.5 1996h0M1661.1 1992h0M1664.3 1982.2h0M1714.4 1979.4h0M1697.6 2003.1h0M1630.5 2014.9h0M1710.1 1981.4h0M1680.5 1962.5h0M1700.9 1967.9h0M1749.8 2009.1h0M1646.8 1984.1h0M1707.7 1971.6h0M1676.9 2030.6h0M1652.6 1988h0M1697.5 2014.1h0M1705.7 1977.5h0M1674.8 1998.5h0M1662.3 1999.3h0M1723.7 1997.8h0M1713.9 2008h0M1708.4 2033.6h0M1592.7 1982.7h0M1664.7 2007.7h0M1675.7 1992.4h0M1681.5 1997.5h0M1697.5 1971.5h0M1647.1 1983h0M1671.4 2008.5h0M1626.8 2028.8h0M1662.5 1976h0M1770.4 2000.9h0M1640.1 2006h0M1629.3 2002.9h0M1699.8 1995.9h0M1636.7 1983.1h0M1680.8 1990.2h0M1680.3 2000h0M1689.3 1997.4h0M1716.2 2011.4h0M1673 1995.7h0M1666.6 1945.8h0M1661.1 2009.6h0M1690.1 1980.5h0M1687.5 2034.5h0M1639.9 2024.6h0M1698.8 2016.2h0M1647.9 1990.4h0M1666.7 1984.9h0M1674.7 1991.5h0M1658 1997.1h0M1648.3 1994.2h0M1637.8 1981.8h0M1709.1 1999.9h0M1672 1972.6h0M1768.3 1936.4h0M1701.1 1963.7h0M1715.4 1964.4h0M1667.4 1978.7h0M1641.2 2032h0M1616.2 1986.4h0M1679.3 2007.9h0M1635.4 2008.3h0M1653.9 2017.2h0M1671.9 2022.5h0M1624.5 1993.5h0M1675.2 2006.6h0M1690 2029.4h0M1744.1 1979.5h0M1694 1985.3h0M1743.1 1998.6h0M1617.3 1995.7h0M1683 2016.7h0M1661.4 1984.2h0M1712.2 1973.9h0M1676.5 1994.8h0M1675.9 1994.3h0M1714.4 2004.5h0M1656.1 1961.4h0M1669.2 2019.3h0M1659.4 2000.1h0M1655.2 1995.4h0M1698 1982.8h0M1660.7 1986.4h0M1607.2 1994.7h0M1650.3 1979.4h0M1657.3 1994.2h0M1690.4 1973.1h0M1715.5 1975.1h0M1659.3 2023.2h0M1653.2 1972.6h0M1621.5 1978.1h0M1689.9 1974.4h0M1646.6 1996.1h0M1599.9 2009.7h0M1712.2 1983.3h0M1680.4 1972.2h0M1688.7 1990.1h0M1686.8 1979.6h0M1712.7 2024.5h0M1671.7 1991.3h0M1711.7 1997.1h0M1628.8 2035.7h0M1702.6 1991.3h0M1694.4 1946.5h0M1637.4 2026.5h0M1651.4 1980.2h0M1663 1982.3h0M1679 1986.4h0M1691.8 1975.2h0M1677.2 1978.7h0M1646.3 2031h0M1623.1 2005.9h0M1721.5 2004.2h0M1674.2 2012.1h0M1632.1 1993.7h0M1648.9 2022.6h0M1733.2 1997h0M1644.1 1969.5h0M1633.6 2002.2h0M1695 1989.5h0M1607.3 2026.6h0M1691.2 1978.7h0M1656.6 1998h0M1677.8 2022.9h0M1700.1 1992.1h0M1600.3 1998.5h0M1636.3 1991.1h0M1674.8 1973.9h0M1654 2023h0M1659.4 2016.4h0M1686.7 1990.8h0M1720.2 2001.5h0M1711.9 1980.3h0M1728.9 1948.6h0M1731.6 2006.1h0M1669.5 2002.9h0M1669.8 1975.2h0M1692.3 1985.6h0M1681.8 1981.1h0M1662.8 1961.5h0M1682.4 1965h0M1657.2 2021.5h0M1686.9 2027.5h0M1673.3 1991.8h0M1666.2 2012.3h0M1632 2025.1h0M1670.6 1977.9h0M1688.2 1989.6h0M1637.7 2002h0M1617.4 2011.8h0M1663 1989.2h0M1684.5 1963.6h0M1698.1 1994.2h0M1614.9 2035.8h0M1659.6 2018.4h0M1685.9 2012.2h0M1607.6 2017.1h0M1648.4 2027.3h0M1684.8 2004.7h0M1607.4 1962.3h0M1711.5 2006.8h0M1666.2 2002.8h0M1660.1 2015.7h0M1680.4 2004.3h0M1706.4 2017.7h0M1620.8 1967.2h0M1669.3 2018.6h0M1638.8 2008.8h0M1634.7 1947.5h0M1686.5 1980.4h0M1684.1 1986.7h0M1724.6 2029.3h0M1647.9 2005.1h0M1669.4 1975.1h0M1653.9 2030.3h0M1629.7 2013.1h0M1683.3 1997.1h0M1673.5 1985.4h0M1698.4 2019.7h0M1614.7 1976.4h0M1679.7 2010.9h0M1668 1978.1h0M1710.7 2007.9h0M1685.6 1972.7h0M1662.1 1975.3h0M1660.8 2012.8h0M1649.4 1995.8h0M1693.6 1958.3h0M1713.4 2009.7h0M1717.6 2004h0M1620.8 2041.6h0M1683.2 1987h0M1668.1 2020.2h0M1679.4 2006.8h0M1649.9 2015.5h0M1683.5 2015.7h0M1627.8 2059.8h0M1664.8 2014.1h0M1624.9 1978.6h0M1651.6 1992.2h0M1682 1974.3h0M1660.3 2014h0M1656.7 2033.9h0M1660.1 1977.3h0M1626.4 1995.3h0M1692.4 1985.3h0M1679.2 1984.6h0M1573.2 1990.2h0M1654.2 1994.8h0M1690.9 1983h0M1673.9 2023.2h0M1721.5 1990.1h0M1718.8 2013.9h0M1697.1 1997.7h0M1665.4 2017.6h0M1671.6 1997.6h0M1625.2 2017.2h0M1710.1 1958.3h0M1663.5 2002.1h0M1643.4 2007.3h0M1664.9 1988.4h0M1636.8 1991.6h0M1688.8 1974.4h0M1632.7 2047.2h0M1725.3 1993.2h0M1681.5 1974.6h0M1622.5 1996.1h0M1664.8 2017.3h0M1617.1 1996.8h0M1712.7 1961.1h0M1629.3 2022.7h0M1703.5 2030.3h0M1672.2 2037.7h0M1699.9 2010.3h0M1628.4 2007.5h0M1659.8 1997.3h0M1685 1975h0M1722.2 1995.2h0M1655.7 1991.4h0M1715.7 2000.9h0M1683.3 1986.5h0M1664.2 1982.4h0M1689.9 1995h0M1714.3 2001.3h0M1705.8 1983.2h0M1629.2 1979.4h0M1704.4 2008.6h0M1707.9 1995.5h0M1688 2001.4h0M1710.9 1985.9h0M1703.4 2010.7h0M1661.3 1964.1h0M1621.5 2011.9h0M1683.9 1978.4h0M1664.7 1984.2h0M1661.7 1998.7h0M1662.2 1971.8h0M1689 1953.6h0M1688.9 1962.2h0M1692.9 2033.6h0M1641.9 2021.4h0M1746 1973.8h0M1696.8 1960h0M1661.4 1962h0M1668.8 1993.4h0M1691 1993.4h0M1689.1 1973.2h0M1743.1 2008.5h0M1641.1 1994.3h0M1652.3 1967.6h0M1684.3 2011.4h0M1697.9 2001.7h0M1685 2006.8h0M1735.4 1988.3h0M1694 1978.8h0M1702.5 1997.4h0M1654.7 1972.3h0M1683.5 2017.6h0M1687.4 1994.6h0M1651.4 2025h0M1713.4 1973.1h0M1656.7 2009h0M1759.7 1978.5h0M1710 1970.2h0M1629.3 2025.7h0M1691.3 2004.3h0M1640.4 2006.7h0M1732.5 1977.8h0M1707.5 2001.9h0M1688.1 1976.5h0M1739.2 2000h0M1651.1 2012.7h0M1704.1 1996h0M1737.7 1978.4h0M1719 2010.1h0M1707.3 1983.7h0M1738.5 2000.9h0M1660.2 2019.6h0M1678 1966.6h0M1680.5 2016.3h0M1686.6 2001.8h0M1690 2001h0M1594.1 2037.2h0M1721.7 1966.6h0M1669.2 1988.5h0M1670.2 1991.2h0M1675.2 2019h0M1683.7 2002.4h0M1757.4 1989.4h0M1694.4 1980.9h0M1657.1 1987.2h0M1688.7 1983.3h0M1709.5 2034.6h0M1697.7 2000.5h0M1722.3 1957.2h0M1716.3 2001.2h0M1678.6 2038.8h0M1713.3 2016.1h0M1636.3 1985.3h0M1692.5 1998.1h0M1672.4 1985.3h0M1704.1 1992h0M1668.6 1994.7h0M1658.9 1993.7h0M1691.5 1991.6h0M1629.6 2002.1h0M1727.3 1980.3h0M1728.6 1998h0M1700.6 1979.3h0M1722.9 2014h0M1647.7 2005.2h0M1709.3 2011.6h0M1683.2 1995.2h0M1699.4 2022.2h0M1678.6 1952.8h0M1635 2027.1h0M1666.8 1994.3h0M1611.4 2090.8h0M1626.7 1955.2h0M1605.8 2002.5h0M1610.7 2052h0M1708 1989.2h0M1693.8 1978.9h0M1727.6 1909.9h0M1767.1 1931.2h0M1595.6 1965.4h0M1623 1985.9h0M1594 2045.8h0M1761.7 1983.4h0M1609.3 2030.7h0M1662.9 2015.5h0M1714.2 1971.9h0M1594.5 2018h0M1729.3 2000.6h0M1653.2 1941.4h0M1634.4 2032.2h0M1682.9 1989.4h0M1679.3 1906.4h0M1730.7 1999.5h0M1683.9 1966.7h0M1752.7 1933h0M1614.1 2005.1h0M1748.2 2021.7h0M1585.1 2003.3h0M1670.7 2016.7h0M1651.7 2004.1h0M1678 2026.9h0M1611.2 2017.2h0M1612.8 1999.7h0M1761.3 1977.4h0M1736.2 1986.5h0M1638.2 2061.5h0M1681.4 1907.9h0M1676.7 2017.3h0M1703.8 1979.8h0M1689.3 2011.8h0M1696.1 2000.8h0M1658.6 1975.4h0M1656.7 2029.1h0M1684.4 2000.4h0M1624.8 1994.9h0M1812.9 1994.5h0M1687.3 2014.4h0M1777.1 1972h0M1696.8 2042h0M1667.9 2013.9h0M1742 2022.8h0M1626.8 1936.3h0M1661.3 2014h0M1589.6 1956.5h0M1556.7 2074.6h0M1695.4 1993h0M1553.1 2044.4h0M1670.8 1988.1h0M1623.4 1966h0M1675.5 1975.9h0M1772 2006.1h0M1710.3 2008.8h0M1743.6 1940.6h0M1620.5 2035.5h0M1615.5 1966.9h0M1680.3 2047.6h0M1776 2026.6h0M1633.7 1996.6h0M1655.5 1948.3h0M1651.2 2036.6h0M1787.1 1934.8h0M1644.3 2015.4h0M1677.4 2001.8h0M1572.1 2009.6h0M1729.5 2013.5h0M1623.1 2010.9h0M1669.2 1989.2h0M1635.1 2003.4h0M1657.2 2001.2h0M1686.2 2022.5h0M1735.2 2002.7h0M1655.7 2002.8h0M1812.3 1960.5h0M1641.3 2074.2h0M1706.8 1983.4h0M1691 2000.4h0M1680.9 1986.4h0M1729.4 2014.8h0M1607.5 2009.5h0M1653.2 1928.6h0M1802.2 2024.4h0M1804.5 1955.2h0M1668.2 1989.2h0M1677.7 2012.8h0M1652.2 2009.7h0M1699.9 1984.1h0M1713.6 1992.5h0M1660 2006.2h0M1647.3 1990.7h0M1676.2 1974.7h0M1657.4 2008.5h0M1538.1 1987.4h0M1655 1977.9h0M1677.4 2040h0M1642.1 2027.1h0M1737.1 2030.7h0M1663.1 1966.1h0M1725.3 1983.5h0M1682.1 1965.5h0M1727.5 1956.7h0M1670.5 2026.8h0M1660.5 1970.4h0M1543.9 2080.7h0M1725.2 2010.5h0M1626.7 1967.7h0M1715.5 1980.1h0M1599.4 2023.5h0M1819.3 2059.3h0M1707.6 2026.7h0M1595.6 2018.3h0M1743.1 2009.2h0M1631 1981.6h0M1665.1 2027.6h0M1644.5 1961.2h0M1700.4 2005.3h0M1705.9 1947h0M1663.8 2041.1h0M1642.1 2043.1h0M1666.9 1980.4h0M1708.9 1951.3h0M1680.1 1947.3h0M1705.3 2008.5h0M1675.2 1954.3h0M1622 2047.7h0M1639.6 1973.5h0M1689.4 1995.1h0M1720.9 1872.2h0M1724.2 1983.6h0M1630.3 2040.8h0M1645.5 2021.7h0M1637 1984.5h0M1749.3 2007.7h0M1630.2 2060h0M1725.3 2002h0M1720.2 1981.4h0M1741.1 2077.8h0M1670.5 2019.8h0M1688.5 2042.1h0M1664.5 2044.3h0M1694.5 2007.3h0M1682.1 1958.2h0M1747.2 1954.2h0M1654.2 1974.3h0M1643 1990.9h0M1722.9 1973h0M1710 1982.2h0M1615.1 1963.2h0M1689.1 2000.8h0M1624 2032.5h0M1725.5 2000.5h0M1601.9 1990.8h0M1698.5 1998.3h0M1766.3 1945.2h0M1649 1980.9h0M1631.4 1997.8h0M1788.3 1934.5h0M1832 1921.9h0M1669.1 1977.8h0M1624.3 2042.2h0M1654.5 1971.9h0M1728.3 1964.6h0M1714.3 2055.3h0M1718 2051.4h0M1623.1 2049.4h0M1613.9 1981.6h0M1740.6 1989.7h0M1571.8 2022.3h0M1726.7 1981.5h0M1582.2 2015.9h0M1621.3 2062.1h0M1659.5 2086.6h0M1672.1 2066.5h0M1681.6 2001.3h0M1695.7 2000.4h0M1673.7 1985.4h0M1747.8 1931.6h0M1653.1 1973.6h0M1615.1 1981.9h0M1730.3 2040.9h0M1674.2 2005.4h0M1603 2052h0M1701.3 2033.6h0M1676 1976.3h0M1627.9 2050.8h0M1623.6 2053.7h0M1634.9 1926.5h0M1621.4 1978.7h0M1702 1944.1h0M1655.2 2015.6h0M1591.9 1932.2h0M1717.5 2031h0M1734.7 1950.7h0M1738.8 1987.2h0M1670.5 2037.4h0M1600.1 2030.1h0M1610 2010h0M1754 2032.5h0M1703.1 1933.9h0M1652.5 1949h0M1571.3 1983h0M1634.4 1960.4h0M1680.9 2039h0M1593 2020.5h0M1656.6 1995.8h0M1597.7 2009.9h0M1642.4 1992.7h0M1648.6 2026.7h0M1688 2019.8h0M1794.2 1866.9h0M1611.2 2034.3h0M1656.1 1936.4h0M1708.5 1986.5h0M1600.7 1959.4h0M1735.8 1969.6h0M1601.1 2043.2h0M1646.1 2017.5h0M1531.5 1988.2h0M1647.4 2040.4h0M1594.5 2053.6h0M1790.9 1979h0M1627.7 1965.4h0M1693.1 1985.9h0M1620.9 1971.8h0M1711.8 1956.4h0M1724.4 1954.6h0M1701.9 1919h0M1748.8 1979.1h0M1675.8 2003.4h0M1733 1976.2h0M1685.9 1972.2h0M1728.4 1970.8h0M1653.7 1970.3h0M1718.7 2033.3h0M1729.1 1916.9h0M1685 2047.7h0M1610.8 1991h0M1530.6 2008h0M1713.1 2018.4h0M1703 1984.5h0M1627.6 2016.7h0M1707.9 2000.4h0M1761.2 2018.6h0M1666 1959.3h0M1689.2 2021.9h0M1648.8 2065.5h0M1770 2025.8h0M1692.9 1928.8h0M1620 1990.7h0M1657.6 2006.5h0M1627.4 2057.1h0M1741.2 1941.1h0M1585.1 2030.5h0M1659.7 2026.2h0M1762.9 1971.9h0M1715.3 2004.5h0M1659.9 1965.1h0M1590.9 2020.1h0M1589 2068.7h0M1597.8 1963.5h0M1705.3 1943.7h0M1667.8 2037.8h0M1755.2 2000.9h0M1704.9 2039.9h0M1661.6 1978.8h0M1648.7 2006.6h0M1612.6 2068h0M1604.5 2028.6h0M1701 1958.4h0M1544 2045.5h0M1712.5 1979.3h0M1774 1983.9h0M1640.5 1959h0M1698.3 1972.8h0M1720.7 1926.9h0M1671.7 1969.4h0M1657.1 2018.4h0M1696.9 2024.8h0M1673.3 1973.3h0M1599.6 2010.1h0M1573.9 1988.3h0M1661.4 1970.4h0M1767.7 1966h0M1655.5 1958.9h0M1706.3 2046.6h0M1697 2061.2h0M1549 2037.3h0M1670.2 1971.5h0M1647.8 1988.4h0M1714.2 2004.7h0M1652.5 2058.5h0M1780.5 1937h0M1720.4 1980.4h0M1534.9 2010.3h0M1633.5 1971.4h0M1641.7 2024.1h0M1694 2049.6h0M1655.3 1987h0M1675.8 1991.8h0M1721.4 2032.1h0M1648.8 1977.5h0M1560.8 2004.7h0M1691.2 2034.9h0M1743.7 2018.4h0M1675.2 1988.8h0M1678.4 2032h0M1654.4 2003.7h0M1709.7 1967.2h0M1795.2 1999.5h0M1716.5 1985.2h0M1678.9 2054.9h0M1657.5 1896.2h0M1633.8 2010.3h0M1694 1987.7h0M1737.3 1977h0M1613.9 1965.8h0M1658.1 2041h0M1619.3 1985.8h0M1716.6 2000.1h0M1704.5 1994h0M1688.2 2010.5h0M1679.3 1999.6h0M1699.2 1936h0M1675.9 1916.6h0M1628.1 2022.6h0M1586.3 1963.4h0M1592.8 2030.3h0M1812.1 1981.2h0M1673.6 1975.5h0M1793.9 1993.9h0M1637.9 2038.9h0M1615.9 1997h0M1704.7 1982.3h0M1700.2 2045.6h0M1665.7 2024.2h0M1686 1957.7h0M1609.8 1984.9h0M1690 2028.8h0M1773.1 2043.5h0M1681.9 2012.8h0M1723.4 1961h0M1635.8 2032.7h0M1583 1993.6h0M1627.4 2008.4h0M1731.7 2003.1h0M1633.9 1969.4h0M1553.2 2019.2h0M1651.4 2007.7h0M1616.6 2040.1h0M1659.2 1994.3h0M1682.2 2003.1h0M1551.7 2026.9h0M1708 2034.9h0M1603.3 2032.3h0M1710.4 1940.4h0M1682.9 1992.7h0M1636.7 2033.4h0M1685.9 1990.4h0M1670.4 1979.3h0M1736.7 1958.4h0M1633.1 1996.2h0M1694.7 2083.2h0M1716 1988.9h0M1687 2072.7h0M1627.4 2021.7h0M1735.7 2038.2h0M1696 2009.2h0M1613.8 1972.8h0M1589.3 1926.2h0M1618.5 1974.7h0M1770.5 1925h0M1745.5 2036.7h0M1706.8 1985.3h0M1639.6 1980.4h0M1611.5 2012.9h0M1671.2 2007.1h0M1690.7 2023.5h0M1639.1 1948h0M1732.3 1901.2h0M1761.9 1986.1h0M1596.6 1992h0M1694 1988h0M1719.7 2035.5h0M1754.3 2000.6h0M1754.1 1968.7h0M1616.6 1982.4h0M1641.4 2034.6h0M1569.5 2072.3h0M1747.3 2004h0M1595.7 2068.1h0M1733.5 1973.9h0M1571.7 2012.6h0M1680.6 1989.7h0M1675.7 1962.4h0M1681.7 1968.6h0M1687.8 1981.7h0M1625 1928.7h0M1792.3 1961.1h0M1731.8 2032.7h0M1665.9 2033.9h0M1761.1 1958.6h0M1612.1 1956.8h0M1636.1 2061.2h0M1734.9 1970.7h0M1841 1904.7h0M1781.4 1979.4h0M1685.4 1952.7h0M1649.9 2094.1h0M1598 1979.7h0M1693.5 1999.8h0M1590.1 2054.9h0M1576.8 2047.2h0M1690.4 1983.2h0M1591.6 2011.5h0M1667.9 2046.1h0M1600.3 1976.7h0M1635.4 1986.1h0M1627.7 2063.4h0M1671.6 1972.1h0M1692.7 2072.2h0M1644.4 1985.6h0M1740.2 1922.5h0M1650.3 1948.3h0M1707.9 1956.7h0M1816.8 1972.2h0M1568.3 2024.9h0M1696.9 2035.1h0M1697.9 2015.8h0M1638.2 1963.2h0M1656.9 1963h0M1645.8 1969.8h0M1685.5 1963.8h0M1614.9 1987.9h0M1620.5 2063.5h0M1674.1 1965.4h0M1691.8 1988.3h0M1765.3 1986.4h0M1685.7 2009.3h0M1650.6 1984.4h0M1670 2005.1h0M1557.7 2024.2h0M1661.3 1978.3h0M1652.3 1990.5h0M1742 1965.1h0M1604.1 1996.8h0M1638.1 2015.6h0M1713.5 2020.7h0M1657.4 2030.2h0M1717.2 1965.6h0M1693 2034.6h0M1680.5 2045.4h0M1597 2006.8h0M1700.9 2016.8h0M1687.2 2003.9h0M1615.7 1985.8h0M1684.9 1992.5h0M1569.6 2035.4h0M1686.1 2012h0M1710 1993.5h0M1666.3 2031.8h0M1660.8 1972h0M1713.6 2033.8h0M1590.6 1935.1h0M1756.9 1898h0M1731.1 1956.3h0M1645 2032.6h0M1779.1 2018.1h0M1661.3 1911h0M1697 2046.5h0M1698.8 1972.2h0M1702.9 1900.7h0M1568.8 2029.1h0M1650 2042.1h0M1684.5 2008.4h0M1653.1 2009.1h0M1620.2 1987.9h0M1674.3 1983.2h0M1763.8 2025.8h0M1680.9 2017.1h0M1699 2039.2h0M1669.7 1986.8h0M1571.6 1963.1h0M1621 1964.2h0M1682.7 1907.8h0M1698.7 1943.7h0M1698.8 2024.5h0M1612.6 2015.8h0M1628 2020.7h0M1674.2 1993.8h0M1635.8 1926.8h0M1676.5 2007.7h0M1681.6 1947.1h0M1640.5 2010.2h0M1709.3 2035.2h0M1691.6 2013h0M1649.5 1925.6h0M1667.2 1971.1h0M1747.2 1960.2h0M1648.6 1985.6h0M1715.7 1988.4h0M1660.7 1998.9h0M1746.4 1988.1h0M1581.4 2079.7h0M1698.1 2038.1h0M1776.8 2030.6h0M1573.1 2075.3h0M1704.5 1977.9h0M1724.5 2077.1h0M1715 2028.1h0M1686.9 1998.1h0M1541.7 2057.3h0M1685.1 1960.7h0M1781 2035.7h0M1631.1 1933.2h0M1736.1 2035.8h0M1689.9 1899.2h0M1648.7 1999.3h0M1720.6 1978.1h0M1645.2 2016.4h0M1751.2 2005.8h0M1565.5 2002.8h0M1671.2 1945.3h0M1739.6 1988.2h0M1624.8 2018.4h0M1671.1 2051.9h0M1551.5 2060h0M1689.8 2005h0M1770.4 2000.8h0M1585.9 2112.2h0M1580.6 1995.8h0M1722.6 1968.5h0M1750.1 2008.1h0M1657.1 1980.3h0M1659.7 2001.7h0M1698 1920.3h0M1686.9 2031.2h0M1697 2009.3h0M1714.6 2035.8h0M1655.8 2013.4h0M1780.6 1922.3h0M1761.7 1950.7h0M1721 1934.1h0M1636.8 1934.4h0M1644.4 2018.1h0M1717.3 2050.6h0M1630.4 1999.2h0M1684.8 2061.1h0M1597.9 2019.2h0M1708.2 1946.1h0M1676.9 2030.3h0M1633.3 2021.5h0M1684.8 1983.7h0M1656.6 1958.6h0M1666.1 1984.4h0M1699.8 2028.2h0M1696.3 2014.1h0M1641.3 1970.3h0M1736.3 1941.5h0M1726 1982.6h0M1729.8 1973.7h0M1637.9 1986.3h0M1713.4 1987h0M1696.1 1988.2h0M1698.7 1987.6h0M1592.9 2005.9h0M1693.9 2029.4h0M1581.5 1980.9h0M1697.8 1901.2h0M1727.4 1949.8h0M1581.4 2002.6h0M1658.4 1995.8h0M1679.4 1994.5h0M1654.8 2020h0M1701.3 1924.3h0M1656.2 1983.7h0M1734.1 1977.1h0M1668.1 1930.1h0M1651.1 2010.3h0M1649.1 1942.8h0M1593.5 2060.2h0M1671.8 1954.6h0M1671.6 2051.3h0M1592.4 2024.8h0M1572.2 2038.8h0M1626.1 2067.3h0M1619.6 2010.5h0M1751.1 2003.2h0M1716.8 1959.9h0M1745.4 2052.1h0M1625.3 2013.9h0M1670.7 1955.9h0M1700 2026.9h0M1611 2014.9h0M1664.2 2000.9h0M1592.7 2020.5h0M1667.3 2029h0M1707.1 2014.3h0M1569.5 1965.8h0M1691.1 2051.1h0M1665 1987.2h0M1695.4 1989.7h0M1693.9 1953.6h0M1652.9 1941.3h0M1642.8 1986.6h0M1706.9 1926.3h0M1696.3 1851.1h0M1664.9 2097.7h0M1726.8 2023.2h0M1746.5 1936.3h0M1711.6 2044.5h0M1758.6 2073.8h0M1622.6 1982.3h0M1661.3 1994.1h0M1671.5 2017.8h0M1588.3 2113.7h0M1737.1 2019.2h0M1714.2 2020.3h0M1596.5 2015h0M1718.5 1998.4h0M1656.9 2014.4h0M1682 1941.2h0M1615.4 1975.5h0M1652.2 2032.2h0M1625.8 2020.8h0M1745.8 1900h0M1651.7 1952.3h0M1671.9 1998h0M1654.1 1982.2h0M1719.5 2015.4h0M1619.7 2055.6h0M1660.6 2056.6h0M1620.5 2022.5h0M1670 2013.8h0M1730.2 1946.3h0M1633 1949.8h0M1648.7 1977.5h0M1693.6 1971h0M1695.3 2060.1h0M1633.2 2006.5h0M1683.3 2054.5h0M1552.5 2028.1h0M1701.5 2043.7h0M1659.5 1962.1h0M1593.3 2026.4h0M1559.5 1959.6h0M1713.2 1930.5h0M1594.7 2016.6h0M1625.3 2040.9h0M1623.6 2044.4h0M1650.3 2030.6h0M1680.3 1951.5h0M1668.2 2025.2h0M1647.4 2034.4h0M1583.7 1972.1h0M1688.3 2084.4h0M1683 1933h0M1684.8 2064.2h0M1728.2 2015.7h0M1701 1984.2h0M1721.8 1927.3h0M1680.1 2023.4h0M1715.3 2029.7h0M1627.2 1969.1h0M1625.2 1948.8h0M1635.5 1984.5h0M1693.4 2043.2h0M1705.7 1996.3h0M1661.2 1945.1h0M1774.2 1891.4h0M1717.4 2007.5h0M1767.5 1967h0M1730 2013.8h0M1597.4 2020.8h0M1629.2 2021.6h0M1641.5 1954.2h0M1653.5 1926.3h0M1838 2010.3h0M1641.7 1989h0M1644.3 1977.9h0M1682.5 2035h0M1765.2 1971.7h0M1666.9 1979.7h0M1665.3 2010h0M1647.5 2013h0M1701.6 1993.9h0M1691.8 1937.5h0M1690.4 1958.4h0M1707.8 1986h0M1720 1952h0M1719 1966.4h0M1642.8 1986.2h0M1662.7 2012.2h0M1766.6 1927h0M1717.6 1984.7h0M1653.5 1990.6h0M1560.4 2042.4h0M1657.2 1990.2h0M1605.6 1982.3h0M1675 2001.5h0M1583.7 2064.1h0M1633.3 1964.1h0M1575.7 2056h0M1598.7 2001h0M1707.4 2030.2h0M1721.3 1927.4h0M1634 2023.7h0M1672 2003.3h0M1613.2 1989.8h0M1734.9 1977.4h0M1657.2 2001.2h0M1718.8 2044h0M1731 1980.1h0M1716.8 2002h0M1759 2040.7h0M1685.6 1963.2h0M1585.6 2015.1h0M1752.6 1948.5h0M1719.5 1975.6h0M1715 2038.2h0M1792.6 1969h0M1653 1955.2h0M1666.5 2053.7h0M1715.2 1946.5h0M1727.8 1958.4h0M1726.6 1980.9h0M1567.3 2043.1h0M1655.1 2027.1h0M1682.9 2018.5h0M1720.6 2003.3h0M1759.5 1977.9h0M1639.5 1995.5h0M1727.1 1962.1h0M1728 2001.1h0M1584.2 2026.6h0M1665.7 2005.5h0M1711.3 2000.5h0M1785.6 2016.2h0M1687.3 1908.9h0M1653.9 1967.5h0M1651.2 1967.5h0M1669.4 2031.3h0M1685.4 1942.5h0M1613.2 2036.3h0M1601.5 1972.4h0M1615 2089.6h0M1799.4 1950.2h0M1651.9 1966.5h0M1587.7 1940h0M1761.2 1954.4h0M1679.7 1950.3h0M1632.6 1987.5h0M1645.7 2022h0M1665.2 2003.6h0M1595.4 1955h0M1580.3 2083.8h0M1699 2012.4h0M1630.3 1999.6h0M1660.9 2048.3h0M1687.1 1970.4h0M1643.8 2053.9h0M1796.5 1946.1h0M1621.6 2018.3h0M1685.7 1951.5h0M1700.9 2022h0M1626.1 2036.3h0M1635.9 1958.2h0M1635.8 2000.5h0M1673.5 2037.4h0M1661.9 2031.4h0M1711 2042.9h0M1681.4 2048.1h0M1722.6 2003.3h0M1722.1 1940.7h0M1686 1972.3h0M1655.5 2044.1h0M1678.8 1990h0M1701.3 2010.6h0M1671.8 2109.7h0M1616.6 1971.8h0M1610.8 2084.1h0M1626.9 2087.3h0M1802.2 1944.6h0M1745.2 1977.8h0M1587 2012.6h0M1676.5 1936.2h0M1626.6 2033.1h0M1624.4 2100.3h0M1652.9 2020.5h0M1610.4 1981.3h0M1740 2026.6h0M1786.2 2037.7h0M1759.8 2068.8h0M1757.8 1951.4h0M1615.2 2058.5h0M1619.3 1919.3h0M1623.2 2091.2h0M1699.5 2033.5h0M1653.2 1979.6h0M1744.2 2068.1h0M1723.5 2020.7h0M1715.9 2027.4h0M1789.8 2018.6h0M1625.1 2087h0M1677.3 1960.7h0M1714.2 2011.9h0M1639.4 1959.4h0M1712.6 1988h0M1828.1 2001.9h0M1668.4 1977h0M1773.6 2003.9h0M1709.8 2005.3h0M1698.9 2068.8h0M1687.6 1969.9h0M1742.9 1920.8h0M1615.2 2028.4h0M1724.7 1999.7h0M1632.8 1944.6h0M1671 1947.3h0M1863.1 1941.7h0M1593.8 2039.1h0M1741.3 1896.2h0M1668.1 2033.8h0M1634.5 1993.5h0M1657.2 1988.1h0M1738.5 2021.4h0M1676.1 1968.1h0M1665.4 2035.8h0M1751.3 1940.4h0M1684.8 1881.7h0M1685 2015.4h0M1717.3 2031.1h0M1568.9 2023.9h0M1768.2 2006.8h0M1712.9 1970.6h0M1642.6 1982.5h0M1593.2 2040.8h0M1638.1 1961.9h0M1615.7 1971.1h0M1764.5 1873.2h0M1729.6 1929.4h0M1682.4 2051.8h0M1600.1 1963.2h0M1746.3 1948.3h0M1749.4 1925h0M1603.3 2076.4h0M1640.3 2023.1h0M1688.7 1967.9h0M1773.9 2088.8h0M1589.4 2004.1h0M1699.3 1970.8h0M1815.2 1973.3h0M1660.1 2008.8h0M1590.8 1953h0M1769.4 2013.3h0M1692.1 2045h0M1660.6 2093.9h0M1727.6 1935h0M1736.5 2020.5h0M1617.3 1922.4h0M1691 2049.6h0M1711.3 2047.6h0M1595.1 1990.9h0M1706.1 2032.3h0M1632.9 2003.1h0M1647.7 2036.6h0M1631.3 2056.2h0M1747.1 2008.1h0M1675.9 2002.4h0M1800.1 1965.3h0M1643.9 2026.3h0M1643 2050.5h0M1720.4 1919h0M1563.7 2028.7h0M1730.9 2086.9h0M1707 1984.4h0M1707.6 2058.5h0M1694.6 1978.8h0M1655.3 1934.7h0M1792.1 1982.7h0M1776.4 1979.4h0M1880.6 1972.1h0M1768.8 2014.2h0M1602.4 2051.3h0M1538 2009.4h0M1586.1 2026.5h0M1657.3 1939.7h0M1688.5 1994.5h0M1638.1 2039h0M1683.2 2147.6h0M1611.8 2047h0M1696.3 1914.7h0M1789.9 1938.1h0M1668.7 2000.6h0M1627.9 1949.2h0M1674.7 2038.7h0M1725.5 1961.3h0M1707.8 2043.2h0M1776 1977.9h0M1584.1 2072.7h0M1617.1 2053h0M1696.7 2022.9h0M1735.1 2042.5h0M1650 1994.6h0M1588.5 2021.4h0M1684 2002.6h0M1739.6 2061.2h0M1608.9 2032.4h0M1738.2 1987h0M1848.9 1935.3h0M1685.4 2034.6h0M1695.2 2034.1h0M1592.2 1910.7h0M1767.8 2007h0M1659.8 2006.2h0M1690 1974.5h0M1706.1 2009.7h0M1727.6 2076.7h0M1574.2 1931.1h0M1530.7 2022.1h0M1779.5 2049.5h0M1580.3 2058.6h0M1615 2059.6h0M1625.7 2057.1h0M1702.6 1966.3h0M1624.8 1939.4h0M1675.6 1927.7h0M1604 1976.4h0M1696.6 2059.6h0M1809.3 1982.5h0M1638 2119.1h0M1723.5 2047.5h0M1652.3 2010.4h0M1870.5 1969.8h0M1634.7 2026.6h0M1574.7 1950.6h0M1642.5 2059.9h0M1727.3 1974.3h0M1563.8 2022h0M1642.4 1948.1h0M1661.8 2044h0M1595.1 1999.2h0M1690.3 1944.7h0M1621.3 2031.9h0M1560.1 2003.6h0M1673.8 1989.5h0M1684.1 2015.8h0M1685.8 2021.4h0M1565.9 2117.6h0M1708.3 2094.9h0M1799.6 1947.2h0M1704.3 1995.4h0M1732.3 1989.2h0M1714.3 1978.5h0M1651 2120.6h0M1564.5 2035.9h0M1778.2 1949.7h0M1645.4 2061.7h0M1685.7 1943.6h0M1633.9 2054.4h0M1684.3 2042.7h0M1550.1 2034.9h0M1700.9 2006.5h0M1651.6 2036.7h0M1736.1 1956.2h0M1759.4 1941.5h0M1619.5 2006h0M1652.3 2003.7h0M1858.2 1891.4h0M1614 1985.1h0M1688.5 1989.7h0M1642 1992.1h0M1770.4 1994.3h0M1678.9 2038.5h0M1717.1 1977h0M1681.6 2006h0M1586.3 1977.5h0M1653.1 2065.4h0M1739.5 1885.5h0M1744.1 1947h0M1659.2 1994.8h0M1732.1 1994.2h0M1633 2003.4h0M1788.6 1971.1h0M1668.7 2037.4h0M1837.1 2006.1h0M1768.5 1948.4h0M1723.7 1987.1h0M1699.7 1979.2h0M1639 1949h0M1701.4 2005.5h0M1685.3 1967.5h0M1766.2 1948.3h0M1901.1 1953.7h0M1596.9 2012.5h0M1454.6 2056.6h0M1744.9 1869.8h0M1679.1 1995h0M1760 1961.3h0M1568.8 2041.8h0M1670.5 1967.6h0M1656.8 2069.5h0M1808.9 1999.7h0M1686.5 2043.2h0M1687.7 1985.4h0M1687 2098h0M1739.9 1995.7h0M1665 1904.9h0M1622.7 1975.9h0M1666.9 2153.6h0M1665.4 1894.3h0M1665.4 2058.3h0M1666.2 2027.3h0M1665.3 1932.9h0M1667.7 1907.8h0M1666.4 2023.9h0M1666.4 1961.8h0M1667.4 1902.1h0M1667.1 2019.4h0M1665.8 1959.3h0M1666.6 1852.3h0M1665.1 2216.2h0M1667.2 1861.6h0M1667.6 2147h0M1667.4 1901.7h0M1666.8 1934.5h0M1665.7 1904.8h0M1667.1 1863.9h0M1666.4 2054.2h0M1665.8 2015h0M1666.5 2035.8h0M1666.4 2208.8h0M1697 1997.6h0M1791.6 1995h0M1826.8 1997h0M1682.3 1996.4h0M1860.9 1996h0M1700.3 1998.2h0M1513.8 1996.4h0M1838.7 1997.1h0M1566.7 1996.5h0M1588.5 1996.9h0M1651.2 1996.9h0M1542 1996h0M1661.2 1997.8h0M1683.8 1996.5h0M1800.7 1997.4h0M1486.6 1996h0M1859.5 1997.1h0" fill="none" stroke="#000" stroke-width="4.5" stroke-linecap="round" stroke-opacity="0.43"/>
<path d="M1696.5 2042.4h0M1687.2 2000.6h0M1659.5 1951.8h0M1742.9 1984.9h0M1623.6 2012.7h0M1660.3 1988.9h0M1658.1 1983.4h0M1680.8 1996.2h0M1684.1 1994.6h0M1655.6 1982.9h0M1754.1 1971.7h0M1645.1 2006.6h0M1679.3 1990h0M1639.1 1996.1h0M1663.9 2050.7h0M1663.1 1975.6h0M1645.4 1998.9h0M1642.4 2001.7h0M1681.8 2028.2h0M1680 2028.4h0M1673.3 1964.5h0M1668.6 2037.9h0M1631.8 2006.5h0M1671 2010.3h0M1637.9 2028.6h0M1666.7 2002.4h0M1676.8 1990.7h0M1708.5 1990.9h0M1662 2004.9h0M1692.5 2022.2h0M1648.8 2013.4h0M1624 2037.8h0M1747.1 1996.3h0M1713.2 1992.7h0M1686.2 2034.2h0M1671.3 1984.6h0M1672.8 2007.6h0M1641.9 1997.3h0M1706.3 2008.9h0M1598.6 2003.5h0M1733.2 1970.5h0M1630.7 2000h0M1681.5 1955.8h0M1670.3 2003.7h0M1653.3 1953.5h0M1699.6 1979.2h0M1646.5 1993.3h0M1701.7 1967.3h0M1672 1961h0M1662.1 2029.2h0M1701.6 2009.4h0M1723 1998.3h0M1650.9 2014.6h0M1697.7 2020h0M1671.4 2018.6h0M1673.6 1997.3h0M1684.9 1984.4h0M1688.4 1979.2h0M1654 2029.7h0M1670.9 2009.9h0M1654.1 1985.8h0M1635.3 2048.1h0M1664.8 1994.6h0M1705.6 2006.4h0M1672.4 1974.8h0M1639.1 1987h0M1688.3 2006h0M1662 2045.7h0M1723.8 1969.1h0M1633.1 1991h0M1662.6 1991.5h0M1676.3 2024.4h0M1666.6 1958.6h0M1670.8 1989.5h0M1726.8 2028.7h0M1618.2 2026.1h0M1730 2002h0M1682.4 2045.6h0M1763.1 1962.9h0M1669.7 1983.1h0M1738.7 1990.7h0M1693.8 1990.3h0M1645.6 2040.5h0M1687.1 1974.9h0M1595.1 1973.1h0M1643.6 1979.6h0M1622.9 2022.6h0M1674.6 2028.6h0M1684.1 1969.8h0M1657 1990.8h0M1657.2 2024.7h0M1621 2037.2h0M1707.5 2029.9h0M1664.6 1969.3h0M1682.5 1982.4h0M1717.1 2036.3h0M1694.6 2013.9h0M1719.2 1967h0M1610.9 2046.4h0M1649.7 2032.8h0M1636.9 1979.4h0M1668.7 1987.2h0M1620.6 2005h0M1707.6 1984.2h0M1716.1 1992.4h0M1676.8 2016.5h0M1691.7 1936.5h0M1662.3 1998.9h0M1667.4 2002.1h0M1581.2 1956.1h0M1697.5 1993.4h0M1692 1972.9h0M1714.7 2038.4h0M1688 1973.4h0M1726.2 1993.4h0M1596 2036.8h0M1620.4 2001.4h0M1711.4 1981.8h0M1629.7 2044.4h0M1666.9 1985.4h0M1699.2 2000.8h0M1683.5 1972.2h0M1663.9 1961h0M1674.3 1979.7h0M1670.7 2024.8h0M1659 2004.8h0M1721.4 1976.1h0M1718.1 1976.4h0M1675.7 2022.3h0M1677.6 1987.1h0M1699.2 1973.3h0M1631.1 2002.5h0M1669.1 1987.5h0M1690 1996.9h0M1760.7 1964.7h0M1683.8 1990.6h0M1730.3 2000.7h0M1647.5 2008h0M1675.5 2007h0M1586.2 2029.1h0M1700.1 2001.7h0M1601.9 1991.5h0M1676.1 2025.6h0M1687.4 1984.7h0M1709.2 1973.5h0M1649.9 1975.8h0M1686.6 2002.6h0M1673.3 1997.7h0M1659.5 2016.5h0M1671.9 1996.9h0M1690.4 1984.1h0M1658.4 2011.4h0M1646.7 1993.7h0M1698.2 1986.4h0M1638 1996.4h0M1627.2 2032.9h0M1696.5 1993.9h0M1709.8 1990.3h0M1664.6 2012.2h0M1649.9 2040.7h0M1646.6 2027.7h0M1649.2 2034.3h0M1661.2 1989.6h0M1591.6 2026.8h0M1716.9 1979.1h0M1653.2 2003.1h0M1711.9 1978.9h0M1644.6 1963h0M1625.2 2041.7h0M1666.9 1974.6h0M1699.4 2000h0M1657.7 2021.1h0M1696.6 1987.4h0M1698.7 2015.7h0M1608.3 1990.8h0M1672.5 2003.1h0M1662.8 1967.7h0M1713.3 2023.2h0M1728.1 1958.9h0M1691.6 1994h0M1705.1 2000.6h0M1735.2 1977.9h0M1678.8 2014h0M1667.4 1971.6h0M1690.7 1991.7h0M1729.7 1988.6h0M1693 1988.2h0M1666.4 2032.5h0M1671.2 1973.3h0M1702.9 2022.4h0M1680.8 2013h0M1676.7 1981.7h0M1707.2 1971.6h0M1692.9 1986.9h0M1608.7 2012.9h0M1627.9 1998.7h0M1679.9 1997.6h0M1685.3 1999.5h0M1702.8 2006.2h0M1631.5 1999.7h0M1648.2 1972.2h0M1660.1 2031.5h0M1631.9 2002.2h0M1703.8 1992.8h0M1690.3 2035.4h0M1679.5 2002.7h0M1623.7 2011.1h0M1649.4 2023.8h0M1698.4 2000.2h0M1643.3 1998.8h0M1683 2046.3h0M1646.7 2003.6h0M1694.5 2006.7h0M1727.8 1990.3h0M1689.9 2000.8h0M1645.3 1995.9h0M1693.6 1983.8h0M1660.6 1989.8h0M1676.6 1977.6h0M1708.3 2009.1h0M1707.8 1984h0M1689.1 1972.9h0M1699.6 2011h0M1724.1 2002.4h0M1655.4 1983.4h0M1717.2 1999.1h0M1669.7 2033.3h0M1680.7 1991.7h0M1652.6 1999.5h0M1655.4 1985.6h0M1708.3 1998.6h0M1685.9 1973.7h0M1724.1 1983.9h0M1695.3 1994.1h0M1715.2 1958.8h0M1723.2 1992.9h0M1633.3 2017.6h0M1641.1 1998.2h0M1629.9 2012.2h0M1696.3 2025.8h0M1664.5 2014.4h0M1669.2 2020.3h0M1641.5 2017.3h0M1693.9 1990.3h0M1639.7 1973.2h0M1689.8 2003.8h0M1704.7 1992.8h0M1704.1 1942.6h0M1700 1948.7h0M1682.3 1966.2h0M1706.7 1991.1h0M1637 2015.6h0M1725.3 1959.9h0M1661.6 1991.2h0M1650.7 1997h0M1622.3 1999.7h0M1688.6 2001.6h0M1631.4 1972.3h0M1663.1 1987.2h0M1661 1995.5h0M1695.8 1999.7h0M1675.1 2017.1h0M1642.5 1981h0M1569.7 2062.9h0M1655.7 1969.8h0M1701.5 1983.5h0M1708.6 1963h0M1713.2 2014.4h0M1617.1 1990.8h0M1673.6 1975.7h0M1653.3 2000.6h0M1640.7 1983.7h0M1698.8 2019.1h0M1633.5 1986.5h0M1675.1 1947.7h0M1712.1 1942h0M1696.8 1994.6h0M1698.6 1975.5h0M1722.6 1975.7h0M1660.1 1998.9h0M1658.8 2019.9h0M1639.2 2001h0M1643.2 2036.7h0M1631.3 1997.9h0M1699 1957.1h0M1653.6 1976h0M1654.3 2027.1h0M1667.4 1985h0M1722.8 2017.1h0M1687.5 1986.2h0M1675.4 2016h0M1662.8 1988.1h0M1688 2004h0M1641.3 2003.6h0M1682 2020.4h0M1672.5 2036.5h0M1729.8 1949.9h0M1713.2 2003h0M1701.9 2014.7h0M1679.4 1977h0M1635.8 2001.7h0M1665.2 2032h0M1699.3 2030h0M1657 2006.9h0M1669.9 1975.4h0M1706.6 2013.8h0M1653.9 2015.4h0M1743.8 2016.1h0M1645.7 1998h0M1765.1 1973.7h0M1713.8 1980.9h0M1701.7 1998.2h0M1657.1 2009.3h0M1611.1 2009h0M1664.8 1997.6h0M1638.7 2002.8h0M1659 2010h0M1698.4 2031.2h0M1684.6 1977.4h0M1717.3 1982.8h0M1668.7 1992h0M1667.8 2030.6h0M1651.3 2003.1h0M1649 1997.1h0M1644.5 1994h0M1629.8 2028.7h0M1709.8 2024.7h0M1670.3 2015.1h0M1602.8 2003.6h0M1728.3 1981.8h0M1672.8 1991.6h0M1722.8 1953.9h0M1701 1980.7h0M1688.9 2013.3h0M1669.6 1989.1h0M1658.5 1992.9h0M1701.9 1983.8h0M1757.2 1953.2h0M1675.7 2004.5h0M1707.8 1964.5h0M1648.2 2000.3h0M1648.3 1975.6h0M1699.7 1984.7h0M1620.6 1980.8h0M1646.6 2038.6h0M1715.3 1946.7h0M1640 2023.6h0M1650.9 1998.3h0M1617.3 2021.6h0M1715.5 1980.9h0M1647.2 2036.7h0M1691.1 2004.7h0M1657.1 1993h0M1719.3 1946.8h0M1709.8 1997.7h0M1666 2017.1h0M1639.1 2013.5h0M1669.9 2010.7h0M1747.8 1969.9h0M1701.6 1980.4h0M1732.6 1964.7h0M1663.9 2046.8h0M1601.2 2010.3h0M1636.8 2013.3h0M1640.2 1972.6h0M1680 1997.3h0M1694 1978h0M1662.9 1960.9h0M1683.1 2021.8h0M1740.4 1973.2h0M1585 2026.9h0M1683 1996.6h0M1648.7 2030.3h0M1727.5 1980.9h0M1706.3 1976.4h0M1673.4 2002.8h0M1719 1994.1h0M1664.4 1998.5h0M1672.1 1994.2h0M1671.7 1967.4h0M1704.1 2003h0M1722.5 2042.1h0M1652.8 2020.8h0M1697.6 1966.8h0M1706 1961.8h0M1668.1 2027.7h0M1610.4 1994.3h0M1629 1998h0M1644.5 2015.7h0M1723.8 1959.2h0M1690.6 2006.8h0M1686 1975.1h0M1677.2 2004.1h0M1671.3 1966.9h0M1679.9 1986h0M1647.5 2002.1h0M1723.2 1991.2h0M1700.1 1971.8h0M1643.7 2041.9h0M1680.7 1992h0M1669.9 1938.6h0M1712.3 2015.9h0M1698.7 1992.6h0M1684.4 1970.1h0M1656.7 2018.2h0M1623.5 2007.6h0M1632.1 2015.8h0M1607.7 1991.8h0M1709.6 2004.9h0M1692.1 2037.5h0M1668.5 2001.3h0M1654.1 2015.9h0M1641 2022.8h0M1681.1 1982.4h0M1659.3 1956.7h0M1710.3 1986.2h0M1591.5 2022.4h0M1655.3 2008.9h0M1669.5 1957.3h0M1680.8 2010.6h0M1672.9 1971.2h0M1693.3 1979.2h0M1682.1 1983.3h0M1705.2 2005.7h0M1692.7 1992h0M1637.2 2011.2h0M1744.2 1961.7h0M1756 1990.2h0M1738.3 1947.9h0M1742.5 2024.6h0M1733 2022.6h0M1724.8 1921.8h0M1725.6 1954.6h0M1672.5 2047h0M1657.2 1997.1h0M1647.7 2055.5h0M1664.4 2005.2h0M1545.5 1980.2h0M1703 1940.2h0M1597.9 2039.3h0M1589.2 1980.1h0M1763.2 1965.9h0M1634.5 1998h0M1592.8 2066.2h0M1709.6 1966.8h0M1609.9 2043.7h0M1713.6 1840.9h0M1615.9 1914.3h0M1775.1 1948h0M1697.6 1982h0M1737.8 2017h0M1729.8 1938.4h0M1646.5 2077h0M1798.8 1961.5h0M1772.1 1939.7h0M1773.8 1950.6h0M1630.1 2014h0M1629.5 1960h0M1627.9 1972.1h0M1736.5 2001.7h0M1672 1915.6h0M1686.3 1958h0M1646.2 2000.4h0M1542.5 2034.1h0M1660.7 1975.4h0M1678.2 2030h0M1658.3 2011.6h0M1592.3 2043.1h0M1632.9 1982.2h0M1753.3 1972.1h0M1672.7 2021.9h0M1700 1867.9h0M1747.6 2013.4h0M1674.7 2056.9h0M1712.2 1906.1h0M1684.5 1959h0M1782.2 1989.8h0M1666.9 1981.5h0M1530.2 2025.9h0M1576.5 2016.3h0M1849.3 1991.1h0M1589.5 1985.1h0M1634.3 1996.3h0M1669.2 2042.7h0M1660.5 2029.2h0M1563.3 2128.6h0M1824.5 2002.7h0M1778.1 1930.1h0M1728.5 2021.9h0M1649.1 2010h0M1731.4 1937.6h0M1598.5 2060.4h0M1648.4 1985.8h0M1697.2 2044.6h0M1710.3 1896.3h0M1695.8 1989.3h0M1643.3 1982.4h0M1759.2 1935.7h0M1668.1 2012.1h0M1706.9 2010.8h0M1649.6 1964.5h0M1735 1921.1h0M1693.5 2014h0M1613.7 2000.6h0M1657 2003.6h0M1721.6 1929h0M1665.5 1984.2h0M1706.7 2014.7h0M1688.8 2035.1h0M1635.6 2057.8h0M1672 2039.7h0M1730.4 1971.8h0M1586.1 2021.6h0M1595.7 2016.2h0M1684.6 2028.7h0M1568.7 2097.9h0M1570 2077.3h0M1638.6 2031h0M1712.1 1920.1h0M1629.2 1956.3h0M1641.4 1934.8h0M1636.2 2084.6h0M1679.7 1993h0M1635.2 2020.8h0M1630.4 2057.2h0M1603.3 2068.5h0M1580.9 2008.8h0M1761.4 1876.6h0M1614.4 2002.3h0M1712.9 2032.6h0M1678.9 2060.3h0M1820.7 2058.9h0M1554.4 2058.9h0M1650.1 2026.5h0M1721.3 2010.7h0M1714 1984.5h0M1617.2 1956.3h0M1623.4 1972.2h0M1643.1 1975.2h0M1532.6 2005.3h0M1654.8 1972.8h0M1694.1 1965.1h0M1553.5 1964.6h0M1750.3 1937.6h0M1637 2021.8h0M1697.2 1963.9h0M1800.4 1893.4h0M1597.9 2048.4h0M1639.9 1990.8h0M1689.3 1967h0M1616.6 2058.4h0M1649.7 2063.1h0M1697.1 2023.8h0M1635.5 2041.3h0M1714.7 1950.3h0M1726.8 1993.3h0M1608.9 2011.4h0M1654.6 1970.3h0M1657.9 2005.3h0M1667.3 1931.3h0M1628.6 2019.9h0M1563.1 1996.7h0M1636.1 2078.8h0M1680 1964h0M1627.3 2082h0M1658.7 1991.4h0M1667.3 2073.1h0M1759.6 1959.3h0M1593.5 1998h0M1747.5 2019.6h0M1618.6 2066.6h0M1797.5 1971.1h0M1708.8 1990.8h0M1666.6 1958.9h0M1654.8 2014.4h0M1639.1 1981.2h0M1614.9 2008.3h0M1697.5 1938.5h0M1671.6 2037.1h0M1655.6 1986.2h0M1628.9 2059.7h0M1755.5 1989.5h0M1689.8 1984.1h0M1621.1 2005.1h0M1686.2 1984.8h0M1612.5 2039.1h0M1732.7 1970h0M1797.9 1930.6h0M1736.4 1974h0M1559.4 2002h0M1704.9 2006.9h0M1662.8 1990.2h0M1797.2 1892.4h0M1682.9 2037h0M1754.6 2035.9h0M1630.4 1888.4h0M1608.5 2004.6h0M1717.9 1903.7h0M1660.7 2038.4h0M1720.9 2030h0M1592.3 2000.7h0M1676.6 2033.3h0M1639.2 2024.5h0M1627.2 1955.9h0M1652.5 2002.4h0M1578.7 2066.3h0M1724.9 2004.5h0M1620.4 2089.2h0M1718.1 1929.4h0M1698.7 2019.7h0M1624 1995h0M1762.5 1960.2h0M1692.8 2023.4h0M1797.5 1963.3h0M1687.3 2012.6h0M1725.3 1949.5h0M1596.8 2004.6h0M1721 2091.4h0M1647 2000.7h0M1611.3 2050.3h0M1690.2 1985.4h0M1593 2049h0M1697.4 2014h0M1712.5 1993.5h0M1585.7 2056h0M1753.5 1949h0M1607.7 2062.5h0M1578.8 2062.4h0M1611 2034.9h0M1677.3 1972.8h0M1721.5 1978h0M1675.3 2031.4h0M1685.7 2006.2h0M1664.7 2049.8h0M1740 2003.5h0M1686.6 2045.6h0M1673.9 2003.9h0M1639.8 2097.3h0M1619.3 2049.6h0M1668 1990.7h0M1653 2007.9h0M1709.8 1995h0M1616.2 1980.1h0M1779.3 1977.5h0M1659.1 2008.1h0M1694.4 1970.9h0M1697 2046.2h0M1649.8 2010.7h0M1672.6 2031.1h0M1625 2019.5h0M1674.6 1981.8h0M1669.6 1995h0M1796.2 2033.2h0M1689.8 2044.2h0M1713.6 1969.6h0M1662.7 1981.5h0M1594.2 2026.1h0M1745.8 1950.2h0M1662.2 2007h0M1677.8 1939.7h0M1634.5 2056.9h0M1611.7 2012.2h0M1627.3 2024.5h0M1721.8 1927.1h0M1711.3 1965h0M1667.1 2005h0M1691.2 1986h0M1631.7 1984.9h0M1709.7 1985.4h0M1592.1 2083.7h0M1673.5 2017.9h0M1719.9 1915.3h0M1692.6 1952.8h0M1676.2 1958.4h0M1677.5 1999.9h0M1743.7 1912.9h0M1717.6 2073.3h0M1669.6 1977.5h0M1688 1986h0M1754.6 1982.1h0M1627 1981.3h0M1781.6 1999.3h0M1760 2004.5h0M1665.3 2050.8h0M1670.5 2031.7h0M1634.1 1917.6h0M1724.1 1963.4h0M1667.2 2043h0M1593.8 2025.7h0M1657.1 1996.4h0M1611.2 2000h0M1570 1928.7h0M1574 1996.2h0M1696.8 1937.4h0M1671.8 2005.5h0M1682.3 2027.9h0M1661.4 1982.6h0M1749.9 1992.4h0M1718.7 2040.7h0M1728.3 1988.9h0M1700 2033.8h0M1646.5 2038.8h0M1674.3 2006.2h0M1590.7 1934.2h0M1620.4 1959.2h0M1644.1 1937.2h0M1626.8 2035.2h0M1573.1 2041.6h0M1677.7 1966.7h0M1768.5 2031.3h0M1661.2 2020.9h0M1648.3 1987.7h0M1703.6 1972.6h0M1661 2025.3h0M1690.9 1978.3h0M1631 2047.6h0M1627.2 2046h0M1557.3 2044.4h0M1698.7 1911h0M1691.1 2033h0M1794.4 1963.9h0M1713.6 2031.3h0M1749.8 1955.6h0M1599.7 1941.5h0M1656.6 1998.2h0M1597.5 2064.1h0M1723 1965.4h0M1651.5 2039.3h0M1606.3 2087.6h0M1702.8 2009.9h0M1693.4 2013.4h0M1612.1 2005.9h0M1708.8 1985.2h0M1812.1 1977.2h0M1680.6 2009.7h0M1676.3 1934.3h0M1615.1 2069.7h0M1722.5 1928.1h0M1750.3 2052.1h0M1514.8 2037.5h0M1691.7 1993.7h0M1543.7 2031.3h0M1756.9 1968.5h0M1685.8 2016.2h0M1743.1 1918h0M1661.8 2012.2h0M1651.6 2018.2h0M1635.8 2025.3h0M1595.8 1995.2h0M1662.6 1982.2h0M1706.7 2004.1h0M1617.5 2063.9h0M1665 2024.2h0M1759.2 1919.2h0M1696.8 2004.2h0M1752.7 2010.7h0M1596.2 2096h0M1587.8 1996.9h0M1712.7 1945.4h0M1646.2 2009.8h0M1652.9 1958.8h0M1693.8 1992.2h0M1593.6 2068.4h0M1607.7 2019.1h0M1587.8 2083.7h0M1690.6 1893.1h0M1615.9 2048.7h0M1668.5 1953.1h0M1662.1 2006.6h0M1638.9 1995.4h0M1687.2 2009.6h0M1746.2 2042.4h0M1817.3 1938.1h0M1696.7 2017.4h0M1654.5 1983.8h0M1637.4 2000.7h0M1694.6 2050.5h0M1679.8 2033.9h0M1725.8 1998.4h0M1747.1 1936.3h0M1652.3 1998.4h0M1569.1 1992.2h0M1737.2 2003.5h0M1759.5 2009.7h0M1713.6 1994.9h0M1673.6 1985.7h0M1742.1 1957.6h0M1794 2001.7h0M1636.9 2017.6h0M1706.1 1963.1h0M1608.1 1996.6h0M1704.5 2039.3h0M1723 1963.6h0M1734 1988.6h0M1600.2 1994.2h0M1716.5 2038.1h0M1676 1975.3h0M1633.8 1981.4h0M1729 2018.7h0M1704.1 1988.7h0M1695.8 1966.8h0M1778.2 2037.7h0M1814.9 1935.3h0M1706.6 1948.4h0M1648.6 2013.2h0M1738.7 1967.1h0M1621.8 1949.5h0M1644.1 2008.9h0M1683.6 1972.9h0M1679.2 2030.3h0M1666.6 1999.4h0M1661.6 1991.3h0M1715.7 2038.4h0M1638.8 1993.6h0M1730.6 2016.9h0M1657.6 1939.4h0M1716.4 2045.9h0M1678.6 1993.2h0M1599.7 2015.9h0M1765.6 1914.8h0M1628.1 1988.6h0M1741.6 1966.3h0M1662.4 1936.2h0M1662.9 1975.2h0M1722.5 1997h0M1674.3 2067.9h0M1659.1 1979h0M1702.6 2041.4h0M1759.7 1998h0M1647.2 1992.3h0M1660.7 1997h0M1724.8 2014.5h0M1591.8 1912.3h0M1682.1 1953.7h0M1643.6 2004.3h0M1588.7 2026h0M1765.8 1966.6h0M1745.8 2003.6h0M1717.2 1930h0M1680.5 2040.3h0M1711.9 1935.9h0M1654.2 2008.7h0M1723.3 2000.2h0M1686.5 1994.5h0M1615.2 2027h0M1662.6 2006.2h0M1663.2 1971.1h0M1624.8 1989.6h0M1678.6 2016.9h0M1682.1 2046.7h0M1689.7 1965.2h0M1740.9 1973.7h0M1695.6 1967.3h0M1674.6 1946.2h0M1619.4 2012.6h0M1708.2 1990.6h0M1617.1 2043.1h0M1738.1 2003.5h0M1799.2 2017.5h0M1668.8 1969.7h0M1662.4 1996.2h0M1703.7 1926.3h0M1581.4 2058.9h0M1784.6 1960.8h0M1790.1 2025.2h0M1568.2 2014.5h0M1677.1 1973.3h0M1668.9 1941.6h0M1626.6 2025h0M1708.2 2006.5h0M1722.1 2041.1h0M1590 1948.6h0M1729.3 1948h0M1645.1 2040.2h0M1705.7 1947.7h0M1614.2 1983.6h0M1710.9 1970.7h0M1571.5 2038.9h0M1687 1992.3h0M1736.9 1915.7h0M1605.7 1892.7h0M1706.4 1990.3h0M1586.4 2009.9h0M1810.4 1997.7h0M1665.9 2031.9h0M1652.6 2020.6h0M1655.9 2027.4h0M1608.8 2036.8h0M1711.5 1970.1h0M1670.9 1993.6h0M1682.5 2069.7h0M1615.4 2004.9h0M1705.5 1947.3h0M1619.5 2100.9h0M1697.3 2017.3h0M1565.7 2027.1h0M1589.4 2000.2h0M1675.1 1998.3h0M1639.4 1997.7h0M1663.8 2002.5h0M1796.9 1971h0M1747 2002.2h0M1619.2 1962.8h0M1679.5 2022.5h0M1682.4 2030.1h0M1673.1 2018.6h0M1692 1953.9h0M1629.3 2007.7h0M1613.7 2062.8h0M1692.1 1988.1h0M1684.7 2024.5h0M1722.3 1972.5h0M1704.5 1946.9h0M1688.2 2056.2h0M1625.7 2014.2h0M1742.3 1959h0M1650.9 2027.6h0M1596 2020.2h0M1595.9 2023.7h0M1670.6 1952.8h0M1711.4 1987.9h0M1692.4 2024.2h0M1610.2 2037.8h0M1632.6 1984.3h0M1742.3 2010.9h0M1664.8 1975.1h0M1629.6 2028.6h0M1718.7 2000.1h0M1639.7 2084.7h0M1619.3 1946.6h0M1603.9 2068.9h0M1748.9 1952.2h0M1797.5 2050.1h0M1752.3 1959.1h0M1692.6 2008.1h0M1646.7 1998.1h0M1680.4 1921.2h0M1780.2 1949.7h0M1767.7 1987.9h0M1747.2 2077.4h0M1624.6 1985.7h0M1745.3 2001.6h0M1598.6 2033.7h0M1596.3 2038.6h0M1691.8 1963.3h0M1649.6 2026.3h0M1706.9 1963.8h0M1554.3 1978.6h0M1703.8 1959.2h0M1582.5 1948.4h0M1626.4 1981h0M1668.1 2032.6h0M1632.8 2001.2h0M1720.7 2063.4h0M1595.1 2092.6h0M1607.1 2043.2h0M1762 1941.6h0M1600.1 2015.6h0M1631.4 1975.1h0M1661.3 2032.8h0M1570.1 2014.1h0M1740.4 2073.5h0M1676.3 2025.2h0M1593.4 2063.9h0M1727.9 1939.8h0M1663.6 1917.7h0M1705.7 2004.4h0M1660.6 2041.9h0M1704.4 2070.2h0M1672.7 2022.8h0M1512.6 2054.8h0M1632.7 2031.9h0M1733.8 2050.1h0M1722.6 2005.9h0M1683.7 1952.1h0M1710.5 1957h0M1748.1 1913.6h0M1697.6 2000.5h0M1729.2 1964.3h0M1684.8 1927h0M1746.7 2002h0M1626.8 1985.4h0M1697.3 1995.8h0M1663 1993.9h0M1769.6 1964.2h0M1628.4 1990.7h0M1748.4 2045.2h0M1632.5 1988.4h0M1771.7 1982.6h0M1672.1 2087.5h0M1626.6 2084.1h0M1710 1910h0M1656.9 2016h0M1673 1934.6h0M1644.2 2007.4h0M1668.4 2031.3h0M1695.8 1894.6h0M1677.9 1957.1h0M1730.7 1964.1h0M1644.3 2003.5h0M1649.9 1986.8h0M1679 2004.3h0M1742 2003.9h0M1791.2 1967.4h0M1658.7 1964.8h0M1710 2006.4h0M1718.4 2051.2h0M1731.2 1971.8h0M1783.7 2016.3h0M1798 1915.9h0M1631.1 2037.4h0M1678.1 1982.5h0M1718.6 1988.5h0M1789.7 1935.1h0M1677.6 2039.1h0M1554.5 1994.8h0M1671.1 1939.1h0M1777 1940.5h0M1736.8 1925.8h0M1664.2 2005.8h0M1731.4 1997h0M1637.2 1981h0M1673.7 1925.5h0M1651.2 2020.6h0M1634.8 2056.1h0M1661.5 1993.5h0M1615.1 1981.5h0M1692.2 1981.5h0M1783.5 1954.2h0M1613.7 2035.4h0M1584.1 2042.2h0M1664.2 1971.2h0M1706.8 2008.2h0M1645.5 2061.9h0M1747.4 1977.6h0M1689.9 1938.9h0M1737.2 1949h0M1783.3 1964.8h0M1668.2 1983.2h0M1632.3 2007.2h0M1652 2019.5h0M1629.5 1937.7h0M1731.2 1975.3h0M1708.1 2054.9h0M1482 2054.7h0M1688.5 1958.6h0M1680.2 1990.5h0M1749.4 1966h0M1662.9 2028.7h0M1603.9 1980.9h0M1746.7 1883.1h0M1660.2 1950.6h0M1634 2022.5h0M1658.6 1944.9h0M1661.5 1994.4h0M1588.9 2000.7h0M1685.2 1979.8h0M1731.1 1936.3h0M1656.8 1969.4h0M1738 2003.5h0M1689.6 1999.1h0M1628 1999.1h0M1659.9 1988.2h0M1650 1989.4h0M1606.9 1956.6h0M1671.1 2067.8h0M1641.2 1956.6h0M1719.1 1959.9h0M1661.3 1968.9h0M1737.3 2059.2h0M1724.4 2028.2h0M1756.2 1923.4h0M1675.3 2011h0M1723 1902.2h0M1707.4 1915.9h0M1617.4 1932h0M1678.8 1967h0M1579.1 1980h0M1647.2 1970.3h0M1809.8 1978.8h0M1672.2 2019.1h0M1592.3 2054.3h0M1626.5 1964.7h0M1682.5 1996h0M1707.5 1990.7h0M1660.9 2024.7h0M1683.3 1958.8h0M1649.7 2022.9h0M1657.6 1987.6h0M1668.5 2018.2h0M1636.8 2038.4h0M1703.9 1985.6h0M1848.6 1966.4h0M1666.6 2022.8h0M1664.7 1999.1h0M1703.8 1961.1h0M1594.4 1979.3h0M1617.2 2034.8h0M1752.6 2041.7h0M1659.4 1995.5h0M1766.3 1939.1h0M1743.3 2003.9h0M1671.2 2039.4h0M1760.9 1968.3h0M1707.5 1962h0M1673.4 1996.8h0M1619.1 1992.7h0M1737 1966h0M1647.6 1949.5h0M1642.3 2006.1h0M1701 1944.7h0M1679.7 1957.8h0M1677.7 2021.2h0M1593.5 2039.2h0M1493.2 2081.9h0M1577.6 2024.5h0M1722.4 2044h0M1656.2 1971.5h0M1693 2030.5h0M1659.3 1987.3h0M1636.8 1970.1h0M1680.7 1966h0M1688.4 1953.2h0M1692.3 1989h0M1561.2 1963.5h0M1718.4 1953.1h0M1711.2 1959.8h0M1598.1 1977.5h0M1697.9 2001.4h0M1740.9 1956.3h0M1721.7 2006.4h0M1806.7 1961.6h0M1704.5 1932.8h0M1614.5 2026.7h0M1715.7 1972.3h0M1584.3 2034.4h0M1710.5 1945.2h0M1619.2 2012.7h0M1594.1 2017.2h0M1575.1 2037.4h0M1730.6 1967.3h0M1688.3 1975.1h0M1686.5 1956.1h0M1828.7 1866.8h0M1757.4 1987.4h0M1714 1996.1h0M1637.1 1942h0M1590.2 2013.7h0M1622 1998.5h0M1693.1 2001h0M1717.3 2025.5h0M1650.6 2036.8h0M1655.5 2000.1h0M1688.3 2010.8h0M1648.9 2005.1h0M1676.1 2012.2h0M1664.3 2011h0M1691.1 2033h0M1613.2 1899.3h0M1731.4 1964.5h0M1726.7 1898.5h0M1655.1 2016.3h0M1591.8 1957.4h0M1610.4 1993.6h0M1761.7 1985.9h0M1574 2049.5h0M1690.9 2001.5h0M1719.8 1977.4h0M1611.8 1976.3h0M1717.6 1998.2h0M1645.6 2000.4h0M1624.8 1943.3h0M1584.6 1991h0M1608.6 1952.9h0M1615.4 2016.9h0M1688.5 1979.8h0M1584.1 2105.5h0M1689.4 1980.8h0M1786.6 2004.7h0M1595.1 1992.2h0M1603.7 2044.5h0M1625.7 2031.5h0M1625.5 2075.1h0M1685.7 2039.7h0M1725.7 2001.6h0M1710.3 1981.8h0M1770.8 1937.6h0M1618.4 2093.4h0M1640.1 1982.4h0M1576.6 2016.3h0M1759.1 2034.4h0M1585.8 2041.1h0M1731.3 2081.6h0M1619 2000h0M1696.6 2037.9h0M1707 2045.2h0M1670.9 1950.3h0M1632 2045.4h0M1607.1 1915.5h0M1653.5 1962.6h0M1706.5 1981.9h0M1633.7 1987h0M1788.9 2037.1h0M1530.9 1979.6h0M1617.9 1990.9h0M1710 1997.8h0M1691.3 1951.8h0M1755.7 2017h0M1713.1 1982.5h0M1794.4 1939.7h0M1595.4 1994.4h0M1523.5 2121.7h0M1672.1 1977.2h0M1663.4 2039.9h0M1707.3 1976.2h0M1627.1 2040.7h0M1739.9 2022.6h0M1699 1888.8h0M1633.7 1988.8h0M1697.2 2058.8h0M1801 1889.1h0M1736.7 2012.7h0M1707.5 2000.6h0M1729.2 2029.7h0M1609.7 2088.4h0M1733.5 2079h0M1709.3 1958.3h0M1628.6 2105.3h0M1664.9 1915.6h0M1741.3 1959.9h0M1651.7 2017.2h0M1668.5 1975.3h0M1633.5 2039.5h0M1654.8 2075.8h0M1698 1934.8h0M1674 2035.8h0M1590.5 2004.2h0M1590.1 2067h0M1623.3 1967.8h0M1710.9 2003.2h0M1799.5 1906.1h0M1637.6 1945.2h0M1801.3 2104.2h0M1721.5 2000.5h0M1775.9 1994.5h0M1653.6 1973.9h0M1623.6 2020.6h0M1694 2035.1h0M1611.4 1996.2h0M1735.9 2025.6h0M1606.3 2011.5h0M1733.6 2053.9h0M1586.7 2017.2h0M1690.8 2025.6h0M1565.1 2090h0M1669.1 2021.5h0M1631.3 1969.6h0M1734.5 2050h0M1621.4 2083.6h0M1666.2 2022.3h0M1619.9 2014.9h0M1683.4 2047.9h0M1612.9 2008.4h0M1765.4 1918.6h0M1519.8 2076.5h0M1788.4 1916.5h0M1724.9 2124.4h0M1710.4 2035.5h0M1587.6 2077.9h0M1731 2003.1h0M1745.2 1983.9h0M1623.1 1976.3h0M1561.1 2015h0M1698.5 2080.4h0M1605.7 1906.7h0M1622.6 1959.4h0M1756.9 1947.6h0M1587.6 2066.6h0M1847.6 1983h0M1719.5 1974h0M1800.2 1993.9h0M1693.6 1911.1h0M1555.6 2068.1h0M1633 2042h0M1652 2008.3h0M1699.3 2039.7h0M1696.4 1943.9h0M1639.5 2023.8h0M1704.4 2066.1h0M1821.1 2018.9h0M1628.9 2032.3h0M1634.2 2007.9h0M1664.6 2036.7h0M1663.6 2010.4h0M1751.7 1934h0M1722.9 2013.4h0M1686.6 1983h0M1735.1 2069.3h0M1538.9 2081.7h0M1724.6 2027.8h0M1725.8 1969.1h0M1594.4 2068.6h0M1809.6 1933.3h0M1688.1 2035.2h0M1701.3 1957.6h0M1741.4 1872.2h0M1685.7 1913h0M1749.7 2002.7h0M1765.4 2005.3h0M1682.8 2033.7h0M1649.3 2009.5h0M1593.2 2005.3h0M1766.1 1962.8h0M1599.7 2020.6h0M1557.5 2105.5h0M1730.5 1977.6h0M1684.2 2024.1h0M1819 2013.8h0M1594.7 2017.2h0M1622.2 2056h0M1679.4 2005.6h0M1704.7 1983.4h0M1701.2 2074.7h0M1697.5 1944.5h0M1791.7 2036.2h0M1791.4 1938.5h0M1591.5 2027.8h0M1799.3 1948.4h0M1600 1962.4h0M1780.2 1905.3h0M1745.9 2030.1h0M1648.3 1995.2h0M1664.8 2041.7h0M1625.7 1970.2h0M1628.1 2062.9h0M1705.6 1920.7h0M1618.4 1975.5h0M1548.1 2079.3h0M1551.1 2076.7h0M1871.3 1983.7h0M1674.5 1980.5h0M1665.2 2007.2h0M1665.5 1924.8h0M1703.2 1981.1h0M1466.7 2066h0M1752.9 2058h0M1679.9 2011.4h0M1723.8 2031.9h0M1698.9 1996.7h0M1736.7 1970h0M1685.2 1991.7h0M1824.3 2015.2h0M1726.4 2041.9h0M1661.1 2016.9h0M1705.6 1950.1h0M1673.1 1956h0M1754.6 1928.3h0M1666.1 2017.7h0M1843.1 1963.9h0M1735.9 1952.6h0M1770.9 1975.2h0M1614.1 1980.7h0M1771.6 1992.6h0M1696.8 2037.6h0M1757.7 1938.7h0M1745.8 1896.2h0M1747.4 2044h0M1731.1 1991.7h0M1651.9 2047.3h0M1739.2 1980.7h0M1676.3 1977.7h0M1789.5 1997.8h0M1631.3 2046.5h0M1667.7 1957.4h0M1597.1 2092.9h0M1748.4 2023.8h0M1713.6 1971.9h0M1695.4 1984.1h0M1694.5 1950.7h0M1686.5 2019.7h0M1686.9 1940.3h0M1708.6 2068.2h0M1564.3 2021.6h0M1766.6 1978h0M1721.7 1960.3h0M1640.6 1966h0M1744.6 1969.5h0M1739.1 1993.1h0M1570.5 2111.5h0M1700.5 2030.1h0M1892 2040.8h0M1807.1 1999h0M1586.8 2038.1h0M1681.2 2027.4h0M1717.6 1984.1h0M1696.5 1977.2h0M1745.9 1909.5h0M1694 1949.9h0M1741.7 1956.5h0M1821.8 1995.9h0M1755.1 1962.1h0M1597.8 1990.8h0M1701.1 2033.8h0M1656 2022.4h0M1678.7 2090.3h0M1688.2 2010.4h0M1698.6 1988.5h0M1617.7 2114.2h0M1589.6 2042.6h0M1706.1 2006.5h0M1737.8 2077.2h0M1702.9 2029.8h0M1723.9 1950.8h0M1616.5 1965.3h0M1698.3 2022.5h0M1574.7 1975.5h0M1661.8 2021.1h0M1754.9 1984.2h0M1598 2086.3h0M1633.2 1957.4h0M1736.9 1989.8h0M1703 1958.9h0M1807 1936.7h0M1588.4 1997.4h0M1717.9 1953.4h0M1721.3 2004.5h0M1692.2 2018.7h0M1761.9 2053.7h0M1532.5 1983.2h0M1692.3 1989.8h0M1704.1 1942.6h0M1624.8 2106.2h0M1613 2056h0M1864.2 2037.8h0M1753.7 2185.7h0M1643.9 2089h0M1628.2 2016h0M1657.5 1924.8h0M1556.7 2026.4h0M1704.5 1950.5h0M1795.3 2022.7h0M1659.2 1998.7h0M1666.5 1857.5h0M1668.3 2119.7h0M1665.2 1857.8h0M1667.1 1864.5h0M1666.7 1996.5h0M1666.7 1957.6h0M1667.1 1941.2h0M1666.1 1863.2h0M1665.3 1924.1h0M1667.7 1897.2h0M1666 1968.4h0M1666.6 1960.3h0M1666.4 2084.5h0M1665.7 1889.5h0M1666.2 1940.8h0M1667.4 2024.3h0M1667.2 1920h0M1667.6 1939.5h0M1667 2224.4h0M1668.3 1954.9h0M1667.7 2020.3h0M1664.9 1898.3h0M1665.5 2034.9h0M1835.8 1997.4h0M1756 1996.8h0M1573.2 1997.3h0M1548.6 1996.9h0M1806.1 1997.4h0M1814.8 1996.2h0M1827.8 1998.6h0M1869.1 1996.2h0M1746.1 1997.4h0M1528.5 1996.3h0M1568.7 1997.9h0M1638.8 1996.1h0M1621.6 1997.2h0M1756.7 1996h0M1652.5 1997h0M1748.8 1997h0M1561.9 1997h0" fill="none" stroke="#000" stroke-width="4.5" stroke-linecap="round" stroke-opacity="0.43"/>
<path d="M1668.6 2046.2h0M1648.3 1997.7h0M1675.5 2009h0M1679.6 1981.2h0M1696.4 1943.7h0M1681.2 1989.2h0M1689.9 2016.5h0M1673.5 2038.4h0M1709.4 1942.1h0M1615.1 2012h0M1699.8 1981.8h0M1664.8 1985.8h0M1715.7 1992.1h0M1745.2 1968.6h0M1632.4 2031.2h0M1740.5 1986h0M1657.7 1992.4h0M1696.7 1983.8h0M1643.8 2032.8h0M1651.1 1950.3h0M1612.2 1997.5h0M1634.8 1969.4h0M1706.3 1955.9h0M1682.1 2023.2h0M1693.5 1991.3h0M1649.4 1997.9h0M1640.8 1997.5h0M1667.3 1975.9h0M1643.6 2007.1h0M1660.6 1990.1h0M1674.7 1997.1h0M1647.7 1984.8h0M1651.7 2009.7h0M1664.7 1974.2h0M1715.6 1987.7h0M1702 1993.3h0M1675.4 2014.6h0M1672.1 2025.8h0M1732.7 1983.7h0M1647.9 1986.7h0M1661.1 2020.3h0M1642.9 2001.4h0M1686.7 2025.3h0M1686.7 2007.3h0M1701.3 1968.3h0M1684.2 1991.7h0M1641.5 2016.6h0M1598.4 2010.7h0M1655.3 2000.9h0M1717.3 1973.2h0M1646.4 1966.6h0M1676.4 1985.7h0M1676.4 1976.9h0M1685.8 2016.4h0M1680.8 1992.3h0M1602.9 1999.8h0M1649.7 1985.5h0M1677.2 1971.5h0M1592.3 2000.7h0M1675.9 1991.7h0M1646.2 1997.6h0M1651.4 2018.5h0M1574.8 2032.3h0M1684 1997.8h0M1669.7 1990.7h0M1699.2 1983.1h0M1715.9 1986.9h0M1660.3 1976.8h0M1686.1 2011.6h0M1673.9 1989h0M1647.4 1992h0M1614.6 1992.2h0M1660.2 1991.2h0M1677.3 2023.5h0M1654.6 2009.9h0M1671.3 2006.6h0M1695.6 1980.4h0M1584.9 2022.7h0M1717.5 1983.7h0M1643.8 2009.3h0M1701.4 2016.4h0M1717.9 1969.6h0M1629.6 2030.9h0M1670.3 1992.6h0M1704.7 2036.5h0M1655.7 2023.3h0M1667.1 2015.8h0M1743.9 1997.6h0M1693.7 2003.1h0M1631.6 2041.5h0M1666.4 2018.2h0M1697.6 1966.3h0M1668.7 2019.7h0M1695.1 1996.1h0M1632.6 2020.8h0M1645.7 1963h0M1691.7 1985.4h0M1668.1 2037.1h0M1686.3 1988.6h0M1703.6 1980.8h0M1585.8 2009.4h0M1641.8 1999.2h0M1684.4 2022.3h0M1677.4 1964.2h0M1613.2 1973.6h0M1699.4 1990.8h0M1637.3 1994h0M1627.1 1980.9h0M1731.6 1981.8h0M1676.4 2041.7h0M1649.6 1992.5h0M1703.5 1982.4h0M1658.5 2006h0M1667.5 1961.8h0M1687.6 1988.8h0M1676.1 1968.4h0M1732.3 1985.3h0M1706.4 1986.3h0M1644.7 1982.1h0M1686.1 1998.3h0M1612.5 2019.6h0M1687.2 1991.1h0M1672.1 2013.7h0M1699.8 2008.7h0M1683.7 1994.7h0M1665.1 2027.2h0M1684.2 1990.6h0M1683.2 2004.2h0M1704.8 2005.6h0M1665.2 1991.1h0M1659.2 2020.7h0M1708.8 2007.1h0M1671.7 1976.7h0M1677.4 2015.5h0M1637.2 1982.2h0M1666.3 2019.6h0M1705.9 2007h0M1705.5 1975.3h0M1659.6 2001.1h0M1652.5 1993.7h0M1689.2 2018.7h0M1637.5 2013.9h0M1688.9 1983.4h0M1705 1979h0M1673.2 1976.5h0M1648.1 2020h0M1642.5 1991h0M1701.4 1998.7h0M1668.9 2022.9h0M1688.5 2030.1h0M1739.7 1992.7h0M1672.8 1993.8h0M1670.5 2017.9h0M1684 2005.3h0M1686.3 2017.8h0M1632.6 2025.8h0M1702.1 1984.1h0M1656.5 1966.3h0M1642.8 1988.1h0M1649.8 2033.9h0M1713.7 2013.1h0M1688.6 1969.4h0M1672.6 1994.4h0M1688.9 2010.8h0M1675.3 2021h0M1640.5 1991.7h0M1683.2 1963.8h0M1678.8 2014.1h0M1667.1 2002.4h0M1719.8 1975.2h0M1699.5 1981.2h0M1729.1 1962.8h0M1667.6 1981.2h0M1625.8 1995h0M1662.3 1979.2h0M1718.1 1966.6h0M1710.5 1985.6h0M1625 2033.1h0M1632.4 1976h0M1672.7 2031.6h0M1671.9 1967h0M1659.7 2012.5h0M1648.6 1975.6h0M1697 1988.5h0M1708.8 1932.9h0M1730.7 2007.1h0M1666.1 2022.5h0M1710.7 2005.1h0M1683.8 1989h0M1648.3 2011.2h0M1676.3 1993.9h0M1650.3 2025h0M1658 2032.9h0M1631.5 1997.7h0M1659.4 1972.8h0M1662.3 2007.7h0M1644.9 2001.2h0M1642.1 1975.1h0M1671.7 1972.4h0M1684.6 2048.4h0M1641.6 1979.9h0M1679.3 1966.2h0M1663.4 2034.5h0M1654.3 2052.4h0M1697.5 1973h0M1605.8 1986.4h0M1629 2036.8h0M1756.1 1966.7h0M1654.7 1962.2h0M1671.7 1976.5h0M1657.7 1986.3h0M1710.6 1960.9h0M1683.2 1997.3h0M1668.5 2036.8h0M1716.9 1991.8h0M1710.4 1998.6h0M1721.3 1989.5h0M1690.6 1991.9h0M1650.1 1999.8h0M1659.7 1966h0M1697.4 2017.6h0M1731.9 2015.5h0M1695.2 2005.1h0M1698.4 1984.9h0M1685.2 1981.3h0M1674.5 2046.6h0M1644.3 2017.6h0M1753.6 1999.4h0M1732.3 2020.1h0M1658.4 1971.3h0M1694 2041.5h0M1677.5 1992.4h0M1650.6 1982.5h0M1630.5 2018.8h0M1662.5 1969.4h0M1630.3 1998.8h0M1720.8 1993.2h0M1676.4 2024.4h0M1658.5 2004h0M1676.5 2017.5h0M1719.3 1988.9h0M1648.1 2009.7h0M1645.5 2025.9h0M1640.6 1976.6h0M1658 2019.7h0M1688.4 2019.2h0M1660 1991.8h0M1616.1 2005.7h0M1711.9 2012.3h0M1717.6 1997.3h0M1671.7 1971.9h0M1684.5 2022.3h0M1675.7 1998.7h0M1678.5 2029.7h0M1768 1986.5h0M1666.9 1969.1h0M1696.6 2001.4h0M1725.8 1993.1h0M1655.8 2023.3h0M1647.5 2003.3h0M1708.5 2001.5h0M1713.6 2012.7h0M1712 1989.7h0M1683 2018.4h0M1591.7 2006.3h0M1693.9 2017.8h0M1680.8 1983.3h0M1670.3 2014.1h0M1663.9 2004.8h0M1639 1996.6h0M1663.8 1993.3h0M1653.5 2004.6h0M1661.5 1984.7h0M1697.4 2007.2h0M1705.2 1965.7h0M1692 1990.8h0M1664.3 2019.1h0M1668.1 2009.5h0M1733.2 1989.6h0M1725.2 1946.2h0M1649.3 1997h0M1643.9 1997.4h0M1633.3 1965.8h0M1704.3 2015.2h0M1651.9 2007.4h0M1646.7 2006.2h0M1638.9 1978.7h0M1665.1 1988.3h0M1674.6 1978.1h0M1650.6 2011.6h0M1698.1 2009.2h0M1615 1966.2h0M1678.7 1993.4h0M1665.3 1994.6h0M1673.1 2032.8h0M1662.6 1978.4h0M1761.6 2029.9h0M1695.3 2014.2h0M1695.8 2062h0M1710.8 2002.7h0M1641.3 2023.8h0M1686.5 1970.9h0M1667.2 1995h0M1640.8 2033.5h0M1685.6 1991h0M1642.9 1992.2h0M1664.2 2014.5h0M1675.5 2014.3h0M1706.6 1981.4h0M1741.6 1970.1h0M1702.4 1991.2h0M1692.6 1982.6h0M1643.4 1999.3h0M1651.1 2001h0M1617.6 1963.6h0M1649.5 2009h0M1633.8 2000.8h0M1704.4 2044.5h0M1721.9 1952.8h0M1630.8 2008.8h0M1665.7 1997.1h0M1646.1 1971h0M1692.5 2014.9h0M1697 2039.2h0M1676.9 1958.9h0M1653.8 1993.9h0M1636.9 1991.6h0M1671.1 1980.8h0M1703 1969.9h0M1619.4 1984.6h0M1672.6 1977.2h0M1663.5 1972.3h0M1660.9 2025.5h0M1653.3 1997.2h0M1638.4 2029.9h0M1662.7 1970.6h0M1665.7 1992.5h0M1688 1978.5h0M1655.3 1999h0M1727.1 1972.2h0M1637.3 2001.3h0M1686.8 1969.7h0M1649.7 2004.5h0M1672 2043.5h0M1729.2 2008.2h0M1652.3 2001.2h0M1695 2006.3h0M1688 1985.3h0M1657.7 1981.2h0M1694.5 2036.5h0M1630.4 1994.5h0M1634.5 2010.5h0M1692.3 1996.5h0M1672.1 1962.8h0M1673.6 1990h0M1653 2005.3h0M1628.1 1982.5h0M1659.7 1985.6h0M1618.1 1998.8h0M1680.6 2031.8h0M1689.4 2015.3h0M1683.6 2020.5h0M1702.1 2010.2h0M1634.4 2034.5h0M1713.8 1994h0M1723 1957.9h0M1676.8 2027h0M1721.9 2001.4h0M1647.8 2004.8h0M1687.1 1971.9h0M1687.7 1982.2h0M1696 2017.6h0M1675.2 1984.2h0M1708 1994h0M1631.8 1993.9h0M1730.7 2006.9h0M1711.9 1993.8h0M1687.6 1997.2h0M1646.4 1988.7h0M1652.3 2035.8h0M1670.2 2005.1h0M1684.1 1989.7h0M1699 1972.5h0M1607.6 2036.8h0M1729.4 1967.6h0M1634 2010.7h0M1631.8 1980.7h0M1692.6 1986.4h0M1647.3 2004.9h0M1627.7 1993.4h0M1699.1 1984.2h0M1632.6 2016.3h0M1675 1998.6h0M1612.2 2015h0M1678.7 1990.8h0M1695.7 1998.2h0M1634.6 2016.4h0M1666.9 2010.9h0M1701.1 1992.4h0M1657.8 1994.6h0M1631.4 1989.8h0M1695.5 2006.7h0M1643.4 1971.6h0M1694.1 2014.6h0M1665.6 2018.4h0M1719 2001.8h0M1676.7 1992.7h0M1670.9 2017.9h0M1732.6 1937.6h0M1713.4 2010.5h0M1656.7 1975.5h0M1698.5 1979.2h0M1583.4 2005.5h0M1681 1986.3h0M1670.3 2019.9h0M1640.8 2004.4h0M1666.2 2012.8h0M1700.6 1982.7h0M1664.8 1970h0M1677.9 2009.7h0M1648.9 1973h0M1652 1976.4h0M1704.8 1974.9h0M1689 1985.1h0M1675.7 1973.2h0M1641.3 1915.2h0M1658 2017.5h0M1498.2 1977.6h0M1658.4 2043.5h0M1535.4 2000.8h0M1683.7 2030.1h0M1563.8 2038.8h0M1690.1 2009.9h0M1678.9 2016.8h0M1668.6 2007.9h0M1649 1979.3h0M1744.7 1953.3h0M1675.7 1977.2h0M1586.7 2003.9h0M1692.1 1957h0M1783.5 1979.6h0M1700.6 2021.9h0M1770.6 2046.4h0M1740.7 1977h0M1712.1 1994.7h0M1779.4 1956.1h0M1555 2049.6h0M1703.4 1991h0M1768.4 1939.6h0M1691.4 2010.7h0M1760.6 1983.8h0M1665.9 1956.3h0M1754 2013.3h0M1727.9 1914.7h0M1642 2024.9h0M1659.9 1977.6h0M1530.9 2028.6h0M1703.3 1999.4h0M1667.1 2028h0M1637.4 2056.8h0M1621.5 2037.5h0M1617.4 2033.9h0M1813.8 1916h0M1726.9 2000.2h0M1665.7 2077.4h0M1710.4 2005.3h0M1630.1 2021.8h0M1698.8 1960.9h0M1723.7 2016.6h0M1718.2 2012.8h0M1639.9 1976.7h0M1632.4 1961h0M1621.2 1959.5h0M1688.4 2077.9h0M1771.1 1933.7h0M1639.5 2053.9h0M1634.1 1993.8h0M1708.8 1965.4h0M1648 1972.2h0M1741.1 1903.8h0M1728.3 1968.7h0M1749.2 1956.2h0M1666.9 1998.3h0M1631.4 1991.6h0M1676.6 2046.1h0M1773.5 1978.1h0M1734.7 2074h0M1713.4 2063.6h0M1596.9 1979.8h0M1669.3 1975.7h0M1676.8 2005.9h0M1709.6 1929.4h0M1628 2056.9h0M1694.7 1963.3h0M1563.9 2062.3h0M1625.6 2030.3h0M1554.2 2025.4h0M1614.4 2007.4h0M1666 1920.3h0M1631.5 2031h0M1573.2 2094.7h0M1751.3 1940.6h0M1738.6 1980.7h0M1642.1 2035.1h0M1664.3 1998.8h0M1617.3 1977.1h0M1608.1 2010.1h0M1765.8 1980.4h0M1701.5 2010.3h0M1681.1 1988.7h0M1640.8 1979.4h0M1661.9 2050.1h0M1650 2020h0M1660.9 1978.5h0M1665.5 1973.1h0M1741.6 1966.1h0M1767 1939.5h0M1691.8 1973.7h0M1676 1943.8h0M1675.9 1975.4h0M1718.6 2011.3h0M1673.1 2008.4h0M1600.8 2030h0M1682.2 1968.4h0M1643.8 1993.2h0M1712.9 1897.5h0M1665.4 2030h0M1703.8 2000.5h0M1741.3 1972.1h0M1612 2058.4h0M1689.5 1883h0M1663.2 2020.1h0M1629 2083.5h0M1762 1972.8h0M1707.7 1909.8h0M1591.5 2053.8h0M1611.5 1961.2h0M1685.5 1968.8h0M1615.6 2026.9h0M1714.9 1922.7h0M1654.1 2015.8h0M1695.3 2111.1h0M1571.6 2066.2h0M1711 1988.4h0M1626.4 1962.7h0M1620.9 2030.7h0M1695.8 2092.7h0M1613.7 2036.9h0M1838.8 1918.2h0M1713.9 1987.5h0M1635.1 2065.6h0M1686.1 2055.5h0M1630.5 1962.3h0M1620.4 2003.1h0M1614.8 2008.5h0M1597.7 1984.6h0M1595.2 1998.8h0M1748.3 1998.6h0M1593.1 2057.3h0M1670.9 2046.3h0M1721.6 2083.7h0M1724 1979.7h0M1702.8 1941.5h0M1629 2019.4h0M1719.6 2012.6h0M1624.5 1966.5h0M1613.8 1956.9h0M1687.8 1996.5h0M1660.3 1972.3h0M1719 1951.9h0M1637.9 1987.7h0M1659 2025.3h0M1643.9 1978.6h0M1741.5 1941.1h0M1670.9 1940.1h0M1650.2 2033.5h0M1641 1995h0M1648.8 2053.1h0M1710.5 2026.9h0M1642.3 2028.9h0M1680.1 1959.9h0M1557 1977.3h0M1647.6 1898.9h0M1758 2007.8h0M1620.1 2017.3h0M1634.5 2008h0M1783.3 2002.2h0M1643.3 1976.6h0M1721.8 2043.6h0M1697.4 1945.8h0M1715.2 2020.2h0M1682.8 1959.8h0M1643.7 1999.8h0M1720.3 2037h0M1647.9 2059h0M1739.1 1951.2h0M1731.3 1948.6h0M1709.2 1973.7h0M1718.5 1978.3h0M1616 2003.8h0M1681.9 1952.6h0M1747.1 1983.9h0M1718.1 1954.6h0M1660.5 1980h0M1715.5 1947.9h0M1578.3 2013.3h0M1763.5 1957.8h0M1648.5 1950.3h0M1679.7 2040.3h0M1623.1 2036.5h0M1656.2 2003.6h0M1622.3 2069.4h0M1621.1 2001.3h0M1759.8 1915.9h0M1681.8 2005.5h0M1735.4 2041.2h0M1689.1 2016.2h0M1684.9 1986.1h0M1632.3 1971.3h0M1704.8 1972h0M1672.6 2011.1h0M1712.9 2002h0M1686.2 1980h0M1600.7 1995.5h0M1644.1 1951.4h0M1767.6 1911.8h0M1692.8 2008.3h0M1692.7 1960.1h0M1561.9 1947.8h0M1606.7 1986.2h0M1683.8 2050.6h0M1669 1959.8h0M1693 1966.4h0M1588.5 2054h0M1584.1 2069.4h0M1582.1 2042.6h0M1605.1 2053.9h0M1703.8 1972.4h0M1698.6 1977.5h0M1777.7 1945.4h0M1675.6 1943.7h0M1696.6 1963.7h0M1542.6 2040.6h0M1674.6 2061.9h0M1654.2 2012.9h0M1539.1 2020.4h0M1709.1 2028.9h0M1738.2 1974.8h0M1649.6 2037h0M1702.3 1976h0M1718.2 1989h0M1607.6 1982h0M1599.2 2055.5h0M1669.9 2068.5h0M1733 1958.7h0M1796.5 1969.3h0M1713.8 2001.6h0M1704.2 2061.2h0M1621.5 1939h0M1753 1990.5h0M1699.4 2001.8h0M1662.1 1983.6h0M1754.9 2024h0M1605.9 2014.5h0M1607.8 2023.7h0M1608.8 2086.1h0M1640.2 2042.8h0M1715.5 1978.8h0M1648.7 1984.5h0M1702.7 2045.4h0M1605.9 1997.5h0M1587.5 2048.3h0M1602.5 2008.1h0M1667.4 1992.4h0M1658.9 2035.8h0M1633 2066.8h0M1735.1 1922.6h0M1559.1 2035.5h0M1628.4 2101.3h0M1813.1 1830.2h0M1751 1900.1h0M1650.1 1997.6h0M1724.8 1951.2h0M1782.4 2015.4h0M1587.1 1976.2h0M1706.5 2025.6h0M1628.3 1974.7h0M1605.8 2039.6h0M1679.2 1953.2h0M1652.3 1975.3h0M1620.8 2051.2h0M1712.5 2059.3h0M1669.5 1999.6h0M1637.5 2034.8h0M1655.6 2025.7h0M1724.1 1997.4h0M1639.6 2062.1h0M1705.6 1948.1h0M1718 1954.5h0M1627.1 2015.8h0M1719.4 2039.3h0M1727.7 2054.9h0M1713 1992.5h0M1669.6 2043.4h0M1749.6 2006.4h0M1727.7 1949.2h0M1664.6 1973.7h0M1528.6 2088h0M1703.9 2001.7h0M1621 1960.9h0M1684.2 2008.5h0M1656.1 2031.9h0M1708.9 2029h0M1669.2 1941.5h0M1621.2 2067.1h0M1696.9 1988.7h0M1670.6 1974.5h0M1629.3 2011.5h0M1585 2012.7h0M1674.2 1918.1h0M1687.5 1969.5h0M1582.9 1991.2h0M1665.8 1987.3h0M1659 2019.8h0M1630.5 2007.7h0M1663.1 2006.4h0M1648.5 2045.7h0M1697.7 2012.7h0M1537.5 2059.1h0M1752.8 2012.1h0M1691.7 1970.6h0M1748.5 2089.2h0M1675.6 1956.5h0M1665 1960.4h0M1712 1992.4h0M1684.5 1927.4h0M1740.9 2012h0M1673 2016.4h0M1715.3 1994.7h0M1666.9 2034.6h0M1716.5 1986.5h0M1679.8 1972.6h0M1655.9 1985.2h0M1748.3 1981.9h0M1720.5 1968.4h0M1625.4 2017.8h0M1721.2 1920.8h0M1701 2012.6h0M1688.1 1996.6h0M1691.1 1990.5h0M1696.1 1970h0M1696.3 2015.5h0M1716.6 2026.6h0M1682.6 2000.9h0M1707 1956.5h0M1704.7 1999.6h0M1672.6 1947.1h0M1636.1 1947.6h0M1668.9 1918.6h0M1711.9 1985.7h0M1796.3 1989.6h0M1665.8 1920.6h0M1634.8 2066h0M1692.3 2013h0M1607.3 1997h0M1769 1986.2h0M1707.6 2005.1h0M1700.8 2028.3h0M1686.4 1980.2h0M1736.5 1879.2h0M1725.8 2009.5h0M1723.2 2029.2h0M1731.9 1986.8h0M1662.1 2032.3h0M1816.6 1982h0M1778.1 1964.2h0M1676.6 2065.8h0M1693.8 1983.6h0M1615.3 2007.3h0M1764.2 1969.2h0M1608.6 1966.3h0M1618.8 2049.4h0M1651.4 1973.8h0M1728.3 2034.1h0M1715.1 1951.6h0M1662.2 1972.2h0M1648 2062.3h0M1668.5 2040.8h0M1711.3 1957.2h0M1634.7 1985.4h0M1614 1972.6h0M1633.7 2028.4h0M1650.4 2052.9h0M1606.1 2031.7h0M1623.4 1958.2h0M1728.1 2000.9h0M1682.5 1977.7h0M1614.2 1983.6h0M1637.1 2006.3h0M1660.4 1964.7h0M1677.4 1977.6h0M1671.8 2041.6h0M1698.9 1927.1h0M1721.9 1935.4h0M1716.8 1976.7h0M1676.7 1990.2h0M1689.6 2029.3h0M1675.8 2011.8h0M1712.6 1976h0M1737.4 1987.6h0M1661.4 2016.9h0M1758.3 1981.2h0M1617.6 1986.7h0M1648.6 2070.4h0M1606.4 2036.3h0M1569 2076.9h0M1565 2031.4h0M1619.1 1952.2h0M1633.8 2018.4h0M1656 2011.2h0M1745.8 1921.4h0M1654.2 2059.5h0M1713.7 1957.2h0M1639.6 2055.1h0M1708.9 2003h0M1579.8 2074h0M1631.7 2012.7h0M1757.3 2002.8h0M1578.3 2037.5h0M1660.3 2039.2h0M1654 1990.5h0M1633.9 2059h0M1671.6 2011.5h0M1652.4 1956.6h0M1642.9 1985.4h0M1742 1987.4h0M1610.7 1983.7h0M1620.9 1996.5h0M1678.3 1944.4h0M1625.1 2048.5h0M1756.2 1948.6h0M1668 2039.4h0M1770.1 1993.2h0M1714.3 2026.7h0M1684.8 2032.7h0M1737.9 1963.8h0M1650.4 2053.2h0M1696.2 1989.3h0M1679.2 2008.7h0M1656.8 2007.6h0M1698 1983.4h0M1787.3 1990h0M1711.4 1964h0M1665.4 1964h0M1719.5 1880.9h0M1624.4 2017.5h0M1653.8 1993.6h0M1661.8 1984.7h0M1670 1983h0M1682 1945.1h0M1623.1 1997.8h0M1547.7 2025.7h0M1657.1 1960.7h0M1751.9 1892.5h0M1714.9 1957.2h0M1750.4 1994.4h0M1749.9 1976h0M1683.9 2022.3h0M1567.6 2007.7h0M1688.9 2095.8h0M1705.3 2016.8h0M1687.5 2055.9h0M1814.8 1950.8h0M1607.6 2065.4h0M1749.4 1991.4h0M1677.9 1989.1h0M1691.8 2006.3h0M1696.4 2017.3h0M1651.3 1982.3h0M1722 2021.5h0M1664.1 1983.6h0M1838.8 1976.3h0M1654.2 2006.8h0M1625.2 2039.1h0M1576.8 2006.7h0M1714.5 1953.3h0M1833.1 1960.5h0M1677.3 1992.1h0M1626 2047.3h0M1540.4 2063.7h0M1704.1 1940.7h0M1665.4 1981.4h0M1555.5 2034.1h0M1770.6 1996h0M1663.9 2063.3h0M1652 2049.2h0M1526.5 2006h0M1670.3 1985.6h0M1526.7 1977.5h0M1657.4 2059.8h0M1761.9 1953.3h0M1627.2 2035.1h0M1670.4 2022.9h0M1632.4 2090.6h0M1561.4 2042.4h0M1561.4 2015.2h0M1658.3 2035.4h0M1656.9 2011.3h0M1654.5 2044.7h0M1607.3 2025.5h0M1677.7 1924.1h0M1660.3 1944.9h0M1618.2 2039.5h0M1630 2020.9h0M1741.9 2054.3h0M1687 1999.1h0M1717.3 1979.8h0M1665.2 1975.3h0M1642.5 1943.9h0M1634.4 2058.9h0M1573 2039.3h0M1659.2 2037.7h0M1606.8 1934.3h0M1669.2 1918.6h0M1616.8 2020.5h0M1584 2024.1h0M1758.7 1939.4h0M1665.6 2037.7h0M1633.2 2079.9h0M1615.6 2067.7h0M1677.8 1960.5h0M1735.5 1977.5h0M1779.7 1993.1h0M1608.6 1980.5h0M1699.3 1925.6h0M1665.8 2081.6h0M1773.6 1987.4h0M1696.7 2030.3h0M1644 2011.5h0M1702.6 1984.2h0M1729.3 2032.3h0M1752.6 1951h0M1633.8 2000.2h0M1627.8 2073.2h0M1721.7 1975h0M1653.3 2023.1h0M1693.9 1970.3h0M1669.6 1959.8h0M1674.7 2093.8h0M1557.7 2039.4h0M1743.1 2037.5h0M1666.9 1996.6h0M1688.9 1999.4h0M1717.6 1959h0M1667.8 2020.6h0M1673.1 1936.2h0M1766.4 1959.7h0M1634.9 1950h0M1646.4 1977.1h0M1588 2044.1h0M1570.2 2051.5h0M1571.5 2061.7h0M1633.4 1997.5h0M1638.6 2012.6h0M1704.7 2024.6h0M1646.1 2068.8h0M1571.6 2023.1h0M1636.7 2094.3h0M1687.3 2023.4h0M1621.5 1999.9h0M1700.4 1958.5h0M1711.3 1954.9h0M1669.6 1991.6h0M1753.9 2015.8h0M1741.9 1926.2h0M1614.9 1916.9h0M1712.2 1994.3h0M1638.9 2026.3h0M1700 1979h0M1634.1 2009.1h0M1711.5 1991.4h0M1707.4 2045.7h0M1658.2 1942.6h0M1690.5 1934.1h0M1731.3 1980.4h0M1722.6 2022.4h0M1787.9 1932.7h0M1725.6 2007.6h0M1694 1977.8h0M1622.6 1999h0M1679.9 2022.4h0M1760.8 1883.2h0M1740.7 1941.5h0M1716.1 1973.1h0M1669.5 1992.6h0M1615.2 1954.9h0M1754.8 1992.4h0M1659.5 1988.3h0M1685.8 2031.2h0M1684.6 2024.8h0M1638.2 1998h0M1734.5 1952.8h0M1642.1 1972.7h0M1678.4 1963.6h0M1763.5 1897.6h0M1733.7 1966h0M1656.5 2033.2h0M1619.7 2018.6h0M1633.1 2023.9h0M1562.1 2042.3h0M1592.7 2040.5h0M1757.9 2032.5h0M1702.4 1971.5h0M1731.7 2014h0M1650.2 1979.2h0M1637.1 2006.9h0M1756.1 2073.4h0M1520.6 2062.9h0M1726.3 2010.1h0M1626.1 2052.1h0M1645.1 1978.5h0M1732.3 2013.5h0M1575 1957.7h0M1690.7 2015.8h0M1676.1 1983.6h0M1606.2 2067h0M1709.5 1930.9h0M1607.7 2001.3h0M1670.8 2014h0M1708.9 2035.9h0M1620.9 1970.6h0M1647.6 1968.1h0M1581.9 1934.5h0M1773.8 1961.9h0M1633.2 1982.6h0M1693.9 1960.1h0M1681.7 1987.7h0M1694.9 1977.1h0M1633.6 2010.7h0M1625.7 1957h0M1673.1 1969.2h0M1584.8 2027.9h0M1693.3 1944.8h0M1689.2 1953.4h0M1638.3 2005h0M1682 2074.7h0M1668.4 2051.8h0M1715.4 1967.8h0M1693.2 1975.3h0M1729.1 2001.3h0M1548.8 2005.4h0M1752.7 2007.3h0M1761.1 2024.7h0M1665.2 2047.7h0M1687.8 2084.9h0M1648.2 1996.3h0M1685.7 2026.4h0M1632.5 1954.4h0M1699.7 2031h0M1707.8 2002.6h0M1666.5 2008.8h0M1646.8 1985.2h0M1609 2046.3h0M1563.6 2055.6h0M1705.3 1990.1h0M1765.7 1974.1h0M1740.1 1950.5h0M1704.6 1953.6h0M1640.6 2017.8h0M1622.7 1979.2h0M1659.4 2032.9h0M1607.5 1968h0M1681 2027.6h0M1677 2029.2h0M1738.2 2000.5h0M1788.8 1926.7h0M1597.9 2017.8h0M1756.1 1980.3h0M1697.2 1938.8h0M1636 2024.8h0M1603.9 1984.3h0M1611.7 2064.4h0M1776 1991.4h0M1698.3 2009.8h0M1620.6 2017.3h0M1571.8 2009.1h0M1675.5 2021.7h0M1745.4 2006.3h0M1713.4 1947.3h0M1604 2006.8h0M1616.8 1931.4h0M1683.3 1948.8h0M1738.9 1989.1h0M1746.9 1940.4h0M1671.7 1958.3h0M1626.8 1957.2h0M1715.6 1993.7h0M1613.4 2047.4h0M1665 1955h0M1724.8 1929.1h0M1601.7 1995.2h0M1679.4 2006.2h0M1648.7 1952.8h0M1639 1988.1h0M1672 2079.7h0M1592.1 2012h0M1713.5 1992.7h0M1611.9 2019.2h0M1749.1 2006.9h0M1525.1 2007.6h0M1719.1 2028.2h0M1606 2008.2h0M1697.6 1899.9h0M1677.8 1921.7h0M1671 1968.8h0M1657.3 1944.8h0M1708.5 2034.3h0M1710.6 2012.7h0M1626 1971.5h0M1650.9 2055.8h0M1735.7 1997.8h0M1708.9 1985.8h0M1660.1 2058.5h0M1637.5 1979.5h0M1717.7 2015.8h0M1588.8 2051h0M1717 1994.7h0M1573.1 2041h0M1650.6 2050.6h0M1757.1 2001.2h0M1764 2030h0M1737.2 2071.2h0M1683 1998.3h0M1768.3 2055.4h0M1639.3 2035.7h0M1660.6 1962.9h0M1679.6 2003.6h0M1677.5 1976.6h0M1601.3 1986.8h0M1692.9 1963.7h0M1844.8 1965.4h0M1651.5 1996h0M1704.9 2004.8h0M1681.3 1929.7h0M1625.7 2010.7h0M1702.1 1940.3h0M1667.2 1983.3h0M1667 2002.5h0M1574.1 2052.8h0M1602.7 2000.1h0M1743.1 2065.3h0M1761.3 1986h0M1712.8 2009.1h0M1654.4 1983.2h0M1632.7 1987.8h0M1739 1946.3h0M1651.9 2016.8h0M1643.4 1978.8h0M1697.9 1918.4h0M1652.9 2075h0M1600.3 2047.6h0M1644.5 2028.3h0M1738.7 2006.8h0M1737.4 1969.1h0M1719.2 1987.4h0M1768.6 1978.5h0M1695.9 2004.3h0M1680.5 1961.7h0M1678.1 1963.4h0M1683.9 1985.6h0M1606.5 1995.4h0M1777.3 1954.9h0M1657.4 2014.2h0M1603.4 1963.1h0M1586.7 2045.2h0M1723.1 1998.8h0M1560.1 2019.4h0M1710.3 2018.9h0M1741 2058.7h0M1684.9 2028.4h0M1792.5 1976.2h0M1683.3 1909.3h0M1774.8 1927.6h0M1769 2060.2h0M1610.8 1990h0M1662.4 2012.4h0M1725.5 1911.3h0M1710.7 2114h0M1605.9 2038.9h0M1592.4 2168.9h0M1752 1950.5h0M1733.5 1918.1h0M1647.9 1939.5h0M1682.7 1937.4h0M1669.3 1931.7h0M1608.3 2022.4h0M1750.4 2069.3h0M1724.6 1974.4h0M1714.6 1957.9h0M1799.3 1978h0M1848.7 1984.4h0M1649.8 2091.7h0M1732.6 2036.8h0M1664.1 2055.6h0M1687 1926.8h0M1666 2061.4h0M1529 1921.1h0M1623.1 2082h0M1548.4 1946.4h0M1648.7 2084.2h0M1695.2 2022.1h0M1831.4 1994.7h0M1758.4 2035.3h0M1695.7 1991.1h0M1624.9 2013.4h0M1683.9 1957.5h0M1740.4 1943.5h0M1728.1 1931.3h0M1637.8 2036.3h0M1724 1957.5h0M1627.8 2089.2h0M1623.8 1950.8h0M1720.6 1971.7h0M1780.7 1981.5h0M1608.1 2140.8h0M1648.2 2055.3h0M1749.7 2015.2h0M1758.9 1993h0M1677.3 1971.4h0M1691.1 2053.7h0M1630 2039.9h0M1560 1968.1h0M1869.4 1979.1h0M1547 2017.7h0M1749.7 2007.1h0M1781.1 1991.9h0M1599.8 1987.5h0M1515.4 1991.4h0M1677.6 2032.9h0M1582.3 2009.9h0M1731.8 1925.5h0M1485.7 2045h0M1612.7 1951.4h0M1698.2 1961.3h0M1746.3 2010h0M1684 1977.5h0M1789.3 1967.6h0M1636.5 2018h0M1718 1940h0M1699.8 2014.6h0M1717.5 1940.7h0M1673.6 2034h0M1566.6 1953.3h0M1642.1 2105.7h0M1532.8 2001.8h0M1705.8 2065.2h0M1608.1 1987.7h0M1641.8 1935h0M1765.1 1982.2h0M1689.2 2040.8h0M1627.9 2065.2h0M1619.6 1947.6h0M1619.8 2099.7h0M1695.2 2028h0M1579.8 2058.2h0M1744.8 2036.1h0M1664.8 1968.1h0M1741.1 1983.3h0M1613.6 2077.6h0M1676.3 1922.7h0M1704 2015.3h0M1609.1 2008.4h0M1644.7 1980.7h0M1820.3 1858h0M1691.2 1982.5h0M1618.3 2167h0M1775.3 2008.4h0M1464.3 2121.6h0M1719 1952.4h0M1712.2 2108h0M1737.7 1945.6h0M1765.4 2020.6h0M1729.3 1888.5h0M1686 2041.2h0M1557.6 2045h0M1873.6 2056.5h0M1741.9 1944.2h0M1608.5 1964.9h0M1705.6 1954.6h0M1542.3 2076.6h0M1692.2 2004h0M1694.1 1944.2h0M1518.3 1971.3h0M1690.9 2030.3h0M1641.7 1931.2h0M1730.5 1917.8h0M1694.6 2010.3h0M1472.8 2090.4h0M1715 2001.9h0M1666 2053.6h0M1650.8 1863.2h0M1703.3 1967h0M1643.7 1953.3h0M1736 1996.3h0M1704.1 2041.6h0M1728.3 2043.4h0M1682.2 1986h0M1582.7 2029.1h0M1674 2090.6h0M1734.6 1961h0M1665 2096.2h0M1696.7 1988.1h0M1658.1 1952.8h0M1681.3 2063.8h0M1638 1977.3h0M1570.3 2014.7h0M1662.2 1973.8h0M1625.1 2007.4h0M1746.4 1950.7h0M1627.2 2114.7h0M1692.5 1925.9h0M1639.3 1981.4h0M1615.3 1998.9h0M1652.1 2101.6h0M1639.3 1998.7h0M1712.6 2039.2h0M1729.7 2018.7h0M1677 2027.1h0M1599.3 2078.8h0M1643.8 2017.4h0M1487 2018.1h0M1699.1 1989.5h0M1568.2 1964.8h0M1577.3 1997.5h0M1698.9 2001.9h0M1777.3 1984h0M1789.5 1997.2h0M1694.1 1993.8h0M1684.4 2104h0M1672.7 1978.2h0M1698.5 2000h0M1626.1 2035.5h0M1605.3 2021.1h0M1644.3 2002.9h0M1771.8 1962h0M1630.2 2016.7h0M1604.7 2029.1h0M1760.7 2025.8h0M1839.8 1904.9h0M1733 1909.9h0M1594.1 2074.5h0M1683.4 1976.9h0M1556.7 2098.6h0M1608.4 1958.9h0M1648.9 2026h0M1615.3 1960.7h0M1628.9 1996.2h0M1655.6 1952.9h0M1709.1 1920.5h0M1628.6 2050.6h0M1755.4 2025h0M1718.3 2005.4h0M1606.7 1896h0M1822 2009.3h0M1716.8 1911h0M1636.6 1995.7h0M1653.1 2023.7h0M1656.1 2038.8h0M1688.3 2045.2h0M1584.1 2110.3h0M1647.7 1910.1h0M1644.4 1920.1h0M1752.7 1829.8h0M1687.2 1902.7h0M1762.3 1953.4h0M1679.5 1903.7h0M1706.5 1990.8h0M1619.3 1934.6h0M1766.3 2062h0M1648.3 2013.9h0M1682 2000.6h0M1696.1 2052.4h0M1656.6 2075.2h0M1634 2041.9h0M1753.9 1894.7h0M1607 1985.6h0M1540.3 2035.9h0M1739.4 1867.1h0M1748 1951.9h0M1767.5 2028.6h0M1561 2055.3h0M1539.1 2056.5h0M1584 2063.2h0M1697.2 2016.3h0M1702.9 1986.5h0M1636.2 2052.1h0M1813.8 2009.1h0M1628 2048.5h0M1786.5 1978.5h0M1659.4 2052.2h0M1798.2 1960.2h0M1634.4 1886.8h0M1582.1 2034.7h0M1806.3 1935.1h0M1683.4 2006.6h0M1760.5 2040.8h0M1707.1 1975.8h0M1598.1 2067.1h0M1824 2020.4h0M1677.2 2045.6h0M1721.7 1977.8h0M1637.4 2049.9h0M1760.5 1981.6h0M1726.4 2047h0M1642.5 2122h0M1732.7 2036.7h0M1787.4 2024.8h0M1689.3 2037.5h0M1626.6 2040.3h0M1659.5 2076.3h0M1611.7 2113.3h0M1578.3 2052.9h0M1776 1993h0M1676.6 1948.9h0M1648.8 2009.5h0M1828.7 2026.4h0M1680.3 2064.6h0M1626.3 1904.4h0M1660.8 2045.4h0M1904.3 2006.3h0M1752.5 1958.8h0M1667.8 2004.6h0M1527 2155.8h0M1614.8 2031.8h0M1852.2 1954.5h0M1781.3 2050.6h0M1681.4 2040.8h0M1813.5 2085.1h0M1587.1 2158.9h0M1611.1 2012.2h0M1774.1 1973.5h0M1908.6 1922.9h0M1667 1964.4h0M1666.7 1870.3h0M1666.5 1972.2h0M1668.9 2058.6h0M1669.8 1989.9h0M1666.5 1942h0M1667.4 1995.3h0M1665.3 1901.7h0M1665.8 1962.4h0M1665.1 1859.1h0M1668.1 2088h0M1666.6 1917.2h0M1665.7 2187.1h0M1666.5 2030.3h0M1666.2 2024.8h0M1666.2 1876.1h0M1667.5 1921.4h0M1666.4 1903h0M1665.6 1958.2h0M1666.7 1882.6h0M1666.9 2065.6h0M1667.2 1853.3h0M1655.4 1996.2h0M1785 1997.7h0M1710.3 1997.7h0M1557 1996.2h0M1771.1 1996.5h0M1865.5 1997h0M1726 1996.4h0M1524.1 1996.1h0M1717.3 1996.4h0M1485.5 1998h0M1473.3 1997.6h0M1851.9 1996.1h0M1859.9 1997.5h0M1475.7 1995h0M1678.5 1996.5h0M1594.2 1995.8h0M1804.2 1996.2h0M1848.4 1997.4h0" fill="none" stroke="#000" stroke-width="4.5" stroke-linecap="round" stroke-opacity="0.43"/>
<path d="M1711.3 1986.2h0M1630.5 2011.4h0M1679 2007.1h0M1742.6 1990.3h0M1641 2054.4h0M1658.8 1971.3h0M1657.8 1976.6h0M1733.5 1982.7h0M1692.5 1959.4h0M1717.8 1967h0M1614.8 2037.2h0M1690.7 1988.1h0M1652.6 1991.3h0M1712.7 1985.2h0M1702.2 1977.7h0M1710.8 1994.2h0M1600.4 1963.7h0M1687.3 2036.9h0M1638.6 1976.9h0M1646.9 2024h0M1636.8 2033.5h0M1709.3 2014.9h0M1709.6 2000.3h0M1655.4 2019.1h0M1627.3 1992.9h0M1690.8 1990h0M1638.6 2021h0M1722 1961.9h0M1598.1 2035.4h0M1637.2 2018.4h0M1708 1973.6h0M1677.8 1978.3h0M1713.4 1993.2h0M1708 1970.3h0M1661.6 1948.7h0M1643.3 2017h0M1643.2 2005.7h0M1699 1988.8h0M1633.3 1990.9h0M1687.1 2005.9h0M1660 1962.3h0M1699.5 1969h0M1727.7 1982.4h0M1622.1 2047.3h0M1656.1 1992.9h0M1623.3 2021h0M1704.3 1999.6h0M1628.7 2014.2h0M1676.8 1975.5h0M1688.4 1988.2h0M1727.6 1981.5h0M1723.5 1994h0M1649.6 2013.7h0M1698.2 2013.6h0M1676.4 1990.4h0M1647.1 2016.6h0M1687.9 2002.8h0M1749.8 1974.5h0M1711.1 1969h0M1675.2 1987.8h0M1667.5 2031.8h0M1677.3 1996.5h0M1642 2004.2h0M1674 1989.7h0M1762.4 1968.8h0M1706.9 1974.4h0M1629.1 2001.6h0M1684.8 2008.5h0M1683.3 1988.6h0M1670.3 2003.7h0M1674.2 2024.1h0M1625.9 2048.9h0M1692.6 1988.3h0M1684.4 1993.7h0M1644.2 1992.6h0M1652.9 2002.6h0M1706.3 2003.6h0M1660.4 2004.6h0M1603.2 2003.1h0M1673.7 2012.7h0M1658.1 1992.2h0M1692 2002.1h0M1670.1 1995.1h0M1660.8 1979.2h0M1655.6 2029.7h0M1670.6 1988.7h0M1698.3 2000.1h0M1648.6 2038.8h0M1715.9 1994.1h0M1713.4 2006.1h0M1691.5 2003.5h0M1676.1 2011.6h0M1636.1 1990.8h0M1690.2 1992h0M1653.3 2032.4h0M1625.6 2043.5h0M1681.9 1987.4h0M1691.5 2025.9h0M1695 1987.4h0M1641.6 2007.5h0M1686 1997.5h0M1667.4 2045.8h0M1664.7 1979.4h0M1697.9 1985.1h0M1700.5 1981.3h0M1641.1 1996.5h0M1697.4 1983.9h0M1631.4 1992h0M1613.9 1983.6h0M1709.2 1960.8h0M1645.9 1997.9h0M1730.5 2014.4h0M1680 1947.3h0M1632.3 1976.7h0M1653 2016.5h0M1670 1970.3h0M1638.1 1990h0M1669.5 1993.7h0M1655.1 2049.1h0M1620.5 1994.2h0M1694.2 1978.1h0M1663.1 1988.3h0M1696.5 2019.5h0M1690.6 2002h0M1691.5 2016.3h0M1655.1 2009.6h0M1625.5 1996.8h0M1674.3 2013.3h0M1686.9 1982h0M1631 1990h0M1605.9 2028.8h0M1654.9 2018.9h0M1694.2 2004.1h0M1712.2 1972h0M1669.2 2013.9h0M1682 2001h0M1701.7 1978.5h0M1749.1 2005.7h0M1716.3 1991.9h0M1597.2 2013.5h0M1680.8 1990h0M1661.5 1963.9h0M1654.8 2032.5h0M1624.2 2033.8h0M1725.3 1977.1h0M1727.5 2022.4h0M1691.3 1995.5h0M1703.9 2017.1h0M1662.2 2027.4h0M1678.8 2001.3h0M1678.3 1955.5h0M1648.5 2024.5h0M1626.2 2025.1h0M1679 1994.5h0M1665.9 1998.6h0M1701.7 2016.2h0M1700.1 1980.2h0M1657.8 1990.9h0M1666.9 1995.1h0M1726.1 2023.1h0M1652.7 1995.2h0M1691.1 2011.2h0M1694.9 1974.9h0M1686 1998.7h0M1685.9 2017h0M1684.5 2008.9h0M1660.9 2004.1h0M1665.8 2007.9h0M1635.1 2005h0M1674.7 1978.7h0M1687.4 1997.6h0M1649 1971.7h0M1691.2 2016.7h0M1647.4 2015.5h0M1637.1 2020h0M1684.1 1999.5h0M1689.8 1977.6h0M1690.7 1972h0M1749.6 2002.3h0M1646.9 1996.5h0M1629.9 1992.4h0M1628.4 2003.9h0M1715.4 1947h0M1733.7 1989.5h0M1663.8 1983.2h0M1678.9 2012h0M1702.7 1990.8h0M1640.3 1983.3h0M1674.1 1975.9h0M1650.2 1988.7h0M1652.3 2008h0M1662.6 1964.2h0M1604.4 2004.4h0M1720.1 1969.1h0M1634.1 2022.5h0M1632.1 1994.3h0M1700.2 1989h0M1668.6 2000.6h0M1654.1 1998.7h0M1665.7 2002.2h0M1635.1 2024.1h0M1664.7 2003.4h0M1594 1999.5h0M1724.7 1969.5h0M1633.9 2025.3h0M1727.8 1999.9h0M1653.3 2055.8h0M1656.7 1976.4h0M1676.3 1964.3h0M1690.8 1993.9h0M1660.6 1969.5h0M1702.6 1977.7h0M1702 2005.9h0M1702.8 1991.2h0M1668.8 1989h0M1652.5 1965.2h0M1622.9 2009.7h0M1669.5 1995.6h0M1697.1 2012.7h0M1742.4 1972.6h0M1679.9 1980.4h0M1613.7 2004.5h0M1703.6 1994.2h0M1631.7 2042.6h0M1640.6 2004.2h0M1742.8 1976.8h0M1667.2 2020.2h0M1653 1981.9h0M1709.9 1983.9h0M1633.9 2003.6h0M1640.6 2022h0M1661.8 2016.4h0M1640 2044.2h0M1656.8 1955.4h0M1671.1 2016.1h0M1658.6 2013.1h0M1734.3 2037.5h0M1734.9 1949.3h0M1711.3 1965h0M1712.7 1963.5h0M1685 2022.7h0M1678.8 1968.8h0M1651 1991.1h0M1651.4 2021.1h0M1679.6 1998.9h0M1701.6 1999.8h0M1668.3 2005.1h0M1659.1 1985.8h0M1668.1 1962.8h0M1687.2 1982.8h0M1712.8 1978h0M1645 2022.5h0M1710.5 2008.9h0M1646.8 1997.9h0M1683.6 1982.3h0M1680.4 1981h0M1664.6 1989.6h0M1688.2 1973.3h0M1666.9 1981.8h0M1677.3 2012.9h0M1702.2 2008h0M1665.8 1995.6h0M1739.7 2019.3h0M1592.5 2008.5h0M1787.5 1978.3h0M1672.9 1986.9h0M1660.3 2006.7h0M1643.9 1991.7h0M1684.6 1967.4h0M1715.3 2003.3h0M1635.4 2039h0M1634.7 2009.4h0M1643.9 2021.5h0M1630.8 2010.2h0M1671 1972.1h0M1671.2 2017.8h0M1719.7 1989.6h0M1762.9 1947.4h0M1665.6 2020.7h0M1653.4 2048.8h0M1678.5 2033.4h0M1587.5 2000h0M1685.7 1997.7h0M1693.3 2004h0M1704.8 2007.2h0M1586.5 2022.8h0M1631.1 1977.2h0M1753.4 2034h0M1655.3 1999.5h0M1748.9 2012.3h0M1653.1 2033.6h0M1700.7 1988.3h0M1644.1 1972.1h0M1726.7 1998.5h0M1712.4 1958.6h0M1670.7 2015.1h0M1674.2 1982.3h0M1588 2010.1h0M1680 2025h0M1721.6 1982.7h0M1599.7 2005.3h0M1671.1 1982.6h0M1695.3 1965.3h0M1682.5 2022.4h0M1723.6 1997.2h0M1757.1 1993h0M1672.3 2024.5h0M1670.6 2007.7h0M1675.2 1983.1h0M1658.3 1993.9h0M1657.5 2039.7h0M1694.5 2008.1h0M1626.6 2000.5h0M1660.5 2013.8h0M1640.8 2003.3h0M1658.8 2019.8h0M1691.3 1992.7h0M1680.1 1984h0M1679.9 1980.4h0M1612.6 2010.4h0M1647.9 2019.5h0M1658.1 2010.9h0M1670.4 2038.6h0M1682.2 1994.1h0M1606.2 2031.5h0M1640.2 1983.7h0M1701.1 2022.1h0M1654.4 2028.5h0M1704.3 1993.2h0M1677.6 2000.3h0M1633.3 1995.4h0M1648.9 1957.6h0M1667 1976.5h0M1665.3 2019.8h0M1703.3 1985.4h0M1717 2005.8h0M1739.2 1962.8h0M1677.1 1981.5h0M1691 2039.3h0M1651.4 1957h0M1697.6 1970.3h0M1677.4 1958.3h0M1726.1 1956.7h0M1643.9 2007h0M1636.3 2033.8h0M1721 1992h0M1665.8 1970.3h0M1606.1 2029.6h0M1695.3 2002.7h0M1609.6 1984.5h0M1684.7 2008.5h0M1649 1962.2h0M1680.3 1992.5h0M1674.8 1993h0M1654.7 2014.4h0M1664.2 2000.5h0M1626.1 2020.5h0M1692.2 1952.3h0M1710.2 1972.6h0M1701.4 1984.7h0M1654.8 2033.7h0M1598.5 1971.7h0M1705.4 1969.6h0M1701.5 1998.1h0M1691.7 2032.4h0M1640.9 2011.1h0M1668.4 1997.4h0M1631.7 1979.4h0M1676.3 2006.4h0M1671.1 1972.4h0M1679 1986.2h0M1692.2 1950.6h0M1654.1 2013h0M1646.2 2009.9h0M1696 1945.6h0M1671.9 1973.3h0M1718.1 2020.1h0M1632.9 2017.6h0M1663 2031.2h0M1693.1 1978.6h0M1747.2 2019.4h0M1621.2 2060.5h0M1650.6 2000.3h0M1745 1990.4h0M1636.9 2023.2h0M1695.8 1990.5h0M1695.1 2031.6h0M1675.2 1958.7h0M1625.6 1959.4h0M1636.4 2020.5h0M1612.1 2010.3h0M1660 2023.1h0M1654.4 2027.4h0M1696 1966.6h0M1705.5 1994.6h0M1731.2 1996.7h0M1593.7 1991.8h0M1717.8 2012.3h0M1697 2017.5h0M1682.2 1977.1h0M1589.6 2024.2h0M1649.6 2012.7h0M1652.1 2006.7h0M1653.3 1998.1h0M1687.5 1976.2h0M1699.4 1995h0M1744.3 1976.4h0M1658.2 2010.6h0M1689.8 1963.2h0M1661 2008.6h0M1638.7 1998.7h0M1646.3 2032.3h0M1645.7 1981.7h0M1713.4 2004.1h0M1674.3 1996.5h0M1649.7 1951.7h0M1685.8 1985.4h0M1605.6 1996.1h0M1649.2 2004h0M1710.3 1989.5h0M1668.6 1984.8h0M1653.7 1999.5h0M1637.8 2028.5h0M1671.1 2004.9h0M1709.7 2022h0M1660.1 1961.3h0M1714.8 1966.6h0M1729.8 2001.5h0M1565.9 2063.6h0M1695.6 1997.2h0M1665.5 1974.6h0M1734.8 1987h0M1664.2 1942h0M1714.2 2028h0M1636.6 2015.3h0M1677.2 2010.1h0M1691.9 2047h0M1663.1 1993h0M1699.3 2059.3h0M1628.5 2010.6h0M1801.1 2039.3h0M1653.7 2012.3h0M1614.4 1984.4h0M1686 1995.7h0M1560.4 2008.7h0M1682 2047.5h0M1598.8 2028h0M1734.5 2035.1h0M1720.9 2097.5h0M1659.5 2114.7h0M1657.1 1996.3h0M1686.5 1980.2h0M1673.8 1928.7h0M1729.8 1998h0M1681.7 1980.3h0M1623.5 2022.6h0M1688 1953.8h0M1522.6 1993.4h0M1748.1 1957.8h0M1682.4 2051.5h0M1638 2031h0M1711.6 1971.3h0M1614 1993.3h0M1633.3 2007.5h0M1625.9 1994.2h0M1750.6 2035.5h0M1660.2 2015.7h0M1654.1 2059.5h0M1657.7 1979.7h0M1561.8 1996.3h0M1705.6 2055.2h0M1592.1 1986.8h0M1697.3 1926.1h0M1681.1 2081.4h0M1667.3 2019.2h0M1576.5 2056.1h0M1616.1 2009.3h0M1575.9 2035.7h0M1726.9 1926.1h0M1706.7 1978.2h0M1713.8 2088.4h0M1695.9 1930.7h0M1636.8 1993.3h0M1600.8 2053.3h0M1717.3 1967.4h0M1720.5 2019.7h0M1637.6 2058.5h0M1670.6 2029h0M1688.4 2048.4h0M1645.8 2004.2h0M1666.9 2042.5h0M1644.1 2065.2h0M1600.7 2060.1h0M1655.2 1969.1h0M1647.6 1994h0M1724.1 1977h0M1592.4 2049.3h0M1702 2013.3h0M1630.2 2031.9h0M1757.2 1977.3h0M1654.1 2094.5h0M1773.7 1979.1h0M1842.1 2021.5h0M1580.1 1974.2h0M1635 2033.6h0M1665.1 2038h0M1686.5 1957.7h0M1624.8 2009.3h0M1715.6 2094.2h0M1828.4 2014.6h0M1659.3 2038.2h0M1789.4 1989.7h0M1613.3 2022.5h0M1768.8 1977.5h0M1716.5 1984.2h0M1717.5 1992.8h0M1574.9 2058.2h0M1738.9 1953.2h0M1713.9 1920.9h0M1664.1 1993.8h0M1666.8 2071.4h0M1722.7 2044.2h0M1760.7 1933.4h0M1679.7 2012.8h0M1803.6 1957.1h0M1703.7 1953.2h0M1612.1 1999.2h0M1725.6 1986.8h0M1670.7 1908.9h0M1668.6 2025h0M1655.3 2087.3h0M1656.5 1952.6h0M1705 1913.1h0M1748.5 1958.3h0M1729.7 2006.7h0M1692.9 1975.4h0M1601.3 2084.1h0M1607 1949.1h0M1760.6 1980.5h0M1661.7 1960.8h0M1649 1955.8h0M1685.4 1979.6h0M1685.2 1992h0M1669 2062.4h0M1683.6 1925.4h0M1664.9 1993.9h0M1675 1936.8h0M1672.7 1966h0M1599.6 1948.6h0M1607.1 2051.6h0M1699.3 1980.3h0M1564.1 1982h0M1710.4 1991.9h0M1623.2 1969.1h0M1632.7 1940.8h0M1574.1 2017.1h0M1690.1 1963.3h0M1663.2 1982.6h0M1595.7 2036.9h0M1626.1 2009.1h0M1594.9 2045.8h0M1662.3 2022h0M1739.6 2031.3h0M1660.8 2027.8h0M1701.6 2000.2h0M1673.6 2039.4h0M1626.9 2003.2h0M1730.2 1998.3h0M1644.9 2032.7h0M1645 2017.2h0M1621.7 2079.7h0M1686.9 1976.5h0M1731 2038.3h0M1617.3 2038.9h0M1558 2028h0M1592.5 1973.7h0M1736.1 1937.7h0M1734.4 1977h0M1679.9 1916.3h0M1791 2001.8h0M1806.5 1976.1h0M1599.2 2042h0M1662.2 2035.7h0M1746.6 1961.5h0M1590.9 2032.5h0M1661.9 1940.8h0M1687.6 1940.3h0M1658.1 1983.8h0M1645.5 2008.1h0M1613.1 2001.5h0M1704.5 2016.2h0M1747 2070.1h0M1648.6 1958.1h0M1653.1 2012.2h0M1680.3 1989.8h0M1660.5 1976.2h0M1671.8 2079.2h0M1587.1 2032.9h0M1593.6 2043.7h0M1717.5 1964.2h0M1676 1948.1h0M1647.6 1987.2h0M1701.4 1970.7h0M1696.6 2046.3h0M1665 2007.5h0M1743.1 1973.8h0M1809.2 1975.7h0M1626.8 2028.2h0M1699.1 2010h0M1629.7 2014.5h0M1672 2032.8h0M1561.7 2007.5h0M1813 1931.6h0M1666.4 1993h0M1735 1940.9h0M1725.5 2034.6h0M1657.3 1926.7h0M1599.2 2015.7h0M1740.2 1985.8h0M1691.5 1953h0M1715.7 1978.2h0M1619.9 1996.8h0M1478 1943.1h0M1787.5 1985.8h0M1645 2126.5h0M1782.9 1996.2h0M1675.2 1992.9h0M1643.2 2032.6h0M1694.4 2020.9h0M1710.7 2031.3h0M1776.8 1932.9h0M1657.2 1993.8h0M1703.5 2029.8h0M1596.1 2031h0M1712.9 1963.9h0M1619.9 1963.1h0M1664.4 2016.3h0M1665.2 2008.5h0M1647.2 1973.8h0M1723.5 1898.4h0M1657.6 1988.1h0M1713.7 2063.6h0M1684.5 2040.4h0M1761.9 2002h0M1692.1 2006.4h0M1697.4 1994h0M1576.9 1985h0M1590.7 1917.2h0M1677.7 1980.6h0M1711.5 2016.8h0M1643 1993.5h0M1664.9 1989.3h0M1672.2 2012.6h0M1692.1 2018.1h0M1711.1 1955h0M1613 1971.9h0M1783.1 2046.6h0M1633.6 2027.4h0M1571.2 2071.5h0M1766.9 1994h0M1685.9 2070.9h0M1561.9 2034.7h0M1639.4 1984h0M1698.8 1980.1h0M1614.9 1986.1h0M1821.5 1980.8h0M1762.2 1960.8h0M1784.4 1978.5h0M1713.4 2051.6h0M1680.4 1995.2h0M1600.9 2059.9h0M1763.9 2018.8h0M1622.3 2093.6h0M1688.5 1968.6h0M1684.8 2021.3h0M1554.3 1990.9h0M1720.3 1938.4h0M1651.2 1982h0M1645.5 2050.5h0M1651.1 2038h0M1650.1 2056.9h0M1662.1 2009.4h0M1648.2 2026h0M1667.8 1985.4h0M1636.7 2023.5h0M1676.4 1987.5h0M1621.5 2032.1h0M1799.6 2030.9h0M1622.8 1987.6h0M1647.6 1987.7h0M1614.6 2002.7h0M1698.6 1969.6h0M1797.6 1984.4h0M1691.4 2009.3h0M1606.9 2017.7h0M1698.8 1961.2h0M1709.2 1960.6h0M1632 2150.8h0M1732.8 1995.8h0M1729 1999.1h0M1636.4 1966.9h0M1720.3 1928.1h0M1718.6 2027.6h0M1571 2007.9h0M1738.2 1919h0M1657.7 2047.8h0M1803 1994.5h0M1642.3 1969.6h0M1617 1941.3h0M1600.4 2057.7h0M1698.8 1948.1h0M1669 1990.5h0M1736.8 2007.8h0M1635.9 2043.7h0M1603.2 1923.9h0M1714 1964.4h0M1731.3 2001.3h0M1773.9 1936.9h0M1740.4 1972.5h0M1783.4 2022.5h0M1598.9 1988.1h0M1601.5 2084.2h0M1597.4 2023.7h0M1648.2 1984.3h0M1633.2 2007.8h0M1716.4 1989.4h0M1510.5 2018.7h0M1711.1 1907h0M1650.9 2054.9h0M1654.7 1982.3h0M1577.8 2021.5h0M1627.9 2009.8h0M1728.2 2055h0M1845.7 1973.8h0M1691.7 2045.4h0M1612.5 2050.1h0M1734 1968h0M1719.6 1946.8h0M1695.2 1995.7h0M1670.8 2037.4h0M1643.4 2064.8h0M1656.1 1979.6h0M1698.2 2018.8h0M1717.4 2051.8h0M1763.5 2002.4h0M1693.7 2001.6h0M1618.4 2027.2h0M1774.3 2034h0M1717.6 2016.1h0M1707.2 1991.7h0M1661.1 1996.7h0M1760 2069.4h0M1664.2 1975.7h0M1671.1 2082.9h0M1708.6 2025.8h0M1718 1953.2h0M1757.1 1988.3h0M1786.2 1976.3h0M1681.9 1958.9h0M1603.1 2035.8h0M1694.6 2019.7h0M1600 2005h0M1725.1 1980.4h0M1769.5 1978.9h0M1611.4 1943.9h0M1641.7 1990.2h0M1784.9 2016.8h0M1723.4 2054.4h0M1695.6 1955.7h0M1743.8 1884.2h0M1713.9 1970.2h0M1669.6 2065.6h0M1602 2071.8h0M1700.1 2017.7h0M1624.7 2070.6h0M1605.4 2032.5h0M1733.5 2058.2h0M1686.9 1998.4h0M1673.8 1941.5h0M1673.8 1986.5h0M1698.1 1991.6h0M1601.9 1975.2h0M1573.2 1961.6h0M1699.7 2004h0M1608 2072.3h0M1558.4 2057.2h0M1712.2 1982h0M1669.5 2041.5h0M1626.7 2067.3h0M1698.8 1930.6h0M1666.3 1989.9h0M1600.1 2025.3h0M1711.7 1955.3h0M1667.8 1954.8h0M1730.9 2012h0M1695.7 1981.3h0M1612 2031.4h0M1565.6 1975.3h0M1627.6 1973.6h0M1666.9 1919.7h0M1787.9 1942.5h0M1636.5 2002.6h0M1579.8 1948.3h0M1660.3 2006.3h0M1710.5 1999.2h0M1719.9 2021.7h0M1632.7 1977.9h0M1740.5 1983.2h0M1730.7 1957.9h0M1665.1 1991.3h0M1676 1994.1h0M1686.3 2054h0M1724.7 1994.3h0M1640.9 2005h0M1681.9 2038.9h0M1720 1996.2h0M1694.8 2009h0M1542 1955.1h0M1664 1975.5h0M1668.3 1979.8h0M1703.8 1974.4h0M1679.9 2048.4h0M1682.5 1985.4h0M1603.8 2041.1h0M1692.8 1969.9h0M1701.3 2015.8h0M1653.7 2009.7h0M1734.6 1998h0M1678.2 2006.7h0M1676.6 2056.1h0M1666.4 1934.5h0M1640.2 2002.3h0M1734.1 1915.5h0M1684.8 1975.1h0M1626.9 1950.2h0M1710.2 1994.3h0M1608.8 2065h0M1664.3 1985.4h0M1646 1941.1h0M1628.5 1935.8h0M1575.6 1993.7h0M1701.3 1981h0M1634.8 1974.6h0M1706.2 2063.4h0M1625.7 1991.3h0M1647.2 2008.2h0M1711.3 1966.6h0M1646.8 2074.6h0M1620.3 2035h0M1679.9 1992.5h0M1545.6 2027.2h0M1720.3 1977.2h0M1785.6 1994.3h0M1760.5 1961.6h0M1650.9 2019.6h0M1713.1 1938.7h0M1689.6 1996.3h0M1680.9 1939.9h0M1668.6 2003.4h0M1638.3 2024.5h0M1733.7 1916.4h0M1749.1 2004h0M1609.8 1958.1h0M1682.7 1992.4h0M1674 1943.7h0M1669.5 2025.3h0M1618.5 2024.9h0M1686.8 2014.1h0M1725.5 1939h0M1602.2 2068.5h0M1655.6 2061.3h0M1562.8 2004.1h0M1699.1 1976.3h0M1616.5 1954.1h0M1634.8 2006.6h0M1615.3 2038.3h0M1691.6 1983.5h0M1578.1 1995.1h0M1633 1995.5h0M1633.8 1970.2h0M1740 1981.9h0M1604.1 1901.9h0M1634.7 2029.7h0M1634.7 1985.6h0M1634 1996.4h0M1705.9 2008.6h0M1715.1 2018.3h0M1611.8 1983.8h0M1636.4 1945.1h0M1673.6 2009h0M1646.2 2007.2h0M1657.8 1999.2h0M1687.9 1909.6h0M1660.7 1998h0M1597.4 1989h0M1739.8 2044.2h0M1777.6 1947.9h0M1623 2055.9h0M1678.1 1978h0M1545.3 2030.4h0M1837.7 2005.8h0M1641.5 1975h0M1727.4 1917.7h0M1609.3 2019.7h0M1626.3 1992h0M1597.5 2105.7h0M1667.3 1997.8h0M1724.1 1948.8h0M1731.3 1958.1h0M1639.9 2014.1h0M1718.4 1955.9h0M1722.6 2022.3h0M1708.9 1881.2h0M1620.5 2057.9h0M1808.6 1943.1h0M1810.4 1931.5h0M1703.2 2005h0M1575 2042.4h0M1721 1917.2h0M1606.6 2058.5h0M1736.6 2008.4h0M1723.9 1953.2h0M1747.6 2058.1h0M1678.1 1957.4h0M1713.1 1895.1h0M1697.1 1978.3h0M1657.7 1910.8h0M1638.3 1974.8h0M1596.3 2049.7h0M1736.2 2001.3h0M1648 2047.7h0M1636.9 2013.2h0M1578 2070.5h0M1637.4 1967.6h0M1716.6 1952.4h0M1663.6 2029.3h0M1689.5 1932.4h0M1671.8 1952.2h0M1644.8 1992.3h0M1664.3 2032h0M1726.7 1998.8h0M1587.5 2049.5h0M1786.2 1960.1h0M1625.7 2004.3h0M1694.5 2001.7h0M1695.6 1921.9h0M1697.2 2028.4h0M1590.7 2033h0M1611.3 1964.9h0M1744.3 1862.2h0M1643.1 1951.3h0M1633.1 1940.8h0M1667.2 1968.2h0M1742.6 1937.5h0M1682.4 1968h0M1714.4 2043.8h0M1635 2067.2h0M1679 1993.9h0M1602.1 1956.1h0M1723.8 1949.7h0M1637.9 2015.6h0M1720 1991.1h0M1643.1 1957.9h0M1679.4 1981.5h0M1647.7 2096.9h0M1668.3 1974.8h0M1652.9 2005.6h0M1618.5 2006.2h0M1682 1951.5h0M1680.7 2030h0M1623.2 1983.1h0M1680.1 2042.4h0M1697.3 1976.1h0M1647.1 1962.6h0M1593.6 1982.6h0M1624.6 1981.3h0M1653.6 2016.5h0M1681 1993.6h0M1815.8 1982.4h0M1608 2015h0M1695.7 1964.5h0M1669.9 1993.5h0M1706.5 1908.2h0M1652.2 1972.2h0M1643.7 1989h0M1647.2 1972h0M1730.7 1887.4h0M1624.9 1986.5h0M1669.9 1975.8h0M1504.4 2107.4h0M1747.8 1917h0M1627.4 1998.4h0M1676.7 1943.3h0M1700.7 2033.9h0M1684.6 2050.9h0M1711.4 1942.6h0M1745.2 1997.4h0M1644.2 2075.3h0M1656.2 1943.2h0M1689.6 1968.6h0M1537 2061.1h0M1627.1 2009.1h0M1694.9 1974h0M1708.3 2015h0M1691.3 2023.1h0M1661 2002.2h0M1714.1 1990h0M1607.9 2003.9h0M1723.9 1953.6h0M1635.8 1924h0M1710.9 1999h0M1722.8 1967.3h0M1662.1 1989.6h0M1658.8 1966.7h0M1713.2 2049.3h0M1667.6 1968.6h0M1676.4 1998.8h0M1707.5 2064.6h0M1730.5 1928.2h0M1713.2 1976.2h0M1772.9 1983h0M1555.3 2009h0M1635.1 1990.9h0M1583.8 2059.8h0M1774.4 1991.7h0M1766.5 1977.2h0M1651.4 2012.3h0M1726.4 1969.8h0M1657.1 1965.7h0M1649.2 1913.4h0M1745.2 1925.5h0M1630.6 1954.8h0M1768.3 2011.5h0M1665.4 1956.7h0M1564.8 2054.6h0M1648 1983.9h0M1594.1 2030.7h0M1638.8 1978.8h0M1729.7 1941.2h0M1680.6 1959.4h0M1756.5 1937.8h0M1614.3 1971.5h0M1681 2081.6h0M1553.5 2012.5h0M1569.8 1958.2h0M1691.7 1979h0M1731.9 1988.4h0M1672.3 2029.5h0M1627.8 2017.1h0M1571.4 2054.3h0M1880.3 2033.4h0M1707.5 1977.7h0M1636.7 1946.3h0M1636.2 2024.5h0M1751.5 1992.4h0M1706.7 2015.9h0M1640.7 1988h0M1615.5 1992.6h0M1684.5 1958.7h0M1692 2048.3h0M1704.1 1989.7h0M1723 2038.6h0M1571 2052.1h0M1627.7 1890.8h0M1714.4 1978.4h0M1647 2024h0M1628.5 1954.1h0M1681.5 2018.6h0M1770.1 1971.4h0M1583.6 2055.5h0M1724.6 1920.8h0M1639.9 2063h0M1612 2009h0M1700.2 1996.9h0M1701.9 2043.5h0M1721.1 2010.7h0M1681.6 2045.8h0M1694.8 1952.6h0M1737.3 2017.5h0M1688.6 1938.2h0M1817 1975.3h0M1603.1 1993.8h0M1664.7 1972.6h0M1666.8 2056.8h0M1655.8 2006h0M1597.6 1945.3h0M1640.7 2035.5h0M1585.9 2004.9h0M1656.7 1977.1h0M1681.2 1938.1h0M1555.9 2058.8h0M1655.4 2007h0M1642.4 2005.3h0M1570.9 1960h0M1642.3 2090.5h0M1667.2 2007.7h0M1672 2010.5h0M1658.5 2051.9h0M1650 2073.1h0M1686.4 2048.9h0M1566 2011.1h0M1631.5 2032.1h0M1649.3 1995.7h0M1664.1 2018h0M1706.7 2017.4h0M1695.2 1987.6h0M1677.5 2002h0M1604.5 2076.7h0M1672.9 2008.8h0M1669.2 2011.1h0M1750.5 2028.4h0M1605 2039.2h0M1749.4 1995h0M1680 1913.6h0M1665 1995.4h0M1691.1 1971.7h0M1678.1 2032.6h0M1663.8 2028.4h0M1631.4 1971.2h0M1648.3 2040h0M1658.7 2054.1h0M1607.4 1972.9h0M1597.4 1941.3h0M1534.8 1988.1h0M1619.5 1976.8h0M1747.7 2039.2h0M1634.5 2118.6h0M1594.2 2052.3h0M1626.5 1997.6h0M1708 1991.3h0M1678.4 1934.6h0M1572.9 2044.6h0M1555.1 1964.4h0M1670.2 1970.4h0M1600.5 2010.1h0M1473.9 2110.9h0M1674 1955.3h0M1757.9 2026.3h0M1682.5 2014.7h0M1614.2 1997.9h0M1610.4 1976.6h0M1591.3 2026.2h0M1678.3 2040.6h0M1639.8 2030.4h0M1614.5 1995h0M1655.9 2021.6h0M1675.6 1965.6h0M1673.7 2019h0M1596 2056.3h0M1602 1996.5h0M1644.9 1987.5h0M1729.5 1966h0M1679.3 1984.7h0M1661.4 2055.3h0M1562.3 2031.3h0M1651.2 2065h0M1668.6 1947.6h0M1716.8 1998.1h0M1731.1 1979.2h0M1706 1991.6h0M1658.1 1928.9h0M1657.4 2004.3h0M1659.2 1998.1h0M1640.5 2010.3h0M1731.3 1977.7h0M1666.7 2007.2h0M1664.9 2016.4h0M1810.1 1958.8h0M1743.1 2006.4h0M1642.9 1975.9h0M1673.5 2003.3h0M1693.3 2038h0M1701.8 2042.9h0M1617.2 2051.2h0M1657.3 1969.6h0M1642.9 2020.1h0M1694.9 1937.1h0M1688.3 1997.1h0M1839.3 1996.5h0M1679.4 2016h0M1752.5 2073.4h0M1747.8 1919.9h0M1685.4 2035.4h0M1724.5 2012.3h0M1717.3 1966.8h0M1701.9 2058.2h0M1735.9 1997.1h0M1763.9 2002.1h0M1660.1 1962.2h0M1764.7 2065.8h0M1627.3 1955.1h0M1577.2 1938.5h0M1604.7 2026.8h0M1790 1991.2h0M1650.6 2042.9h0M1688.9 1959.4h0M1704.3 1946h0M1565.7 2083.5h0M1609.7 2003.1h0M1726.1 2010.1h0M1642.7 1938.4h0M1651.4 2049h0M1667.2 2105.2h0M1619.3 1973.6h0M1620.1 1978.2h0M1705.5 1904.7h0M1757 2047.1h0M1582.9 2052.2h0M1675.5 1964.7h0M1724.3 1998.5h0M1660.1 2059.3h0M1684.9 2015.9h0M1479.4 2163.5h0M1711.7 1917.9h0M1596 2096.2h0M1682.2 1957.8h0M1686.7 2067.8h0M1715.8 2000.2h0M1689.5 2056.5h0M1780.8 1943.5h0M1574.1 2052.3h0M1620.9 1980.4h0M1670 2057.7h0M1773.2 2006.9h0M1627.3 1929.7h0M1630.8 2048.4h0M1575.8 1985.8h0M1774.9 1977h0M1756.6 1917.3h0M1834.6 2010.8h0M1659.1 1988.2h0M1599.8 2036.2h0M1728.3 2038.9h0M1605.6 2066.5h0M1569.4 2135.9h0M1626.5 2006h0M1801.7 1918.9h0M1642.1 1976.5h0M1659.9 1951.9h0M1644.2 2017.9h0M1594.6 1973.4h0M1727.1 2109.9h0M1726 1974.7h0M1687.7 1988.3h0M1637.8 2075h0M1664.2 1921h0M1634.7 1967.1h0M1662 2067.5h0M1638.3 2083.3h0M1656.4 2045.4h0M1755.2 1905.7h0M1753.3 2008.4h0M1682.8 2106.6h0M1701.9 2040.7h0M1769.6 1970h0M1819.3 1986.2h0M1686.6 2026.4h0M1665.1 2018.7h0M1671.7 1990.6h0M1721.5 1933.6h0M1671.3 2050.6h0M1718.6 2059h0M1639.8 1991.6h0M1796.9 1937.7h0M1710.4 2047.4h0M1645.4 1942.4h0M1717.3 2104.9h0M1705.9 1925.1h0M1787.1 1885.1h0M1640.2 2053.1h0M1774.7 2075.4h0M1726.7 2029.6h0M1616.9 1980.2h0M1607.6 2018.2h0M1741.1 2054.1h0M1733.3 2036.9h0M1571.1 2031.3h0M1731.8 2036.9h0M1593.6 2002h0M1478.9 2061.2h0M1662.7 1949.3h0M1585.7 2071.9h0M1670.2 2098.5h0M1727.1 2073.6h0M1712.8 2003.9h0M1637.9 1994.1h0M1647.5 1993.8h0M1693.6 2012.8h0M1589.4 2028.1h0M1676.9 2078.2h0M1652.3 2010.7h0M1834.5 1977.1h0M1601 2095h0M1609.4 2069.3h0M1733.5 1931.3h0M1677.3 2001.6h0M1660.8 2084.2h0M1569 2082.2h0M1659 2068.7h0M1588.4 2004.7h0M1630.9 1996.7h0M1667.5 2017.1h0M1511.5 2046.8h0M1635.1 1968h0M1696.8 2029.1h0M1646.4 2005.4h0M1816.3 1988.8h0M1617.7 1990h0M1627.2 1999.7h0M1551.3 2033h0M1640.6 2018.9h0M1629.6 2064.2h0M1666.9 2021.4h0M1704.2 1954.8h0M1606.8 1924h0M1798.2 2010h0M1628.3 2063.8h0M1690.5 1929.4h0M1600 2114.9h0M1758.1 1931.1h0M1559.8 2059.9h0M1751 1990.2h0M1658.3 2014.9h0M1747.2 2006.1h0M1717.5 2000.2h0M1715.3 2061.8h0M1609.8 1974.1h0M1710 1943.8h0M1782.7 1856.7h0M1762.9 1955.6h0M1642.4 2054.7h0M1828.9 2058.6h0M1693.4 1986.6h0M1665 2049.6h0M1601.5 1962.4h0M1724.5 1978.9h0M1847.2 1933h0M1734.7 1970.5h0M1610.8 1945.2h0M1717.9 2003.6h0M1662.4 1958.6h0M1671.7 2012.7h0M1752.8 1979.4h0M1747.3 2006h0M1755.9 1959.9h0M1558.3 2084.2h0M1739.5 2098h0M1721.5 1962.3h0M1639.6 2027.2h0M1714.2 1965.5h0M1653.4 2057.3h0M1554.1 1927.3h0M1594.5 2079.9h0M1635.5 1968.6h0M1666.7 1989h0M1622.1 2003.7h0M1586.9 2096h0M1679.1 2004.2h0M1702.5 2014.7h0M1639.1 2026.6h0M1760.6 1884.8h0M1623.8 2071.9h0M1599.4 1997.6h0M1536.6 1990.2h0M1703.1 1954.4h0M1766.5 2013.4h0M1618.1 2006.3h0M1768.6 2017.7h0M1681.8 1954.9h0M1766.5 1978.8h0M1670.3 1954h0M1550 2032.7h0M1617.9 1990.5h0M1633.7 1947.5h0M1654.6 2051.8h0M1692.7 2000.1h0M1579.3 1918.9h0M1454.7 2087.1h0M1729.7 1975.1h0M1652.4 1972.9h0M1676.9 2024.6h0M1755.8 1991.2h0M1660.2 2011.5h0M1716.2 2054.2h0M1628.2 2028.2h0M1648.6 2000.2h0M1787.1 1958.8h0M1686.1 2070.5h0M1672.6 1929.3h0M1678.4 1941.6h0M1636.7 2068.7h0M1709.5 1923h0M1724.6 1991.6h0M1772.4 2000.4h0M1624.7 1986h0M1656.4 1908.4h0M1596.7 2048.4h0M1802.6 2008.3h0M1628.6 1996.9h0M1671.1 1996.2h0M1646.2 2063.5h0M1646.4 1950h0M1568 1998.1h0M1638.6 2001.4h0M1611 2016.2h0M1756.2 1990.5h0M1571.3 2055.5h0M1650 2074.3h0M1665.7 1994.8h0M1638.4 1987.5h0M1669.7 2013.3h0M1810.5 1988.5h0M1602.7 1988h0M1696.5 2023.5h0M1683.9 2082.7h0M1662.2 1941.1h0M1710.7 1909.9h0M1581.8 2093h0M1638.2 2072.4h0M1628.5 2085.1h0M1634 2006.6h0M1603.1 2009h0M1690.6 1962.5h0M1771.4 1964.7h0M1687.2 1997.3h0M1753.9 1937.7h0M1804.5 2043.8h0M1615.3 1933.5h0M1566.1 2015h0M1562.9 1957.5h0M1710.2 1954.5h0M1727.5 1992.5h0M1527.3 2121.3h0M1672.3 2030.6h0M1716.7 1871h0M1679.3 2067.7h0M1789.9 1991.3h0M1793.3 1910.5h0M1578.7 2003.4h0M1698.9 2023h0M1849.5 1987.5h0M1734.9 2077.9h0M1667 1936.4h0M1665.9 1850h0M1666.7 2217h0M1666.8 1882.9h0M1667.5 1851.4h0M1666.8 1892.1h0M1667.8 2058.1h0M1666.7 1905.4h0M1665.1 2150.5h0M1665.2 1883.9h0M1667.1 2023.6h0M1666.6 2030.3h0M1666.4 1882.5h0M1665.9 1874.6h0M1667.1 1946.3h0M1667.3 2048.3h0M1666.8 2053.5h0M1665.8 2060.2h0M1667.9 1971.6h0M1667.9 1916.7h0M1668.2 1892.5h0M1667.6 2011.1h0M1646.7 1997.6h0M1572.3 1996h0M1738.8 1998.4h0M1864.9 1997.8h0M1711 1996.5h0M1553.5 1995.1h0M1760.1 1995.9h0M1638.7 1996.3h0M1482.6 1997.9h0M1635.9 1995.5h0M1643.6 1996.6h0M1466.1 1996.1h0M1543.5 1996.1h0M1736.2 1997h0M1772.8 1996.9h0M1603.8 1996.9h0M1778.1 1997h0M1644.3 1997.2h0" fill="none" stroke="#000" stroke-width="4.5" stroke-linecap="round" stroke-opacity="0.43"/>
<line x1="1435" y1="2048.6" x2="1904.1" y2="1943.5" stroke="#3B53A4" stroke-width="6"/>
<line x1="1435" y1="2036.9" x2="1904.1" y2="1955.5" stroke="#EC1C24" stroke-width="6"/>
<ellipse cx="1672.1" cy="1992.8" rx="27" ry="19.3" fill="#24102F" fill-opacity="0.8" transform="rotate(-20 1672.1 1992.8)"/>
<ellipse cx="1672.1" cy="1992.8" rx="20.6" ry="14.8" fill="#3B1C5A" fill-opacity="0.8" transform="rotate(-20 1672.1 1992.8)"/>
<ellipse cx="1672.1" cy="1992.8" rx="16.2" ry="11.7" fill="#3E3A78" fill-opacity="0.8" transform="rotate(-20 1672.1 1992.8)"/>
<ellipse cx="1672.1" cy="1992.8" rx="12.6" ry="9" fill="#2F6B8E" fill-opacity="0.8" transform="rotate(-20 1672.1 1992.8)"/>
<ellipse cx="1672.1" cy="1992.8" rx="9" ry="6.5" fill="#21918C" fill-opacity="0.8" transform="rotate(-20 1672.1 1992.8)"/>
<ellipse cx="1672.1" cy="1992.8" rx="5.8" ry="4" fill="#5EC962" fill-opacity="0.8" transform="rotate(-20 1672.1 1992.8)"/>
<ellipse cx="1672.1" cy="1992.8" rx="2.7" ry="1.8" fill="#D8E219" fill-opacity="0.8" transform="rotate(-20 1672.1 1992.8)"/>
<line x1="1666.7" y1="1761.5" x2="1666.7" y2="2242.2" stroke="#000" stroke-width="3.9"/>
<line x1="1412.6" y1="1996.7" x2="1927.4" y2="1996.7" stroke="#000" stroke-width="3.9"/>
<line x1="1412.6" y1="2180.3" x2="1927.4" y2="1808.3" stroke="#000" stroke-width="3.6"/>
<rect x="1412.6" y="1761.5" width="514.8" height="480.7" fill="none" stroke="#333" stroke-width="3.4"/>
<line x1="1401.8" y1="2161.7" x2="1411" y2="2161.7" stroke="#333" stroke-width="3"/>
<text x="1393.5" y="2171.1" font-size="26.3" text-anchor="end" fill="#4D4D4D">−10</text>
<line x1="1438.4" y1="2243.8" x2="1438.4" y2="2252.8" stroke="#333" stroke-width="3"/>
<text x="1434.9" y="2279.6" font-size="26.3" text-anchor="middle" fill="#4D4D4D">−10</text>
<line x1="1401.8" y1="2079.2" x2="1411" y2="2079.2" stroke="#333" stroke-width="3"/>
<text x="1393.5" y="2088.6" font-size="26.3" text-anchor="end" fill="#4D4D4D">−5</text>
<line x1="1552.5" y1="2243.8" x2="1552.5" y2="2252.8" stroke="#333" stroke-width="3"/>
<text x="1549" y="2279.6" font-size="26.3" text-anchor="middle" fill="#4D4D4D">−5</text>
<line x1="1401.8" y1="1996.7" x2="1411" y2="1996.7" stroke="#333" stroke-width="3"/>
<text x="1393.5" y="2006.1" font-size="26.3" text-anchor="end" fill="#4D4D4D">0</text>
<line x1="1666.7" y1="2243.8" x2="1666.7" y2="2252.8" stroke="#333" stroke-width="3"/>
<text x="1666.7" y="2279.6" font-size="26.3" text-anchor="middle" fill="#4D4D4D">0</text>
<line x1="1401.8" y1="1914.2" x2="1411" y2="1914.2" stroke="#333" stroke-width="3"/>
<text x="1393.5" y="1923.6" font-size="26.3" text-anchor="end" fill="#4D4D4D">5</text>
<line x1="1780.9" y1="2243.8" x2="1780.9" y2="2252.8" stroke="#333" stroke-width="3"/>
<text x="1780.9" y="2279.6" font-size="26.3" text-anchor="middle" fill="#4D4D4D">5</text>
<line x1="1401.8" y1="1831.7" x2="1411" y2="1831.7" stroke="#333" stroke-width="3"/>
<text x="1393.5" y="1841.1" font-size="26.3" text-anchor="end" fill="#4D4D4D">10</text>
<line x1="1895" y1="2243.8" x2="1895" y2="2252.8" stroke="#333" stroke-width="3"/>
<text x="1895" y="2279.6" font-size="26.3" text-anchor="middle" fill="#4D4D4D">10</text>
<text x="1669.7" y="2314" font-size="26.4" text-anchor="middle" fill="#231F20">Tumor vs Colon LFC</text>
<text transform="translate(1333 2003.8) rotate(-90)" font-size="26.4" text-anchor="middle" fill="#231F20">Tumoroid vs Colonoid LFC</text>
<text x="1327.2" y="1744.6" font-size="23.1" fill="#231F20" text-decoration="underline">N=3068</text>
<text x="1998.4" y="1744.6" font-size="23.1" text-anchor="end" fill="#231F20" text-decoration="underline">N=7925</text>
<text x="1327.2" y="2278.4" font-size="23.1" fill="#231F20" text-decoration="underline">N=3162</text>
<text x="1998.4" y="2278.4" font-size="23.1" text-anchor="end" fill="#231F20" text-decoration="underline">N=3568</text>
<g font-size="19.9" fill="#231F20">
<text x="1881.7" y="1789.8">IGF2</text>
<text x="1811" y="1824.1">CST1</text>
<text x="1798.9" y="1851.2">NR2F1</text>
<text x="1769.4" y="1888.3">XXbac−BPG32J3.19</text>
<text x="1413.3" y="2093.9">GCG</text>
<text x="1469" y="2089">NUPR2</text>
<text x="1499.3" y="2157.3">PYY</text>
</g>
<text x="1431.6" y="1796.4" font-size="22.9" fill="#3850A2">Coef<tspan font-size="13.5" dy="7.5">allg</tspan><tspan dy="-7.5"> = 0.31</tspan></text>
<text x="1431.6" y="1829.4" font-size="22.9" fill="#E8192B">Coef<tspan font-size="13.5" dy="7.1">rl</tspan><tspan dy="-7.1"> = 0.24</tspan></text>
<path d="M1580.9 1785.1H1585.9V1821.6H1580.9" fill="none" stroke="#000" stroke-width="1.4"/>
<text x="1597.9" y="1813.5" font-size="21" text-anchor="middle" fill="#231F20">*</text>
</g>
<g id="panel-labels"><text x="43" y="38.6" font-size="40.2" font-weight="bold" fill="#231F20">A</text><text x="1206.8" y="34" font-size="40.2" font-weight="bold" fill="#231F20">B</text><text x="43" y="954.4" font-size="40.2" font-weight="bold" fill="#231F20">C</text><text x="1110.3" y="953.9" font-size="40.2" font-weight="bold" fill="#231F20">D</text><text x="43.1" y="1676.9" font-size="40.2" font-weight="bold" fill="#231F20">E</text><text x="627.1" y="1676.8" font-size="40.2" font-weight="bold" fill="#231F20">F</text><text x="1315.5" y="1676.9" font-size="40.2" font-weight="bold" fill="#231F20">G</text></g>
</svg>
</body></html>
